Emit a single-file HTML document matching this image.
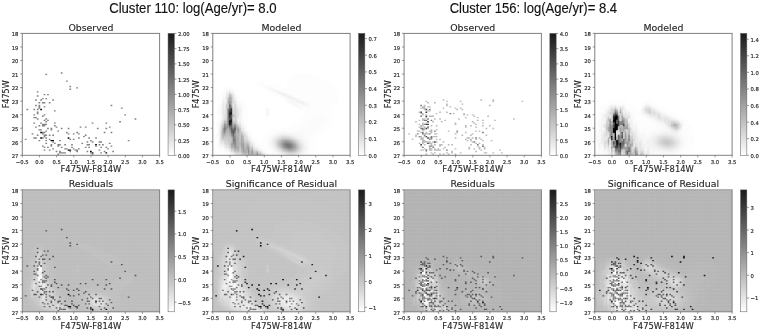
<!DOCTYPE html>
<html lang="en"><head><meta charset="utf-8"><title>CMD fits</title>
<style>html,body{margin:0;padding:0;background:#fff}svg{display:block;filter:blur(.42px)}</style></head>
<body>
<svg width="760" height="331" viewBox="0 0 760 331">
<defs>
<linearGradient id="cb" x1="0" y1="0" x2="0" y2="1"><stop offset="0" stop-color="#1a1a1a"/><stop offset="1" stop-color="#fff"/></linearGradient>
<pattern id="grid" width="1.72" height="1.36" patternUnits="userSpaceOnUse"><path d="M0 0H1.72M0 0V1.36" stroke="#fff" stroke-opacity=".22" stroke-width=".35" fill="none"/></pattern>
</defs>
<rect width="760" height="331" fill="#fff"/>
<text x="192.9" y="12.7" font-size="14.6" text-anchor="middle" font-family="'Liberation Sans', 'Liberation Sans', sans-serif" fill="#111" stroke="#111" stroke-width=".14" textLength="167.5" lengthAdjust="spacingAndGlyphs">Cluster 110: log(Age/yr)= 8.0</text>
<text x="533.4" y="12.7" font-size="14.6" text-anchor="middle" font-family="'Liberation Sans', 'Liberation Sans', sans-serif" fill="#111" stroke="#111" stroke-width=".14" textLength="167.5" lengthAdjust="spacingAndGlyphs">Cluster 156: log(Age/yr)= 8.4</text>
<g>
<clipPath id="c00"><rect x="22.3" y="33.4" width="137.3" height="121.9"/></clipPath>
<g clip-path="url(#c00)">
<path fill="#000000" d="M40.22 108.85h1.72v1.35h-1.72zM40.22 131.87h1.72v1.35h-1.72zM40.22 137.29h1.72v1.35h-1.72zM50.52 140h1.72v1.35h-1.72zM52.23 140h1.72v1.35h-1.72zM67.68 137.29h1.72v1.35h-1.72zM67.68 149.48h1.72v1.35h-1.72zM69.4 149.48h1.72v1.35h-1.72zM89.99 150.84h1.72v1.35h-1.72zM91.71 152.19h1.72v1.35h-1.72zM95.14 144.06h1.72v1.35h-1.72zM105.44 152.19h1.72v1.35h-1.72z"/>
<path fill="#828282" d="M24.77 138.65h1.72v1.35h-1.72zM26.49 108.85h1.72v1.35h-1.72zM31.64 133.23h1.72v1.35h-1.72zM33.36 108.85h1.72v1.35h-1.72zM33.36 114.27h1.72v1.35h-1.72zM33.36 116.98h1.72v1.35h-1.72zM33.36 122.39h1.72v1.35h-1.72zM33.36 137.29h1.72v1.35h-1.72zM35.07 99.37h1.72v1.35h-1.72zM35.07 104.79h1.72v1.35h-1.72zM35.07 116.98h1.72v1.35h-1.72zM35.07 126.46h1.72v1.35h-1.72zM35.07 137.29h1.72v1.35h-1.72zM36.79 91.24h1.72v1.35h-1.72zM36.79 95.3h1.72v1.35h-1.72zM36.79 108.85h1.72v1.35h-1.72zM36.79 111.56h1.72v2.71h-1.72zM36.79 118.33h1.72v1.35h-1.72zM36.79 134.58h1.72v1.35h-1.72zM38.5 102.08h1.72v1.35h-1.72zM38.5 104.79h1.72v4.06h-1.72zM38.5 125.1h1.72v1.35h-1.72zM38.5 129.17h1.72v1.35h-1.72zM38.5 140h1.72v1.35h-1.72zM40.22 99.37h1.72v1.35h-1.72zM40.22 122.39h1.72v1.35h-1.72zM40.22 129.17h1.72v1.35h-1.72zM41.94 98.01h1.72v1.35h-1.72zM41.94 102.08h1.72v1.35h-1.72zM41.94 115.62h1.72v1.35h-1.72zM41.94 123.75h1.72v2.71h-1.72zM41.94 131.87h1.72v2.71h-1.72zM41.94 137.29h1.72v1.35h-1.72zM41.94 145.42h1.72v1.35h-1.72zM43.65 93.95h1.72v1.35h-1.72zM43.65 102.08h1.72v1.35h-1.72zM43.65 106.14h1.72v1.35h-1.72zM43.65 114.27h1.72v1.35h-1.72zM43.65 119.68h1.72v1.35h-1.72zM43.65 123.75h1.72v2.71h-1.72zM43.65 131.87h1.72v1.35h-1.72zM43.65 134.58h1.72v2.71h-1.72zM43.65 146.77h1.72v1.35h-1.72zM43.65 149.48h1.72v1.35h-1.72zM45.37 73.63h1.72v1.35h-1.72zM45.37 98.01h1.72v1.35h-1.72zM45.37 118.33h1.72v1.35h-1.72zM45.37 121.04h1.72v1.35h-1.72zM45.37 123.75h1.72v1.35h-1.72zM45.37 130.52h1.72v1.35h-1.72zM45.37 134.58h1.72v1.35h-1.72zM45.37 137.29h1.72v1.35h-1.72zM45.37 140h1.72v1.35h-1.72zM45.37 142.71h1.72v1.35h-1.72zM47.09 93.95h1.72v1.35h-1.72zM47.09 119.68h1.72v1.35h-1.72zM47.09 127.81h1.72v1.35h-1.72zM47.09 146.77h1.72v1.35h-1.72zM48.8 102.08h1.72v1.35h-1.72zM48.8 134.58h1.72v1.35h-1.72zM48.8 138.65h1.72v1.35h-1.72zM48.8 149.48h1.72v1.35h-1.72zM50.52 127.81h1.72v2.71h-1.72zM50.52 144.06h1.72v2.71h-1.72zM52.23 99.37h1.72v1.35h-1.72zM52.23 134.58h1.72v1.35h-1.72zM52.23 141.36h1.72v1.35h-1.72zM52.23 148.13h1.72v1.35h-1.72zM53.95 110.2h1.72v1.35h-1.72zM53.95 122.39h1.72v1.35h-1.72zM53.95 125.1h1.72v1.35h-1.72zM53.95 142.71h1.72v1.35h-1.72zM55.67 126.46h1.72v1.35h-1.72zM55.67 150.84h1.72v1.35h-1.72zM57.38 130.52h1.72v1.35h-1.72zM57.38 144.06h1.72v2.71h-1.72zM57.38 153.55h1.72v1.35h-1.72zM59.1 140h1.72v1.35h-1.72zM59.1 144.06h1.72v1.35h-1.72zM59.1 150.84h1.72v2.71h-1.72zM60.82 72.28h1.72v1.35h-1.72zM60.82 127.81h1.72v1.35h-1.72zM60.82 146.77h1.72v1.35h-1.72zM60.82 152.19h1.72v1.35h-1.72zM62.53 152.19h1.72v1.35h-1.72zM64.25 144.06h1.72v1.35h-1.72zM64.25 148.13h1.72v1.35h-1.72zM64.25 152.19h1.72v1.35h-1.72zM65.96 80.41h1.72v1.35h-1.72zM65.96 131.87h1.72v1.35h-1.72zM65.96 148.13h1.72v1.35h-1.72zM67.68 127.81h1.72v1.35h-1.72zM67.68 133.23h1.72v1.35h-1.72zM69.4 85.82h1.72v1.35h-1.72zM69.4 88.53h1.72v1.35h-1.72zM69.4 138.65h1.72v1.35h-1.72zM69.4 150.84h1.72v1.35h-1.72zM71.11 144.06h1.72v1.35h-1.72zM71.11 146.77h1.72v1.35h-1.72zM72.83 133.23h1.72v1.35h-1.72zM72.83 138.65h1.72v1.35h-1.72zM72.83 148.13h1.72v1.35h-1.72zM74.55 149.48h1.72v1.35h-1.72zM76.26 87.18h1.72v1.35h-1.72zM76.26 131.87h1.72v1.35h-1.72zM76.26 149.48h1.72v2.71h-1.72zM77.98 133.23h1.72v1.35h-1.72zM77.98 137.29h1.72v1.35h-1.72zM77.98 148.13h1.72v1.35h-1.72zM79.69 126.46h1.72v1.35h-1.72zM81.41 142.71h1.72v1.35h-1.72zM83.13 135.94h1.72v1.35h-1.72zM84.84 126.46h1.72v1.35h-1.72zM84.84 134.58h1.72v1.35h-1.72zM84.84 146.77h1.72v1.35h-1.72zM86.56 141.36h1.72v1.35h-1.72zM86.56 144.06h1.72v1.35h-1.72zM86.56 150.84h1.72v1.35h-1.72zM88.28 137.29h1.72v1.35h-1.72zM88.28 144.06h1.72v1.35h-1.72zM88.28 146.77h1.72v1.35h-1.72zM89.99 140h1.72v1.35h-1.72zM89.99 152.19h1.72v1.35h-1.72zM91.71 122.39h1.72v1.35h-1.72zM91.71 141.36h1.72v1.35h-1.72zM91.71 153.55h1.72v1.35h-1.72zM95.14 137.29h1.72v1.35h-1.72zM95.14 145.42h1.72v1.35h-1.72zM96.86 127.81h1.72v1.35h-1.72zM98.57 141.36h1.72v1.35h-1.72zM98.57 144.06h1.72v1.35h-1.72zM98.57 149.48h1.72v1.35h-1.72zM100.29 141.36h1.72v1.35h-1.72zM100.29 146.77h1.72v1.35h-1.72zM100.29 152.19h1.72v1.35h-1.72zM102.01 144.06h1.72v1.35h-1.72zM103.72 131.87h1.72v1.35h-1.72zM103.72 150.84h1.72v1.35h-1.72zM105.44 122.39h1.72v1.35h-1.72zM105.44 127.81h1.72v1.35h-1.72zM105.44 146.77h1.72v1.35h-1.72zM107.15 148.13h1.72v1.35h-1.72zM108.87 126.46h1.72v1.35h-1.72zM108.87 142.71h1.72v1.35h-1.72zM110.59 104.79h1.72v1.35h-1.72zM110.59 131.87h1.72v1.35h-1.72zM110.59 145.42h1.72v1.35h-1.72zM112.3 150.84h1.72v1.35h-1.72zM119.17 121.04h1.72v1.35h-1.72zM120.88 107.49h1.72v1.35h-1.72zM124.32 114.27h1.72v1.35h-1.72zM127.75 140h1.72v1.35h-1.72zM134.61 118.33h1.72v1.35h-1.72z"/>
</g>
<rect x="22.3" y="33.4" width="137.3" height="121.9" fill="none" stroke="#808080" stroke-width="1"/>
<text x="22.3" y="163.6" font-size="5.3" text-anchor="middle" font-family="'DejaVu Sans', 'Liberation Sans', sans-serif" fill="#262626" stroke="#262626" stroke-width=".14">−0.5</text>
<text x="39.46" y="163.6" font-size="5.3" text-anchor="middle" font-family="'DejaVu Sans', 'Liberation Sans', sans-serif" fill="#262626" stroke="#262626" stroke-width=".14">0.0</text>
<text x="56.62" y="163.6" font-size="5.3" text-anchor="middle" font-family="'DejaVu Sans', 'Liberation Sans', sans-serif" fill="#262626" stroke="#262626" stroke-width=".14">0.5</text>
<text x="73.79" y="163.6" font-size="5.3" text-anchor="middle" font-family="'DejaVu Sans', 'Liberation Sans', sans-serif" fill="#262626" stroke="#262626" stroke-width=".14">1.0</text>
<text x="90.95" y="163.6" font-size="5.3" text-anchor="middle" font-family="'DejaVu Sans', 'Liberation Sans', sans-serif" fill="#262626" stroke="#262626" stroke-width=".14">1.5</text>
<text x="108.11" y="163.6" font-size="5.3" text-anchor="middle" font-family="'DejaVu Sans', 'Liberation Sans', sans-serif" fill="#262626" stroke="#262626" stroke-width=".14">2.0</text>
<text x="125.28" y="163.6" font-size="5.3" text-anchor="middle" font-family="'DejaVu Sans', 'Liberation Sans', sans-serif" fill="#262626" stroke="#262626" stroke-width=".14">2.5</text>
<text x="142.44" y="163.6" font-size="5.3" text-anchor="middle" font-family="'DejaVu Sans', 'Liberation Sans', sans-serif" fill="#262626" stroke="#262626" stroke-width=".14">3.0</text>
<text x="159.6" y="163.6" font-size="5.3" text-anchor="middle" font-family="'DejaVu Sans', 'Liberation Sans', sans-serif" fill="#262626" stroke="#262626" stroke-width=".14">3.5</text>
<text x="18.4" y="36.25" font-size="5.3" text-anchor="end" font-family="'DejaVu Sans', 'Liberation Sans', sans-serif" fill="#262626" stroke="#262626" stroke-width=".14">18</text>
<text x="18.4" y="49.79" font-size="5.3" text-anchor="end" font-family="'DejaVu Sans', 'Liberation Sans', sans-serif" fill="#262626" stroke="#262626" stroke-width=".14">19</text>
<text x="18.4" y="63.34" font-size="5.3" text-anchor="end" font-family="'DejaVu Sans', 'Liberation Sans', sans-serif" fill="#262626" stroke="#262626" stroke-width=".14">20</text>
<text x="18.4" y="76.88" font-size="5.3" text-anchor="end" font-family="'DejaVu Sans', 'Liberation Sans', sans-serif" fill="#262626" stroke="#262626" stroke-width=".14">21</text>
<text x="18.4" y="90.43" font-size="5.3" text-anchor="end" font-family="'DejaVu Sans', 'Liberation Sans', sans-serif" fill="#262626" stroke="#262626" stroke-width=".14">22</text>
<text x="18.4" y="103.97" font-size="5.3" text-anchor="end" font-family="'DejaVu Sans', 'Liberation Sans', sans-serif" fill="#262626" stroke="#262626" stroke-width=".14">23</text>
<text x="18.4" y="117.52" font-size="5.3" text-anchor="end" font-family="'DejaVu Sans', 'Liberation Sans', sans-serif" fill="#262626" stroke="#262626" stroke-width=".14">24</text>
<text x="18.4" y="131.06" font-size="5.3" text-anchor="end" font-family="'DejaVu Sans', 'Liberation Sans', sans-serif" fill="#262626" stroke="#262626" stroke-width=".14">25</text>
<text x="18.4" y="144.61" font-size="5.3" text-anchor="end" font-family="'DejaVu Sans', 'Liberation Sans', sans-serif" fill="#262626" stroke="#262626" stroke-width=".14">26</text>
<text x="18.4" y="158.15" font-size="5.3" text-anchor="end" font-family="'DejaVu Sans', 'Liberation Sans', sans-serif" fill="#262626" stroke="#262626" stroke-width=".14">27</text>
<path d="M22.3 155.3v2.1M39.46 155.3v2.1M56.62 155.3v2.1M73.79 155.3v2.1M90.95 155.3v2.1M108.11 155.3v2.1M125.28 155.3v2.1M142.44 155.3v2.1M159.6 155.3v2.1M22.3 33.4h-2.1M22.3 46.94h-2.1M22.3 60.49h-2.1M22.3 74.03h-2.1M22.3 87.58h-2.1M22.3 101.12h-2.1M22.3 114.67h-2.1M22.3 128.21h-2.1M22.3 141.76h-2.1M22.3 155.3h-2.1" stroke="#585858" stroke-width=".6" fill="none"/>
<text x="90.95" y="30.5" font-size="9.4" text-anchor="middle" font-family="'DejaVu Sans', 'Liberation Sans', sans-serif" fill="#262626" stroke="#262626" stroke-width=".14">Observed</text>
<text x="90.95" y="172.3" font-size="8.4" text-anchor="middle" font-family="'DejaVu Sans', 'Liberation Sans', sans-serif" fill="#262626" stroke="#262626" stroke-width=".14">F475W-F814W</text>
<text transform="translate(8.9 94.35) rotate(-90)" font-size="8.0" text-anchor="middle" font-family="'DejaVu Sans', 'Liberation Sans', sans-serif" fill="#262626" stroke="#262626" stroke-width=".14">F475W</text>
<rect x="168.05" y="33.4" width="6.3" height="121.9" fill="url(#cb)" stroke="#585858" stroke-width=".5"/>
<text x="177.95" y="157.8" font-size="5.3" text-anchor="start" font-family="'DejaVu Sans', 'Liberation Sans', sans-serif" fill="#262626" stroke="#262626" stroke-width=".14">0.00</text>
<text x="177.95" y="142.56" font-size="5.3" text-anchor="start" font-family="'DejaVu Sans', 'Liberation Sans', sans-serif" fill="#262626" stroke="#262626" stroke-width=".14">0.25</text>
<text x="177.95" y="127.33" font-size="5.3" text-anchor="start" font-family="'DejaVu Sans', 'Liberation Sans', sans-serif" fill="#262626" stroke="#262626" stroke-width=".14">0.50</text>
<text x="177.95" y="112.09" font-size="5.3" text-anchor="start" font-family="'DejaVu Sans', 'Liberation Sans', sans-serif" fill="#262626" stroke="#262626" stroke-width=".14">0.75</text>
<text x="177.95" y="96.85" font-size="5.3" text-anchor="start" font-family="'DejaVu Sans', 'Liberation Sans', sans-serif" fill="#262626" stroke="#262626" stroke-width=".14">1.00</text>
<text x="177.95" y="81.61" font-size="5.3" text-anchor="start" font-family="'DejaVu Sans', 'Liberation Sans', sans-serif" fill="#262626" stroke="#262626" stroke-width=".14">1.25</text>
<text x="177.95" y="66.38" font-size="5.3" text-anchor="start" font-family="'DejaVu Sans', 'Liberation Sans', sans-serif" fill="#262626" stroke="#262626" stroke-width=".14">1.50</text>
<text x="177.95" y="51.14" font-size="5.3" text-anchor="start" font-family="'DejaVu Sans', 'Liberation Sans', sans-serif" fill="#262626" stroke="#262626" stroke-width=".14">1.75</text>
<text x="177.95" y="35.9" font-size="5.3" text-anchor="start" font-family="'DejaVu Sans', 'Liberation Sans', sans-serif" fill="#262626" stroke="#262626" stroke-width=".14">2.00</text>
<path d="M174.35 155.3h2.1M174.35 140.06h2.1M174.35 124.83h2.1M174.35 109.59h2.1M174.35 94.35h2.1M174.35 79.11h2.1M174.35 63.88h2.1M174.35 48.64h2.1M174.35 33.4h2.1" stroke="#585858" stroke-width=".6" fill="none"/>
</g>
<g>
<clipPath id="c10"><rect x="212.8" y="33.4" width="137.3" height="121.9"/></clipPath>
<g clip-path="url(#c10)">
<defs><g id="sc10">
<path fill="#060606" stroke="#060606" d="M229 122.39h1.72v1.35h-1.72z"/>
<path fill="#0c0c0c" stroke="#0c0c0c" d="M229 121.04h1.72v1.35h-1.72z"/>
<path fill="#1a1a1a" stroke="#1a1a1a" d="M230.72 111.56h1.72v2.71h-1.72z"/>
<path fill="#1e1e1e" stroke="#1e1e1e" d="M230.72 119.68h1.72v1.35h-1.72z"/>
<path fill="#202020" stroke="#202020" d="M229 114.27h1.72v1.35h-1.72zM229 123.75h1.72v1.35h-1.72zM230.72 110.2h1.72v1.35h-1.72z"/>
<path fill="#222222" stroke="#222222" d="M229 112.91h1.72v1.35h-1.72z"/>
<path fill="#262626" stroke="#262626" d="M230.72 121.04h1.72v1.35h-1.72z"/>
<path fill="#2c2c2c" stroke="#2c2c2c" d="M229 115.62h1.72v1.35h-1.72z"/>
<path fill="#2e2e2e" stroke="#2e2e2e" d="M229 111.56h1.72v1.35h-1.72zM230.72 108.85h1.72v1.35h-1.72zM230.72 114.27h1.72v1.35h-1.72zM230.72 118.33h1.72v1.35h-1.72z"/>
<path fill="#303030" stroke="#303030" d="M229 119.68h1.72v1.35h-1.72z"/>
<path fill="#323232" stroke="#323232" d="M230.72 122.39h1.72v1.35h-1.72z"/>
<path fill="#444444" stroke="#444444" d="M229 110.2h1.72v1.35h-1.72zM229 116.98h1.72v1.35h-1.72z"/>
<path fill="#484848" stroke="#484848" d="M230.72 123.75h1.72v1.35h-1.72z"/>
<path fill="#4a4a4a" stroke="#4a4a4a" d="M229 125.1h1.72v1.35h-1.72z"/>
<path fill="#4c4c4c" stroke="#4c4c4c" d="M229 118.33h1.72v1.35h-1.72z"/>
<path fill="#525252" stroke="#525252" d="M230.72 107.49h1.72v1.35h-1.72zM230.72 129.17h1.72v1.35h-1.72z"/>
<path fill="#545454" stroke="#545454" d="M229 108.85h1.72v1.35h-1.72zM234.15 127.81h1.72v1.35h-1.72z"/>
<path fill="#565656" stroke="#565656" d="M232.44 131.87h1.72v1.35h-1.72zM234.15 129.17h1.72v1.35h-1.72z"/>
<path fill="#585858" stroke="#585858" d="M230.72 116.98h1.72v1.35h-1.72zM232.44 130.52h1.72v1.35h-1.72zM232.44 133.23h1.72v1.35h-1.72z"/>
<path fill="#5a5a5a" stroke="#5a5a5a" d="M230.72 115.62h1.72v1.35h-1.72z"/>
<path fill="#5c5c5c" stroke="#5c5c5c" d="M230.72 130.52h1.72v1.35h-1.72z"/>
<path fill="#5e5e5e" stroke="#5e5e5e" d="M230.72 125.1h1.72v1.35h-1.72zM230.72 127.81h1.72v1.35h-1.72z"/>
<path fill="#606060" stroke="#606060" d="M229 104.79h1.72v1.35h-1.72zM229 107.49h1.72v1.35h-1.72z"/>
<path fill="#626262" stroke="#626262" d="M229 106.14h1.72v1.35h-1.72z"/>
<path fill="#646464" stroke="#646464" d="M230.72 126.46h1.72v1.35h-1.72zM232.44 129.17h1.72v1.35h-1.72z"/>
<path fill="#666666" stroke="#666666" d="M232.44 134.58h1.72v1.35h-1.72zM234.15 126.46h1.72v1.35h-1.72z"/>
<path fill="#686868" stroke="#686868" d="M234.15 130.52h1.72v1.35h-1.72z"/>
<path fill="#6e6e6e" stroke="#6e6e6e" d="M229 126.46h1.72v1.35h-1.72z"/>
<path fill="#707070" stroke="#707070" d="M230.72 131.87h1.72v1.35h-1.72z"/>
<path fill="#727272" stroke="#727272" d="M229 103.43h1.72v1.35h-1.72zM232.44 135.94h1.72v1.35h-1.72z"/>
<path fill="#747474" stroke="#747474" d="M227.29 110.2h1.72v4.06h-1.72zM227.29 119.68h1.72v1.35h-1.72zM287.36 145.42h1.72v1.35h-1.72z"/>
<path fill="#767676" stroke="#767676" d="M227.29 114.27h1.72v5.42h-1.72zM227.29 121.04h1.72v1.35h-1.72zM287.36 144.06h1.72v1.35h-1.72z"/>
<path fill="#787878" stroke="#787878" d="M232.44 137.29h1.72v1.35h-1.72zM285.64 144.06h1.72v2.71h-1.72zM289.07 145.42h1.72v1.35h-1.72z"/>
<path fill="#7a7a7a" stroke="#7a7a7a" d="M223.86 127.81h1.72v2.71h-1.72zM227.29 122.39h1.72v1.35h-1.72zM234.15 131.87h1.72v1.35h-1.72zM289.07 144.06h1.72v1.35h-1.72z"/>
<path fill="#7c7c7c" stroke="#7c7c7c" d="M232.44 138.65h1.72v1.35h-1.72z"/>
<path fill="#7e7e7e" stroke="#7e7e7e" d="M232.44 140h1.72v1.35h-1.72zM234.15 138.65h1.72v2.71h-1.72zM287.36 146.77h1.72v1.35h-1.72zM289.07 146.77h1.72v1.35h-1.72z"/>
<path fill="#818181" stroke="#818181" d="M223.86 126.46h1.72v1.35h-1.72zM223.86 130.52h1.72v1.35h-1.72zM232.44 127.81h1.72v1.35h-1.72zM234.15 141.36h1.72v1.35h-1.72zM285.64 142.71h1.72v1.35h-1.72zM287.36 142.71h1.72v1.35h-1.72z"/>
<path fill="#838383" stroke="#838383" d="M227.29 108.85h1.72v1.35h-1.72zM227.29 123.75h1.72v1.35h-1.72zM230.72 133.23h1.72v1.35h-1.72zM256.46 153.55h1.72v1.35h-1.72zM283.92 144.06h1.72v1.35h-1.72zM290.79 145.42h1.72v1.35h-1.72z"/>
<path fill="#858585" stroke="#858585" d="M229 127.81h1.72v1.35h-1.72zM232.44 141.36h1.72v1.35h-1.72zM234.15 125.1h1.72v1.35h-1.72zM234.15 142.71h1.72v1.35h-1.72zM283.92 145.42h1.72v1.35h-1.72zM285.64 146.77h1.72v1.35h-1.72z"/>
<path fill="#878787" stroke="#878787" d="M230.72 106.14h1.72v1.35h-1.72zM234.15 137.29h1.72v1.35h-1.72zM283.92 142.71h1.72v1.35h-1.72zM289.07 142.71h1.72v1.35h-1.72zM290.79 144.06h1.72v1.35h-1.72zM290.79 146.77h1.72v1.35h-1.72z"/>
<path fill="#8b8b8b" stroke="#8b8b8b" d="M223.86 125.1h1.72v1.35h-1.72zM223.86 131.87h1.72v1.35h-1.72zM227.29 125.1h1.72v1.35h-1.72zM234.15 144.06h1.72v1.35h-1.72z"/>
<path fill="#8d8d8d" stroke="#8d8d8d" d="M234.15 133.23h1.72v1.35h-1.72zM247.88 149.48h1.72v2.71h-1.72zM289.07 148.13h1.72v1.35h-1.72z"/>
<path fill="#8f8f8f" stroke="#8f8f8f" d="M232.44 142.71h1.72v1.35h-1.72zM234.15 145.42h1.72v1.35h-1.72zM287.36 148.13h1.72v1.35h-1.72z"/>
<path fill="#919191" stroke="#919191" d="M225.57 127.81h1.72v1.35h-1.72zM229 102.08h1.72v1.35h-1.72zM229 129.17h1.72v1.35h-1.72zM247.88 152.19h1.72v1.35h-1.72zM282.21 144.06h1.72v1.35h-1.72zM283.92 146.77h1.72v1.35h-1.72zM285.64 141.36h1.72v1.35h-1.72zM287.36 141.36h1.72v1.35h-1.72zM292.51 145.42h1.72v1.35h-1.72z"/>
<path fill="#939393" stroke="#939393" d="M230.72 134.58h1.72v1.35h-1.72zM234.15 135.94h1.72v1.35h-1.72zM237.59 130.52h1.72v1.35h-1.72zM247.88 148.13h1.72v1.35h-1.72zM290.79 142.71h1.72v1.35h-1.72zM290.79 148.13h1.72v1.35h-1.72zM292.51 146.77h1.72v1.35h-1.72z"/>
<path fill="#959595" stroke="#959595" d="M225.57 126.46h1.72v1.35h-1.72zM232.44 126.46h1.72v1.35h-1.72zM237.59 129.17h1.72v1.35h-1.72zM282.21 142.71h1.72v1.35h-1.72zM283.92 141.36h1.72v1.35h-1.72z"/>
<path fill="#979797" stroke="#979797" d="M227.29 126.46h1.72v1.35h-1.72zM234.15 134.58h1.72v1.35h-1.72zM234.15 146.77h1.72v1.35h-1.72zM247.88 153.55h1.72v1.35h-1.72zM251.32 152.19h1.72v2.71h-1.72zM282.21 145.42h1.72v1.35h-1.72zM285.64 148.13h1.72v1.35h-1.72zM292.51 144.06h1.72v1.35h-1.72z"/>
<path fill="#999999" stroke="#999999" d="M223.86 123.75h1.72v1.35h-1.72zM225.57 129.17h1.72v1.35h-1.72zM242.73 145.42h1.72v2.71h-1.72zM256.46 152.19h1.72v1.35h-1.72zM289.07 141.36h1.72v1.35h-1.72z"/>
<path fill="#9b9b9b" stroke="#9b9b9b" d="M222.14 129.17h1.72v1.35h-1.72zM229 130.52h1.72v1.35h-1.72zM242.73 148.13h1.72v1.35h-1.72zM251.32 150.84h1.72v1.35h-1.72z"/>
<path fill="#9d9d9d" stroke="#9d9d9d" d="M222.14 130.52h1.72v1.35h-1.72zM223.86 133.23h1.72v1.35h-1.72zM225.57 125.1h1.72v1.35h-1.72zM232.44 144.06h1.72v1.35h-1.72zM242.73 144.06h1.72v1.35h-1.72zM247.88 146.77h1.72v1.35h-1.72zM292.51 148.13h1.72v1.35h-1.72z"/>
<path fill="#9f9f9f" stroke="#9f9f9f" d="M242.73 149.48h1.72v1.35h-1.72zM282.21 141.36h1.72v1.35h-1.72z"/>
<path fill="#a1a1a1" stroke="#a1a1a1" d="M230.72 144.06h1.72v1.35h-1.72zM232.44 125.1h1.72v1.35h-1.72zM234.15 148.13h1.72v1.35h-1.72zM237.59 131.87h1.72v1.35h-1.72zM282.21 146.77h1.72v1.35h-1.72z"/>
<path fill="#a3a3a3" stroke="#a3a3a3" d="M222.14 127.81h1.72v1.35h-1.72zM222.14 131.87h1.72v1.35h-1.72zM227.29 107.49h1.72v1.35h-1.72zM229 100.72h1.72v1.35h-1.72zM230.72 104.79h1.72v1.35h-1.72zM230.72 135.94h1.72v1.35h-1.72zM242.73 142.71h1.72v1.35h-1.72zM283.92 148.13h1.72v1.35h-1.72zM289.07 149.48h1.72v1.35h-1.72zM292.51 142.71h1.72v1.35h-1.72zM294.22 145.42h1.72v1.35h-1.72z"/>
<path fill="#a5a5a5" stroke="#a5a5a5" d="M229 96.66h1.72v1.35h-1.72zM229 131.87h1.72v1.35h-1.72zM234.15 123.75h1.72v1.35h-1.72zM237.59 148.13h1.72v1.35h-1.72zM241.02 138.65h1.72v1.35h-1.72zM241.02 144.06h1.72v2.71h-1.72zM251.32 149.48h1.72v1.35h-1.72zM280.49 142.71h1.72v2.71h-1.72zM285.64 140h1.72v1.35h-1.72zM287.36 149.48h1.72v1.35h-1.72zM290.79 141.36h1.72v1.35h-1.72zM290.79 149.48h1.72v1.35h-1.72zM294.22 146.77h1.72v1.35h-1.72z"/>
<path fill="#a7a7a7" stroke="#a7a7a7" d="M223.86 122.39h1.72v1.35h-1.72zM227.29 100.72h1.72v1.35h-1.72zM229 98.01h1.72v1.35h-1.72zM230.72 142.71h1.72v1.35h-1.72zM230.72 145.42h1.72v1.35h-1.72zM235.87 126.46h1.72v2.71h-1.72zM235.87 144.06h1.72v2.71h-1.72zM237.59 146.77h1.72v1.35h-1.72zM241.02 137.29h1.72v1.35h-1.72zM241.02 140h1.72v1.35h-1.72zM241.02 142.71h1.72v1.35h-1.72zM241.02 146.77h1.72v1.35h-1.72zM242.73 150.84h1.72v1.35h-1.72zM246.17 146.77h1.72v2.71h-1.72zM283.92 140h1.72v1.35h-1.72zM287.36 140h1.72v1.35h-1.72z"/>
<path fill="#a9a9a9" stroke="#a9a9a9" d="M225.57 123.75h1.72v1.35h-1.72zM225.57 130.52h1.72v1.35h-1.72zM227.29 127.81h1.72v1.35h-1.72zM232.44 145.42h1.72v1.35h-1.72zM235.87 137.29h1.72v2.71h-1.72zM235.87 142.71h1.72v1.35h-1.72zM237.59 127.81h1.72v1.35h-1.72zM241.02 141.36h1.72v1.35h-1.72zM244.45 150.84h1.72v2.71h-1.72zM247.88 145.42h1.72v1.35h-1.72zM280.49 145.42h1.72v1.35h-1.72zM294.22 144.06h1.72v1.35h-1.72z"/>
<path fill="#ababab" stroke="#ababab" d="M222.14 133.23h1.72v1.35h-1.72zM227.29 102.08h1.72v1.35h-1.72zM229 99.37h1.72v1.35h-1.72zM230.72 103.43h1.72v1.35h-1.72zM235.87 140h1.72v2.71h-1.72zM235.87 146.77h1.72v1.35h-1.72zM237.59 149.48h1.72v1.35h-1.72zM241.02 135.94h1.72v1.35h-1.72zM241.02 148.13h1.72v1.35h-1.72zM242.73 141.36h1.72v1.35h-1.72zM285.64 149.48h1.72v1.35h-1.72zM294.22 148.13h1.72v1.35h-1.72z"/>
<path fill="#adadad" stroke="#adadad" d="M232.44 123.75h1.72v1.35h-1.72zM235.87 129.17h1.72v1.35h-1.72zM235.87 135.94h1.72v1.35h-1.72zM237.59 133.23h1.72v1.35h-1.72zM237.59 145.42h1.72v1.35h-1.72zM246.17 145.42h1.72v1.35h-1.72zM246.17 149.48h1.72v1.35h-1.72zM280.49 141.36h1.72v1.35h-1.72zM292.51 149.48h1.72v1.35h-1.72z"/>
<path fill="#afafaf" stroke="#afafaf" d="M229 95.3h1.72v1.35h-1.72zM229 133.23h1.72v1.35h-1.72zM230.72 100.72h1.72v2.71h-1.72zM234.15 149.48h1.72v1.35h-1.72zM235.87 125.1h1.72v1.35h-1.72zM241.02 149.48h1.72v1.35h-1.72zM244.45 153.55h1.72v1.35h-1.72zM282.21 140h1.72v1.35h-1.72zM289.07 140h1.72v1.35h-1.72z"/>
<path fill="#b1b1b1" stroke="#b1b1b1" d="M222.14 134.58h1.72v1.35h-1.72zM227.29 129.17h1.72v1.35h-1.72zM230.72 99.37h1.72v1.35h-1.72zM230.72 146.77h1.72v1.35h-1.72zM235.87 148.13h1.72v1.35h-1.72zM237.59 134.58h1.72v1.35h-1.72zM237.59 137.29h1.72v5.42h-1.72zM244.45 149.48h1.72v1.35h-1.72zM282.21 148.13h1.72v1.35h-1.72z"/>
<path fill="#b3b3b3" stroke="#b3b3b3" d="M222.14 126.46h1.72v1.35h-1.72zM223.86 134.58h1.72v1.35h-1.72zM232.44 146.77h1.72v1.35h-1.72zM237.59 135.94h1.72v1.35h-1.72zM237.59 142.71h1.72v2.71h-1.72zM241.02 134.58h1.72v1.35h-1.72zM242.73 152.19h1.72v1.35h-1.72zM251.32 148.13h1.72v1.35h-1.72zM259.9 153.55h1.72v1.35h-1.72zM280.49 146.77h1.72v1.35h-1.72zM292.51 141.36h1.72v1.35h-1.72z"/>
<path fill="#b5b5b5" stroke="#b5b5b5" d="M225.57 122.39h1.72v1.35h-1.72zM225.57 131.87h1.72v1.35h-1.72zM227.29 99.37h1.72v1.35h-1.72zM227.29 130.52h1.72v1.35h-1.72zM230.72 98.01h1.72v1.35h-1.72zM230.72 137.29h1.72v1.35h-1.72zM230.72 141.36h1.72v1.35h-1.72zM235.87 130.52h1.72v1.35h-1.72zM235.87 134.58h1.72v1.35h-1.72zM239.3 142.71h1.72v2.71h-1.72zM241.02 150.84h1.72v1.35h-1.72zM246.17 144.06h1.72v1.35h-1.72zM246.17 150.84h1.72v1.35h-1.72zM254.75 153.55h1.72v1.35h-1.72zM294.22 142.71h1.72v1.35h-1.72z"/>
<path fill="#b7b7b7" stroke="#b7b7b7" d="M222.14 135.94h1.72v1.35h-1.72zM229 134.58h1.72v1.35h-1.72zM232.44 122.39h1.72v1.35h-1.72zM242.73 140h1.72v1.35h-1.72zM249.6 152.19h1.72v1.35h-1.72zM278.78 142.71h1.72v2.71h-1.72zM283.92 149.48h1.72v1.35h-1.72zM289.07 150.84h1.72v1.35h-1.72zM294.22 149.48h1.72v1.35h-1.72zM295.94 145.42h1.72v2.71h-1.72z"/>
<path fill="#b9b9b9" stroke="#b9b9b9" d="M223.86 121.04h1.72v1.35h-1.72zM225.57 133.23h1.72v1.35h-1.72zM227.29 131.87h1.72v1.35h-1.72zM232.44 115.62h1.72v1.35h-1.72zM235.87 131.87h1.72v2.71h-1.72zM237.59 150.84h1.72v1.35h-1.72zM244.45 148.13h1.72v1.35h-1.72zM246.17 152.19h1.72v1.35h-1.72zM247.88 144.06h1.72v1.35h-1.72zM249.6 150.84h1.72v1.35h-1.72zM249.6 153.55h1.72v1.35h-1.72zM256.46 150.84h1.72v1.35h-1.72zM280.49 140h1.72v1.35h-1.72zM290.79 140h1.72v1.35h-1.72zM290.79 150.84h1.72v1.35h-1.72z"/>
<path fill="#bbbbbb" stroke="#bbbbbb" d="M227.29 103.43h1.72v1.35h-1.72zM234.15 122.39h1.72v1.35h-1.72zM235.87 149.48h1.72v1.35h-1.72zM237.59 126.46h1.72v1.35h-1.72zM239.3 141.36h1.72v1.35h-1.72zM244.45 146.77h1.72v1.35h-1.72zM283.92 138.65h1.72v1.35h-1.72zM285.64 138.65h1.72v1.35h-1.72zM287.36 150.84h1.72v1.35h-1.72zM295.94 148.13h1.72v1.35h-1.72z"/>
<path fill="#bdbdbd" stroke="#bdbdbd" d="M227.29 106.14h1.72v1.35h-1.72zM230.72 96.66h1.72v1.35h-1.72zM232.44 114.27h1.72v1.35h-1.72zM232.44 148.13h1.72v1.35h-1.72zM235.87 123.75h1.72v1.35h-1.72zM239.3 145.42h1.72v1.35h-1.72zM241.02 133.23h1.72v1.35h-1.72zM241.02 152.19h1.72v1.35h-1.72zM242.73 138.65h1.72v1.35h-1.72zM244.45 145.42h1.72v1.35h-1.72zM253.03 153.55h1.72v1.35h-1.72zM254.75 152.19h1.72v1.35h-1.72zM278.78 141.36h1.72v1.35h-1.72zM278.78 145.42h1.72v1.35h-1.72zM287.36 138.65h1.72v1.35h-1.72zM292.51 150.84h1.72v1.35h-1.72zM295.94 144.06h1.72v1.35h-1.72z"/>
<path fill="#bfbfbf" stroke="#bfbfbf" d="M222.14 137.29h1.72v1.35h-1.72zM225.57 134.58h1.72v1.35h-1.72zM227.29 133.23h1.72v1.35h-1.72zM230.72 138.65h1.72v2.71h-1.72zM230.72 148.13h1.72v1.35h-1.72zM242.73 137.29h1.72v1.35h-1.72zM246.17 142.71h1.72v1.35h-1.72zM246.17 153.55h1.72v1.35h-1.72zM249.6 149.48h1.72v1.35h-1.72zM253.03 152.19h1.72v1.35h-1.72zM258.18 153.55h1.72v1.35h-1.72zM282.21 138.65h1.72v1.35h-1.72z"/>
<path fill="#c1c1c1" stroke="#c1c1c1" d="M225.57 121.04h1.72v1.35h-1.72zM227.29 134.58h1.72v1.35h-1.72zM229 93.95h1.72v1.35h-1.72zM229 135.94h1.72v1.35h-1.72zM234.15 150.84h1.72v1.35h-1.72zM239.3 140h1.72v1.35h-1.72zM244.45 144.06h1.72v1.35h-1.72zM280.49 148.13h1.72v1.35h-1.72zM285.64 150.84h1.72v1.35h-1.72zM294.22 141.36h1.72v1.35h-1.72z"/>
<path fill="#c3c3c3" stroke="#c3c3c3" d="M222.14 125.1h1.72v1.35h-1.72zM223.86 135.94h1.72v1.35h-1.72zM227.29 135.94h1.72v1.35h-1.72zM239.3 137.29h1.72v2.71h-1.72zM239.3 146.77h1.72v1.35h-1.72zM242.73 135.94h1.72v1.35h-1.72zM282.21 149.48h1.72v1.35h-1.72zM289.07 138.65h1.72v1.35h-1.72zM292.51 140h1.72v1.35h-1.72zM295.94 149.48h1.72v1.35h-1.72z"/>
<path fill="#c5c5c5" stroke="#c5c5c5" d="M225.57 135.94h1.72v1.35h-1.72zM227.29 104.79h1.72v1.35h-1.72zM229 137.29h1.72v2.71h-1.72zM232.44 121.04h1.72v1.35h-1.72zM235.87 150.84h1.72v1.35h-1.72zM239.3 133.23h1.72v4.06h-1.72zM251.32 146.77h1.72v1.35h-1.72zM253.03 150.84h1.72v1.35h-1.72zM278.78 140h1.72v1.35h-1.72zM278.78 146.77h1.72v1.35h-1.72zM294.22 150.84h1.72v1.35h-1.72zM295.94 142.71h1.72v1.35h-1.72z"/>
<path fill="#c7c7c7" stroke="#c7c7c7" d="M227.29 98.01h1.72v1.35h-1.72zM227.29 137.29h1.72v1.35h-1.72zM229 140h1.72v1.35h-1.72zM230.72 95.3h1.72v1.35h-1.72zM239.3 129.17h1.72v4.06h-1.72zM239.3 148.13h1.72v1.35h-1.72zM242.73 153.55h1.72v1.35h-1.72zM244.45 142.71h1.72v1.35h-1.72zM246.17 141.36h1.72v1.35h-1.72zM247.88 142.71h1.72v1.35h-1.72zM249.6 148.13h1.72v1.35h-1.72zM280.49 138.65h1.72v1.35h-1.72zM297.65 146.77h1.72v1.35h-1.72z"/>
<path fill="#c9c9c9" stroke="#c9c9c9" d="M220.42 133.23h1.72v1.35h-1.72zM223.86 137.29h1.72v1.35h-1.72zM225.57 137.29h1.72v1.35h-1.72zM227.29 138.65h1.72v1.35h-1.72zM229 141.36h1.72v1.35h-1.72zM234.15 121.04h1.72v1.35h-1.72zM235.87 122.39h1.72v1.35h-1.72zM237.59 152.19h1.72v1.35h-1.72zM239.3 127.81h1.72v1.35h-1.72zM241.02 131.87h1.72v1.35h-1.72zM241.02 153.55h1.72v1.35h-1.72zM254.75 150.84h1.72v1.35h-1.72zM277.06 142.71h1.72v2.71h-1.72zM297.65 145.42h1.72v1.35h-1.72z"/>
<path fill="#cbcbcb" stroke="#cbcbcb" d="M220.42 134.58h1.72v1.35h-1.72zM222.14 138.65h1.72v1.35h-1.72zM225.57 104.79h1.72v4.06h-1.72zM225.57 119.68h1.72v1.35h-1.72zM229 142.71h1.72v2.71h-1.72zM232.44 149.48h1.72v1.35h-1.72zM239.3 149.48h1.72v1.35h-1.72zM242.73 134.58h1.72v1.35h-1.72zM244.45 141.36h1.72v1.35h-1.72zM277.06 141.36h1.72v1.35h-1.72zM283.92 150.84h1.72v1.35h-1.72zM290.79 138.65h1.72v1.35h-1.72zM297.65 148.13h1.72v1.35h-1.72z"/>
<path fill="#cdcdcd" stroke="#cdcdcd" d="M220.42 131.87h1.72v1.35h-1.72zM220.42 135.94h1.72v1.35h-1.72zM222.14 123.75h1.72v1.35h-1.72zM223.86 119.68h1.72v1.35h-1.72zM223.86 138.65h1.72v1.35h-1.72zM225.57 138.65h1.72v1.35h-1.72zM227.29 140h1.72v1.35h-1.72zM229 145.42h1.72v1.35h-1.72zM237.59 125.1h1.72v1.35h-1.72zM258.18 152.19h1.72v1.35h-1.72zM259.9 152.19h1.72v1.35h-1.72zM289.07 152.19h1.72v1.35h-1.72zM290.79 152.19h1.72v1.35h-1.72zM297.65 144.06h1.72v1.35h-1.72z"/>
<path fill="#cfcfcf" stroke="#cfcfcf" d="M225.57 108.85h1.72v1.35h-1.72zM227.29 141.36h1.72v1.35h-1.72zM230.72 149.48h1.72v1.35h-1.72zM232.44 116.98h1.72v1.35h-1.72zM232.44 119.68h1.72v1.35h-1.72zM234.15 110.2h1.72v6.77h-1.72zM239.3 150.84h1.72v1.35h-1.72zM249.6 146.77h1.72v1.35h-1.72zM253.03 149.48h1.72v1.35h-1.72zM277.06 145.42h1.72v1.35h-1.72zM278.78 138.65h1.72v1.35h-1.72zM283.92 137.29h1.72v1.35h-1.72zM285.64 137.29h1.72v1.35h-1.72zM287.36 152.19h1.72v1.35h-1.72zM292.51 152.19h1.72v1.35h-1.72zM294.22 140h1.72v1.35h-1.72zM295.94 141.36h1.72v1.35h-1.72zM295.94 150.84h1.72v1.35h-1.72z"/>
<path fill="#d1d1d1" stroke="#d1d1d1" d="M220.42 130.52h1.72v1.35h-1.72zM220.42 137.29h1.72v1.35h-1.72zM223.86 140h1.72v1.35h-1.72zM225.57 118.33h1.72v1.35h-1.72zM225.57 140h1.72v1.35h-1.72zM234.15 108.85h1.72v1.35h-1.72zM234.15 116.98h1.72v1.35h-1.72zM234.15 119.68h1.72v1.35h-1.72zM235.87 121.04h1.72v1.35h-1.72zM239.3 126.46h1.72v1.35h-1.72zM277.06 140h1.72v1.35h-1.72zM278.78 148.13h1.72v1.35h-1.72zM280.49 149.48h1.72v1.35h-1.72zM282.21 137.29h1.72v1.35h-1.72zM287.36 137.29h1.72v1.35h-1.72zM297.65 149.48h1.72v1.35h-1.72z"/>
<path fill="#d3d3d3" stroke="#d3d3d3" d="M222.14 122.39h1.72v1.35h-1.72zM225.57 103.43h1.72v1.35h-1.72zM225.57 110.2h1.72v1.35h-1.72zM225.57 141.36h1.72v1.35h-1.72zM227.29 96.66h1.72v1.35h-1.72zM227.29 142.71h1.72v1.35h-1.72zM229 92.6h1.72v1.35h-1.72zM229 146.77h1.72v1.35h-1.72zM234.15 107.49h1.72v1.35h-1.72zM234.15 118.33h1.72v1.35h-1.72zM235.87 152.19h1.72v1.35h-1.72zM244.45 140h1.72v1.35h-1.72zM246.17 140h1.72v1.35h-1.72zM247.88 141.36h1.72v1.35h-1.72zM292.51 138.65h1.72v1.35h-1.72zM294.22 152.19h1.72v1.35h-1.72z"/>
<path fill="#d5d5d5" stroke="#d5d5d5" d="M220.42 129.17h1.72v1.35h-1.72zM220.42 138.65h1.72v1.35h-1.72zM223.86 141.36h1.72v1.35h-1.72zM225.57 111.56h1.72v6.77h-1.72zM225.57 142.71h1.72v1.35h-1.72zM230.72 93.95h1.72v1.35h-1.72zM232.44 112.91h1.72v1.35h-1.72zM234.15 152.19h1.72v1.35h-1.72zM239.3 152.19h1.72v1.35h-1.72zM241.02 130.52h1.72v1.35h-1.72zM242.73 133.23h1.72v1.35h-1.72zM251.32 145.42h1.72v1.35h-1.72zM277.06 146.77h1.72v1.35h-1.72zM280.49 137.29h1.72v1.35h-1.72zM282.21 150.84h1.72v1.35h-1.72zM285.64 152.19h1.72v1.35h-1.72zM289.07 137.29h1.72v1.35h-1.72zM297.65 142.71h1.72v1.35h-1.72z"/>
<path fill="#d7d7d7" stroke="#d7d7d7" d="M225.57 144.06h1.72v1.35h-1.72zM227.29 144.06h1.72v1.35h-1.72zM232.44 118.33h1.72v1.35h-1.72zM234.15 106.14h1.72v1.35h-1.72zM235.87 119.68h1.72v1.35h-1.72zM249.6 145.42h1.72v1.35h-1.72zM256.46 149.48h1.72v1.35h-1.72zM261.61 153.55h1.72v1.35h-1.72zM275.34 142.71h1.72v1.35h-1.72zM299.37 146.77h1.72v1.35h-1.72z"/>
<path fill="#d9d9d9" stroke="#d9d9d9" d="M220.42 127.81h1.72v1.35h-1.72zM232.44 150.84h1.72v1.35h-1.72zM234.15 104.79h1.72v1.35h-1.72zM235.87 115.62h1.72v4.06h-1.72zM237.59 153.55h1.72v1.35h-1.72zM244.45 138.65h1.72v1.35h-1.72zM275.34 141.36h1.72v1.35h-1.72zM275.34 144.06h1.72v1.35h-1.72zM277.06 138.65h1.72v1.35h-1.72zM297.65 150.84h1.72v1.35h-1.72zM299.37 145.42h1.72v1.35h-1.72zM299.37 148.13h1.72v1.35h-1.72z"/>
<path fill="#dbdbdb" stroke="#dbdbdb" d="M220.42 126.46h1.72v1.35h-1.72zM220.42 140h1.72v1.35h-1.72zM222.14 121.04h1.72v1.35h-1.72zM222.14 140h1.72v1.35h-1.72zM223.86 118.33h1.72v1.35h-1.72zM223.86 142.71h1.72v1.35h-1.72zM227.29 95.3h1.72v1.35h-1.72zM232.44 100.72h1.72v2.71h-1.72zM232.44 110.2h1.72v1.35h-1.72zM235.87 114.27h1.72v1.35h-1.72zM239.3 125.1h1.72v1.35h-1.72zM246.17 138.65h1.72v1.35h-1.72zM253.03 148.13h1.72v1.35h-1.72zM254.75 149.48h1.72v1.35h-1.72zM278.78 137.29h1.72v1.35h-1.72zM283.92 152.19h1.72v1.35h-1.72zM290.79 137.29h1.72v1.35h-1.72zM295.94 140h1.72v1.35h-1.72zM295.94 152.19h1.72v1.35h-1.72zM299.37 144.06h1.72v1.35h-1.72z"/>
<path fill="#dddddd" stroke="#dddddd" d="M225.57 145.42h1.72v1.35h-1.72zM229 148.13h1.72v1.35h-1.72zM230.72 150.84h1.72v1.35h-1.72zM232.44 108.85h1.72v1.35h-1.72zM232.44 111.56h1.72v1.35h-1.72zM234.15 103.43h1.72v1.35h-1.72zM235.87 112.91h1.72v1.35h-1.72zM237.59 123.75h1.72v1.35h-1.72zM244.45 134.58h1.72v4.06h-1.72zM249.6 144.06h1.72v1.35h-1.72zM275.34 140h1.72v1.35h-1.72zM275.34 145.42h1.72v1.35h-1.72zM278.78 149.48h1.72v1.35h-1.72zM280.49 150.84h1.72v1.35h-1.72zM289.07 153.55h1.72v1.35h-1.72zM290.79 153.55h1.72v1.35h-1.72zM294.22 138.65h1.72v1.35h-1.72zM297.65 141.36h1.72v1.35h-1.72zM299.37 149.48h1.72v1.35h-1.72z"/>
<path fill="#dfdfdf" stroke="#dfdfdf" d="M220.42 125.1h1.72v1.35h-1.72zM227.29 145.42h1.72v1.35h-1.72zM232.44 96.66h1.72v1.35h-1.72zM232.44 99.37h1.72v1.35h-1.72zM232.44 107.49h1.72v1.35h-1.72zM235.87 110.2h1.72v2.71h-1.72zM239.3 153.55h1.72v1.35h-1.72zM246.17 137.29h1.72v1.35h-1.72zM247.88 140h1.72v1.35h-1.72zM249.6 142.71h1.72v1.35h-1.72zM258.18 150.84h1.72v1.35h-1.72zM263.33 153.55h1.72v1.35h-1.72zM277.06 148.13h1.72v1.35h-1.72zM282.21 135.94h1.72v1.35h-1.72zM283.92 135.94h1.72v1.35h-1.72zM285.64 135.94h1.72v1.35h-1.72zM287.36 153.55h1.72v1.35h-1.72zM292.51 153.55h1.72v1.35h-1.72z"/>
<path fill="#e1e1e1" stroke="#e1e1e1" d="M220.42 141.36h1.72v1.35h-1.72zM222.14 119.68h1.72v1.35h-1.72zM223.86 116.98h1.72v1.35h-1.72zM232.44 98.01h1.72v1.35h-1.72zM234.15 102.08h1.72v1.35h-1.72zM235.87 108.85h1.72v1.35h-1.72zM241.02 129.17h1.72v1.35h-1.72zM242.73 131.87h1.72v1.35h-1.72zM244.45 133.23h1.72v1.35h-1.72zM259.9 150.84h1.72v1.35h-1.72zM280.49 135.94h1.72v1.35h-1.72zM287.36 135.94h1.72v1.35h-1.72zM292.51 137.29h1.72v1.35h-1.72zM294.22 153.55h1.72v1.35h-1.72zM297.65 152.19h1.72v1.35h-1.72zM299.37 142.71h1.72v1.35h-1.72zM299.37 150.84h1.72v1.35h-1.72z"/>
<path fill="#e3e3e3" stroke="#e3e3e3" d="M220.42 123.75h1.72v1.35h-1.72zM223.86 112.91h1.72v4.06h-1.72zM223.86 144.06h1.72v1.35h-1.72zM225.57 98.01h1.72v1.35h-1.72zM225.57 102.08h1.72v1.35h-1.72zM227.29 93.95h1.72v1.35h-1.72zM229 91.24h1.72v1.35h-1.72zM232.44 95.3h1.72v1.35h-1.72zM232.44 103.43h1.72v1.35h-1.72zM232.44 106.14h1.72v1.35h-1.72zM234.15 153.55h1.72v1.35h-1.72zM235.87 107.49h1.72v1.35h-1.72zM235.87 153.55h1.72v1.35h-1.72zM239.3 123.75h1.72v1.35h-1.72zM246.17 135.94h1.72v1.35h-1.72zM251.32 144.06h1.72v1.35h-1.72zM275.34 138.65h1.72v1.35h-1.72zM275.34 146.77h1.72v1.35h-1.72zM277.06 137.29h1.72v1.35h-1.72zM282.21 152.19h1.72v1.35h-1.72zM285.64 153.55h1.72v1.35h-1.72zM289.07 135.94h1.72v1.35h-1.72zM301.09 146.77h1.72v2.71h-1.72z"/>
<path fill="#e5e5e5" stroke="#e5e5e5" d="M222.14 141.36h1.72v1.35h-1.72zM225.57 96.66h1.72v1.35h-1.72zM225.57 146.77h1.72v1.35h-1.72zM227.29 146.77h1.72v1.35h-1.72zM232.44 104.79h1.72v1.35h-1.72zM232.44 152.19h1.72v1.35h-1.72zM234.15 100.72h1.72v1.35h-1.72zM235.87 106.14h1.72v1.35h-1.72zM237.59 111.56h1.72v5.42h-1.72zM249.6 141.36h1.72v1.35h-1.72zM253.03 146.77h1.72v1.35h-1.72zM273.63 141.36h1.72v4.06h-1.72zM278.78 135.94h1.72v1.35h-1.72zM295.94 138.65h1.72v1.35h-1.72zM295.94 153.55h1.72v1.35h-1.72zM297.65 140h1.72v1.35h-1.72zM301.09 145.42h1.72v1.35h-1.72z"/>
<path fill="#e7e7e7" stroke="#e7e7e7" d="M220.42 142.71h1.72v1.35h-1.72zM222.14 107.49h1.72v8.13h-1.72zM222.14 118.33h1.72v1.35h-1.72zM223.86 111.56h1.72v1.35h-1.72zM229 149.48h1.72v1.35h-1.72zM230.72 92.6h1.72v1.35h-1.72zM235.87 104.79h1.72v1.35h-1.72zM237.59 110.2h1.72v1.35h-1.72zM241.02 127.81h1.72v1.35h-1.72zM242.73 130.52h1.72v1.35h-1.72zM247.88 138.65h1.72v1.35h-1.72zM254.75 148.13h1.72v1.35h-1.72zM261.61 152.19h1.72v1.35h-1.72zM273.63 140h1.72v1.35h-1.72zM277.06 149.48h1.72v1.35h-1.72zM278.78 150.84h1.72v1.35h-1.72zM290.79 135.94h1.72v1.35h-1.72zM294.22 137.29h1.72v1.35h-1.72zM299.37 141.36h1.72v1.35h-1.72zM301.09 144.06h1.72v1.35h-1.72zM301.09 149.48h1.72v1.35h-1.72z"/>
<path fill="#e9e9e9" stroke="#e9e9e9" d="M220.42 122.39h1.72v1.35h-1.72zM222.14 104.79h1.72v2.71h-1.72zM222.14 115.62h1.72v2.71h-1.72zM223.86 110.2h1.72v1.35h-1.72zM223.86 145.42h1.72v1.35h-1.72zM225.57 95.3h1.72v1.35h-1.72zM225.57 99.37h1.72v1.35h-1.72zM232.44 93.95h1.72v1.35h-1.72zM234.15 99.37h1.72v1.35h-1.72zM235.87 103.43h1.72v1.35h-1.72zM237.59 116.98h1.72v1.35h-1.72zM237.59 122.39h1.72v1.35h-1.72zM239.3 122.39h1.72v1.35h-1.72zM244.45 131.87h1.72v1.35h-1.72zM246.17 134.58h1.72v1.35h-1.72zM256.46 148.13h1.72v1.35h-1.72zM273.63 145.42h1.72v1.35h-1.72zM275.34 137.29h1.72v1.35h-1.72zM275.34 148.13h1.72v1.35h-1.72zM280.49 152.19h1.72v1.35h-1.72zM283.92 134.58h1.72v1.35h-1.72zM283.92 153.55h1.72v1.35h-1.72zM297.65 153.55h1.72v1.35h-1.72zM299.37 152.19h1.72v1.35h-1.72z"/>
<path fill="#ebebeb" stroke="#ebebeb" d="M222.14 103.43h1.72v1.35h-1.72zM222.14 142.71h1.72v1.35h-1.72zM223.86 108.85h1.72v1.35h-1.72zM225.57 92.6h1.72v2.71h-1.72zM225.57 100.72h1.72v1.35h-1.72zM225.57 148.13h1.72v1.35h-1.72zM227.29 92.6h1.72v1.35h-1.72zM227.29 148.13h1.72v1.35h-1.72zM230.72 152.19h1.72v1.35h-1.72zM237.59 108.85h1.72v1.35h-1.72zM242.73 129.17h1.72v1.35h-1.72zM249.6 140h1.72v1.35h-1.72zM251.32 142.71h1.72v1.35h-1.72zM253.03 145.42h1.72v1.35h-1.72zM258.18 149.48h1.72v1.35h-1.72zM273.63 138.65h1.72v1.35h-1.72zM277.06 135.94h1.72v1.35h-1.72zM280.49 134.58h1.72v1.35h-1.72zM282.21 134.58h1.72v1.35h-1.72zM285.64 134.58h1.72v1.35h-1.72zM287.36 134.58h1.72v1.35h-1.72zM292.51 135.94h1.72v1.35h-1.72zM297.65 138.65h1.72v1.35h-1.72zM299.37 140h1.72v1.35h-1.72zM301.09 142.71h1.72v1.35h-1.72zM301.09 150.84h1.72v1.35h-1.72z"/>
<path fill="#ededed" stroke="#ededed" d="M218.71 129.17h1.72v5.42h-1.72zM220.42 144.06h1.72v1.35h-1.72zM222.14 102.08h1.72v1.35h-1.72zM223.86 104.79h1.72v4.06h-1.72zM223.86 146.77h1.72v1.35h-1.72zM234.15 98.01h1.72v1.35h-1.72zM241.02 126.46h1.72v1.35h-1.72zM247.88 137.29h1.72v1.35h-1.72zM271.91 141.36h1.72v2.71h-1.72zM273.63 146.77h1.72v1.35h-1.72zM282.21 153.55h1.72v1.35h-1.72zM289.07 96.66h1.72v1.35h-1.72zM289.07 134.58h1.72v1.35h-1.72zM292.51 98.01h1.72v1.35h-1.72zM295.94 137.29h1.72v1.35h-1.72zM297.65 100.72h1.72v1.35h-1.72zM301.09 141.36h1.72v1.35h-1.72zM302.8 145.42h1.72v4.06h-1.72z"/>
<path fill="#efefef" stroke="#efefef" d="M218.71 126.46h1.72v2.71h-1.72zM218.71 134.58h1.72v5.42h-1.72zM220.42 121.04h1.72v1.35h-1.72zM222.14 100.72h1.72v1.35h-1.72zM222.14 144.06h1.72v1.35h-1.72zM223.86 103.43h1.72v1.35h-1.72zM225.57 91.24h1.72v1.35h-1.72zM229 89.89h1.72v1.35h-1.72zM229 150.84h1.72v1.35h-1.72zM232.44 92.6h1.72v1.35h-1.72zM235.87 102.08h1.72v1.35h-1.72zM237.59 121.04h1.72v1.35h-1.72zM239.3 121.04h1.72v1.35h-1.72zM242.73 127.81h1.72v1.35h-1.72zM244.45 130.52h1.72v1.35h-1.72zM246.17 133.23h1.72v1.35h-1.72zM253.03 144.06h1.72v1.35h-1.72zM254.75 146.77h1.72v1.35h-1.72zM259.9 149.48h1.72v1.35h-1.72zM263.33 152.19h1.72v1.35h-1.72zM271.91 140h1.72v1.35h-1.72zM271.91 144.06h1.72v1.35h-1.72zM273.63 137.29h1.72v1.35h-1.72zM275.34 135.94h1.72v1.35h-1.72zM275.34 149.48h1.72v1.35h-1.72zM277.06 150.84h1.72v1.35h-1.72zM278.78 134.58h1.72v1.35h-1.72zM278.78 152.19h1.72v1.35h-1.72zM280.49 92.6h1.72v1.35h-1.72zM282.21 93.95h1.72v1.35h-1.72zM283.92 93.95h1.72v1.35h-1.72zM285.64 95.3h1.72v1.35h-1.72zM287.36 95.3h1.72v1.35h-1.72zM290.79 98.01h1.72v1.35h-1.72zM294.22 99.37h1.72v1.35h-1.72zM294.22 135.94h1.72v1.35h-1.72zM295.94 99.37h1.72v1.35h-1.72zM299.37 100.72h1.72v1.35h-1.72zM299.37 153.55h1.72v1.35h-1.72zM301.09 102.08h1.72v1.35h-1.72zM301.09 152.19h1.72v1.35h-1.72zM302.8 144.06h1.72v1.35h-1.72zM302.8 149.48h1.72v1.35h-1.72z"/>
<path fill="#f1f1f1" stroke="#f1f1f1" d="M218.71 125.1h1.72v1.35h-1.72zM218.71 140h1.72v2.71h-1.72zM222.14 99.37h1.72v1.35h-1.72zM223.86 102.08h1.72v1.35h-1.72zM227.29 149.48h1.72v1.35h-1.72zM232.44 153.55h1.72v1.35h-1.72zM234.15 96.66h1.72v1.35h-1.72zM237.59 107.49h1.72v1.35h-1.72zM237.59 118.33h1.72v1.35h-1.72zM239.3 108.85h1.72v4.06h-1.72zM239.3 119.68h1.72v1.35h-1.72zM241.02 125.1h1.72v1.35h-1.72zM249.6 138.65h1.72v1.35h-1.72zM251.32 141.36h1.72v1.35h-1.72zM261.61 150.84h1.72v1.35h-1.72zM265.05 153.55h1.72v1.35h-1.72zM271.91 138.65h1.72v1.35h-1.72zM271.91 145.42h1.72v1.35h-1.72zM273.63 148.13h1.72v1.35h-1.72zM277.06 91.24h1.72v1.35h-1.72zM277.06 134.58h1.72v1.35h-1.72zM278.78 92.6h1.72v1.35h-1.72zM280.49 153.55h1.72v1.35h-1.72zM287.36 96.66h1.72v1.35h-1.72zM290.79 96.66h1.72v1.35h-1.72zM290.79 134.58h1.72v1.35h-1.72zM294.22 98.01h1.72v1.35h-1.72zM295.94 100.72h1.72v1.35h-1.72zM297.65 137.29h1.72v1.35h-1.72zM299.37 102.08h1.72v1.35h-1.72zM299.37 138.65h1.72v1.35h-1.72zM301.09 140h1.72v1.35h-1.72zM302.8 102.08h1.72v2.71h-1.72zM302.8 142.71h1.72v1.35h-1.72zM302.8 150.84h1.72v1.35h-1.72z"/>
<path fill="#f3f3f3" stroke="#f3f3f3" d="M218.71 123.75h1.72v1.35h-1.72zM218.71 142.71h1.72v1.35h-1.72zM220.42 119.68h1.72v1.35h-1.72zM220.42 145.42h1.72v1.35h-1.72zM222.14 145.42h1.72v1.35h-1.72zM223.86 100.72h1.72v1.35h-1.72zM223.86 148.13h1.72v1.35h-1.72zM225.57 149.48h1.72v1.35h-1.72zM227.29 91.24h1.72v1.35h-1.72zM230.72 91.24h1.72v1.35h-1.72zM232.44 91.24h1.72v1.35h-1.72zM234.15 95.3h1.72v1.35h-1.72zM237.59 106.14h1.72v1.35h-1.72zM237.59 119.68h1.72v1.35h-1.72zM239.3 107.49h1.72v1.35h-1.72zM239.3 112.91h1.72v6.77h-1.72zM241.02 123.75h1.72v1.35h-1.72zM242.73 126.46h1.72v1.35h-1.72zM247.88 135.94h1.72v1.35h-1.72zM253.03 142.71h1.72v1.35h-1.72zM256.46 146.77h1.72v1.35h-1.72zM266.76 153.55h1.72v1.35h-1.72zM270.19 141.36h1.72v1.35h-1.72zM271.91 137.29h1.72v1.35h-1.72zM271.91 146.77h1.72v1.35h-1.72zM273.63 89.89h1.72v1.35h-1.72zM273.63 135.94h1.72v1.35h-1.72zM275.34 89.89h1.72v1.35h-1.72zM275.34 134.58h1.72v1.35h-1.72zM275.34 150.84h1.72v1.35h-1.72zM278.78 91.24h1.72v1.35h-1.72zM280.49 133.23h1.72v1.35h-1.72zM282.21 92.6h1.72v1.35h-1.72zM282.21 133.23h1.72v1.35h-1.72zM283.92 95.3h1.72v1.35h-1.72zM283.92 133.23h1.72v1.35h-1.72zM285.64 93.95h1.72v1.35h-1.72zM285.64 133.23h1.72v1.35h-1.72zM287.36 133.23h1.72v1.35h-1.72zM290.79 102.08h1.72v1.35h-1.72zM292.51 99.37h1.72v1.35h-1.72zM292.51 134.58h1.72v1.35h-1.72zM295.94 104.79h1.72v1.35h-1.72zM295.94 135.94h1.72v1.35h-1.72zM297.65 99.37h1.72v1.35h-1.72zM297.65 106.14h1.72v1.35h-1.72zM299.37 137.29h1.72v1.35h-1.72zM301.09 153.55h1.72v1.35h-1.72zM302.8 141.36h1.72v1.35h-1.72zM302.8 152.19h1.72v1.35h-1.72zM304.52 103.43h1.72v1.35h-1.72zM304.52 145.42h1.72v4.06h-1.72z"/>
<path fill="#f5f5f5" stroke="#f5f5f5" d="M218.71 122.39h1.72v1.35h-1.72zM218.71 144.06h1.72v1.35h-1.72zM222.14 98.01h1.72v1.35h-1.72zM223.86 96.66h1.72v4.06h-1.72zM225.57 89.89h1.72v1.35h-1.72zM229 152.19h1.72v1.35h-1.72zM230.72 153.55h1.72v1.35h-1.72zM235.87 100.72h1.72v1.35h-1.72zM237.59 104.79h1.72v1.35h-1.72zM239.3 104.79h1.72v2.71h-1.72zM241.02 110.2h1.72v2.71h-1.72zM241.02 122.39h1.72v1.35h-1.72zM242.73 125.1h1.72v1.35h-1.72zM244.45 129.17h1.72v1.35h-1.72zM246.17 131.87h1.72v1.35h-1.72zM249.6 137.29h1.72v1.35h-1.72zM254.75 145.42h1.72v1.35h-1.72zM258.18 148.13h1.72v1.35h-1.72zM270.19 138.65h1.72v2.71h-1.72zM270.19 142.71h1.72v2.71h-1.72zM271.91 88.53h1.72v1.35h-1.72zM273.63 149.48h1.72v1.35h-1.72zM275.34 91.24h1.72v1.35h-1.72zM277.06 133.23h1.72v1.35h-1.72zM277.06 152.19h1.72v1.35h-1.72zM278.78 133.23h1.72v1.35h-1.72zM278.78 153.55h1.72v1.35h-1.72zM280.49 93.95h1.72v1.35h-1.72zM285.64 96.66h1.72v1.35h-1.72zM289.07 95.3h1.72v1.35h-1.72zM289.07 98.01h1.72v1.35h-1.72zM289.07 100.72h1.72v1.35h-1.72zM289.07 133.23h1.72v1.35h-1.72zM290.79 133.23h1.72v1.35h-1.72zM292.51 96.66h1.72v1.35h-1.72zM292.51 102.08h1.72v2.71h-1.72zM294.22 103.43h1.72v1.35h-1.72zM294.22 134.58h1.72v1.35h-1.72zM295.94 134.58h1.72v1.35h-1.72zM297.65 102.08h1.72v1.35h-1.72zM297.65 135.94h1.72v1.35h-1.72zM299.37 107.49h1.72v1.35h-1.72zM301.09 100.72h1.72v1.35h-1.72zM301.09 103.43h1.72v1.35h-1.72zM301.09 138.65h1.72v1.35h-1.72zM302.8 140h1.72v1.35h-1.72zM304.52 142.71h1.72v2.71h-1.72zM304.52 149.48h1.72v2.71h-1.72z"/>
<path fill="#f7f7f7" stroke="#f7f7f7" d="M220.42 104.79h1.72v10.84h-1.72zM220.42 118.33h1.72v1.35h-1.72zM222.14 96.66h1.72v1.35h-1.72zM222.14 146.77h1.72v1.35h-1.72zM223.86 95.3h1.72v1.35h-1.72zM223.86 149.48h1.72v1.35h-1.72zM227.29 89.89h1.72v1.35h-1.72zM227.29 150.84h1.72v1.35h-1.72zM229 88.53h1.72v1.35h-1.72zM232.44 89.89h1.72v1.35h-1.72zM234.15 93.95h1.72v1.35h-1.72zM235.87 99.37h1.72v1.35h-1.72zM237.59 103.43h1.72v1.35h-1.72zM239.3 103.43h1.72v1.35h-1.72zM241.02 107.49h1.72v2.71h-1.72zM241.02 112.91h1.72v9.48h-1.72zM242.73 123.75h1.72v1.35h-1.72zM244.45 127.81h1.72v1.35h-1.72zM247.88 134.58h1.72v1.35h-1.72zM251.32 140h1.72v1.35h-1.72zM253.03 141.36h1.72v1.35h-1.72zM256.46 145.42h1.72v1.35h-1.72zM259.9 148.13h1.72v1.35h-1.72zM261.61 149.48h1.72v1.35h-1.72zM263.33 150.84h1.72v1.35h-1.72zM265.05 152.19h1.72v1.35h-1.72zM266.76 108.85h1.72v6.77h-1.72zM268.48 87.18h1.72v1.35h-1.72zM268.48 153.55h1.72v1.35h-1.72zM270.19 87.18h1.72v2.71h-1.72zM270.19 137.29h1.72v1.35h-1.72zM270.19 145.42h1.72v2.71h-1.72zM271.91 89.89h1.72v1.35h-1.72zM271.91 135.94h1.72v1.35h-1.72zM271.91 148.13h1.72v1.35h-1.72zM273.63 88.53h1.72v1.35h-1.72zM273.63 134.58h1.72v1.35h-1.72zM273.63 150.84h1.72v1.35h-1.72zM275.34 133.23h1.72v1.35h-1.72zM275.34 152.19h1.72v1.35h-1.72zM277.06 89.89h1.72v1.35h-1.72zM277.06 92.6h1.72v1.35h-1.72zM280.49 91.24h1.72v1.35h-1.72zM282.21 95.3h1.72v1.35h-1.72zM282.21 131.87h1.72v1.35h-1.72zM283.92 92.6h1.72v1.35h-1.72zM283.92 131.87h1.72v1.35h-1.72zM285.64 131.87h1.72v1.35h-1.72zM287.36 93.95h1.72v1.35h-1.72zM287.36 98.01h1.72v2.71h-1.72zM289.07 99.37h1.72v1.35h-1.72zM290.79 95.3h1.72v1.35h-1.72zM290.79 99.37h1.72v2.71h-1.72zM292.51 133.23h1.72v1.35h-1.72zM294.22 100.72h1.72v1.35h-1.72zM294.22 104.79h1.72v1.35h-1.72zM294.22 133.23h1.72v1.35h-1.72zM295.94 98.01h1.72v1.35h-1.72zM297.65 134.58h1.72v1.35h-1.72zM299.37 99.37h1.72v1.35h-1.72zM299.37 103.43h1.72v1.35h-1.72zM299.37 106.14h1.72v1.35h-1.72zM299.37 135.94h1.72v1.35h-1.72zM301.09 135.94h1.72v2.71h-1.72zM302.8 100.72h1.72v1.35h-1.72zM302.8 104.79h1.72v1.35h-1.72zM302.8 138.65h1.72v1.35h-1.72zM302.8 153.55h1.72v1.35h-1.72zM304.52 102.08h1.72v1.35h-1.72zM304.52 104.79h1.72v1.35h-1.72zM304.52 141.36h1.72v1.35h-1.72zM304.52 152.19h1.72v1.35h-1.72zM306.24 103.43h1.72v2.71h-1.72zM306.24 145.42h1.72v4.06h-1.72z"/>
<path fill="#f9f9f9" stroke="#f9f9f9" d="M216.99 123.75h1.72v1.35h-1.72zM216.99 134.58h1.72v1.35h-1.72zM218.71 107.49h1.72v5.42h-1.72zM218.71 121.04h1.72v1.35h-1.72zM218.71 145.42h1.72v1.35h-1.72zM220.42 103.43h1.72v1.35h-1.72zM220.42 115.62h1.72v2.71h-1.72zM220.42 146.77h1.72v1.35h-1.72zM222.14 95.3h1.72v1.35h-1.72zM223.86 93.95h1.72v1.35h-1.72zM225.57 88.53h1.72v1.35h-1.72zM225.57 150.84h1.72v1.35h-1.72zM230.72 89.89h1.72v1.35h-1.72zM235.87 98.01h1.72v1.35h-1.72zM237.59 102.08h1.72v1.35h-1.72zM239.3 102.08h1.72v1.35h-1.72zM241.02 104.79h1.72v2.71h-1.72zM242.73 108.85h1.72v1.35h-1.72zM242.73 119.68h1.72v4.06h-1.72zM246.17 130.52h1.72v1.35h-1.72zM249.6 135.94h1.72v1.35h-1.72zM251.32 138.65h1.72v1.35h-1.72zM254.75 144.06h1.72v1.35h-1.72zM258.18 146.77h1.72v1.35h-1.72zM265.05 85.82h1.72v1.35h-1.72zM266.76 85.82h1.72v2.71h-1.72zM268.48 88.53h1.72v1.35h-1.72zM268.48 137.29h1.72v9.48h-1.72zM270.19 89.89h1.72v1.35h-1.72zM270.19 135.94h1.72v1.35h-1.72zM270.19 148.13h1.72v1.35h-1.72zM271.91 87.18h1.72v1.35h-1.72zM271.91 134.58h1.72v1.35h-1.72zM271.91 149.48h1.72v1.35h-1.72zM273.63 91.24h1.72v1.35h-1.72zM273.63 133.23h1.72v1.35h-1.72zM275.34 88.53h1.72v1.35h-1.72zM275.34 92.6h1.72v1.35h-1.72zM277.06 131.87h1.72v1.35h-1.72zM277.06 153.55h1.72v1.35h-1.72zM278.78 89.89h1.72v1.35h-1.72zM278.78 93.95h1.72v1.35h-1.72zM278.78 131.87h1.72v1.35h-1.72zM280.49 95.3h1.72v1.35h-1.72zM280.49 131.87h1.72v1.35h-1.72zM282.21 91.24h1.72v1.35h-1.72zM283.92 96.66h1.72v1.35h-1.72zM285.64 92.6h1.72v1.35h-1.72zM285.64 98.01h1.72v1.35h-1.72zM287.36 100.72h1.72v1.35h-1.72zM287.36 131.87h1.72v1.35h-1.72zM289.07 93.95h1.72v1.35h-1.72zM289.07 131.87h1.72v1.35h-1.72zM290.79 131.87h1.72v1.35h-1.72zM292.51 100.72h1.72v1.35h-1.72zM292.51 131.87h1.72v1.35h-1.72zM294.22 96.66h1.72v1.35h-1.72zM294.22 102.08h1.72v1.35h-1.72zM294.22 131.87h1.72v1.35h-1.72zM295.94 102.08h1.72v2.71h-1.72zM295.94 106.14h1.72v1.35h-1.72zM295.94 133.23h1.72v1.35h-1.72zM297.65 98.01h1.72v1.35h-1.72zM297.65 103.43h1.72v2.71h-1.72zM297.65 133.23h1.72v1.35h-1.72zM299.37 131.87h1.72v4.06h-1.72zM301.09 99.37h1.72v1.35h-1.72zM301.09 104.79h1.72v1.35h-1.72zM301.09 107.49h1.72v1.35h-1.72zM301.09 131.87h1.72v4.06h-1.72zM302.8 131.87h1.72v6.77h-1.72zM304.52 134.58h1.72v6.77h-1.72zM304.52 153.55h1.72v1.35h-1.72zM306.24 102.08h1.72v1.35h-1.72zM306.24 106.14h1.72v1.35h-1.72zM306.24 140h1.72v5.42h-1.72zM306.24 149.48h1.72v4.06h-1.72zM307.95 103.43h1.72v4.06h-1.72z"/>
<path fill="#fbfbfb" stroke="#fbfbfb" d="M216.99 121.04h1.72v2.71h-1.72zM216.99 125.1h1.72v9.48h-1.72zM216.99 135.94h1.72v2.71h-1.72zM218.71 103.43h1.72v4.06h-1.72zM218.71 112.91h1.72v2.71h-1.72zM218.71 119.68h1.72v1.35h-1.72zM218.71 146.77h1.72v1.35h-1.72zM220.42 100.72h1.72v2.71h-1.72zM220.42 148.13h1.72v1.35h-1.72zM222.14 93.95h1.72v1.35h-1.72zM222.14 148.13h1.72v1.35h-1.72zM223.86 91.24h1.72v2.71h-1.72zM223.86 150.84h1.72v1.35h-1.72zM227.29 88.53h1.72v1.35h-1.72zM227.29 152.19h1.72v1.35h-1.72zM229 87.18h1.72v1.35h-1.72zM229 153.55h1.72v1.35h-1.72zM230.72 88.53h1.72v1.35h-1.72zM232.44 88.53h1.72v1.35h-1.72zM234.15 92.6h1.72v1.35h-1.72zM235.87 96.66h1.72v1.35h-1.72zM237.59 98.01h1.72v4.06h-1.72zM239.3 100.72h1.72v1.35h-1.72zM241.02 102.08h1.72v2.71h-1.72zM242.73 104.79h1.72v4.06h-1.72zM242.73 110.2h1.72v2.71h-1.72zM242.73 118.33h1.72v1.35h-1.72zM244.45 125.1h1.72v2.71h-1.72zM247.88 133.23h1.72v1.35h-1.72zM249.6 134.58h1.72v1.35h-1.72zM251.32 137.29h1.72v1.35h-1.72zM253.03 140h1.72v1.35h-1.72zM254.75 142.71h1.72v1.35h-1.72zM256.46 144.06h1.72v1.35h-1.72zM258.18 145.42h1.72v1.35h-1.72zM259.9 146.77h1.72v1.35h-1.72zM261.61 84.47h1.72v1.35h-1.72zM261.61 148.13h1.72v1.35h-1.72zM263.33 84.47h1.72v2.71h-1.72zM263.33 149.48h1.72v1.35h-1.72zM265.05 84.47h1.72v1.35h-1.72zM265.05 87.18h1.72v1.35h-1.72zM265.05 150.84h1.72v1.35h-1.72zM266.76 88.53h1.72v1.35h-1.72zM266.76 137.29h1.72v9.48h-1.72zM266.76 152.19h1.72v1.35h-1.72zM268.48 85.82h1.72v1.35h-1.72zM268.48 89.89h1.72v1.35h-1.72zM268.48 135.94h1.72v1.35h-1.72zM268.48 146.77h1.72v2.71h-1.72zM268.48 152.19h1.72v1.35h-1.72zM270.19 85.82h1.72v1.35h-1.72zM270.19 133.23h1.72v2.71h-1.72zM270.19 149.48h1.72v1.35h-1.72zM270.19 153.55h1.72v1.35h-1.72zM271.91 91.24h1.72v1.35h-1.72zM271.91 133.23h1.72v1.35h-1.72zM271.91 150.84h1.72v4.06h-1.72zM273.63 87.18h1.72v1.35h-1.72zM273.63 92.6h1.72v1.35h-1.72zM273.63 131.87h1.72v1.35h-1.72zM273.63 152.19h1.72v2.71h-1.72zM275.34 131.87h1.72v1.35h-1.72zM275.34 153.55h1.72v1.35h-1.72zM277.06 88.53h1.72v1.35h-1.72zM277.06 93.95h1.72v1.35h-1.72zM277.06 130.52h1.72v1.35h-1.72zM278.78 95.3h1.72v1.35h-1.72zM278.78 130.52h1.72v1.35h-1.72zM280.49 89.89h1.72v1.35h-1.72zM280.49 130.52h1.72v1.35h-1.72zM282.21 96.66h1.72v1.35h-1.72zM282.21 130.52h1.72v1.35h-1.72zM283.92 91.24h1.72v1.35h-1.72zM283.92 98.01h1.72v1.35h-1.72zM283.92 130.52h1.72v1.35h-1.72zM285.64 99.37h1.72v1.35h-1.72zM285.64 130.52h1.72v1.35h-1.72zM287.36 92.6h1.72v1.35h-1.72zM287.36 130.52h1.72v1.35h-1.72zM289.07 102.08h1.72v1.35h-1.72zM289.07 130.52h1.72v1.35h-1.72zM290.79 93.95h1.72v1.35h-1.72zM290.79 103.43h1.72v1.35h-1.72zM290.79 130.52h1.72v1.35h-1.72zM292.51 95.3h1.72v1.35h-1.72zM292.51 130.52h1.72v1.35h-1.72zM294.22 95.3h1.72v1.35h-1.72zM294.22 130.52h1.72v1.35h-1.72zM295.94 96.66h1.72v1.35h-1.72zM295.94 129.17h1.72v4.06h-1.72zM297.65 96.66h1.72v1.35h-1.72zM297.65 107.49h1.72v1.35h-1.72zM297.65 127.81h1.72v5.42h-1.72zM299.37 98.01h1.72v1.35h-1.72zM299.37 104.79h1.72v1.35h-1.72zM299.37 126.46h1.72v5.42h-1.72zM301.09 98.01h1.72v1.35h-1.72zM301.09 106.14h1.72v1.35h-1.72zM301.09 108.85h1.72v1.35h-1.72zM301.09 126.46h1.72v5.42h-1.72zM302.8 99.37h1.72v1.35h-1.72zM302.8 106.14h1.72v1.35h-1.72zM302.8 125.1h1.72v6.77h-1.72zM304.52 100.72h1.72v1.35h-1.72zM304.52 106.14h1.72v1.35h-1.72zM304.52 123.75h1.72v10.84h-1.72zM306.24 100.72h1.72v1.35h-1.72zM306.24 107.49h1.72v1.35h-1.72zM306.24 121.04h1.72v18.96h-1.72zM306.24 153.55h1.72v1.35h-1.72zM307.95 102.08h1.72v1.35h-1.72zM307.95 107.49h1.72v1.35h-1.72zM307.95 119.68h1.72v33.86h-1.72zM309.67 103.43h1.72v5.42h-1.72zM309.67 118.33h1.72v18.96h-1.72zM311.38 116.98h1.72v17.61h-1.72zM313.1 115.62h1.72v17.61h-1.72zM314.82 115.62h1.72v16.25h-1.72zM316.53 114.27h1.72v16.25h-1.72zM318.25 114.27h1.72v14.9h-1.72zM319.97 114.27h1.72v13.54h-1.72zM321.68 114.27h1.72v10.84h-1.72zM323.4 116.98h1.72v5.42h-1.72z"/>
<path fill="#fdfdfd" stroke="#fdfdfd" d="M216.99 107.49h1.72v8.13h-1.72zM216.99 118.33h1.72v2.71h-1.72zM216.99 138.65h1.72v6.77h-1.72zM218.71 96.66h1.72v6.77h-1.72zM218.71 115.62h1.72v4.06h-1.72zM218.71 148.13h1.72v1.35h-1.72zM220.42 96.66h1.72v4.06h-1.72zM220.42 149.48h1.72v1.35h-1.72zM222.14 91.24h1.72v2.71h-1.72zM222.14 149.48h1.72v2.71h-1.72zM223.86 88.53h1.72v2.71h-1.72zM223.86 152.19h1.72v1.35h-1.72zM225.57 87.18h1.72v1.35h-1.72zM225.57 152.19h1.72v1.35h-1.72zM227.29 87.18h1.72v1.35h-1.72zM227.29 153.55h1.72v1.35h-1.72zM230.72 87.18h1.72v1.35h-1.72zM232.44 87.18h1.72v1.35h-1.72zM234.15 89.89h1.72v2.71h-1.72zM235.87 95.3h1.72v1.35h-1.72zM237.59 95.3h1.72v2.71h-1.72zM239.3 98.01h1.72v2.71h-1.72zM241.02 99.37h1.72v2.71h-1.72zM242.73 100.72h1.72v4.06h-1.72zM242.73 112.91h1.72v5.42h-1.72zM244.45 102.08h1.72v23.03h-1.72zM246.17 110.2h1.72v14.9h-1.72zM246.17 127.81h1.72v2.71h-1.72zM247.88 130.52h1.72v2.71h-1.72zM249.6 131.87h1.72v2.71h-1.72zM251.32 135.94h1.72v1.35h-1.72zM253.03 137.29h1.72v2.71h-1.72zM254.75 140h1.72v2.71h-1.72zM256.46 81.76h1.72v2.71h-1.72zM256.46 141.36h1.72v2.71h-1.72zM258.18 81.76h1.72v4.06h-1.72zM258.18 142.71h1.72v2.71h-1.72zM259.9 81.76h1.72v5.42h-1.72zM259.9 144.06h1.72v2.71h-1.72zM261.61 81.76h1.72v2.71h-1.72zM261.61 85.82h1.72v2.71h-1.72zM261.61 145.42h1.72v2.71h-1.72zM263.33 81.76h1.72v2.71h-1.72zM263.33 87.18h1.72v2.71h-1.72zM263.33 137.29h1.72v12.19h-1.72zM265.05 83.11h1.72v1.35h-1.72zM265.05 88.53h1.72v1.35h-1.72zM265.05 134.58h1.72v16.25h-1.72zM266.76 83.11h1.72v2.71h-1.72zM266.76 89.89h1.72v1.35h-1.72zM266.76 133.23h1.72v4.06h-1.72zM266.76 146.77h1.72v5.42h-1.72zM268.48 84.47h1.72v1.35h-1.72zM268.48 91.24h1.72v1.35h-1.72zM268.48 131.87h1.72v4.06h-1.72zM268.48 149.48h1.72v2.71h-1.72zM270.19 84.47h1.72v1.35h-1.72zM270.19 91.24h1.72v2.71h-1.72zM270.19 130.52h1.72v2.71h-1.72zM270.19 150.84h1.72v2.71h-1.72zM271.91 84.47h1.72v2.71h-1.72zM271.91 92.6h1.72v1.35h-1.72zM271.91 129.17h1.72v4.06h-1.72zM273.63 85.82h1.72v1.35h-1.72zM273.63 93.95h1.72v1.35h-1.72zM273.63 129.17h1.72v2.71h-1.72zM275.34 85.82h1.72v2.71h-1.72zM275.34 93.95h1.72v2.71h-1.72zM275.34 129.17h1.72v2.71h-1.72zM277.06 87.18h1.72v1.35h-1.72zM277.06 95.3h1.72v1.35h-1.72zM277.06 129.17h1.72v1.35h-1.72zM278.78 87.18h1.72v2.71h-1.72zM278.78 96.66h1.72v1.35h-1.72zM278.78 127.81h1.72v2.71h-1.72zM280.49 88.53h1.72v1.35h-1.72zM280.49 96.66h1.72v1.35h-1.72zM280.49 127.81h1.72v2.71h-1.72zM282.21 88.53h1.72v2.71h-1.72zM282.21 98.01h1.72v1.35h-1.72zM282.21 127.81h1.72v2.71h-1.72zM283.92 88.53h1.72v2.71h-1.72zM283.92 99.37h1.72v1.35h-1.72zM283.92 127.81h1.72v2.71h-1.72zM285.64 89.89h1.72v2.71h-1.72zM285.64 100.72h1.72v1.35h-1.72zM285.64 127.81h1.72v2.71h-1.72zM287.36 80.41h1.72v12.19h-1.72zM287.36 102.08h1.72v1.35h-1.72zM287.36 127.81h1.72v2.71h-1.72zM289.07 79.05h1.72v14.9h-1.72zM289.07 127.81h1.72v2.71h-1.72zM290.79 77.7h1.72v16.25h-1.72zM290.79 126.46h1.72v4.06h-1.72zM292.51 76.34h1.72v18.96h-1.72zM292.51 104.79h1.72v1.35h-1.72zM292.51 125.1h1.72v5.42h-1.72zM294.22 74.99h1.72v20.32h-1.72zM294.22 106.14h1.72v1.35h-1.72zM294.22 123.75h1.72v6.77h-1.72zM295.94 74.99h1.72v21.67h-1.72zM295.94 122.39h1.72v6.77h-1.72zM297.65 74.99h1.72v21.67h-1.72zM297.65 121.04h1.72v6.77h-1.72zM299.37 74.99h1.72v23.03h-1.72zM299.37 108.85h1.72v1.35h-1.72zM299.37 119.68h1.72v6.77h-1.72zM301.09 74.99h1.72v23.03h-1.72zM301.09 118.33h1.72v8.13h-1.72zM302.8 74.99h1.72v24.38h-1.72zM302.8 107.49h1.72v2.71h-1.72zM302.8 115.62h1.72v9.48h-1.72zM304.52 74.99h1.72v25.73h-1.72zM304.52 107.49h1.72v2.71h-1.72zM304.52 114.27h1.72v9.48h-1.72zM306.24 74.99h1.72v25.73h-1.72zM306.24 108.85h1.72v12.19h-1.72zM307.95 74.99h1.72v27.09h-1.72zM307.95 108.85h1.72v10.84h-1.72zM307.95 153.55h1.72v1.35h-1.72zM309.67 74.99h1.72v28.44h-1.72zM309.67 108.85h1.72v9.48h-1.72zM309.67 137.29h1.72v17.61h-1.72zM311.38 76.34h1.72v40.63h-1.72zM311.38 134.58h1.72v18.96h-1.72zM313.1 76.34h1.72v39.28h-1.72zM313.1 133.23h1.72v16.25h-1.72zM314.82 76.34h1.72v39.28h-1.72zM314.82 131.87h1.72v8.13h-1.72zM316.53 77.7h1.72v36.57h-1.72zM316.53 130.52h1.72v6.77h-1.72zM318.25 77.7h1.72v36.57h-1.72zM318.25 129.17h1.72v6.77h-1.72zM319.97 79.05h1.72v35.22h-1.72zM319.97 127.81h1.72v6.77h-1.72zM321.68 80.41h1.72v33.86h-1.72zM321.68 125.1h1.72v8.13h-1.72zM323.4 80.41h1.72v36.57h-1.72zM323.4 122.39h1.72v9.48h-1.72zM325.11 81.76h1.72v48.76h-1.72zM326.83 83.11h1.72v46.05h-1.72zM328.55 84.47h1.72v41.99h-1.72zM330.26 85.82h1.72v37.92h-1.72zM331.98 87.18h1.72v18.96h-1.72zM333.7 89.89h1.72v14.9h-1.72zM335.41 92.6h1.72v10.84h-1.72zM337.13 98.01h1.72v1.35h-1.72z"/>
</g></defs>
<use href="#sc10" stroke-width="1.3"/><use href="#sc10" stroke-width="0"/>
</g>
<rect x="212.8" y="33.4" width="137.3" height="121.9" fill="none" stroke="#808080" stroke-width="1"/>
<text x="212.8" y="163.6" font-size="5.3" text-anchor="middle" font-family="'DejaVu Sans', 'Liberation Sans', sans-serif" fill="#262626" stroke="#262626" stroke-width=".14">−0.5</text>
<text x="229.96" y="163.6" font-size="5.3" text-anchor="middle" font-family="'DejaVu Sans', 'Liberation Sans', sans-serif" fill="#262626" stroke="#262626" stroke-width=".14">0.0</text>
<text x="247.12" y="163.6" font-size="5.3" text-anchor="middle" font-family="'DejaVu Sans', 'Liberation Sans', sans-serif" fill="#262626" stroke="#262626" stroke-width=".14">0.5</text>
<text x="264.29" y="163.6" font-size="5.3" text-anchor="middle" font-family="'DejaVu Sans', 'Liberation Sans', sans-serif" fill="#262626" stroke="#262626" stroke-width=".14">1.0</text>
<text x="281.45" y="163.6" font-size="5.3" text-anchor="middle" font-family="'DejaVu Sans', 'Liberation Sans', sans-serif" fill="#262626" stroke="#262626" stroke-width=".14">1.5</text>
<text x="298.61" y="163.6" font-size="5.3" text-anchor="middle" font-family="'DejaVu Sans', 'Liberation Sans', sans-serif" fill="#262626" stroke="#262626" stroke-width=".14">2.0</text>
<text x="315.78" y="163.6" font-size="5.3" text-anchor="middle" font-family="'DejaVu Sans', 'Liberation Sans', sans-serif" fill="#262626" stroke="#262626" stroke-width=".14">2.5</text>
<text x="332.94" y="163.6" font-size="5.3" text-anchor="middle" font-family="'DejaVu Sans', 'Liberation Sans', sans-serif" fill="#262626" stroke="#262626" stroke-width=".14">3.0</text>
<text x="350.1" y="163.6" font-size="5.3" text-anchor="middle" font-family="'DejaVu Sans', 'Liberation Sans', sans-serif" fill="#262626" stroke="#262626" stroke-width=".14">3.5</text>
<text x="208.9" y="36.25" font-size="5.3" text-anchor="end" font-family="'DejaVu Sans', 'Liberation Sans', sans-serif" fill="#262626" stroke="#262626" stroke-width=".14">18</text>
<text x="208.9" y="49.79" font-size="5.3" text-anchor="end" font-family="'DejaVu Sans', 'Liberation Sans', sans-serif" fill="#262626" stroke="#262626" stroke-width=".14">19</text>
<text x="208.9" y="63.34" font-size="5.3" text-anchor="end" font-family="'DejaVu Sans', 'Liberation Sans', sans-serif" fill="#262626" stroke="#262626" stroke-width=".14">20</text>
<text x="208.9" y="76.88" font-size="5.3" text-anchor="end" font-family="'DejaVu Sans', 'Liberation Sans', sans-serif" fill="#262626" stroke="#262626" stroke-width=".14">21</text>
<text x="208.9" y="90.43" font-size="5.3" text-anchor="end" font-family="'DejaVu Sans', 'Liberation Sans', sans-serif" fill="#262626" stroke="#262626" stroke-width=".14">22</text>
<text x="208.9" y="103.97" font-size="5.3" text-anchor="end" font-family="'DejaVu Sans', 'Liberation Sans', sans-serif" fill="#262626" stroke="#262626" stroke-width=".14">23</text>
<text x="208.9" y="117.52" font-size="5.3" text-anchor="end" font-family="'DejaVu Sans', 'Liberation Sans', sans-serif" fill="#262626" stroke="#262626" stroke-width=".14">24</text>
<text x="208.9" y="131.06" font-size="5.3" text-anchor="end" font-family="'DejaVu Sans', 'Liberation Sans', sans-serif" fill="#262626" stroke="#262626" stroke-width=".14">25</text>
<text x="208.9" y="144.61" font-size="5.3" text-anchor="end" font-family="'DejaVu Sans', 'Liberation Sans', sans-serif" fill="#262626" stroke="#262626" stroke-width=".14">26</text>
<text x="208.9" y="158.15" font-size="5.3" text-anchor="end" font-family="'DejaVu Sans', 'Liberation Sans', sans-serif" fill="#262626" stroke="#262626" stroke-width=".14">27</text>
<path d="M212.8 155.3v2.1M229.96 155.3v2.1M247.12 155.3v2.1M264.29 155.3v2.1M281.45 155.3v2.1M298.61 155.3v2.1M315.78 155.3v2.1M332.94 155.3v2.1M350.1 155.3v2.1M212.8 33.4h-2.1M212.8 46.94h-2.1M212.8 60.49h-2.1M212.8 74.03h-2.1M212.8 87.58h-2.1M212.8 101.12h-2.1M212.8 114.67h-2.1M212.8 128.21h-2.1M212.8 141.76h-2.1M212.8 155.3h-2.1" stroke="#585858" stroke-width=".6" fill="none"/>
<text x="281.45" y="30.5" font-size="9.4" text-anchor="middle" font-family="'DejaVu Sans', 'Liberation Sans', sans-serif" fill="#262626" stroke="#262626" stroke-width=".14">Modeled</text>
<text x="281.45" y="172.3" font-size="8.4" text-anchor="middle" font-family="'DejaVu Sans', 'Liberation Sans', sans-serif" fill="#262626" stroke="#262626" stroke-width=".14">F475W-F814W</text>
<text transform="translate(199.4 94.35) rotate(-90)" font-size="8.0" text-anchor="middle" font-family="'DejaVu Sans', 'Liberation Sans', sans-serif" fill="#262626" stroke="#262626" stroke-width=".14">F475W</text>
<rect x="358.55" y="33.4" width="6.3" height="121.9" fill="url(#cb)" stroke="#585858" stroke-width=".5"/>
<text x="368.45" y="157.8" font-size="5.3" text-anchor="start" font-family="'DejaVu Sans', 'Liberation Sans', sans-serif" fill="#262626" stroke="#262626" stroke-width=".14">0.0</text>
<text x="368.45" y="141.12" font-size="5.3" text-anchor="start" font-family="'DejaVu Sans', 'Liberation Sans', sans-serif" fill="#262626" stroke="#262626" stroke-width=".14">0.1</text>
<text x="368.45" y="124.45" font-size="5.3" text-anchor="start" font-family="'DejaVu Sans', 'Liberation Sans', sans-serif" fill="#262626" stroke="#262626" stroke-width=".14">0.2</text>
<text x="368.45" y="107.77" font-size="5.3" text-anchor="start" font-family="'DejaVu Sans', 'Liberation Sans', sans-serif" fill="#262626" stroke="#262626" stroke-width=".14">0.3</text>
<text x="368.45" y="91.1" font-size="5.3" text-anchor="start" font-family="'DejaVu Sans', 'Liberation Sans', sans-serif" fill="#262626" stroke="#262626" stroke-width=".14">0.4</text>
<text x="368.45" y="74.42" font-size="5.3" text-anchor="start" font-family="'DejaVu Sans', 'Liberation Sans', sans-serif" fill="#262626" stroke="#262626" stroke-width=".14">0.5</text>
<text x="368.45" y="57.75" font-size="5.3" text-anchor="start" font-family="'DejaVu Sans', 'Liberation Sans', sans-serif" fill="#262626" stroke="#262626" stroke-width=".14">0.6</text>
<text x="368.45" y="41.07" font-size="5.3" text-anchor="start" font-family="'DejaVu Sans', 'Liberation Sans', sans-serif" fill="#262626" stroke="#262626" stroke-width=".14">0.7</text>
<path d="M364.85 155.3h2.1M364.85 138.62h2.1M364.85 121.95h2.1M364.85 105.27h2.1M364.85 88.6h2.1M364.85 71.92h2.1M364.85 55.25h2.1M364.85 38.57h2.1" stroke="#585858" stroke-width=".6" fill="none"/>
</g>
<g>
<clipPath id="c20"><rect x="404.1" y="33.4" width="137.3" height="121.9"/></clipPath>
<g clip-path="url(#c20)">
<path fill="#3d3d3d" d="M420.3 111.56h1.72v1.35h-1.72zM420.3 144.06h1.72v1.35h-1.72zM425.45 108.85h1.72v1.35h-1.72zM425.45 111.56h1.72v1.35h-1.72zM425.45 115.62h1.72v1.35h-1.72zM425.45 123.75h1.72v1.35h-1.72zM425.45 127.81h1.72v1.35h-1.72zM425.45 135.94h1.72v1.35h-1.72zM425.45 149.48h1.72v1.35h-1.72zM427.17 121.04h1.72v1.35h-1.72zM427.17 123.75h1.72v1.35h-1.72zM427.17 126.46h1.72v1.35h-1.72zM427.17 137.29h1.72v1.35h-1.72zM427.17 142.71h1.72v1.35h-1.72zM430.6 137.29h1.72v1.35h-1.72zM434.03 141.36h1.72v1.35h-1.72zM482.09 145.42h1.72v1.35h-1.72z"/>
<path fill="#7d7d7d" d="M416.87 133.23h1.72v1.35h-1.72zM418.59 135.94h1.72v1.35h-1.72zM420.3 104.79h1.72v1.35h-1.72zM420.3 115.62h1.72v1.35h-1.72zM420.3 127.81h1.72v1.35h-1.72zM422.02 127.81h1.72v2.71h-1.72zM422.02 131.87h1.72v2.71h-1.72zM422.02 146.77h1.72v1.35h-1.72zM423.74 119.68h1.72v1.35h-1.72zM423.74 123.75h1.72v1.35h-1.72zM423.74 134.58h1.72v1.35h-1.72zM425.45 119.68h1.72v1.35h-1.72zM427.17 118.33h1.72v1.35h-1.72zM428.89 108.85h1.72v1.35h-1.72zM428.89 133.23h1.72v1.35h-1.72zM428.89 138.65h1.72v1.35h-1.72zM428.89 145.42h1.72v1.35h-1.72zM430.6 119.68h1.72v1.35h-1.72zM430.6 130.52h1.72v1.35h-1.72zM430.6 135.94h1.72v1.35h-1.72zM430.6 145.42h1.72v1.35h-1.72zM432.32 146.77h1.72v1.35h-1.72zM434.03 130.52h1.72v1.35h-1.72zM446.05 149.48h1.72v1.35h-1.72zM449.48 112.91h1.72v1.35h-1.72zM456.35 130.52h1.72v1.35h-1.72zM473.51 141.36h1.72v1.35h-1.72zM475.22 137.29h1.72v1.35h-1.72zM476.94 144.06h1.72v1.35h-1.72zM482.09 131.87h1.72v1.35h-1.72z"/>
<path fill="#bababa" d="M408.29 133.23h1.72v1.35h-1.72zM411.72 138.65h1.72v1.35h-1.72zM415.16 121.04h1.72v1.35h-1.72zM415.16 134.58h1.72v2.71h-1.72zM416.87 130.52h1.72v1.35h-1.72zM418.59 111.56h1.72v1.35h-1.72zM418.59 119.68h1.72v1.35h-1.72zM418.59 123.75h1.72v1.35h-1.72zM418.59 126.46h1.72v1.35h-1.72zM418.59 130.52h1.72v1.35h-1.72zM418.59 142.71h1.72v1.35h-1.72zM420.3 107.49h1.72v1.35h-1.72zM420.3 112.91h1.72v1.35h-1.72zM420.3 125.1h1.72v2.71h-1.72zM420.3 131.87h1.72v1.35h-1.72zM420.3 135.94h1.72v4.06h-1.72zM420.3 145.42h1.72v1.35h-1.72zM420.3 149.48h1.72v1.35h-1.72zM422.02 106.14h1.72v2.71h-1.72zM422.02 112.91h1.72v2.71h-1.72zM422.02 118.33h1.72v2.71h-1.72zM422.02 122.39h1.72v4.06h-1.72zM422.02 137.29h1.72v6.77h-1.72zM422.02 149.48h1.72v1.35h-1.72zM423.74 104.79h1.72v5.42h-1.72zM423.74 118.33h1.72v1.35h-1.72zM423.74 126.46h1.72v4.06h-1.72zM423.74 133.23h1.72v1.35h-1.72zM423.74 135.94h1.72v1.35h-1.72zM423.74 140h1.72v2.71h-1.72zM423.74 144.06h1.72v1.35h-1.72zM423.74 148.13h1.72v1.35h-1.72zM425.45 100.72h1.72v1.35h-1.72zM425.45 114.27h1.72v1.35h-1.72zM425.45 116.98h1.72v1.35h-1.72zM425.45 122.39h1.72v1.35h-1.72zM425.45 131.87h1.72v2.71h-1.72zM425.45 141.36h1.72v1.35h-1.72zM425.45 150.84h1.72v1.35h-1.72zM425.45 153.55h1.72v1.35h-1.72zM427.17 102.08h1.72v1.35h-1.72zM427.17 106.14h1.72v1.35h-1.72zM427.17 110.2h1.72v1.35h-1.72zM427.17 127.81h1.72v1.35h-1.72zM427.17 133.23h1.72v1.35h-1.72zM427.17 141.36h1.72v1.35h-1.72zM428.89 106.14h1.72v1.35h-1.72zM428.89 110.2h1.72v1.35h-1.72zM428.89 115.62h1.72v1.35h-1.72zM428.89 130.52h1.72v1.35h-1.72zM428.89 137.29h1.72v1.35h-1.72zM428.89 141.36h1.72v2.71h-1.72zM428.89 146.77h1.72v4.06h-1.72zM430.6 115.62h1.72v1.35h-1.72zM430.6 125.1h1.72v1.35h-1.72zM430.6 129.17h1.72v1.35h-1.72zM430.6 131.87h1.72v1.35h-1.72zM430.6 138.65h1.72v1.35h-1.72zM430.6 142.71h1.72v2.71h-1.72zM430.6 148.13h1.72v2.71h-1.72zM430.6 152.19h1.72v1.35h-1.72zM432.32 115.62h1.72v1.35h-1.72zM432.32 121.04h1.72v1.35h-1.72zM432.32 135.94h1.72v1.35h-1.72zM432.32 141.36h1.72v1.35h-1.72zM432.32 145.42h1.72v1.35h-1.72zM432.32 153.55h1.72v1.35h-1.72zM434.03 102.08h1.72v1.35h-1.72zM434.03 118.33h1.72v1.35h-1.72zM434.03 133.23h1.72v1.35h-1.72zM434.03 135.94h1.72v1.35h-1.72zM434.03 144.06h1.72v1.35h-1.72zM434.03 148.13h1.72v2.71h-1.72zM434.03 152.19h1.72v1.35h-1.72zM435.75 112.91h1.72v1.35h-1.72zM435.75 125.1h1.72v1.35h-1.72zM435.75 129.17h1.72v1.35h-1.72zM435.75 133.23h1.72v1.35h-1.72zM435.75 135.94h1.72v1.35h-1.72zM435.75 138.65h1.72v1.35h-1.72zM435.75 141.36h1.72v1.35h-1.72zM435.75 149.48h1.72v1.35h-1.72zM437.47 148.13h1.72v2.71h-1.72zM439.18 111.56h1.72v1.35h-1.72zM439.18 118.33h1.72v1.35h-1.72zM439.18 138.65h1.72v1.35h-1.72zM439.18 144.06h1.72v2.71h-1.72zM439.18 149.48h1.72v1.35h-1.72zM439.18 153.55h1.72v1.35h-1.72zM440.9 121.04h1.72v1.35h-1.72zM440.9 144.06h1.72v1.35h-1.72zM442.62 99.37h1.72v1.35h-1.72zM442.62 107.49h1.72v1.35h-1.72zM442.62 141.36h1.72v1.35h-1.72zM442.62 148.13h1.72v1.35h-1.72zM442.62 153.55h1.72v1.35h-1.72zM444.33 119.68h1.72v1.35h-1.72zM444.33 146.77h1.72v1.35h-1.72zM446.05 100.72h1.72v1.35h-1.72zM446.05 103.43h1.72v2.71h-1.72zM446.05 111.56h1.72v1.35h-1.72zM446.05 152.19h1.72v1.35h-1.72zM447.76 130.52h1.72v1.35h-1.72zM447.76 144.06h1.72v1.35h-1.72zM447.76 153.55h1.72v1.35h-1.72zM449.48 106.14h1.72v1.35h-1.72zM451.2 144.06h1.72v1.35h-1.72zM451.2 150.84h1.72v2.71h-1.72zM452.91 112.91h1.72v1.35h-1.72zM454.63 107.49h1.72v1.35h-1.72zM454.63 122.39h1.72v2.71h-1.72zM454.63 133.23h1.72v1.35h-1.72zM454.63 137.29h1.72v1.35h-1.72zM454.63 148.13h1.72v1.35h-1.72zM454.63 153.55h1.72v1.35h-1.72zM456.35 108.85h1.72v1.35h-1.72zM456.35 131.87h1.72v1.35h-1.72zM458.06 118.33h1.72v1.35h-1.72zM459.78 100.72h1.72v1.35h-1.72zM459.78 107.49h1.72v1.35h-1.72zM459.78 152.19h1.72v1.35h-1.72zM461.49 103.43h1.72v1.35h-1.72zM461.49 108.85h1.72v1.35h-1.72zM461.49 134.58h1.72v1.35h-1.72zM463.21 112.91h1.72v2.71h-1.72zM464.93 116.98h1.72v1.35h-1.72zM464.93 125.1h1.72v2.71h-1.72zM464.93 131.87h1.72v1.35h-1.72zM464.93 138.65h1.72v1.35h-1.72zM466.64 114.27h1.72v1.35h-1.72zM466.64 137.29h1.72v1.35h-1.72zM466.64 140h1.72v1.35h-1.72zM468.36 137.29h1.72v1.35h-1.72zM468.36 146.77h1.72v2.71h-1.72zM470.08 125.1h1.72v1.35h-1.72zM470.08 134.58h1.72v1.35h-1.72zM470.08 138.65h1.72v2.71h-1.72zM470.08 144.06h1.72v1.35h-1.72zM471.79 114.27h1.72v1.35h-1.72zM471.79 121.04h1.72v1.35h-1.72zM471.79 133.23h1.72v1.35h-1.72zM471.79 137.29h1.72v1.35h-1.72zM471.79 141.36h1.72v1.35h-1.72zM473.51 115.62h1.72v1.35h-1.72zM473.51 122.39h1.72v1.35h-1.72zM473.51 148.13h1.72v1.35h-1.72zM475.22 123.75h1.72v1.35h-1.72zM475.22 126.46h1.72v1.35h-1.72zM475.22 130.52h1.72v1.35h-1.72zM475.22 138.65h1.72v1.35h-1.72zM475.22 142.71h1.72v1.35h-1.72zM475.22 150.84h1.72v1.35h-1.72zM476.94 116.98h1.72v1.35h-1.72zM476.94 119.68h1.72v1.35h-1.72zM476.94 145.42h1.72v1.35h-1.72zM478.66 130.52h1.72v1.35h-1.72zM478.66 137.29h1.72v1.35h-1.72zM478.66 142.71h1.72v1.35h-1.72zM478.66 146.77h1.72v2.71h-1.72zM480.37 99.37h1.72v1.35h-1.72zM480.37 138.65h1.72v1.35h-1.72zM480.37 149.48h1.72v1.35h-1.72zM482.09 119.68h1.72v1.35h-1.72zM482.09 122.39h1.72v1.35h-1.72zM482.09 125.1h1.72v1.35h-1.72zM482.09 140h1.72v1.35h-1.72zM482.09 144.06h1.72v1.35h-1.72zM483.81 146.77h1.72v2.71h-1.72zM483.81 152.19h1.72v1.35h-1.72zM485.52 127.81h1.72v1.35h-1.72zM485.52 134.58h1.72v1.35h-1.72zM485.52 152.19h1.72v1.35h-1.72zM487.24 115.62h1.72v1.35h-1.72zM488.95 104.79h1.72v1.35h-1.72zM488.95 125.1h1.72v1.35h-1.72zM490.67 140h1.72v1.35h-1.72zM492.39 99.37h1.72v2.71h-1.72zM492.39 127.81h1.72v1.35h-1.72zM492.39 152.19h1.72v1.35h-1.72zM494.1 119.68h1.72v1.35h-1.72zM499.25 149.48h1.72v1.35h-1.72zM500.97 152.19h1.72v1.35h-1.72zM512.98 118.33h1.72v1.35h-1.72zM521.56 100.72h1.72v1.35h-1.72z"/>
</g>
<rect x="404.1" y="33.4" width="137.3" height="121.9" fill="none" stroke="#808080" stroke-width="1"/>
<text x="404.1" y="163.6" font-size="5.3" text-anchor="middle" font-family="'DejaVu Sans', 'Liberation Sans', sans-serif" fill="#262626" stroke="#262626" stroke-width=".14">−0.5</text>
<text x="421.26" y="163.6" font-size="5.3" text-anchor="middle" font-family="'DejaVu Sans', 'Liberation Sans', sans-serif" fill="#262626" stroke="#262626" stroke-width=".14">0.0</text>
<text x="438.43" y="163.6" font-size="5.3" text-anchor="middle" font-family="'DejaVu Sans', 'Liberation Sans', sans-serif" fill="#262626" stroke="#262626" stroke-width=".14">0.5</text>
<text x="455.59" y="163.6" font-size="5.3" text-anchor="middle" font-family="'DejaVu Sans', 'Liberation Sans', sans-serif" fill="#262626" stroke="#262626" stroke-width=".14">1.0</text>
<text x="472.75" y="163.6" font-size="5.3" text-anchor="middle" font-family="'DejaVu Sans', 'Liberation Sans', sans-serif" fill="#262626" stroke="#262626" stroke-width=".14">1.5</text>
<text x="489.91" y="163.6" font-size="5.3" text-anchor="middle" font-family="'DejaVu Sans', 'Liberation Sans', sans-serif" fill="#262626" stroke="#262626" stroke-width=".14">2.0</text>
<text x="507.08" y="163.6" font-size="5.3" text-anchor="middle" font-family="'DejaVu Sans', 'Liberation Sans', sans-serif" fill="#262626" stroke="#262626" stroke-width=".14">2.5</text>
<text x="524.24" y="163.6" font-size="5.3" text-anchor="middle" font-family="'DejaVu Sans', 'Liberation Sans', sans-serif" fill="#262626" stroke="#262626" stroke-width=".14">3.0</text>
<text x="541.4" y="163.6" font-size="5.3" text-anchor="middle" font-family="'DejaVu Sans', 'Liberation Sans', sans-serif" fill="#262626" stroke="#262626" stroke-width=".14">3.5</text>
<text x="400.2" y="36.25" font-size="5.3" text-anchor="end" font-family="'DejaVu Sans', 'Liberation Sans', sans-serif" fill="#262626" stroke="#262626" stroke-width=".14">18</text>
<text x="400.2" y="49.79" font-size="5.3" text-anchor="end" font-family="'DejaVu Sans', 'Liberation Sans', sans-serif" fill="#262626" stroke="#262626" stroke-width=".14">19</text>
<text x="400.2" y="63.34" font-size="5.3" text-anchor="end" font-family="'DejaVu Sans', 'Liberation Sans', sans-serif" fill="#262626" stroke="#262626" stroke-width=".14">20</text>
<text x="400.2" y="76.88" font-size="5.3" text-anchor="end" font-family="'DejaVu Sans', 'Liberation Sans', sans-serif" fill="#262626" stroke="#262626" stroke-width=".14">21</text>
<text x="400.2" y="90.43" font-size="5.3" text-anchor="end" font-family="'DejaVu Sans', 'Liberation Sans', sans-serif" fill="#262626" stroke="#262626" stroke-width=".14">22</text>
<text x="400.2" y="103.97" font-size="5.3" text-anchor="end" font-family="'DejaVu Sans', 'Liberation Sans', sans-serif" fill="#262626" stroke="#262626" stroke-width=".14">23</text>
<text x="400.2" y="117.52" font-size="5.3" text-anchor="end" font-family="'DejaVu Sans', 'Liberation Sans', sans-serif" fill="#262626" stroke="#262626" stroke-width=".14">24</text>
<text x="400.2" y="131.06" font-size="5.3" text-anchor="end" font-family="'DejaVu Sans', 'Liberation Sans', sans-serif" fill="#262626" stroke="#262626" stroke-width=".14">25</text>
<text x="400.2" y="144.61" font-size="5.3" text-anchor="end" font-family="'DejaVu Sans', 'Liberation Sans', sans-serif" fill="#262626" stroke="#262626" stroke-width=".14">26</text>
<text x="400.2" y="158.15" font-size="5.3" text-anchor="end" font-family="'DejaVu Sans', 'Liberation Sans', sans-serif" fill="#262626" stroke="#262626" stroke-width=".14">27</text>
<path d="M404.1 155.3v2.1M421.26 155.3v2.1M438.43 155.3v2.1M455.59 155.3v2.1M472.75 155.3v2.1M489.91 155.3v2.1M507.08 155.3v2.1M524.24 155.3v2.1M541.4 155.3v2.1M404.1 33.4h-2.1M404.1 46.94h-2.1M404.1 60.49h-2.1M404.1 74.03h-2.1M404.1 87.58h-2.1M404.1 101.12h-2.1M404.1 114.67h-2.1M404.1 128.21h-2.1M404.1 141.76h-2.1M404.1 155.3h-2.1" stroke="#585858" stroke-width=".6" fill="none"/>
<text x="472.75" y="30.5" font-size="9.4" text-anchor="middle" font-family="'DejaVu Sans', 'Liberation Sans', sans-serif" fill="#262626" stroke="#262626" stroke-width=".14">Observed</text>
<text x="472.75" y="172.3" font-size="8.4" text-anchor="middle" font-family="'DejaVu Sans', 'Liberation Sans', sans-serif" fill="#262626" stroke="#262626" stroke-width=".14">F475W-F814W</text>
<text transform="translate(390.7 94.35) rotate(-90)" font-size="8.0" text-anchor="middle" font-family="'DejaVu Sans', 'Liberation Sans', sans-serif" fill="#262626" stroke="#262626" stroke-width=".14">F475W</text>
<rect x="549.85" y="33.4" width="6.3" height="121.9" fill="url(#cb)" stroke="#585858" stroke-width=".5"/>
<text x="559.75" y="157.8" font-size="5.3" text-anchor="start" font-family="'DejaVu Sans', 'Liberation Sans', sans-serif" fill="#262626" stroke="#262626" stroke-width=".14">0.0</text>
<text x="559.75" y="142.56" font-size="5.3" text-anchor="start" font-family="'DejaVu Sans', 'Liberation Sans', sans-serif" fill="#262626" stroke="#262626" stroke-width=".14">0.5</text>
<text x="559.75" y="127.33" font-size="5.3" text-anchor="start" font-family="'DejaVu Sans', 'Liberation Sans', sans-serif" fill="#262626" stroke="#262626" stroke-width=".14">1.0</text>
<text x="559.75" y="112.09" font-size="5.3" text-anchor="start" font-family="'DejaVu Sans', 'Liberation Sans', sans-serif" fill="#262626" stroke="#262626" stroke-width=".14">1.5</text>
<text x="559.75" y="96.85" font-size="5.3" text-anchor="start" font-family="'DejaVu Sans', 'Liberation Sans', sans-serif" fill="#262626" stroke="#262626" stroke-width=".14">2.0</text>
<text x="559.75" y="81.61" font-size="5.3" text-anchor="start" font-family="'DejaVu Sans', 'Liberation Sans', sans-serif" fill="#262626" stroke="#262626" stroke-width=".14">2.5</text>
<text x="559.75" y="66.38" font-size="5.3" text-anchor="start" font-family="'DejaVu Sans', 'Liberation Sans', sans-serif" fill="#262626" stroke="#262626" stroke-width=".14">3.0</text>
<text x="559.75" y="51.14" font-size="5.3" text-anchor="start" font-family="'DejaVu Sans', 'Liberation Sans', sans-serif" fill="#262626" stroke="#262626" stroke-width=".14">3.5</text>
<text x="559.75" y="35.9" font-size="5.3" text-anchor="start" font-family="'DejaVu Sans', 'Liberation Sans', sans-serif" fill="#262626" stroke="#262626" stroke-width=".14">4.0</text>
<path d="M556.15 155.3h2.1M556.15 140.06h2.1M556.15 124.83h2.1M556.15 109.59h2.1M556.15 94.35h2.1M556.15 79.11h2.1M556.15 63.88h2.1M556.15 48.64h2.1M556.15 33.4h2.1" stroke="#585858" stroke-width=".6" fill="none"/>
</g>
<g>
<clipPath id="c30"><rect x="594.8" y="33.4" width="137.3" height="121.9"/></clipPath>
<g clip-path="url(#c30)">
<defs><g id="sc30">
<path fill="#000000" stroke="#000000" d="M614.44 116.98h1.72v23.03h-1.72zM616.15 116.98h1.72v2.71h-1.72zM616.15 123.75h1.72v6.77h-1.72zM616.15 140h1.72v4.06h-1.72z"/>
<path fill="#020202" stroke="#020202" d="M612.72 127.81h1.72v1.35h-1.72zM616.15 115.62h1.72v1.35h-1.72z"/>
<path fill="#040404" stroke="#040404" d="M612.72 129.17h1.72v4.06h-1.72z"/>
<path fill="#060606" stroke="#060606" d="M612.72 121.04h1.72v1.35h-1.72z"/>
<path fill="#080808" stroke="#080808" d="M616.15 144.06h1.72v1.35h-1.72z"/>
<path fill="#0c0c0c" stroke="#0c0c0c" d="M619.59 142.71h1.72v1.35h-1.72z"/>
<path fill="#0e0e0e" stroke="#0e0e0e" d="M612.72 119.68h1.72v1.35h-1.72z"/>
<path fill="#141414" stroke="#141414" d="M611 135.94h1.72v1.35h-1.72z"/>
<path fill="#161616" stroke="#161616" d="M614.44 115.62h1.72v1.35h-1.72zM619.59 144.06h1.72v1.35h-1.72z"/>
<path fill="#1a1a1a" stroke="#1a1a1a" d="M611 137.29h1.72v1.35h-1.72zM612.72 118.33h1.72v1.35h-1.72z"/>
<path fill="#1e1e1e" stroke="#1e1e1e" d="M616.15 114.27h1.72v1.35h-1.72zM616.15 145.42h1.72v1.35h-1.72z"/>
<path fill="#242424" stroke="#242424" d="M619.59 145.42h1.72v1.35h-1.72z"/>
<path fill="#282828" stroke="#282828" d="M611 138.65h1.72v1.35h-1.72zM612.72 116.98h1.72v1.35h-1.72z"/>
<path fill="#343434" stroke="#343434" d="M614.44 114.27h1.72v1.35h-1.72zM619.59 146.77h1.72v1.35h-1.72z"/>
<path fill="#383838" stroke="#383838" d="M617.87 125.1h1.72v1.35h-1.72z"/>
<path fill="#3a3a3a" stroke="#3a3a3a" d="M617.87 122.39h1.72v2.71h-1.72z"/>
<path fill="#3c3c3c" stroke="#3c3c3c" d="M612.72 115.62h1.72v1.35h-1.72zM616.15 146.77h1.72v1.35h-1.72z"/>
<path fill="#3e3e3e" stroke="#3e3e3e" d="M614.44 145.42h1.72v1.35h-1.72z"/>
<path fill="#424242" stroke="#424242" d="M617.87 121.04h1.72v1.35h-1.72z"/>
<path fill="#444444" stroke="#444444" d="M612.72 141.36h1.72v1.35h-1.72zM619.59 148.13h1.72v1.35h-1.72z"/>
<path fill="#464646" stroke="#464646" d="M617.87 142.71h1.72v1.35h-1.72z"/>
<path fill="#484848" stroke="#484848" d="M617.87 141.36h1.72v1.35h-1.72z"/>
<path fill="#4a4a4a" stroke="#4a4a4a" d="M612.72 125.1h1.72v2.71h-1.72z"/>
<path fill="#4c4c4c" stroke="#4c4c4c" d="M623.02 125.1h1.72v1.35h-1.72z"/>
<path fill="#4e4e4e" stroke="#4e4e4e" d="M621.3 137.29h1.72v1.35h-1.72z"/>
<path fill="#505050" stroke="#505050" d="M617.87 144.06h1.72v1.35h-1.72z"/>
<path fill="#525252" stroke="#525252" d="M612.72 114.27h1.72v1.35h-1.72zM619.59 149.48h1.72v1.35h-1.72zM623.02 123.75h1.72v1.35h-1.72z"/>
<path fill="#545454" stroke="#545454" d="M614.44 112.91h1.72v1.35h-1.72zM616.15 119.68h1.72v1.35h-1.72zM621.3 135.94h1.72v1.35h-1.72z"/>
<path fill="#565656" stroke="#565656" d="M612.72 142.71h1.72v1.35h-1.72z"/>
<path fill="#585858" stroke="#585858" d="M621.3 131.87h1.72v1.35h-1.72zM621.3 134.58h1.72v1.35h-1.72z"/>
<path fill="#5a5a5a" stroke="#5a5a5a" d="M614.44 146.77h1.72v1.35h-1.72zM621.3 133.23h1.72v1.35h-1.72zM626.45 153.55h1.72v1.35h-1.72z"/>
<path fill="#5c5c5c" stroke="#5c5c5c" d="M612.72 122.39h1.72v2.71h-1.72zM616.15 121.04h1.72v2.71h-1.72zM617.87 140h1.72v1.35h-1.72zM617.87 145.42h1.72v1.35h-1.72z"/>
<path fill="#5e5e5e" stroke="#5e5e5e" d="M626.45 150.84h1.72v2.71h-1.72z"/>
<path fill="#606060" stroke="#606060" d="M619.59 150.84h1.72v1.35h-1.72z"/>
<path fill="#626262" stroke="#626262" d="M616.15 148.13h1.72v1.35h-1.72zM617.87 119.68h1.72v1.35h-1.72zM617.87 135.94h1.72v2.71h-1.72z"/>
<path fill="#646464" stroke="#646464" d="M617.87 134.58h1.72v1.35h-1.72zM617.87 138.65h1.72v1.35h-1.72z"/>
<path fill="#686868" stroke="#686868" d="M621.3 141.36h1.72v1.35h-1.72zM623.02 141.36h1.72v1.35h-1.72z"/>
<path fill="#6a6a6a" stroke="#6a6a6a" d="M617.87 146.77h1.72v1.35h-1.72zM617.87 149.48h1.72v1.35h-1.72zM623.02 140h1.72v1.35h-1.72zM623.02 142.71h1.72v1.35h-1.72z"/>
<path fill="#6c6c6c" stroke="#6c6c6c" d="M621.3 142.71h1.72v1.35h-1.72zM623.02 138.65h1.72v1.35h-1.72z"/>
<path fill="#6e6e6e" stroke="#6e6e6e" d="M612.72 144.06h1.72v1.35h-1.72zM614.44 140h1.72v1.35h-1.72zM617.87 118.33h1.72v1.35h-1.72zM628.17 150.84h1.72v1.35h-1.72z"/>
<path fill="#707070" stroke="#707070" d="M614.44 148.13h1.72v1.35h-1.72zM619.59 152.19h1.72v1.35h-1.72zM621.3 123.75h1.72v1.35h-1.72zM621.3 144.06h1.72v1.35h-1.72zM623.02 144.06h1.72v1.35h-1.72zM628.17 149.48h1.72v1.35h-1.72z"/>
<path fill="#727272" stroke="#727272" d="M614.44 111.56h1.72v1.35h-1.72zM621.3 122.39h1.72v1.35h-1.72zM628.17 148.13h1.72v1.35h-1.72z"/>
<path fill="#747474" stroke="#747474" d="M614.44 141.36h1.72v1.35h-1.72zM621.3 145.42h1.72v1.35h-1.72z"/>
<path fill="#767676" stroke="#767676" d="M617.87 116.98h1.72v1.35h-1.72z"/>
<path fill="#787878" stroke="#787878" d="M628.17 140h1.72v1.35h-1.72z"/>
<path fill="#7a7a7a" stroke="#7a7a7a" d="M616.15 112.91h1.72v1.35h-1.72zM617.87 150.84h1.72v1.35h-1.72zM621.3 146.77h1.72v1.35h-1.72z"/>
<path fill="#7c7c7c" stroke="#7c7c7c" d="M616.15 149.48h1.72v1.35h-1.72zM617.87 148.13h1.72v1.35h-1.72zM621.3 121.04h1.72v1.35h-1.72zM628.17 146.77h1.72v1.35h-1.72z"/>
<path fill="#7e7e7e" stroke="#7e7e7e" d="M614.44 142.71h1.72v1.35h-1.72zM623.02 145.42h1.72v1.35h-1.72zM635.03 153.55h1.72v1.35h-1.72z"/>
<path fill="#818181" stroke="#818181" d="M619.59 153.55h1.72v1.35h-1.72zM621.3 148.13h1.72v1.35h-1.72zM628.17 138.65h1.72v1.35h-1.72z"/>
<path fill="#838383" stroke="#838383" d="M617.87 115.62h1.72v1.35h-1.72z"/>
<path fill="#858585" stroke="#858585" d="M614.44 149.48h1.72v1.35h-1.72zM619.59 141.36h1.72v1.35h-1.72zM623.02 122.39h1.72v1.35h-1.72zM628.17 137.29h1.72v1.35h-1.72z"/>
<path fill="#878787" stroke="#878787" d="M609.29 126.46h1.72v1.35h-1.72z"/>
<path fill="#898989" stroke="#898989" d="M609.29 125.1h1.72v1.35h-1.72zM609.29 127.81h1.72v1.35h-1.72zM612.72 145.42h1.72v1.35h-1.72zM617.87 152.19h1.72v1.35h-1.72zM635.03 152.19h1.72v1.35h-1.72z"/>
<path fill="#8b8b8b" stroke="#8b8b8b" d="M609.29 123.75h1.72v1.35h-1.72zM611 131.87h1.72v4.06h-1.72zM614.44 144.06h1.72v1.35h-1.72zM619.59 122.39h1.72v2.71h-1.72zM619.59 140h1.72v1.35h-1.72zM623.02 121.04h1.72v1.35h-1.72z"/>
<path fill="#8d8d8d" stroke="#8d8d8d" d="M609.29 129.17h1.72v1.35h-1.72zM611 126.46h1.72v1.35h-1.72zM611 130.52h1.72v1.35h-1.72zM619.59 135.94h1.72v4.06h-1.72z"/>
<path fill="#8f8f8f" stroke="#8f8f8f" d="M609.29 130.52h1.72v1.35h-1.72zM611 127.81h1.72v2.71h-1.72zM616.15 111.56h1.72v1.35h-1.72zM616.15 150.84h1.72v1.35h-1.72zM621.3 119.68h1.72v1.35h-1.72zM628.17 135.94h1.72v1.35h-1.72z"/>
<path fill="#919191" stroke="#919191" d="M609.29 122.39h1.72v1.35h-1.72zM614.44 110.2h1.72v1.35h-1.72zM619.59 121.04h1.72v1.35h-1.72zM624.73 137.29h1.72v1.35h-1.72zM626.45 144.06h1.72v1.35h-1.72z"/>
<path fill="#939393" stroke="#939393" d="M609.29 121.04h1.72v1.35h-1.72zM611 125.1h1.72v1.35h-1.72zM624.73 135.94h1.72v1.35h-1.72zM624.73 138.65h1.72v1.35h-1.72zM626.45 142.71h1.72v1.35h-1.72zM629.88 150.84h1.72v1.35h-1.72zM635.03 150.84h1.72v1.35h-1.72z"/>
<path fill="#959595" stroke="#959595" d="M617.87 153.55h1.72v1.35h-1.72zM623.02 119.68h1.72v1.35h-1.72zM626.45 141.36h1.72v1.35h-1.72zM626.45 146.77h1.72v4.06h-1.72zM628.17 134.58h1.72v1.35h-1.72z"/>
<path fill="#979797" stroke="#979797" d="M609.29 133.23h1.72v2.71h-1.72zM611 146.77h1.72v1.35h-1.72zM614.44 150.84h1.72v1.35h-1.72zM619.59 111.56h1.72v1.35h-1.72zM619.59 129.17h1.72v1.35h-1.72zM623.02 146.77h1.72v1.35h-1.72zM624.73 127.81h1.72v1.35h-1.72zM624.73 134.58h1.72v1.35h-1.72zM626.45 145.42h1.72v1.35h-1.72z"/>
<path fill="#999999" stroke="#999999" d="M609.29 131.87h1.72v1.35h-1.72zM609.29 135.94h1.72v1.35h-1.72zM619.59 127.81h1.72v1.35h-1.72zM619.59 130.52h1.72v1.35h-1.72zM629.88 149.48h1.72v1.35h-1.72z"/>
<path fill="#9b9b9b" stroke="#9b9b9b" d="M609.29 119.68h1.72v1.35h-1.72zM609.29 137.29h1.72v1.35h-1.72zM623.02 148.13h1.72v1.35h-1.72zM624.73 133.23h1.72v1.35h-1.72zM624.73 152.19h1.72v1.35h-1.72zM626.45 127.81h1.72v1.35h-1.72zM629.88 148.13h1.72v1.35h-1.72zM636.75 153.55h1.72v1.35h-1.72z"/>
<path fill="#9d9d9d" stroke="#9d9d9d" d="M611 140h1.72v1.35h-1.72zM621.3 118.33h1.72v1.35h-1.72zM621.3 140h1.72v1.35h-1.72zM624.73 146.77h1.72v1.35h-1.72zM624.73 150.84h1.72v1.35h-1.72zM629.88 146.77h1.72v1.35h-1.72zM635.03 149.48h1.72v1.35h-1.72z"/>
<path fill="#9f9f9f" stroke="#9f9f9f" d="M612.72 146.77h1.72v1.35h-1.72zM616.15 152.19h1.72v1.35h-1.72zM619.59 131.87h1.72v1.35h-1.72zM624.73 131.87h1.72v1.35h-1.72zM624.73 148.13h1.72v2.71h-1.72zM626.45 126.46h1.72v1.35h-1.72z"/>
<path fill="#a1a1a1" stroke="#a1a1a1" d="M607.57 140h1.72v1.35h-1.72zM619.59 134.58h1.72v1.35h-1.72zM623.02 129.17h1.72v1.35h-1.72zM624.73 126.46h1.72v1.35h-1.72zM629.88 145.42h1.72v1.35h-1.72zM629.88 153.55h1.72v1.35h-1.72z"/>
<path fill="#a3a3a3" stroke="#a3a3a3" d="M607.57 130.52h1.72v1.35h-1.72zM616.15 110.2h1.72v1.35h-1.72zM619.59 133.23h1.72v1.35h-1.72zM623.02 127.81h1.72v1.35h-1.72zM624.73 142.71h1.72v1.35h-1.72zM629.88 144.06h1.72v1.35h-1.72z"/>
<path fill="#a5a5a5" stroke="#a5a5a5" d="M607.57 129.17h1.72v1.35h-1.72zM607.57 141.36h1.72v1.35h-1.72zM621.3 116.98h1.72v1.35h-1.72zM623.02 118.33h1.72v1.35h-1.72zM623.02 126.46h1.72v1.35h-1.72zM623.02 130.52h1.72v1.35h-1.72zM624.73 141.36h1.72v1.35h-1.72zM626.45 125.1h1.72v1.35h-1.72zM628.17 141.36h1.72v1.35h-1.72zM635.03 148.13h1.72v1.35h-1.72zM674.51 125.1h1.72v1.35h-1.72z"/>
<path fill="#a7a7a7" stroke="#a7a7a7" d="M607.57 127.81h1.72v1.35h-1.72zM611 148.13h1.72v1.35h-1.72zM616.15 138.65h1.72v1.35h-1.72zM624.73 140h1.72v1.35h-1.72zM628.17 142.71h1.72v1.35h-1.72zM629.88 152.19h1.72v1.35h-1.72z"/>
<path fill="#a9a9a9" stroke="#a9a9a9" d="M607.57 126.46h1.72v1.35h-1.72zM611 141.36h1.72v1.35h-1.72zM621.3 115.62h1.72v1.35h-1.72zM621.3 138.65h1.72v1.35h-1.72zM631.6 145.42h1.72v1.35h-1.72z"/>
<path fill="#ababab" stroke="#ababab" d="M609.29 118.33h1.72v1.35h-1.72zM616.15 153.55h1.72v1.35h-1.72zM626.45 123.75h1.72v1.35h-1.72zM628.17 145.42h1.72v1.35h-1.72zM628.17 153.55h1.72v1.35h-1.72zM635.03 146.77h1.72v1.35h-1.72zM674.51 123.75h1.72v1.35h-1.72z"/>
<path fill="#adadad" stroke="#adadad" d="M612.72 112.91h1.72v1.35h-1.72zM612.72 138.65h1.72v1.35h-1.72zM619.59 110.2h1.72v1.35h-1.72zM628.17 133.23h1.72v1.35h-1.72zM628.17 144.06h1.72v1.35h-1.72zM628.17 152.19h1.72v1.35h-1.72zM631.6 144.06h1.72v1.35h-1.72z"/>
<path fill="#afafaf" stroke="#afafaf" d="M611 121.04h1.72v1.35h-1.72zM611 123.75h1.72v1.35h-1.72zM611 142.71h1.72v1.35h-1.72zM612.72 137.29h1.72v1.35h-1.72zM614.44 108.85h1.72v1.35h-1.72z"/>
<path fill="#b1b1b1" stroke="#b1b1b1" d="M607.57 142.71h1.72v1.35h-1.72zM612.72 140h1.72v1.35h-1.72zM616.15 137.29h1.72v1.35h-1.72zM624.73 125.1h1.72v1.35h-1.72zM624.73 153.55h1.72v1.35h-1.72zM628.17 131.87h1.72v1.35h-1.72zM631.6 142.71h1.72v1.35h-1.72zM636.75 152.19h1.72v1.35h-1.72z"/>
<path fill="#b3b3b3" stroke="#b3b3b3" d="M611 144.06h1.72v1.35h-1.72zM621.3 127.81h1.72v2.71h-1.72zM633.32 152.19h1.72v1.35h-1.72z"/>
<path fill="#b5b5b5" stroke="#b5b5b5" d="M607.57 137.29h1.72v2.71h-1.72zM611 122.39h1.72v1.35h-1.72zM611 149.48h1.72v1.35h-1.72zM614.44 152.19h1.72v1.35h-1.72zM619.59 126.46h1.72v1.35h-1.72zM621.3 125.1h1.72v2.71h-1.72zM626.45 122.39h1.72v1.35h-1.72zM628.17 130.52h1.72v1.35h-1.72z"/>
<path fill="#b7b7b7" stroke="#b7b7b7" d="M612.72 135.94h1.72v1.35h-1.72zM617.87 126.46h1.72v2.71h-1.72zM619.59 125.1h1.72v1.35h-1.72zM621.3 114.27h1.72v1.35h-1.72zM621.3 130.52h1.72v1.35h-1.72zM631.6 141.36h1.72v1.35h-1.72zM633.32 150.84h1.72v1.35h-1.72zM636.75 150.84h1.72v1.35h-1.72z"/>
<path fill="#b9b9b9" stroke="#b9b9b9" d="M607.57 119.68h1.72v1.35h-1.72zM611 145.42h1.72v1.35h-1.72zM623.02 116.98h1.72v1.35h-1.72zM626.45 140h1.72v1.35h-1.72zM628.17 127.81h1.72v2.71h-1.72z"/>
<path fill="#bbbbbb" stroke="#bbbbbb" d="M612.72 133.23h1.72v2.71h-1.72zM624.73 123.75h1.72v1.35h-1.72zM640.18 153.55h1.72v1.35h-1.72z"/>
<path fill="#bdbdbd" stroke="#bdbdbd" d="M607.57 118.33h1.72v1.35h-1.72zM607.57 144.06h1.72v1.35h-1.72zM612.72 111.56h1.72v1.35h-1.72zM614.44 153.55h1.72v1.35h-1.72zM626.45 138.65h1.72v1.35h-1.72zM629.88 142.71h1.72v1.35h-1.72z"/>
<path fill="#bfbfbf" stroke="#bfbfbf" d="M624.73 118.33h1.72v1.35h-1.72zM624.73 121.04h1.72v2.71h-1.72zM626.45 121.04h1.72v1.35h-1.72zM631.6 153.55h1.72v1.35h-1.72zM633.32 149.48h1.72v1.35h-1.72zM641.9 153.55h1.72v1.35h-1.72zM672.79 123.75h1.72v2.71h-1.72zM676.22 125.1h1.72v1.35h-1.72z"/>
<path fill="#c1c1c1" stroke="#c1c1c1" d="M611 150.84h1.72v1.35h-1.72zM617.87 129.17h1.72v1.35h-1.72zM624.73 119.68h1.72v1.35h-1.72zM626.45 137.29h1.72v1.35h-1.72zM629.88 141.36h1.72v1.35h-1.72zM671.07 123.75h1.72v1.35h-1.72zM676.22 126.46h1.72v1.35h-1.72z"/>
<path fill="#c3c3c3" stroke="#c3c3c3" d="M607.57 125.1h1.72v1.35h-1.72zM619.59 108.85h1.72v1.35h-1.72zM621.3 149.48h1.72v1.35h-1.72zM623.02 137.29h1.72v1.35h-1.72zM631.6 140h1.72v1.35h-1.72zM631.6 152.19h1.72v1.35h-1.72zM671.07 125.1h1.72v1.35h-1.72z"/>
<path fill="#c5c5c5" stroke="#c5c5c5" d="M616.15 135.94h1.72v1.35h-1.72zM624.73 129.17h1.72v1.35h-1.72zM633.32 153.55h1.72v1.35h-1.72zM672.79 122.39h1.72v1.35h-1.72zM674.51 126.46h1.72v1.35h-1.72zM676.22 123.75h1.72v1.35h-1.72z"/>
<path fill="#c7c7c7" stroke="#c7c7c7" d="M605.86 127.81h1.72v2.71h-1.72zM621.3 112.91h1.72v1.35h-1.72zM623.02 135.94h1.72v1.35h-1.72zM626.45 135.94h1.72v1.35h-1.72zM629.88 140h1.72v1.35h-1.72zM665.92 141.36h1.72v1.35h-1.72zM672.79 126.46h1.72v1.35h-1.72z"/>
<path fill="#c9c9c9" stroke="#c9c9c9" d="M605.86 126.46h1.72v1.35h-1.72zM607.57 123.75h1.72v1.35h-1.72zM607.57 145.42h1.72v1.35h-1.72zM611 152.19h1.72v1.35h-1.72zM614.44 107.49h1.72v1.35h-1.72zM616.15 108.85h1.72v1.35h-1.72zM617.87 114.27h1.72v1.35h-1.72zM623.02 131.87h1.72v1.35h-1.72zM624.73 130.52h1.72v1.35h-1.72zM626.45 119.68h1.72v1.35h-1.72zM629.88 138.65h1.72v1.35h-1.72zM631.6 138.65h1.72v1.35h-1.72zM633.32 148.13h1.72v1.35h-1.72zM636.75 149.48h1.72v1.35h-1.72zM640.18 152.19h1.72v1.35h-1.72zM648.76 110.2h1.72v1.35h-1.72zM664.21 141.36h1.72v1.35h-1.72zM665.92 140h1.72v1.35h-1.72zM665.92 142.71h1.72v1.35h-1.72zM667.64 141.36h1.72v2.71h-1.72zM674.51 122.39h1.72v1.35h-1.72z"/>
<path fill="#cbcbcb" stroke="#cbcbcb" d="M605.86 125.1h1.72v1.35h-1.72zM607.57 122.39h1.72v1.35h-1.72zM612.72 110.2h1.72v1.35h-1.72zM623.02 134.58h1.72v1.35h-1.72zM626.45 134.58h1.72v1.35h-1.72zM628.17 126.46h1.72v1.35h-1.72zM629.88 137.29h1.72v1.35h-1.72zM648.76 111.56h1.72v1.35h-1.72zM664.21 140h1.72v1.35h-1.72zM664.21 142.71h1.72v1.35h-1.72zM667.64 140h1.72v1.35h-1.72zM677.94 123.75h1.72v1.35h-1.72z"/>
<path fill="#cdcdcd" stroke="#cdcdcd" d="M605.86 123.75h1.72v1.35h-1.72zM607.57 121.04h1.72v1.35h-1.72zM609.29 112.91h1.72v1.35h-1.72zM623.02 133.23h1.72v1.35h-1.72zM626.45 133.23h1.72v1.35h-1.72zM641.9 152.19h1.72v1.35h-1.72zM662.49 140h1.72v4.06h-1.72zM665.92 144.06h1.72v1.35h-1.72zM667.64 144.06h1.72v1.35h-1.72zM669.36 141.36h1.72v2.71h-1.72zM676.22 127.81h1.72v1.35h-1.72z"/>
<path fill="#cfcfcf" stroke="#cfcfcf" d="M607.57 116.98h1.72v1.35h-1.72zM617.87 112.91h1.72v1.35h-1.72zM623.02 149.48h1.72v1.35h-1.72zM626.45 118.33h1.72v1.35h-1.72zM626.45 129.17h1.72v1.35h-1.72zM648.76 108.85h1.72v1.35h-1.72zM664.21 138.65h1.72v1.35h-1.72zM664.21 144.06h1.72v1.35h-1.72zM665.92 138.65h1.72v1.35h-1.72zM669.36 140h1.72v1.35h-1.72zM671.07 122.39h1.72v1.35h-1.72z"/>
<path fill="#d1d1d1" stroke="#d1d1d1" d="M605.86 122.39h1.72v1.35h-1.72zM611 108.85h1.72v1.35h-1.72zM611 112.91h1.72v1.35h-1.72zM611 153.55h1.72v1.35h-1.72zM616.15 134.58h1.72v1.35h-1.72zM619.59 114.27h1.72v2.71h-1.72zM623.02 150.84h1.72v2.71h-1.72zM626.45 130.52h1.72v1.35h-1.72zM629.88 135.94h1.72v1.35h-1.72zM660.78 141.36h1.72v1.35h-1.72zM662.49 138.65h1.72v1.35h-1.72zM667.64 138.65h1.72v1.35h-1.72zM669.36 144.06h1.72v1.35h-1.72zM671.07 126.46h1.72v1.35h-1.72zM671.07 141.36h1.72v2.71h-1.72z"/>
<path fill="#d3d3d3" stroke="#d3d3d3" d="M604.14 141.36h1.72v1.35h-1.72zM605.86 133.23h1.72v1.35h-1.72zM611 118.33h1.72v1.35h-1.72zM617.87 130.52h1.72v1.35h-1.72zM619.59 119.68h1.72v1.35h-1.72zM621.3 111.56h1.72v1.35h-1.72zM621.3 150.84h1.72v1.35h-1.72zM623.02 153.55h1.72v1.35h-1.72zM624.73 145.42h1.72v1.35h-1.72zM631.6 135.94h1.72v2.71h-1.72zM636.75 148.13h1.72v1.35h-1.72zM660.78 140h1.72v1.35h-1.72zM660.78 142.71h1.72v1.35h-1.72zM662.49 144.06h1.72v1.35h-1.72zM674.51 127.81h1.72v1.35h-1.72zM676.22 122.39h1.72v1.35h-1.72z"/>
<path fill="#d5d5d5" stroke="#d5d5d5" d="M605.86 121.04h1.72v1.35h-1.72zM607.57 115.62h1.72v1.35h-1.72zM611 115.62h1.72v2.71h-1.72zM619.59 112.91h1.72v1.35h-1.72zM626.45 116.98h1.72v1.35h-1.72zM628.17 125.1h1.72v1.35h-1.72zM631.6 134.58h1.72v1.35h-1.72zM635.03 145.42h1.72v1.35h-1.72zM641.9 150.84h1.72v1.35h-1.72zM648.76 112.91h1.72v1.35h-1.72zM665.92 145.42h1.72v1.35h-1.72zM667.64 145.42h1.72v1.35h-1.72zM669.36 138.65h1.72v1.35h-1.72zM671.07 140h1.72v1.35h-1.72zM671.07 144.06h1.72v1.35h-1.72zM672.79 121.04h1.72v1.35h-1.72zM672.79 127.81h1.72v1.35h-1.72z"/>
<path fill="#d7d7d7" stroke="#d7d7d7" d="M609.29 111.56h1.72v1.35h-1.72zM611 111.56h1.72v1.35h-1.72zM611 119.68h1.72v1.35h-1.72zM612.72 108.85h1.72v1.35h-1.72zM619.59 107.49h1.72v1.35h-1.72zM619.59 116.98h1.72v1.35h-1.72zM626.45 131.87h1.72v1.35h-1.72zM631.6 149.48h1.72v2.71h-1.72zM633.32 140h1.72v1.35h-1.72zM635.03 144.06h1.72v1.35h-1.72zM640.18 150.84h1.72v1.35h-1.72zM645.33 108.85h1.72v1.35h-1.72zM659.06 141.36h1.72v1.35h-1.72zM660.78 138.65h1.72v1.35h-1.72zM660.78 144.06h1.72v1.35h-1.72zM664.21 137.29h1.72v1.35h-1.72zM664.21 145.42h1.72v1.35h-1.72zM665.92 137.29h1.72v1.35h-1.72zM669.36 125.1h1.72v1.35h-1.72zM669.36 145.42h1.72v1.35h-1.72zM672.79 141.36h1.72v2.71h-1.72zM674.51 129.17h1.72v1.35h-1.72zM677.94 125.1h1.72v2.71h-1.72z"/>
<path fill="#d9d9d9" stroke="#d9d9d9" d="M604.14 142.71h1.72v1.35h-1.72zM604.14 145.42h1.72v1.35h-1.72zM605.86 119.68h1.72v1.35h-1.72zM605.86 130.52h1.72v2.71h-1.72zM605.86 134.58h1.72v1.35h-1.72zM607.57 131.87h1.72v1.35h-1.72zM611 114.27h1.72v1.35h-1.72zM617.87 111.56h1.72v1.35h-1.72zM619.59 118.33h1.72v1.35h-1.72zM623.02 115.62h1.72v1.35h-1.72zM624.73 144.06h1.72v1.35h-1.72zM628.17 123.75h1.72v1.35h-1.72zM629.88 127.81h1.72v2.71h-1.72zM631.6 148.13h1.72v1.35h-1.72zM645.33 110.2h1.72v1.35h-1.72zM647.05 110.2h1.72v1.35h-1.72zM648.76 107.49h1.72v1.35h-1.72zM659.06 140h1.72v1.35h-1.72zM659.06 142.71h1.72v1.35h-1.72zM662.49 137.29h1.72v1.35h-1.72zM662.49 145.42h1.72v1.35h-1.72zM667.64 137.29h1.72v1.35h-1.72zM671.07 121.04h1.72v1.35h-1.72zM671.07 138.65h1.72v1.35h-1.72zM671.07 145.42h1.72v1.35h-1.72zM677.94 122.39h1.72v1.35h-1.72z"/>
<path fill="#dbdbdb" stroke="#dbdbdb" d="M604.14 126.46h1.72v1.35h-1.72zM605.86 140h1.72v1.35h-1.72zM609.29 138.65h1.72v1.35h-1.72zM621.3 152.19h1.72v1.35h-1.72zM631.6 146.77h1.72v1.35h-1.72zM633.32 138.65h1.72v1.35h-1.72zM647.05 108.85h1.72v1.35h-1.72zM659.06 138.65h1.72v1.35h-1.72zM660.78 137.29h1.72v1.35h-1.72zM669.36 137.29h1.72v1.35h-1.72zM672.79 140h1.72v1.35h-1.72zM672.79 144.06h1.72v1.35h-1.72zM674.51 121.04h1.72v1.35h-1.72zM676.22 129.17h1.72v1.35h-1.72z"/>
<path fill="#dddddd" stroke="#dddddd" d="M604.14 125.1h1.72v1.35h-1.72zM604.14 144.06h1.72v1.35h-1.72zM605.86 118.33h1.72v1.35h-1.72zM607.57 146.77h1.72v1.35h-1.72zM609.29 140h1.72v1.35h-1.72zM611 107.49h1.72v1.35h-1.72zM611 110.2h1.72v1.35h-1.72zM614.44 106.14h1.72v1.35h-1.72zM617.87 131.87h1.72v2.71h-1.72zM621.3 110.2h1.72v1.35h-1.72zM621.3 153.55h1.72v1.35h-1.72zM628.17 122.39h1.72v1.35h-1.72zM629.88 130.52h1.72v2.71h-1.72zM629.88 134.58h1.72v1.35h-1.72zM631.6 133.23h1.72v1.35h-1.72zM645.33 107.49h1.72v1.35h-1.72zM645.33 111.56h1.72v1.35h-1.72zM647.05 111.56h1.72v1.35h-1.72zM650.48 110.2h1.72v2.71h-1.72zM653.91 112.91h1.72v1.35h-1.72zM657.34 141.36h1.72v1.35h-1.72zM659.06 144.06h1.72v1.35h-1.72zM660.78 145.42h1.72v1.35h-1.72zM665.92 146.77h1.72v1.35h-1.72zM667.64 146.77h1.72v1.35h-1.72zM669.36 122.39h1.72v2.71h-1.72zM669.36 146.77h1.72v1.35h-1.72z"/>
<path fill="#dfdfdf" stroke="#dfdfdf" d="M604.14 146.77h1.72v1.35h-1.72zM605.86 141.36h1.72v1.35h-1.72zM607.57 133.23h1.72v1.35h-1.72zM609.29 141.36h1.72v1.35h-1.72zM623.02 114.27h1.72v1.35h-1.72zM628.17 116.98h1.72v1.35h-1.72zM633.32 137.29h1.72v1.35h-1.72zM635.03 142.71h1.72v1.35h-1.72zM640.18 149.48h1.72v1.35h-1.72zM641.9 149.48h1.72v1.35h-1.72zM643.61 153.55h1.72v1.35h-1.72zM653.91 111.56h1.72v1.35h-1.72zM653.91 114.27h1.72v1.35h-1.72zM657.34 114.27h1.72v2.71h-1.72zM657.34 140h1.72v1.35h-1.72zM657.34 142.71h1.72v1.35h-1.72zM659.06 115.62h1.72v2.71h-1.72zM659.06 137.29h1.72v1.35h-1.72zM662.49 135.94h1.72v1.35h-1.72zM664.21 135.94h1.72v1.35h-1.72zM664.21 146.77h1.72v1.35h-1.72zM665.92 135.94h1.72v1.35h-1.72zM671.07 127.81h1.72v1.35h-1.72zM671.07 137.29h1.72v1.35h-1.72zM672.79 138.65h1.72v1.35h-1.72zM672.79 145.42h1.72v1.35h-1.72zM674.51 141.36h1.72v2.71h-1.72zM677.94 127.81h1.72v1.35h-1.72z"/>
<path fill="#e1e1e1" stroke="#e1e1e1" d="M604.14 133.23h1.72v1.35h-1.72zM609.29 110.2h1.72v1.35h-1.72zM609.29 114.27h1.72v1.35h-1.72zM609.29 142.71h1.72v1.35h-1.72zM616.15 130.52h1.72v4.06h-1.72zM624.73 116.98h1.72v1.35h-1.72zM628.17 115.62h1.72v1.35h-1.72zM631.6 131.87h1.72v1.35h-1.72zM647.05 107.49h1.72v1.35h-1.72zM647.05 153.55h1.72v1.35h-1.72zM650.48 108.85h1.72v1.35h-1.72zM650.48 112.91h1.72v1.35h-1.72zM652.19 111.56h1.72v1.35h-1.72zM657.34 116.98h1.72v1.35h-1.72zM657.34 138.65h1.72v1.35h-1.72zM662.49 146.77h1.72v1.35h-1.72zM664.21 119.68h1.72v1.35h-1.72zM665.92 118.33h1.72v1.35h-1.72zM667.64 121.04h1.72v2.71h-1.72zM667.64 135.94h1.72v1.35h-1.72zM669.36 121.04h1.72v1.35h-1.72zM669.36 126.46h1.72v1.35h-1.72zM671.07 146.77h1.72v1.35h-1.72zM674.51 140h1.72v1.35h-1.72zM674.51 144.06h1.72v1.35h-1.72zM676.22 121.04h1.72v1.35h-1.72z"/>
<path fill="#e3e3e3" stroke="#e3e3e3" d="M604.14 131.87h1.72v1.35h-1.72zM604.14 134.58h1.72v1.35h-1.72zM605.86 135.94h1.72v1.35h-1.72zM605.86 142.71h1.72v1.35h-1.72zM607.57 111.56h1.72v1.35h-1.72zM607.57 134.58h1.72v2.71h-1.72zM607.57 148.13h1.72v1.35h-1.72zM611 106.14h1.72v1.35h-1.72zM612.72 148.13h1.72v4.06h-1.72zM616.15 107.49h1.72v1.35h-1.72zM621.3 107.49h1.72v2.71h-1.72zM624.73 115.62h1.72v1.35h-1.72zM629.88 133.23h1.72v1.35h-1.72zM633.32 133.23h1.72v1.35h-1.72zM633.32 135.94h1.72v1.35h-1.72zM633.32 141.36h1.72v1.35h-1.72zM633.32 146.77h1.72v1.35h-1.72zM636.75 146.77h1.72v1.35h-1.72zM638.46 153.55h1.72v1.35h-1.72zM640.18 148.13h1.72v1.35h-1.72zM648.76 114.27h1.72v1.35h-1.72zM652.19 110.2h1.72v1.35h-1.72zM652.19 112.91h1.72v2.71h-1.72zM655.63 112.91h1.72v1.35h-1.72zM657.34 144.06h1.72v1.35h-1.72zM659.06 114.27h1.72v1.35h-1.72zM659.06 118.33h1.72v1.35h-1.72zM659.06 145.42h1.72v1.35h-1.72zM660.78 135.94h1.72v1.35h-1.72zM664.21 118.33h1.72v1.35h-1.72zM665.92 122.39h1.72v1.35h-1.72zM669.36 135.94h1.72v1.35h-1.72zM672.79 129.17h1.72v1.35h-1.72zM674.51 145.42h1.72v1.35h-1.72zM679.65 125.1h1.72v2.71h-1.72z"/>
<path fill="#e5e5e5" stroke="#e5e5e5" d="M604.14 130.52h1.72v1.35h-1.72zM604.14 148.13h1.72v1.35h-1.72zM605.86 116.98h1.72v1.35h-1.72zM607.57 114.27h1.72v1.35h-1.72zM609.29 115.62h1.72v2.71h-1.72zM609.29 144.06h1.72v1.35h-1.72zM612.72 107.49h1.72v1.35h-1.72zM617.87 110.2h1.72v1.35h-1.72zM624.73 112.91h1.72v1.35h-1.72zM631.6 130.52h1.72v1.35h-1.72zM633.32 134.58h1.72v1.35h-1.72zM633.32 142.71h1.72v1.35h-1.72zM633.32 145.42h1.72v1.35h-1.72zM635.03 137.29h1.72v1.35h-1.72zM638.46 145.42h1.72v1.35h-1.72zM640.18 142.71h1.72v2.71h-1.72zM645.33 106.14h1.72v1.35h-1.72zM647.05 112.91h1.72v1.35h-1.72zM653.91 110.2h1.72v1.35h-1.72zM655.63 140h1.72v4.06h-1.72zM657.34 112.91h1.72v1.35h-1.72zM657.34 137.29h1.72v1.35h-1.72zM659.06 135.94h1.72v1.35h-1.72zM660.78 146.77h1.72v1.35h-1.72zM664.21 121.04h1.72v1.35h-1.72zM665.92 148.13h1.72v1.35h-1.72zM667.64 119.68h1.72v1.35h-1.72zM667.64 123.75h1.72v2.71h-1.72zM667.64 148.13h1.72v1.35h-1.72zM669.36 148.13h1.72v1.35h-1.72zM671.07 119.68h1.72v1.35h-1.72zM671.07 135.94h1.72v1.35h-1.72zM672.79 119.68h1.72v1.35h-1.72zM672.79 137.29h1.72v1.35h-1.72zM672.79 146.77h1.72v1.35h-1.72zM674.51 130.52h1.72v1.35h-1.72zM674.51 138.65h1.72v1.35h-1.72zM676.22 141.36h1.72v2.71h-1.72zM679.65 123.75h1.72v1.35h-1.72z"/>
<path fill="#e7e7e7" stroke="#e7e7e7" d="M604.14 135.94h1.72v1.35h-1.72zM604.14 140h1.72v1.35h-1.72zM605.86 137.29h1.72v1.35h-1.72zM605.86 144.06h1.72v1.35h-1.72zM607.57 149.48h1.72v1.35h-1.72zM612.72 152.19h1.72v1.35h-1.72zM619.59 106.14h1.72v1.35h-1.72zM624.73 114.27h1.72v1.35h-1.72zM626.45 115.62h1.72v1.35h-1.72zM633.32 131.87h1.72v1.35h-1.72zM633.32 144.06h1.72v1.35h-1.72zM635.03 141.36h1.72v1.35h-1.72zM636.75 144.06h1.72v1.35h-1.72zM638.46 148.13h1.72v5.42h-1.72zM640.18 145.42h1.72v2.71h-1.72zM643.61 107.49h1.72v2.71h-1.72zM645.33 112.91h1.72v1.35h-1.72zM647.05 152.19h1.72v1.35h-1.72zM648.76 106.14h1.72v1.35h-1.72zM650.48 114.27h1.72v1.35h-1.72zM653.91 115.62h1.72v1.35h-1.72zM655.63 138.65h1.72v1.35h-1.72zM657.34 118.33h1.72v1.35h-1.72zM657.34 145.42h1.72v1.35h-1.72zM662.49 118.33h1.72v1.35h-1.72zM662.49 134.58h1.72v1.35h-1.72zM664.21 116.98h1.72v1.35h-1.72zM664.21 134.58h1.72v1.35h-1.72zM664.21 148.13h1.72v1.35h-1.72zM665.92 116.98h1.72v1.35h-1.72zM665.92 119.68h1.72v2.71h-1.72zM665.92 134.58h1.72v1.35h-1.72zM667.64 134.58h1.72v1.35h-1.72zM669.36 119.68h1.72v1.35h-1.72zM671.07 148.13h1.72v1.35h-1.72zM676.22 140h1.72v1.35h-1.72zM676.22 144.06h1.72v1.35h-1.72zM679.65 127.81h1.72v1.35h-1.72z"/>
<path fill="#e9e9e9" stroke="#e9e9e9" d="M602.42 133.23h1.72v8.13h-1.72zM604.14 123.75h1.72v1.35h-1.72zM604.14 129.17h1.72v1.35h-1.72zM604.14 137.29h1.72v2.71h-1.72zM605.86 138.65h1.72v1.35h-1.72zM607.57 110.2h1.72v1.35h-1.72zM607.57 150.84h1.72v1.35h-1.72zM609.29 108.85h1.72v1.35h-1.72zM626.45 114.27h1.72v1.35h-1.72zM631.6 129.17h1.72v1.35h-1.72zM635.03 135.94h1.72v1.35h-1.72zM636.75 145.42h1.72v1.35h-1.72zM638.46 144.06h1.72v1.35h-1.72zM638.46 146.77h1.72v1.35h-1.72zM640.18 141.36h1.72v1.35h-1.72zM643.61 110.2h1.72v1.35h-1.72zM647.05 106.14h1.72v1.35h-1.72zM647.05 150.84h1.72v1.35h-1.72zM652.19 108.85h1.72v1.35h-1.72zM652.19 115.62h1.72v1.35h-1.72zM653.91 140h1.72v2.71h-1.72zM655.63 111.56h1.72v1.35h-1.72zM655.63 114.27h1.72v1.35h-1.72zM655.63 137.29h1.72v1.35h-1.72zM655.63 144.06h1.72v1.35h-1.72zM657.34 135.94h1.72v1.35h-1.72zM659.06 112.91h1.72v1.35h-1.72zM659.06 146.77h1.72v1.35h-1.72zM660.78 116.98h1.72v2.71h-1.72zM660.78 134.58h1.72v1.35h-1.72zM662.49 116.98h1.72v1.35h-1.72zM662.49 119.68h1.72v1.35h-1.72zM662.49 148.13h1.72v1.35h-1.72zM664.21 122.39h1.72v1.35h-1.72zM665.92 123.75h1.72v1.35h-1.72zM667.64 118.33h1.72v1.35h-1.72zM669.36 118.33h1.72v1.35h-1.72zM669.36 134.58h1.72v1.35h-1.72zM671.07 129.17h1.72v1.35h-1.72zM672.79 135.94h1.72v1.35h-1.72zM674.51 119.68h1.72v1.35h-1.72zM674.51 137.29h1.72v1.35h-1.72zM674.51 146.77h1.72v1.35h-1.72zM676.22 130.52h1.72v1.35h-1.72zM676.22 145.42h1.72v1.35h-1.72zM677.94 121.04h1.72v1.35h-1.72zM677.94 129.17h1.72v1.35h-1.72z"/>
<path fill="#ebebeb" stroke="#ebebeb" d="M602.42 141.36h1.72v1.35h-1.72zM604.14 115.62h1.72v1.35h-1.72zM604.14 127.81h1.72v1.35h-1.72zM605.86 114.27h1.72v2.71h-1.72zM605.86 145.42h1.72v1.35h-1.72zM607.57 112.91h1.72v1.35h-1.72zM609.29 145.42h1.72v1.35h-1.72zM621.3 106.14h1.72v1.35h-1.72zM623.02 107.49h1.72v1.35h-1.72zM624.73 111.56h1.72v1.35h-1.72zM628.17 114.27h1.72v1.35h-1.72zM629.88 126.46h1.72v1.35h-1.72zM635.03 134.58h1.72v1.35h-1.72zM635.03 140h1.72v1.35h-1.72zM636.75 137.29h1.72v6.77h-1.72zM638.46 142.71h1.72v1.35h-1.72zM641.9 148.13h1.72v1.35h-1.72zM643.61 152.19h1.72v1.35h-1.72zM650.48 107.49h1.72v1.35h-1.72zM653.91 138.65h1.72v1.35h-1.72zM653.91 142.71h1.72v1.35h-1.72zM655.63 115.62h1.72v2.71h-1.72zM655.63 145.42h1.72v1.35h-1.72zM657.34 111.56h1.72v1.35h-1.72zM657.34 146.77h1.72v1.35h-1.72zM659.06 134.58h1.72v1.35h-1.72zM660.78 115.62h1.72v1.35h-1.72zM660.78 148.13h1.72v1.35h-1.72zM662.49 115.62h1.72v1.35h-1.72zM667.64 116.98h1.72v1.35h-1.72zM667.64 126.46h1.72v1.35h-1.72zM671.07 134.58h1.72v1.35h-1.72zM672.79 148.13h1.72v1.35h-1.72zM676.22 138.65h1.72v1.35h-1.72zM677.94 141.36h1.72v2.71h-1.72z"/>
<path fill="#ededed" stroke="#ededed" d="M600.71 141.36h1.72v1.35h-1.72zM602.42 142.71h1.72v1.35h-1.72zM604.14 114.27h1.72v1.35h-1.72zM604.14 122.39h1.72v1.35h-1.72zM605.86 112.91h1.72v1.35h-1.72zM607.57 153.55h1.72v1.35h-1.72zM609.29 146.77h1.72v1.35h-1.72zM614.44 104.79h1.72v1.35h-1.72zM617.87 108.85h1.72v1.35h-1.72zM623.02 106.14h1.72v1.35h-1.72zM623.02 108.85h1.72v1.35h-1.72zM623.02 112.91h1.72v1.35h-1.72zM626.45 112.91h1.72v1.35h-1.72zM629.88 121.04h1.72v1.35h-1.72zM631.6 125.1h1.72v1.35h-1.72zM631.6 127.81h1.72v1.35h-1.72zM635.03 130.52h1.72v4.06h-1.72zM635.03 138.65h1.72v1.35h-1.72zM638.46 141.36h1.72v1.35h-1.72zM641.9 110.2h1.72v1.35h-1.72zM643.61 111.56h1.72v1.35h-1.72zM643.61 150.84h1.72v1.35h-1.72zM645.33 153.55h1.72v1.35h-1.72zM647.05 114.27h1.72v1.35h-1.72zM647.05 149.48h1.72v1.35h-1.72zM648.76 115.62h1.72v1.35h-1.72zM650.48 115.62h1.72v1.35h-1.72zM652.19 141.36h1.72v1.35h-1.72zM653.91 108.85h1.72v1.35h-1.72zM653.91 116.98h1.72v1.35h-1.72zM653.91 137.29h1.72v1.35h-1.72zM653.91 144.06h1.72v1.35h-1.72zM655.63 135.94h1.72v1.35h-1.72zM657.34 119.68h1.72v1.35h-1.72zM657.34 134.58h1.72v1.35h-1.72zM659.06 119.68h1.72v1.35h-1.72zM659.06 148.13h1.72v1.35h-1.72zM660.78 119.68h1.72v1.35h-1.72zM662.49 121.04h1.72v1.35h-1.72zM662.49 133.23h1.72v1.35h-1.72zM664.21 115.62h1.72v1.35h-1.72zM664.21 133.23h1.72v1.35h-1.72zM664.21 149.48h1.72v1.35h-1.72zM665.92 125.1h1.72v1.35h-1.72zM665.92 133.23h1.72v1.35h-1.72zM665.92 149.48h1.72v1.35h-1.72zM667.64 133.23h1.72v1.35h-1.72zM667.64 149.48h1.72v1.35h-1.72zM669.36 127.81h1.72v1.35h-1.72zM669.36 149.48h1.72v1.35h-1.72zM671.07 118.33h1.72v1.35h-1.72zM672.79 130.52h1.72v1.35h-1.72zM674.51 135.94h1.72v1.35h-1.72zM674.51 148.13h1.72v1.35h-1.72zM676.22 137.29h1.72v1.35h-1.72zM676.22 146.77h1.72v1.35h-1.72zM677.94 140h1.72v1.35h-1.72zM677.94 144.06h1.72v1.35h-1.72zM679.65 122.39h1.72v1.35h-1.72z"/>
<path fill="#efefef" stroke="#efefef" d="M600.71 131.87h1.72v1.35h-1.72zM600.71 137.29h1.72v2.71h-1.72zM602.42 126.46h1.72v1.35h-1.72zM602.42 144.06h1.72v1.35h-1.72zM605.86 146.77h1.72v2.71h-1.72zM607.57 108.85h1.72v1.35h-1.72zM607.57 152.19h1.72v1.35h-1.72zM609.29 107.49h1.72v1.35h-1.72zM609.29 148.13h1.72v2.71h-1.72zM609.29 153.55h1.72v1.35h-1.72zM611 104.79h1.72v1.35h-1.72zM612.72 106.14h1.72v1.35h-1.72zM612.72 153.55h1.72v1.35h-1.72zM624.73 110.2h1.72v1.35h-1.72zM628.17 112.91h1.72v1.35h-1.72zM629.88 119.68h1.72v1.35h-1.72zM629.88 125.1h1.72v1.35h-1.72zM631.6 126.46h1.72v1.35h-1.72zM633.32 130.52h1.72v1.35h-1.72zM636.75 135.94h1.72v1.35h-1.72zM640.18 140h1.72v1.35h-1.72zM641.9 108.85h1.72v1.35h-1.72zM641.9 146.77h1.72v1.35h-1.72zM643.61 106.14h1.72v1.35h-1.72zM643.61 146.77h1.72v1.35h-1.72zM643.61 149.48h1.72v1.35h-1.72zM645.33 104.79h1.72v1.35h-1.72zM645.33 114.27h1.72v1.35h-1.72zM645.33 152.19h1.72v1.35h-1.72zM647.05 146.77h1.72v2.71h-1.72zM652.19 107.49h1.72v1.35h-1.72zM652.19 138.65h1.72v2.71h-1.72zM652.19 142.71h1.72v2.71h-1.72zM653.91 145.42h1.72v1.35h-1.72zM655.63 110.2h1.72v1.35h-1.72zM655.63 118.33h1.72v1.35h-1.72zM655.63 146.77h1.72v1.35h-1.72zM657.34 148.13h1.72v1.35h-1.72zM659.06 111.56h1.72v1.35h-1.72zM660.78 114.27h1.72v1.35h-1.72zM660.78 121.04h1.72v1.35h-1.72zM660.78 133.23h1.72v1.35h-1.72zM660.78 149.48h1.72v1.35h-1.72zM662.49 149.48h1.72v1.35h-1.72zM665.92 115.62h1.72v1.35h-1.72zM669.36 133.23h1.72v1.35h-1.72zM671.07 130.52h1.72v1.35h-1.72zM671.07 133.23h1.72v1.35h-1.72zM671.07 149.48h1.72v1.35h-1.72zM672.79 118.33h1.72v1.35h-1.72zM672.79 134.58h1.72v1.35h-1.72zM672.79 149.48h1.72v1.35h-1.72zM674.51 131.87h1.72v1.35h-1.72zM676.22 119.68h1.72v1.35h-1.72zM677.94 138.65h1.72v1.35h-1.72zM677.94 145.42h1.72v1.35h-1.72z"/>
<path fill="#f1f1f1" stroke="#f1f1f1" d="M598.99 144.06h1.72v1.35h-1.72zM600.71 129.17h1.72v2.71h-1.72zM600.71 133.23h1.72v4.06h-1.72zM600.71 140h1.72v1.35h-1.72zM600.71 142.71h1.72v1.35h-1.72zM602.42 118.33h1.72v2.71h-1.72zM602.42 125.1h1.72v1.35h-1.72zM602.42 131.87h1.72v1.35h-1.72zM602.42 145.42h1.72v1.35h-1.72zM604.14 121.04h1.72v1.35h-1.72zM605.86 111.56h1.72v1.35h-1.72zM609.29 150.84h1.72v2.71h-1.72zM616.15 106.14h1.72v1.35h-1.72zM623.02 111.56h1.72v1.35h-1.72zM628.17 111.56h1.72v1.35h-1.72zM628.17 118.33h1.72v1.35h-1.72zM629.88 118.33h1.72v1.35h-1.72zM629.88 122.39h1.72v2.71h-1.72zM631.6 123.75h1.72v1.35h-1.72zM635.03 127.81h1.72v2.71h-1.72zM636.75 134.58h1.72v1.35h-1.72zM640.18 138.65h1.72v1.35h-1.72zM641.9 111.56h1.72v1.35h-1.72zM641.9 145.42h1.72v1.35h-1.72zM643.61 144.06h1.72v2.71h-1.72zM643.61 148.13h1.72v1.35h-1.72zM647.05 104.79h1.72v1.35h-1.72zM647.05 142.71h1.72v4.06h-1.72zM648.76 104.79h1.72v1.35h-1.72zM648.76 150.84h1.72v2.71h-1.72zM650.48 138.65h1.72v8.13h-1.72zM652.19 116.98h1.72v1.35h-1.72zM652.19 137.29h1.72v1.35h-1.72zM652.19 145.42h1.72v2.71h-1.72zM653.91 135.94h1.72v1.35h-1.72zM653.91 146.77h1.72v1.35h-1.72zM655.63 134.58h1.72v1.35h-1.72zM659.06 121.04h1.72v1.35h-1.72zM659.06 133.23h1.72v1.35h-1.72zM659.06 149.48h1.72v1.35h-1.72zM662.49 114.27h1.72v1.35h-1.72zM662.49 122.39h1.72v1.35h-1.72zM664.21 123.75h1.72v1.35h-1.72zM665.92 131.87h1.72v1.35h-1.72zM667.64 127.81h1.72v1.35h-1.72zM669.36 116.98h1.72v1.35h-1.72zM669.36 129.17h1.72v1.35h-1.72zM671.07 131.87h1.72v1.35h-1.72zM672.79 131.87h1.72v2.71h-1.72zM674.51 133.23h1.72v2.71h-1.72zM676.22 131.87h1.72v1.35h-1.72zM676.22 135.94h1.72v1.35h-1.72zM676.22 148.13h1.72v1.35h-1.72zM677.94 130.52h1.72v1.35h-1.72zM677.94 137.29h1.72v1.35h-1.72zM677.94 146.77h1.72v1.35h-1.72zM679.65 129.17h1.72v1.35h-1.72zM679.65 140h1.72v5.42h-1.72z"/>
<path fill="#f3f3f3" stroke="#f3f3f3" d="M598.99 142.71h1.72v1.35h-1.72zM600.71 125.1h1.72v4.06h-1.72zM602.42 116.98h1.72v1.35h-1.72zM602.42 123.75h1.72v1.35h-1.72zM602.42 130.52h1.72v1.35h-1.72zM604.14 112.91h1.72v1.35h-1.72zM604.14 149.48h1.72v1.35h-1.72zM605.86 110.2h1.72v1.35h-1.72zM605.86 149.48h1.72v1.35h-1.72zM607.57 107.49h1.72v1.35h-1.72zM609.29 106.14h1.72v1.35h-1.72zM617.87 106.14h1.72v2.71h-1.72zM623.02 104.79h1.72v1.35h-1.72zM623.02 110.2h1.72v1.35h-1.72zM624.73 108.85h1.72v1.35h-1.72zM626.45 111.56h1.72v1.35h-1.72zM628.17 121.04h1.72v1.35h-1.72zM629.88 116.98h1.72v1.35h-1.72zM631.6 122.39h1.72v1.35h-1.72zM635.03 125.1h1.72v2.71h-1.72zM636.75 130.52h1.72v4.06h-1.72zM638.46 137.29h1.72v4.06h-1.72zM640.18 137.29h1.72v1.35h-1.72zM641.9 107.49h1.72v1.35h-1.72zM641.9 144.06h1.72v1.35h-1.72zM643.61 112.91h1.72v1.35h-1.72zM643.61 142.71h1.72v1.35h-1.72zM645.33 149.48h1.72v2.71h-1.72zM647.05 140h1.72v2.71h-1.72zM648.76 140h1.72v10.84h-1.72zM648.76 153.55h1.72v1.35h-1.72zM650.48 106.14h1.72v1.35h-1.72zM650.48 116.98h1.72v1.35h-1.72zM650.48 137.29h1.72v1.35h-1.72zM652.19 135.94h1.72v1.35h-1.72zM652.19 148.13h1.72v2.71h-1.72zM653.91 107.49h1.72v1.35h-1.72zM653.91 118.33h1.72v1.35h-1.72zM653.91 134.58h1.72v1.35h-1.72zM653.91 148.13h1.72v1.35h-1.72zM655.63 148.13h1.72v1.35h-1.72zM657.34 110.2h1.72v1.35h-1.72zM657.34 121.04h1.72v1.35h-1.72zM657.34 133.23h1.72v1.35h-1.72zM657.34 149.48h1.72v1.35h-1.72zM660.78 112.91h1.72v1.35h-1.72zM660.78 122.39h1.72v1.35h-1.72zM660.78 131.87h1.72v1.35h-1.72zM662.49 131.87h1.72v1.35h-1.72zM662.49 150.84h1.72v1.35h-1.72zM664.21 114.27h1.72v1.35h-1.72zM664.21 131.87h1.72v1.35h-1.72zM664.21 150.84h1.72v1.35h-1.72zM665.92 126.46h1.72v1.35h-1.72zM665.92 150.84h1.72v1.35h-1.72zM667.64 115.62h1.72v1.35h-1.72zM667.64 131.87h1.72v1.35h-1.72zM667.64 150.84h1.72v1.35h-1.72zM669.36 130.52h1.72v2.71h-1.72zM669.36 150.84h1.72v1.35h-1.72zM671.07 150.84h1.72v1.35h-1.72zM674.51 118.33h1.72v1.35h-1.72zM674.51 149.48h1.72v1.35h-1.72zM676.22 134.58h1.72v1.35h-1.72zM677.94 119.68h1.72v1.35h-1.72zM677.94 148.13h1.72v1.35h-1.72zM679.65 138.65h1.72v1.35h-1.72zM679.65 145.42h1.72v1.35h-1.72zM681.37 123.75h1.72v2.71h-1.72z"/>
<path fill="#f5f5f5" stroke="#f5f5f5" d="M597.27 135.94h1.72v1.35h-1.72zM598.99 129.17h1.72v2.71h-1.72zM598.99 138.65h1.72v4.06h-1.72zM598.99 145.42h1.72v1.35h-1.72zM600.71 122.39h1.72v2.71h-1.72zM602.42 114.27h1.72v2.71h-1.72zM602.42 146.77h1.72v1.35h-1.72zM602.42 149.48h1.72v1.35h-1.72zM604.14 116.98h1.72v4.06h-1.72zM604.14 150.84h1.72v1.35h-1.72zM621.3 104.79h1.72v1.35h-1.72zM628.17 119.68h1.72v1.35h-1.72zM629.88 114.27h1.72v2.71h-1.72zM631.6 119.68h1.72v2.71h-1.72zM633.32 127.81h1.72v2.71h-1.72zM635.03 123.75h1.72v1.35h-1.72zM636.75 127.81h1.72v2.71h-1.72zM638.46 135.94h1.72v1.35h-1.72zM640.18 134.58h1.72v2.71h-1.72zM641.9 112.91h1.72v1.35h-1.72zM641.9 135.94h1.72v8.13h-1.72zM645.33 141.36h1.72v8.13h-1.72zM647.05 103.43h1.72v1.35h-1.72zM647.05 115.62h1.72v1.35h-1.72zM647.05 138.65h1.72v1.35h-1.72zM648.76 116.98h1.72v1.35h-1.72zM648.76 137.29h1.72v2.71h-1.72zM650.48 135.94h1.72v1.35h-1.72zM650.48 146.77h1.72v1.35h-1.72zM652.19 118.33h1.72v1.35h-1.72zM652.19 134.58h1.72v1.35h-1.72zM652.19 150.84h1.72v1.35h-1.72zM653.91 133.23h1.72v1.35h-1.72zM653.91 149.48h1.72v1.35h-1.72zM655.63 108.85h1.72v1.35h-1.72zM655.63 119.68h1.72v1.35h-1.72zM655.63 133.23h1.72v1.35h-1.72zM655.63 149.48h1.72v1.35h-1.72zM655.63 153.55h1.72v1.35h-1.72zM657.34 131.87h1.72v1.35h-1.72zM657.34 150.84h1.72v1.35h-1.72zM659.06 122.39h1.72v1.35h-1.72zM659.06 131.87h1.72v1.35h-1.72zM659.06 150.84h1.72v1.35h-1.72zM660.78 150.84h1.72v1.35h-1.72zM662.49 112.91h1.72v1.35h-1.72zM662.49 123.75h1.72v1.35h-1.72zM662.49 130.52h1.72v1.35h-1.72zM664.21 125.1h1.72v1.35h-1.72zM664.21 130.52h1.72v1.35h-1.72zM665.92 114.27h1.72v1.35h-1.72zM665.92 127.81h1.72v1.35h-1.72zM665.92 130.52h1.72v1.35h-1.72zM667.64 129.17h1.72v2.71h-1.72zM671.07 116.98h1.72v1.35h-1.72zM672.79 150.84h1.72v1.35h-1.72zM676.22 133.23h1.72v1.35h-1.72zM676.22 149.48h1.72v1.35h-1.72zM677.94 131.87h1.72v1.35h-1.72zM677.94 135.94h1.72v1.35h-1.72zM679.65 121.04h1.72v1.35h-1.72zM679.65 137.29h1.72v1.35h-1.72zM679.65 146.77h1.72v1.35h-1.72zM681.37 122.39h1.72v1.35h-1.72zM681.37 126.46h1.72v1.35h-1.72zM681.37 140h1.72v5.42h-1.72z"/>
<path fill="#f7f7f7" stroke="#f7f7f7" d="M597.27 134.58h1.72v1.35h-1.72zM597.27 137.29h1.72v8.13h-1.72zM598.99 126.46h1.72v2.71h-1.72zM598.99 131.87h1.72v1.35h-1.72zM598.99 146.77h1.72v2.71h-1.72zM600.71 118.33h1.72v4.06h-1.72zM600.71 144.06h1.72v1.35h-1.72zM602.42 121.04h1.72v2.71h-1.72zM602.42 129.17h1.72v1.35h-1.72zM602.42 148.13h1.72v1.35h-1.72zM604.14 111.56h1.72v1.35h-1.72zM604.14 152.19h1.72v2.71h-1.72zM605.86 108.85h1.72v1.35h-1.72zM605.86 150.84h1.72v1.35h-1.72zM605.86 153.55h1.72v1.35h-1.72zM609.29 104.79h1.72v1.35h-1.72zM611 103.43h1.72v1.35h-1.72zM612.72 104.79h1.72v1.35h-1.72zM614.44 103.43h1.72v1.35h-1.72zM619.59 104.79h1.72v1.35h-1.72zM626.45 110.2h1.72v1.35h-1.72zM628.17 110.2h1.72v1.35h-1.72zM629.88 112.91h1.72v1.35h-1.72zM633.32 118.33h1.72v1.35h-1.72zM633.32 125.1h1.72v2.71h-1.72zM635.03 122.39h1.72v1.35h-1.72zM636.75 126.46h1.72v1.35h-1.72zM638.46 133.23h1.72v2.71h-1.72zM641.9 133.23h1.72v2.71h-1.72zM643.61 104.79h1.72v1.35h-1.72zM643.61 114.27h1.72v1.35h-1.72zM643.61 137.29h1.72v5.42h-1.72zM645.33 103.43h1.72v1.35h-1.72zM645.33 115.62h1.72v1.35h-1.72zM645.33 135.94h1.72v5.42h-1.72zM647.05 137.29h1.72v1.35h-1.72zM648.76 135.94h1.72v1.35h-1.72zM650.48 134.58h1.72v1.35h-1.72zM650.48 148.13h1.72v2.71h-1.72zM650.48 153.55h1.72v1.35h-1.72zM652.19 106.14h1.72v1.35h-1.72zM652.19 133.23h1.72v1.35h-1.72zM652.19 152.19h1.72v1.35h-1.72zM653.91 119.68h1.72v1.35h-1.72zM653.91 150.84h1.72v4.06h-1.72zM655.63 121.04h1.72v1.35h-1.72zM655.63 131.87h1.72v1.35h-1.72zM655.63 150.84h1.72v1.35h-1.72zM657.34 122.39h1.72v1.35h-1.72zM657.34 152.19h1.72v1.35h-1.72zM659.06 130.52h1.72v1.35h-1.72zM659.06 152.19h1.72v1.35h-1.72zM660.78 111.56h1.72v1.35h-1.72zM660.78 123.75h1.72v1.35h-1.72zM660.78 130.52h1.72v1.35h-1.72zM660.78 152.19h1.72v1.35h-1.72zM662.49 125.1h1.72v1.35h-1.72zM662.49 152.19h1.72v1.35h-1.72zM664.21 112.91h1.72v1.35h-1.72zM664.21 126.46h1.72v1.35h-1.72zM664.21 129.17h1.72v1.35h-1.72zM664.21 152.19h1.72v1.35h-1.72zM665.92 129.17h1.72v1.35h-1.72zM665.92 152.19h1.72v1.35h-1.72zM667.64 114.27h1.72v1.35h-1.72zM667.64 152.19h1.72v1.35h-1.72zM669.36 115.62h1.72v1.35h-1.72zM669.36 152.19h1.72v1.35h-1.72zM671.07 152.19h1.72v1.35h-1.72zM672.79 116.98h1.72v1.35h-1.72zM674.51 150.84h1.72v1.35h-1.72zM676.22 118.33h1.72v1.35h-1.72zM676.22 150.84h1.72v1.35h-1.72zM677.94 133.23h1.72v2.71h-1.72zM677.94 149.48h1.72v1.35h-1.72zM679.65 130.52h1.72v1.35h-1.72zM679.65 135.94h1.72v1.35h-1.72zM679.65 148.13h1.72v1.35h-1.72zM681.37 127.81h1.72v1.35h-1.72zM681.37 137.29h1.72v2.71h-1.72zM681.37 145.42h1.72v2.71h-1.72zM683.09 141.36h1.72v2.71h-1.72z"/>
<path fill="#f9f9f9" stroke="#f9f9f9" d="M595.56 134.58h1.72v6.77h-1.72zM597.27 133.23h1.72v1.35h-1.72zM597.27 145.42h1.72v4.06h-1.72zM598.99 119.68h1.72v6.77h-1.72zM598.99 149.48h1.72v1.35h-1.72zM600.71 114.27h1.72v4.06h-1.72zM600.71 145.42h1.72v2.71h-1.72zM600.71 153.55h1.72v1.35h-1.72zM602.42 112.91h1.72v1.35h-1.72zM602.42 127.81h1.72v1.35h-1.72zM602.42 150.84h1.72v1.35h-1.72zM604.14 108.85h1.72v2.71h-1.72zM605.86 107.49h1.72v1.35h-1.72zM605.86 152.19h1.72v1.35h-1.72zM607.57 106.14h1.72v1.35h-1.72zM616.15 104.79h1.72v1.35h-1.72zM617.87 104.79h1.72v1.35h-1.72zM623.02 103.43h1.72v1.35h-1.72zM624.73 107.49h1.72v1.35h-1.72zM626.45 108.85h1.72v1.35h-1.72zM629.88 111.56h1.72v1.35h-1.72zM631.6 115.62h1.72v4.06h-1.72zM633.32 115.62h1.72v2.71h-1.72zM633.32 119.68h1.72v2.71h-1.72zM633.32 123.75h1.72v1.35h-1.72zM636.75 125.1h1.72v1.35h-1.72zM638.46 129.17h1.72v4.06h-1.72zM640.18 133.23h1.72v1.35h-1.72zM641.9 106.14h1.72v1.35h-1.72zM641.9 114.27h1.72v1.35h-1.72zM641.9 131.87h1.72v1.35h-1.72zM643.61 133.23h1.72v4.06h-1.72zM645.33 134.58h1.72v1.35h-1.72zM647.05 116.98h1.72v1.35h-1.72zM647.05 134.58h1.72v2.71h-1.72zM648.76 103.43h1.72v1.35h-1.72zM648.76 118.33h1.72v1.35h-1.72zM648.76 133.23h1.72v2.71h-1.72zM650.48 104.79h1.72v1.35h-1.72zM650.48 118.33h1.72v1.35h-1.72zM650.48 131.87h1.72v2.71h-1.72zM650.48 150.84h1.72v2.71h-1.72zM652.19 119.68h1.72v1.35h-1.72zM652.19 131.87h1.72v1.35h-1.72zM652.19 153.55h1.72v1.35h-1.72zM653.91 106.14h1.72v1.35h-1.72zM653.91 121.04h1.72v1.35h-1.72zM653.91 130.52h1.72v2.71h-1.72zM655.63 107.49h1.72v1.35h-1.72zM655.63 130.52h1.72v1.35h-1.72zM655.63 152.19h1.72v1.35h-1.72zM657.34 108.85h1.72v1.35h-1.72zM657.34 129.17h1.72v2.71h-1.72zM657.34 153.55h1.72v1.35h-1.72zM659.06 110.2h1.72v1.35h-1.72zM659.06 123.75h1.72v1.35h-1.72zM659.06 129.17h1.72v1.35h-1.72zM659.06 153.55h1.72v1.35h-1.72zM660.78 125.1h1.72v5.42h-1.72zM662.49 111.56h1.72v1.35h-1.72zM662.49 126.46h1.72v4.06h-1.72zM662.49 153.55h1.72v1.35h-1.72zM664.21 127.81h1.72v1.35h-1.72zM664.21 153.55h1.72v1.35h-1.72zM665.92 112.91h1.72v1.35h-1.72zM665.92 153.55h1.72v1.35h-1.72zM667.64 153.55h1.72v1.35h-1.72zM669.36 153.55h1.72v1.35h-1.72zM671.07 115.62h1.72v1.35h-1.72zM672.79 152.19h1.72v1.35h-1.72zM674.51 116.98h1.72v1.35h-1.72zM674.51 152.19h1.72v1.35h-1.72zM676.22 152.19h1.72v1.35h-1.72zM677.94 118.33h1.72v1.35h-1.72zM677.94 150.84h1.72v1.35h-1.72zM679.65 119.68h1.72v1.35h-1.72zM679.65 131.87h1.72v4.06h-1.72zM679.65 149.48h1.72v1.35h-1.72zM681.37 121.04h1.72v1.35h-1.72zM681.37 134.58h1.72v2.71h-1.72zM681.37 148.13h1.72v1.35h-1.72zM683.09 137.29h1.72v4.06h-1.72zM683.09 144.06h1.72v4.06h-1.72z"/>
<path fill="#fbfbfb" stroke="#fbfbfb" d="M593.84 137.29h1.72v4.06h-1.72zM595.56 130.52h1.72v4.06h-1.72zM595.56 141.36h1.72v1.35h-1.72zM595.56 152.19h1.72v1.35h-1.72zM597.27 130.52h1.72v2.71h-1.72zM597.27 149.48h1.72v4.06h-1.72zM598.99 116.98h1.72v2.71h-1.72zM598.99 133.23h1.72v5.42h-1.72zM598.99 150.84h1.72v4.06h-1.72zM600.71 111.56h1.72v2.71h-1.72zM600.71 148.13h1.72v5.42h-1.72zM602.42 152.19h1.72v1.35h-1.72zM604.14 107.49h1.72v1.35h-1.72zM605.86 106.14h1.72v1.35h-1.72zM607.57 104.79h1.72v1.35h-1.72zM609.29 103.43h1.72v1.35h-1.72zM611 102.08h1.72v1.35h-1.72zM614.44 102.08h1.72v1.35h-1.72zM619.59 103.43h1.72v1.35h-1.72zM623.02 102.08h1.72v1.35h-1.72zM624.73 106.14h1.72v1.35h-1.72zM626.45 107.49h1.72v1.35h-1.72zM628.17 108.85h1.72v1.35h-1.72zM629.88 110.2h1.72v1.35h-1.72zM631.6 111.56h1.72v4.06h-1.72zM633.32 111.56h1.72v4.06h-1.72zM633.32 122.39h1.72v1.35h-1.72zM635.03 121.04h1.72v1.35h-1.72zM638.46 126.46h1.72v2.71h-1.72zM640.18 108.85h1.72v5.42h-1.72zM640.18 125.1h1.72v2.71h-1.72zM640.18 131.87h1.72v1.35h-1.72zM641.9 115.62h1.72v1.35h-1.72zM641.9 127.81h1.72v4.06h-1.72zM643.61 103.43h1.72v1.35h-1.72zM643.61 115.62h1.72v1.35h-1.72zM643.61 129.17h1.72v4.06h-1.72zM645.33 116.98h1.72v1.35h-1.72zM645.33 131.87h1.72v2.71h-1.72zM647.05 102.08h1.72v1.35h-1.72zM647.05 118.33h1.72v1.35h-1.72zM647.05 131.87h1.72v2.71h-1.72zM648.76 119.68h1.72v1.35h-1.72zM648.76 130.52h1.72v2.71h-1.72zM650.48 119.68h1.72v1.35h-1.72zM650.48 130.52h1.72v1.35h-1.72zM652.19 104.79h1.72v1.35h-1.72zM652.19 121.04h1.72v1.35h-1.72zM652.19 129.17h1.72v2.71h-1.72zM653.91 122.39h1.72v1.35h-1.72zM653.91 127.81h1.72v2.71h-1.72zM655.63 122.39h1.72v8.13h-1.72zM657.34 107.49h1.72v1.35h-1.72zM657.34 123.75h1.72v5.42h-1.72zM659.06 108.85h1.72v1.35h-1.72zM659.06 125.1h1.72v4.06h-1.72zM660.78 110.2h1.72v1.35h-1.72zM660.78 153.55h1.72v1.35h-1.72zM662.49 110.2h1.72v1.35h-1.72zM664.21 111.56h1.72v1.35h-1.72zM667.64 112.91h1.72v1.35h-1.72zM669.36 114.27h1.72v1.35h-1.72zM671.07 153.55h1.72v1.35h-1.72zM672.79 115.62h1.72v1.35h-1.72zM672.79 153.55h1.72v1.35h-1.72zM674.51 153.55h1.72v1.35h-1.72zM676.22 116.98h1.72v1.35h-1.72zM676.22 153.55h1.72v1.35h-1.72zM677.94 152.19h1.72v1.35h-1.72zM679.65 150.84h1.72v2.71h-1.72zM681.37 119.68h1.72v1.35h-1.72zM681.37 129.17h1.72v5.42h-1.72zM681.37 149.48h1.72v2.71h-1.72zM683.09 123.75h1.72v2.71h-1.72zM683.09 131.87h1.72v5.42h-1.72zM683.09 148.13h1.72v2.71h-1.72zM684.8 134.58h1.72v14.9h-1.72zM686.52 140h1.72v5.42h-1.72z"/>
<path fill="#fdfdfd" stroke="#fdfdfd" d="M593.84 127.81h1.72v9.48h-1.72zM593.84 141.36h1.72v9.48h-1.72zM595.56 122.39h1.72v8.13h-1.72zM595.56 142.71h1.72v9.48h-1.72zM595.56 153.55h1.72v1.35h-1.72zM597.27 115.62h1.72v6.77h-1.72zM597.27 125.1h1.72v5.42h-1.72zM597.27 153.55h1.72v1.35h-1.72zM598.99 107.49h1.72v9.48h-1.72zM600.71 106.14h1.72v5.42h-1.72zM602.42 107.49h1.72v5.42h-1.72zM602.42 153.55h1.72v1.35h-1.72zM604.14 104.79h1.72v2.71h-1.72zM605.86 102.08h1.72v4.06h-1.72zM607.57 102.08h1.72v2.71h-1.72zM609.29 102.08h1.72v1.35h-1.72zM611 100.72h1.72v1.35h-1.72zM612.72 103.43h1.72v1.35h-1.72zM614.44 100.72h1.72v1.35h-1.72zM616.15 102.08h1.72v2.71h-1.72zM617.87 100.72h1.72v4.06h-1.72zM619.59 102.08h1.72v1.35h-1.72zM621.3 103.43h1.72v1.35h-1.72zM623.02 100.72h1.72v1.35h-1.72zM624.73 103.43h1.72v2.71h-1.72zM626.45 104.79h1.72v2.71h-1.72zM628.17 106.14h1.72v2.71h-1.72zM629.88 104.79h1.72v5.42h-1.72zM631.6 104.79h1.72v6.77h-1.72zM633.32 106.14h1.72v5.42h-1.72zM635.03 110.2h1.72v10.84h-1.72zM636.75 111.56h1.72v13.54h-1.72zM638.46 111.56h1.72v14.9h-1.72zM640.18 107.49h1.72v1.35h-1.72zM640.18 114.27h1.72v4.06h-1.72zM640.18 121.04h1.72v4.06h-1.72zM640.18 127.81h1.72v4.06h-1.72zM641.9 104.79h1.72v1.35h-1.72zM641.9 116.98h1.72v4.06h-1.72zM641.9 123.75h1.72v4.06h-1.72zM643.61 116.98h1.72v12.19h-1.72zM645.33 102.08h1.72v1.35h-1.72zM645.33 118.33h1.72v13.54h-1.72zM647.05 100.72h1.72v1.35h-1.72zM647.05 119.68h1.72v12.19h-1.72zM648.76 100.72h1.72v2.71h-1.72zM648.76 121.04h1.72v9.48h-1.72zM650.48 102.08h1.72v2.71h-1.72zM650.48 121.04h1.72v9.48h-1.72zM652.19 103.43h1.72v1.35h-1.72zM652.19 122.39h1.72v6.77h-1.72zM653.91 103.43h1.72v2.71h-1.72zM653.91 123.75h1.72v4.06h-1.72zM655.63 104.79h1.72v2.71h-1.72zM657.34 106.14h1.72v1.35h-1.72zM659.06 107.49h1.72v1.35h-1.72zM660.78 107.49h1.72v2.71h-1.72zM662.49 108.85h1.72v1.35h-1.72zM664.21 110.2h1.72v1.35h-1.72zM665.92 110.2h1.72v2.71h-1.72zM667.64 111.56h1.72v1.35h-1.72zM669.36 112.91h1.72v1.35h-1.72zM671.07 112.91h1.72v2.71h-1.72zM672.79 114.27h1.72v1.35h-1.72zM674.51 114.27h1.72v2.71h-1.72zM676.22 115.62h1.72v1.35h-1.72zM677.94 116.98h1.72v1.35h-1.72zM677.94 153.55h1.72v1.35h-1.72zM679.65 116.98h1.72v2.71h-1.72zM679.65 153.55h1.72v1.35h-1.72zM681.37 118.33h1.72v1.35h-1.72zM681.37 152.19h1.72v2.71h-1.72zM683.09 119.68h1.72v4.06h-1.72zM683.09 126.46h1.72v5.42h-1.72zM683.09 150.84h1.72v4.06h-1.72zM684.8 121.04h1.72v13.54h-1.72zM684.8 149.48h1.72v4.06h-1.72zM686.52 123.75h1.72v16.25h-1.72zM686.52 145.42h1.72v6.77h-1.72zM688.24 123.75h1.72v27.09h-1.72zM689.95 126.46h1.72v21.67h-1.72zM691.67 137.29h1.72v6.77h-1.72z"/>
</g></defs>
<use href="#sc30" stroke-width="1.3"/><use href="#sc30" stroke-width="0"/>
</g>
<rect x="594.8" y="33.4" width="137.3" height="121.9" fill="none" stroke="#808080" stroke-width="1"/>
<text x="594.8" y="163.6" font-size="5.3" text-anchor="middle" font-family="'DejaVu Sans', 'Liberation Sans', sans-serif" fill="#262626" stroke="#262626" stroke-width=".14">−0.5</text>
<text x="611.96" y="163.6" font-size="5.3" text-anchor="middle" font-family="'DejaVu Sans', 'Liberation Sans', sans-serif" fill="#262626" stroke="#262626" stroke-width=".14">0.0</text>
<text x="629.12" y="163.6" font-size="5.3" text-anchor="middle" font-family="'DejaVu Sans', 'Liberation Sans', sans-serif" fill="#262626" stroke="#262626" stroke-width=".14">0.5</text>
<text x="646.29" y="163.6" font-size="5.3" text-anchor="middle" font-family="'DejaVu Sans', 'Liberation Sans', sans-serif" fill="#262626" stroke="#262626" stroke-width=".14">1.0</text>
<text x="663.45" y="163.6" font-size="5.3" text-anchor="middle" font-family="'DejaVu Sans', 'Liberation Sans', sans-serif" fill="#262626" stroke="#262626" stroke-width=".14">1.5</text>
<text x="680.61" y="163.6" font-size="5.3" text-anchor="middle" font-family="'DejaVu Sans', 'Liberation Sans', sans-serif" fill="#262626" stroke="#262626" stroke-width=".14">2.0</text>
<text x="697.77" y="163.6" font-size="5.3" text-anchor="middle" font-family="'DejaVu Sans', 'Liberation Sans', sans-serif" fill="#262626" stroke="#262626" stroke-width=".14">2.5</text>
<text x="714.94" y="163.6" font-size="5.3" text-anchor="middle" font-family="'DejaVu Sans', 'Liberation Sans', sans-serif" fill="#262626" stroke="#262626" stroke-width=".14">3.0</text>
<text x="732.1" y="163.6" font-size="5.3" text-anchor="middle" font-family="'DejaVu Sans', 'Liberation Sans', sans-serif" fill="#262626" stroke="#262626" stroke-width=".14">3.5</text>
<text x="590.9" y="36.25" font-size="5.3" text-anchor="end" font-family="'DejaVu Sans', 'Liberation Sans', sans-serif" fill="#262626" stroke="#262626" stroke-width=".14">18</text>
<text x="590.9" y="49.79" font-size="5.3" text-anchor="end" font-family="'DejaVu Sans', 'Liberation Sans', sans-serif" fill="#262626" stroke="#262626" stroke-width=".14">19</text>
<text x="590.9" y="63.34" font-size="5.3" text-anchor="end" font-family="'DejaVu Sans', 'Liberation Sans', sans-serif" fill="#262626" stroke="#262626" stroke-width=".14">20</text>
<text x="590.9" y="76.88" font-size="5.3" text-anchor="end" font-family="'DejaVu Sans', 'Liberation Sans', sans-serif" fill="#262626" stroke="#262626" stroke-width=".14">21</text>
<text x="590.9" y="90.43" font-size="5.3" text-anchor="end" font-family="'DejaVu Sans', 'Liberation Sans', sans-serif" fill="#262626" stroke="#262626" stroke-width=".14">22</text>
<text x="590.9" y="103.97" font-size="5.3" text-anchor="end" font-family="'DejaVu Sans', 'Liberation Sans', sans-serif" fill="#262626" stroke="#262626" stroke-width=".14">23</text>
<text x="590.9" y="117.52" font-size="5.3" text-anchor="end" font-family="'DejaVu Sans', 'Liberation Sans', sans-serif" fill="#262626" stroke="#262626" stroke-width=".14">24</text>
<text x="590.9" y="131.06" font-size="5.3" text-anchor="end" font-family="'DejaVu Sans', 'Liberation Sans', sans-serif" fill="#262626" stroke="#262626" stroke-width=".14">25</text>
<text x="590.9" y="144.61" font-size="5.3" text-anchor="end" font-family="'DejaVu Sans', 'Liberation Sans', sans-serif" fill="#262626" stroke="#262626" stroke-width=".14">26</text>
<text x="590.9" y="158.15" font-size="5.3" text-anchor="end" font-family="'DejaVu Sans', 'Liberation Sans', sans-serif" fill="#262626" stroke="#262626" stroke-width=".14">27</text>
<path d="M594.8 155.3v2.1M611.96 155.3v2.1M629.12 155.3v2.1M646.29 155.3v2.1M663.45 155.3v2.1M680.61 155.3v2.1M697.77 155.3v2.1M714.94 155.3v2.1M732.1 155.3v2.1M594.8 33.4h-2.1M594.8 46.94h-2.1M594.8 60.49h-2.1M594.8 74.03h-2.1M594.8 87.58h-2.1M594.8 101.12h-2.1M594.8 114.67h-2.1M594.8 128.21h-2.1M594.8 141.76h-2.1M594.8 155.3h-2.1" stroke="#585858" stroke-width=".6" fill="none"/>
<text x="663.45" y="30.5" font-size="9.4" text-anchor="middle" font-family="'DejaVu Sans', 'Liberation Sans', sans-serif" fill="#262626" stroke="#262626" stroke-width=".14">Modeled</text>
<text x="663.45" y="172.3" font-size="8.4" text-anchor="middle" font-family="'DejaVu Sans', 'Liberation Sans', sans-serif" fill="#262626" stroke="#262626" stroke-width=".14">F475W-F814W</text>
<text transform="translate(581.4 94.35) rotate(-90)" font-size="8.0" text-anchor="middle" font-family="'DejaVu Sans', 'Liberation Sans', sans-serif" fill="#262626" stroke="#262626" stroke-width=".14">F475W</text>
<rect x="740.55" y="33.4" width="6.3" height="121.9" fill="url(#cb)" stroke="#585858" stroke-width=".5"/>
<text x="750.45" y="157.8" font-size="5.3" text-anchor="start" font-family="'DejaVu Sans', 'Liberation Sans', sans-serif" fill="#262626" stroke="#262626" stroke-width=".14">0.0</text>
<text x="750.45" y="141.21" font-size="5.3" text-anchor="start" font-family="'DejaVu Sans', 'Liberation Sans', sans-serif" fill="#262626" stroke="#262626" stroke-width=".14">0.2</text>
<text x="750.45" y="124.63" font-size="5.3" text-anchor="start" font-family="'DejaVu Sans', 'Liberation Sans', sans-serif" fill="#262626" stroke="#262626" stroke-width=".14">0.4</text>
<text x="750.45" y="108.04" font-size="5.3" text-anchor="start" font-family="'DejaVu Sans', 'Liberation Sans', sans-serif" fill="#262626" stroke="#262626" stroke-width=".14">0.6</text>
<text x="750.45" y="91.46" font-size="5.3" text-anchor="start" font-family="'DejaVu Sans', 'Liberation Sans', sans-serif" fill="#262626" stroke="#262626" stroke-width=".14">0.8</text>
<text x="750.45" y="74.87" font-size="5.3" text-anchor="start" font-family="'DejaVu Sans', 'Liberation Sans', sans-serif" fill="#262626" stroke="#262626" stroke-width=".14">1.0</text>
<text x="750.45" y="58.29" font-size="5.3" text-anchor="start" font-family="'DejaVu Sans', 'Liberation Sans', sans-serif" fill="#262626" stroke="#262626" stroke-width=".14">1.2</text>
<text x="750.45" y="41.7" font-size="5.3" text-anchor="start" font-family="'DejaVu Sans', 'Liberation Sans', sans-serif" fill="#262626" stroke="#262626" stroke-width=".14">1.4</text>
<path d="M746.85 155.3h2.1M746.85 138.71h2.1M746.85 122.13h2.1M746.85 105.54h2.1M746.85 88.96h2.1M746.85 72.37h2.1M746.85 55.79h2.1M746.85 39.2h2.1" stroke="#585858" stroke-width=".6" fill="none"/>
</g>
<g>
<rect x="22.8" y="190.3" width="136.8" height="121.5" fill="#bbbbbb"/>
<clipPath id="c01"><rect x="22.3" y="189.9" width="137.3" height="121.9"/></clipPath>
<g clip-path="url(#c01)">
<defs><g id="sc01">
<path fill="#bebebe" stroke="#bebebe" d="M26.49 277.54h1.72v16.25h-1.72zM28.21 261.29h1.72v10.84h-1.72zM28.21 276.18h1.72v10.84h-1.72zM28.21 289.73h1.72v13.54h-1.72zM29.92 258.58h1.72v20.32h-1.72zM29.92 300.56h1.72v4.06h-1.72zM31.64 250.45h1.72v9.48h-1.72zM31.64 300.56h1.72v5.42h-1.72zM33.36 247.74h1.72v16.25h-1.72zM33.36 303.27h1.72v5.42h-1.72zM35.07 245.03h1.72v4.06h-1.72zM35.07 305.98h1.72v2.71h-1.72zM36.79 245.03h1.72v2.71h-1.72zM36.79 305.98h1.72v4.06h-1.72zM38.5 243.68h1.72v4.06h-1.72zM38.5 307.34h1.72v4.06h-1.72zM40.22 246.39h1.72v2.71h-1.72zM40.22 310.05h1.72v1.35h-1.72zM41.94 245.03h1.72v5.42h-1.72zM41.94 310.05h1.72v1.35h-1.72zM43.65 249.1h1.72v1.35h-1.72zM43.65 251.8h1.72v4.06h-1.72zM45.37 255.87h1.72v4.06h-1.72zM47.09 255.87h1.72v9.48h-1.72zM47.09 274.83h1.72v1.35h-1.72zM47.09 277.54h1.72v1.35h-1.72zM48.8 257.22h1.72v1.35h-1.72zM48.8 259.93h1.72v18.96h-1.72zM50.52 259.93h1.72v24.38h-1.72zM52.23 262.64h1.72v5.42h-1.72zM52.23 274.83h1.72v10.84h-1.72zM53.95 282.96h1.72v5.42h-1.72zM55.67 287.02h1.72v4.06h-1.72zM57.38 289.73h1.72v5.42h-1.72zM59.1 291.08h1.72v5.42h-1.72zM60.82 295.15h1.72v4.06h-1.72zM62.53 296.5h1.72v5.42h-1.72zM64.25 301.92h1.72v2.71h-1.72zM65.96 300.56h1.72v4.06h-1.72zM67.68 303.27h1.72v2.71h-1.72zM69.4 303.27h1.72v2.71h-1.72zM71.11 240.97h1.72v1.35h-1.72zM71.11 304.63h1.72v4.06h-1.72zM72.83 240.97h1.72v2.71h-1.72zM72.83 307.34h1.72v2.71h-1.72zM74.55 240.97h1.72v4.06h-1.72zM74.55 307.34h1.72v4.06h-1.72zM76.26 242.32h1.72v1.35h-1.72zM76.26 265.35h1.72v6.77h-1.72zM76.26 295.15h1.72v5.42h-1.72zM76.26 308.69h1.72v2.71h-1.72zM77.98 242.32h1.72v4.06h-1.72zM77.98 292.44h1.72v1.35h-1.72zM77.98 295.15h1.72v9.48h-1.72zM77.98 310.05h1.72v1.35h-1.72zM79.69 243.68h1.72v4.06h-1.72zM79.69 291.08h1.72v16.25h-1.72zM79.69 310.05h1.72v1.35h-1.72zM81.41 243.68h1.72v5.42h-1.72zM81.41 289.73h1.72v9.48h-1.72zM81.41 300.56h1.72v8.13h-1.72zM83.13 243.68h1.72v5.42h-1.72zM83.13 288.37h1.72v4.06h-1.72zM83.13 293.79h1.72v1.35h-1.72zM83.13 304.63h1.72v5.42h-1.72zM84.84 245.03h1.72v5.42h-1.72zM84.84 288.37h1.72v2.71h-1.72zM84.84 292.44h1.72v1.35h-1.72zM84.84 305.98h1.72v5.42h-1.72zM86.56 245.03h1.72v6.77h-1.72zM86.56 288.37h1.72v4.06h-1.72zM86.56 308.69h1.72v2.71h-1.72zM88.28 246.39h1.72v5.42h-1.72zM88.28 288.37h1.72v4.06h-1.72zM88.28 308.69h1.72v2.71h-1.72zM89.99 246.39h1.72v6.77h-1.72zM89.99 287.02h1.72v4.06h-1.72zM89.99 310.05h1.72v1.35h-1.72zM91.71 247.74h1.72v6.77h-1.72zM91.71 287.02h1.72v4.06h-1.72zM93.42 247.74h1.72v8.13h-1.72zM93.42 287.02h1.72v4.06h-1.72zM95.14 249.1h1.72v8.13h-1.72zM95.14 287.02h1.72v4.06h-1.72zM96.86 249.1h1.72v9.48h-1.72zM96.86 287.02h1.72v4.06h-1.72zM98.57 250.45h1.72v9.48h-1.72zM98.57 287.02h1.72v5.42h-1.72zM100.29 250.45h1.72v9.48h-1.72zM100.29 288.37h1.72v4.06h-1.72zM102.01 251.8h1.72v9.48h-1.72zM102.01 288.37h1.72v4.06h-1.72zM103.72 253.16h1.72v9.48h-1.72zM103.72 287.02h1.72v1.35h-1.72zM103.72 289.73h1.72v4.06h-1.72zM105.44 253.16h1.72v10.84h-1.72zM105.44 287.02h1.72v6.77h-1.72zM107.15 254.51h1.72v9.48h-1.72zM107.15 287.02h1.72v8.13h-1.72zM108.87 254.51h1.72v10.84h-1.72zM108.87 285.67h1.72v10.84h-1.72zM108.87 310.05h1.72v1.35h-1.72zM110.59 255.87h1.72v5.42h-1.72zM110.59 262.64h1.72v4.06h-1.72zM110.59 284.31h1.72v4.06h-1.72zM110.59 289.73h1.72v9.48h-1.72zM110.59 308.69h1.72v2.71h-1.72zM112.3 255.87h1.72v8.13h-1.72zM112.3 282.96h1.72v20.32h-1.72zM112.3 304.63h1.72v2.71h-1.72zM112.3 308.69h1.72v2.71h-1.72zM114.02 257.22h1.72v6.77h-1.72zM114.02 281.6h1.72v29.8h-1.72zM115.74 258.58h1.72v5.42h-1.72zM115.74 280.25h1.72v31.15h-1.72zM117.45 259.93h1.72v4.06h-1.72zM117.45 278.89h1.72v14.9h-1.72zM117.45 296.5h1.72v12.19h-1.72zM119.17 261.29h1.72v2.71h-1.72zM119.17 278.89h1.72v12.19h-1.72zM120.88 276.18h1.72v12.19h-1.72zM122.6 274.83h1.72v12.19h-1.72zM124.32 273.48h1.72v12.19h-1.72zM126.03 273.48h1.72v10.84h-1.72zM127.75 273.48h1.72v9.48h-1.72zM129.47 273.48h1.72v8.13h-1.72zM131.18 276.18h1.72v1.35h-1.72z"/>
<path fill="#c2c2c2" stroke="#c2c2c2" d="M28.21 287.02h1.72v2.71h-1.72zM29.92 278.89h1.72v4.06h-1.72zM29.92 297.86h1.72v2.71h-1.72zM31.64 259.93h1.72v17.61h-1.72zM31.64 297.86h1.72v2.71h-1.72zM33.36 263.99h1.72v1.35h-1.72zM33.36 266.7h1.72v4.06h-1.72zM33.36 272.12h1.72v1.35h-1.72zM33.36 300.56h1.72v2.71h-1.72zM35.07 249.1h1.72v6.77h-1.72zM35.07 257.22h1.72v2.71h-1.72zM35.07 303.27h1.72v2.71h-1.72zM36.79 249.1h1.72v2.71h-1.72zM36.79 301.92h1.72v4.06h-1.72zM38.5 247.74h1.72v1.35h-1.72zM38.5 305.98h1.72v1.35h-1.72zM40.22 249.1h1.72v1.35h-1.72zM40.22 307.34h1.72v2.71h-1.72zM41.94 250.45h1.72v4.06h-1.72zM41.94 255.87h1.72v1.35h-1.72zM41.94 259.93h1.72v5.42h-1.72zM41.94 308.69h1.72v1.35h-1.72zM43.65 255.87h1.72v2.71h-1.72zM43.65 310.05h1.72v1.35h-1.72zM45.37 259.93h1.72v9.48h-1.72zM45.37 310.05h1.72v1.35h-1.72zM47.09 265.35h1.72v9.48h-1.72zM47.09 278.89h1.72v1.35h-1.72zM48.8 278.89h1.72v2.71h-1.72zM48.8 310.05h1.72v1.35h-1.72zM52.23 285.67h1.72v4.06h-1.72zM53.95 288.37h1.72v2.71h-1.72zM55.67 291.08h1.72v4.06h-1.72zM57.38 295.15h1.72v2.71h-1.72zM59.1 297.86h1.72v2.71h-1.72zM60.82 299.21h1.72v2.71h-1.72zM62.53 301.92h1.72v2.71h-1.72zM67.68 307.34h1.72v1.35h-1.72zM71.11 308.69h1.72v1.35h-1.72zM72.83 310.05h1.72v1.35h-1.72zM83.13 295.15h1.72v9.48h-1.72zM84.84 293.79h1.72v2.71h-1.72zM84.84 304.63h1.72v1.35h-1.72zM86.56 292.44h1.72v2.71h-1.72zM86.56 304.63h1.72v2.71h-1.72zM88.28 292.44h1.72v1.35h-1.72zM88.28 307.34h1.72v1.35h-1.72zM89.99 291.08h1.72v2.71h-1.72zM91.71 291.08h1.72v2.71h-1.72zM93.42 291.08h1.72v2.71h-1.72zM93.42 310.05h1.72v1.35h-1.72zM95.14 291.08h1.72v2.71h-1.72zM95.14 310.05h1.72v1.35h-1.72zM96.86 291.08h1.72v2.71h-1.72zM96.86 310.05h1.72v1.35h-1.72zM98.57 292.44h1.72v1.35h-1.72zM100.29 292.44h1.72v1.35h-1.72zM102.01 292.44h1.72v2.71h-1.72zM102.01 310.05h1.72v1.35h-1.72zM103.72 293.79h1.72v1.35h-1.72zM103.72 310.05h1.72v1.35h-1.72zM105.44 293.79h1.72v2.71h-1.72zM105.44 310.05h1.72v1.35h-1.72zM107.15 295.15h1.72v2.71h-1.72zM107.15 308.69h1.72v2.71h-1.72zM108.87 296.5h1.72v2.71h-1.72zM108.87 307.34h1.72v2.71h-1.72zM110.59 299.21h1.72v2.71h-1.72zM110.59 303.27h1.72v5.42h-1.72zM112.3 303.27h1.72v1.35h-1.72z"/>
<path fill="#c6c6c6" stroke="#c6c6c6" d="M29.92 282.96h1.72v5.42h-1.72zM29.92 293.79h1.72v4.06h-1.72zM31.64 277.54h1.72v2.71h-1.72zM31.64 296.5h1.72v1.35h-1.72zM33.36 274.83h1.72v1.35h-1.72zM33.36 296.5h1.72v4.06h-1.72zM35.07 259.93h1.72v1.35h-1.72zM35.07 266.7h1.72v6.77h-1.72zM35.07 274.83h1.72v1.35h-1.72zM35.07 296.5h1.72v6.77h-1.72zM36.79 253.16h1.72v1.35h-1.72zM36.79 299.21h1.72v2.71h-1.72zM38.5 249.1h1.72v1.35h-1.72zM38.5 303.27h1.72v2.71h-1.72zM40.22 250.45h1.72v1.35h-1.72zM40.22 305.98h1.72v1.35h-1.72zM41.94 257.22h1.72v1.35h-1.72zM41.94 265.35h1.72v5.42h-1.72zM41.94 274.83h1.72v2.71h-1.72zM41.94 307.34h1.72v1.35h-1.72zM43.65 259.93h1.72v2.71h-1.72zM43.65 263.99h1.72v5.42h-1.72zM43.65 273.48h1.72v2.71h-1.72zM43.65 308.69h1.72v1.35h-1.72zM45.37 269.41h1.72v5.42h-1.72zM45.37 276.18h1.72v1.35h-1.72zM45.37 308.69h1.72v1.35h-1.72zM47.09 280.25h1.72v1.35h-1.72zM47.09 310.05h1.72v1.35h-1.72zM48.8 281.6h1.72v2.71h-1.72zM48.8 308.69h1.72v1.35h-1.72zM50.52 287.02h1.72v1.35h-1.72zM52.23 289.73h1.72v1.35h-1.72zM53.95 291.08h1.72v6.77h-1.72zM55.67 295.15h1.72v2.71h-1.72zM57.38 297.86h1.72v1.35h-1.72zM59.1 301.92h1.72v2.71h-1.72zM60.82 301.92h1.72v1.35h-1.72zM62.53 304.63h1.72v1.35h-1.72zM64.25 305.98h1.72v1.35h-1.72zM65.96 305.98h1.72v1.35h-1.72zM71.11 310.05h1.72v1.35h-1.72zM84.84 296.5h1.72v6.77h-1.72zM86.56 295.15h1.72v2.71h-1.72zM86.56 303.27h1.72v1.35h-1.72zM88.28 295.15h1.72v1.35h-1.72zM88.28 304.63h1.72v2.71h-1.72zM89.99 293.79h1.72v1.35h-1.72zM89.99 305.98h1.72v1.35h-1.72zM91.71 293.79h1.72v1.35h-1.72zM91.71 307.34h1.72v1.35h-1.72zM93.42 308.69h1.72v1.35h-1.72zM95.14 308.69h1.72v1.35h-1.72zM96.86 293.79h1.72v1.35h-1.72zM96.86 308.69h1.72v1.35h-1.72zM98.57 293.79h1.72v1.35h-1.72zM98.57 310.05h1.72v1.35h-1.72zM100.29 293.79h1.72v1.35h-1.72zM100.29 310.05h1.72v1.35h-1.72zM102.01 295.15h1.72v1.35h-1.72zM103.72 295.15h1.72v2.71h-1.72zM103.72 308.69h1.72v1.35h-1.72zM105.44 296.5h1.72v2.71h-1.72zM107.15 297.86h1.72v2.71h-1.72zM107.15 305.98h1.72v2.71h-1.72zM108.87 300.56h1.72v6.77h-1.72z"/>
<path fill="#cacaca" stroke="#cacaca" d="M29.92 288.37h1.72v5.42h-1.72zM31.64 280.25h1.72v2.71h-1.72zM31.64 295.15h1.72v1.35h-1.72zM33.36 276.18h1.72v1.35h-1.72zM33.36 292.44h1.72v1.35h-1.72zM33.36 295.15h1.72v1.35h-1.72zM35.07 262.64h1.72v4.06h-1.72zM35.07 276.18h1.72v1.35h-1.72zM35.07 292.44h1.72v1.35h-1.72zM35.07 295.15h1.72v1.35h-1.72zM36.79 254.51h1.72v1.35h-1.72zM36.79 261.29h1.72v1.35h-1.72zM36.79 292.44h1.72v6.77h-1.72zM38.5 250.45h1.72v1.35h-1.72zM38.5 292.44h1.72v4.06h-1.72zM38.5 297.86h1.72v5.42h-1.72zM40.22 251.8h1.72v1.35h-1.72zM41.94 273.48h1.72v1.35h-1.72zM41.94 277.54h1.72v1.35h-1.72zM41.94 305.98h1.72v1.35h-1.72zM43.65 269.41h1.72v1.35h-1.72zM43.65 272.12h1.72v1.35h-1.72zM43.65 277.54h1.72v1.35h-1.72zM43.65 307.34h1.72v1.35h-1.72zM45.37 278.89h1.72v1.35h-1.72zM45.37 307.34h1.72v1.35h-1.72zM47.09 281.6h1.72v1.35h-1.72zM47.09 308.69h1.72v1.35h-1.72zM48.8 284.31h1.72v6.77h-1.72zM48.8 292.44h1.72v2.71h-1.72zM48.8 296.5h1.72v1.35h-1.72zM48.8 303.27h1.72v2.71h-1.72zM48.8 307.34h1.72v1.35h-1.72zM50.52 288.37h1.72v1.35h-1.72zM50.52 310.05h1.72v1.35h-1.72zM52.23 292.44h1.72v1.35h-1.72zM52.23 310.05h1.72v1.35h-1.72zM53.95 297.86h1.72v1.35h-1.72zM53.95 300.56h1.72v1.35h-1.72zM55.67 297.86h1.72v1.35h-1.72zM57.38 299.21h1.72v1.35h-1.72zM59.1 304.63h1.72v1.35h-1.72zM62.53 305.98h1.72v2.71h-1.72zM64.25 307.34h1.72v1.35h-1.72zM67.68 308.69h1.72v1.35h-1.72zM69.4 308.69h1.72v1.35h-1.72zM86.56 299.21h1.72v1.35h-1.72zM86.56 301.92h1.72v1.35h-1.72zM88.28 296.5h1.72v1.35h-1.72zM89.99 295.15h1.72v1.35h-1.72zM89.99 304.63h1.72v1.35h-1.72zM91.71 305.98h1.72v1.35h-1.72zM93.42 293.79h1.72v1.35h-1.72zM93.42 307.34h1.72v1.35h-1.72zM95.14 307.34h1.72v1.35h-1.72zM98.57 295.15h1.72v1.35h-1.72zM98.57 308.69h1.72v1.35h-1.72zM100.29 295.15h1.72v1.35h-1.72zM102.01 296.5h1.72v1.35h-1.72zM102.01 308.69h1.72v1.35h-1.72zM103.72 297.86h1.72v1.35h-1.72zM105.44 299.21h1.72v1.35h-1.72zM105.44 305.98h1.72v2.71h-1.72zM107.15 300.56h1.72v4.06h-1.72z"/>
<path fill="#cecece" stroke="#cecece" d="M31.64 282.96h1.72v1.35h-1.72zM31.64 292.44h1.72v2.71h-1.72zM33.36 277.54h1.72v1.35h-1.72zM33.36 291.08h1.72v1.35h-1.72zM35.07 277.54h1.72v2.71h-1.72zM35.07 288.37h1.72v4.06h-1.72zM36.79 255.87h1.72v1.35h-1.72zM36.79 259.93h1.72v1.35h-1.72zM36.79 262.64h1.72v1.35h-1.72zM36.79 287.02h1.72v4.06h-1.72zM38.5 291.08h1.72v1.35h-1.72zM40.22 253.16h1.72v2.71h-1.72zM40.22 295.15h1.72v4.06h-1.72zM40.22 303.27h1.72v2.71h-1.72zM41.94 270.77h1.72v1.35h-1.72zM41.94 278.89h1.72v1.35h-1.72zM41.94 303.27h1.72v2.71h-1.72zM43.65 278.89h1.72v1.35h-1.72zM45.37 288.37h1.72v2.71h-1.72zM45.37 304.63h1.72v2.71h-1.72zM47.09 282.96h1.72v1.35h-1.72zM47.09 292.44h1.72v2.71h-1.72zM47.09 299.21h1.72v2.71h-1.72zM47.09 307.34h1.72v1.35h-1.72zM48.8 297.86h1.72v5.42h-1.72zM50.52 289.73h1.72v2.71h-1.72zM50.52 307.34h1.72v2.71h-1.72zM52.23 293.79h1.72v2.71h-1.72zM52.23 308.69h1.72v1.35h-1.72zM53.95 301.92h1.72v5.42h-1.72zM55.67 299.21h1.72v2.71h-1.72zM55.67 308.69h1.72v2.71h-1.72zM59.1 305.98h1.72v1.35h-1.72zM59.1 310.05h1.72v1.35h-1.72zM60.82 304.63h1.72v1.35h-1.72zM62.53 310.05h1.72v1.35h-1.72zM64.25 310.05h1.72v1.35h-1.72zM65.96 307.34h1.72v1.35h-1.72zM67.68 310.05h1.72v1.35h-1.72zM69.4 310.05h1.72v1.35h-1.72zM88.28 297.86h1.72v2.71h-1.72zM88.28 301.92h1.72v1.35h-1.72zM89.99 303.27h1.72v1.35h-1.72zM91.71 295.15h1.72v1.35h-1.72zM93.42 295.15h1.72v1.35h-1.72zM93.42 305.98h1.72v1.35h-1.72zM95.14 295.15h1.72v1.35h-1.72zM96.86 295.15h1.72v1.35h-1.72zM96.86 307.34h1.72v1.35h-1.72zM98.57 307.34h1.72v1.35h-1.72zM100.29 296.5h1.72v1.35h-1.72zM100.29 307.34h1.72v1.35h-1.72zM102.01 297.86h1.72v1.35h-1.72zM102.01 307.34h1.72v1.35h-1.72zM103.72 299.21h1.72v1.35h-1.72zM103.72 305.98h1.72v1.35h-1.72zM105.44 300.56h1.72v2.71h-1.72zM105.44 304.63h1.72v1.35h-1.72z"/>
<path fill="#d2d2d2" stroke="#d2d2d2" d="M31.64 284.31h1.72v1.35h-1.72zM31.64 288.37h1.72v1.35h-1.72zM31.64 291.08h1.72v1.35h-1.72zM35.07 280.25h1.72v1.35h-1.72zM35.07 287.02h1.72v1.35h-1.72zM36.79 257.22h1.72v2.71h-1.72zM36.79 284.31h1.72v2.71h-1.72zM38.5 251.8h1.72v6.77h-1.72zM38.5 288.37h1.72v2.71h-1.72zM40.22 257.22h1.72v4.06h-1.72zM40.22 292.44h1.72v1.35h-1.72zM40.22 299.21h1.72v1.35h-1.72zM40.22 301.92h1.72v1.35h-1.72zM45.37 281.6h1.72v5.42h-1.72zM45.37 292.44h1.72v1.35h-1.72zM45.37 295.15h1.72v1.35h-1.72zM45.37 297.86h1.72v1.35h-1.72zM45.37 300.56h1.72v4.06h-1.72zM47.09 289.73h1.72v2.71h-1.72zM47.09 295.15h1.72v4.06h-1.72zM47.09 301.92h1.72v1.35h-1.72zM47.09 304.63h1.72v2.71h-1.72zM50.52 292.44h1.72v4.06h-1.72zM50.52 297.86h1.72v2.71h-1.72zM50.52 303.27h1.72v4.06h-1.72zM52.23 307.34h1.72v1.35h-1.72zM53.95 307.34h1.72v4.06h-1.72zM55.67 301.92h1.72v5.42h-1.72zM60.82 305.98h1.72v1.35h-1.72zM89.99 297.86h1.72v5.42h-1.72zM91.71 296.5h1.72v1.35h-1.72zM91.71 304.63h1.72v1.35h-1.72zM93.42 296.5h1.72v1.35h-1.72zM95.14 296.5h1.72v1.35h-1.72zM95.14 305.98h1.72v1.35h-1.72zM96.86 296.5h1.72v1.35h-1.72zM96.86 305.98h1.72v1.35h-1.72zM98.57 296.5h1.72v1.35h-1.72zM100.29 305.98h1.72v1.35h-1.72zM102.01 305.98h1.72v1.35h-1.72zM103.72 300.56h1.72v5.42h-1.72z"/>
<path fill="#d7d7d7" stroke="#d7d7d7" d="M31.64 285.67h1.72v2.71h-1.72zM33.36 280.25h1.72v1.35h-1.72zM33.36 289.73h1.72v1.35h-1.72zM35.07 281.6h1.72v1.35h-1.72zM35.07 285.67h1.72v1.35h-1.72zM36.79 263.99h1.72v1.35h-1.72zM36.79 282.96h1.72v1.35h-1.72zM38.5 287.02h1.72v1.35h-1.72zM40.22 261.29h1.72v1.35h-1.72zM40.22 300.56h1.72v1.35h-1.72zM41.94 282.96h1.72v1.35h-1.72zM41.94 300.56h1.72v1.35h-1.72zM43.65 304.63h1.72v1.35h-1.72zM47.09 285.67h1.72v1.35h-1.72zM47.09 288.37h1.72v1.35h-1.72zM52.23 299.21h1.72v5.42h-1.72zM52.23 305.98h1.72v1.35h-1.72zM57.38 303.27h1.72v1.35h-1.72zM60.82 307.34h1.72v1.35h-1.72zM60.82 310.05h1.72v1.35h-1.72zM65.96 308.69h1.72v1.35h-1.72zM91.71 299.21h1.72v1.35h-1.72zM91.71 301.92h1.72v2.71h-1.72zM93.42 297.86h1.72v1.35h-1.72zM93.42 304.63h1.72v1.35h-1.72zM95.14 304.63h1.72v1.35h-1.72zM102.01 299.21h1.72v1.35h-1.72zM102.01 304.63h1.72v1.35h-1.72z"/>
<path fill="#dbdbdb" stroke="#dbdbdb" d="M33.36 281.6h1.72v1.35h-1.72zM33.36 288.37h1.72v1.35h-1.72zM35.07 284.31h1.72v1.35h-1.72zM36.79 281.6h1.72v1.35h-1.72zM40.22 262.64h1.72v1.35h-1.72zM40.22 291.08h1.72v1.35h-1.72zM41.94 299.21h1.72v1.35h-1.72zM43.65 289.73h1.72v1.35h-1.72zM43.65 293.79h1.72v1.35h-1.72zM43.65 299.21h1.72v4.06h-1.72zM47.09 287.02h1.72v1.35h-1.72zM57.38 304.63h1.72v5.42h-1.72zM91.71 300.56h1.72v1.35h-1.72zM93.42 299.21h1.72v1.35h-1.72zM93.42 301.92h1.72v2.71h-1.72zM95.14 297.86h1.72v1.35h-1.72zM96.86 297.86h1.72v1.35h-1.72zM96.86 304.63h1.72v1.35h-1.72zM98.57 299.21h1.72v1.35h-1.72zM98.57 304.63h1.72v1.35h-1.72zM100.29 299.21h1.72v2.71h-1.72zM100.29 304.63h1.72v1.35h-1.72zM102.01 301.92h1.72v2.71h-1.72z"/>
<path fill="#dfdfdf" stroke="#dfdfdf" d="M33.36 282.96h1.72v5.42h-1.72zM36.79 270.77h1.72v4.06h-1.72zM36.79 277.54h1.72v4.06h-1.72zM38.5 284.31h1.72v1.35h-1.72zM40.22 289.73h1.72v1.35h-1.72zM41.94 284.31h1.72v1.35h-1.72zM41.94 295.15h1.72v4.06h-1.72zM43.65 295.15h1.72v4.06h-1.72zM65.96 310.05h1.72v1.35h-1.72zM93.42 300.56h1.72v1.35h-1.72zM95.14 299.21h1.72v1.35h-1.72zM95.14 303.27h1.72v1.35h-1.72zM96.86 299.21h1.72v1.35h-1.72zM96.86 303.27h1.72v1.35h-1.72zM98.57 301.92h1.72v2.71h-1.72zM100.29 301.92h1.72v1.35h-1.72z"/>
<path fill="#e3e3e3" stroke="#e3e3e3" d="M36.79 266.7h1.72v1.35h-1.72zM36.79 276.18h1.72v1.35h-1.72zM38.5 259.93h1.72v1.35h-1.72zM38.5 282.96h1.72v1.35h-1.72zM41.94 292.44h1.72v1.35h-1.72zM43.65 287.02h1.72v1.35h-1.72zM96.86 300.56h1.72v2.71h-1.72z"/>
<path fill="#e7e7e7" stroke="#e7e7e7" d="M40.22 272.12h1.72v2.71h-1.72zM40.22 281.6h1.72v4.06h-1.72zM40.22 287.02h1.72v1.35h-1.72zM41.94 285.67h1.72v2.71h-1.72zM41.94 291.08h1.72v1.35h-1.72zM43.65 282.96h1.72v1.35h-1.72z"/>
<path fill="#ebebeb" stroke="#ebebeb" d="M38.5 265.35h1.72v1.35h-1.72zM38.5 274.83h1.72v1.35h-1.72zM40.22 263.99h1.72v1.35h-1.72zM43.65 284.31h1.72v2.71h-1.72z"/>
<path fill="#efefef" stroke="#efefef" d="M38.5 266.7h1.72v1.35h-1.72zM38.5 273.48h1.72v1.35h-1.72zM40.22 280.25h1.72v1.35h-1.72z"/>
<path fill="#f3f3f3" stroke="#f3f3f3" d="M38.5 268.06h1.72v1.35h-1.72zM38.5 272.12h1.72v1.35h-1.72zM38.5 276.18h1.72v1.35h-1.72zM40.22 270.77h1.72v1.35h-1.72zM40.22 274.83h1.72v1.35h-1.72z"/>
<path fill="#f7f7f7" stroke="#f7f7f7" d="M38.5 269.41h1.72v2.71h-1.72zM38.5 280.25h1.72v1.35h-1.72zM40.22 266.7h1.72v1.35h-1.72zM40.22 276.18h1.72v2.71h-1.72z"/>
<path fill="#fbfbfb" stroke="#fbfbfb" d="M40.22 268.06h1.72v2.71h-1.72z"/>
<path fill="#ffffff" stroke="#ffffff" d="M38.5 277.54h1.72v2.71h-1.72z"/>
</g></defs>
<use href="#sc01" stroke-width="1.3"/><use href="#sc01" stroke-width="0"/>
<path fill="#000000" d="M67.68 293.79h1.72v1.35h-1.72zM67.68 305.98h1.72v1.35h-1.72zM69.4 305.98h1.72v1.35h-1.72z"/>
<path fill="#040404" d="M89.99 307.34h1.72v1.35h-1.72zM91.71 308.69h1.72v1.35h-1.72zM105.44 308.69h1.72v1.35h-1.72z"/>
<path fill="#0c0c0c" d="M52.23 296.5h1.72v1.35h-1.72z"/>
<path fill="#101010" d="M40.22 293.79h1.72v1.35h-1.72zM50.52 296.5h1.72v1.35h-1.72z"/>
<path fill="#1c1c1c" d="M95.14 300.56h1.72v1.35h-1.72z"/>
<path fill="#202020" d="M40.22 288.37h1.72v1.35h-1.72z"/>
<path fill="#2d2d2d" d="M40.22 265.35h1.72v1.35h-1.72z"/>
<path fill="#4d4d4d" d="M24.77 295.15h1.72v1.35h-1.72zM26.49 265.35h1.72v1.35h-1.72zM45.37 230.13h1.72v1.35h-1.72zM47.09 250.45h1.72v1.35h-1.72zM52.23 255.87h1.72v1.35h-1.72zM53.95 266.7h1.72v1.35h-1.72zM53.95 278.89h1.72v1.35h-1.72zM55.67 282.96h1.72v1.35h-1.72zM57.38 287.02h1.72v1.35h-1.72zM60.82 228.78h1.72v1.35h-1.72zM60.82 284.31h1.72v1.35h-1.72zM65.96 236.91h1.72v1.35h-1.72zM65.96 288.37h1.72v1.35h-1.72zM67.68 284.31h1.72v1.35h-1.72zM67.68 289.73h1.72v1.35h-1.72zM69.4 242.32h1.72v1.35h-1.72zM69.4 245.03h1.72v1.35h-1.72zM69.4 295.15h1.72v1.35h-1.72zM71.11 300.56h1.72v1.35h-1.72zM71.11 303.27h1.72v1.35h-1.72zM72.83 289.73h1.72v1.35h-1.72zM72.83 295.15h1.72v1.35h-1.72zM72.83 304.63h1.72v1.35h-1.72zM74.55 305.98h1.72v1.35h-1.72zM76.26 288.37h1.72v1.35h-1.72zM76.26 305.98h1.72v2.71h-1.72zM77.98 289.73h1.72v1.35h-1.72zM79.69 282.96h1.72v1.35h-1.72zM84.84 282.96h1.72v1.35h-1.72zM91.71 278.89h1.72v1.35h-1.72zM96.86 284.31h1.72v1.35h-1.72zM105.44 278.89h1.72v1.35h-1.72zM105.44 284.31h1.72v1.35h-1.72zM120.88 263.99h1.72v1.35h-1.72zM127.75 296.5h1.72v1.35h-1.72zM134.61 274.83h1.72v1.35h-1.72z"/>
<path fill="#515151" d="M33.36 265.35h1.72v1.35h-1.72zM36.79 247.74h1.72v1.35h-1.72zM43.65 250.45h1.72v1.35h-1.72zM45.37 254.51h1.72v1.35h-1.72zM47.09 276.18h1.72v1.35h-1.72zM48.8 258.58h1.72v1.35h-1.72zM53.95 281.6h1.72v1.35h-1.72zM59.1 296.5h1.72v1.35h-1.72zM64.25 300.56h1.72v1.35h-1.72zM76.26 243.68h1.72v1.35h-1.72zM77.98 293.79h1.72v1.35h-1.72zM77.98 304.63h1.72v1.35h-1.72zM81.41 299.21h1.72v1.35h-1.72zM83.13 292.44h1.72v1.35h-1.72zM84.84 291.08h1.72v1.35h-1.72zM86.56 307.34h1.72v1.35h-1.72zM91.71 310.05h1.72v1.35h-1.72zM103.72 288.37h1.72v1.35h-1.72zM108.87 282.96h1.72v1.35h-1.72zM110.59 261.29h1.72v1.35h-1.72zM110.59 288.37h1.72v1.35h-1.72zM112.3 307.34h1.72v1.35h-1.72zM119.17 277.54h1.72v1.35h-1.72zM124.32 270.77h1.72v1.35h-1.72z"/>
<path fill="#555555" d="M33.36 270.77h1.72v1.35h-1.72zM33.36 273.48h1.72v1.35h-1.72zM35.07 255.87h1.72v1.35h-1.72zM36.79 251.8h1.72v1.35h-1.72zM41.94 254.51h1.72v1.35h-1.72zM41.94 258.58h1.72v1.35h-1.72zM43.65 258.58h1.72v1.35h-1.72zM50.52 284.31h1.72v2.71h-1.72zM59.1 300.56h1.72v1.35h-1.72zM64.25 304.63h1.72v1.35h-1.72zM65.96 304.63h1.72v1.35h-1.72zM69.4 307.34h1.72v1.35h-1.72zM84.84 303.27h1.72v1.35h-1.72zM88.28 293.79h1.72v1.35h-1.72zM89.99 308.69h1.72v1.35h-1.72zM108.87 299.21h1.72v1.35h-1.72zM110.59 301.92h1.72v1.35h-1.72z"/>
<path fill="#595959" d="M33.36 293.79h1.72v1.35h-1.72zM35.07 261.29h1.72v1.35h-1.72zM35.07 273.48h1.72v1.35h-1.72zM35.07 293.79h1.72v1.35h-1.72zM43.65 262.64h1.72v1.35h-1.72zM43.65 270.77h1.72v1.35h-1.72zM43.65 276.18h1.72v1.35h-1.72zM45.37 274.83h1.72v1.35h-1.72zM45.37 277.54h1.72v1.35h-1.72zM48.8 305.98h1.72v1.35h-1.72zM52.23 291.08h1.72v1.35h-1.72zM86.56 297.86h1.72v1.35h-1.72zM86.56 300.56h1.72v1.35h-1.72zM95.14 293.79h1.72v1.35h-1.72zM100.29 308.69h1.72v1.35h-1.72zM107.15 304.63h1.72v1.35h-1.72z"/>
<path fill="#5d5d5d" d="M36.79 291.08h1.72v1.35h-1.72zM38.5 296.5h1.72v1.35h-1.72zM41.94 272.12h1.72v1.35h-1.72zM45.37 280.25h1.72v1.35h-1.72zM48.8 291.08h1.72v1.35h-1.72zM48.8 295.15h1.72v1.35h-1.72zM53.95 299.21h1.72v1.35h-1.72zM57.38 300.56h1.72v1.35h-1.72zM59.1 307.34h1.72v1.35h-1.72zM60.82 303.27h1.72v1.35h-1.72zM62.53 308.69h1.72v1.35h-1.72zM64.25 308.69h1.72v1.35h-1.72zM88.28 300.56h1.72v1.35h-1.72zM88.28 303.27h1.72v1.35h-1.72zM89.99 296.5h1.72v1.35h-1.72zM103.72 307.34h1.72v1.35h-1.72z"/>
<path fill="#616161" d="M31.64 289.73h1.72v1.35h-1.72zM33.36 278.89h1.72v1.35h-1.72zM40.22 255.87h1.72v1.35h-1.72zM41.94 280.25h1.72v1.35h-1.72zM41.94 301.92h1.72v1.35h-1.72zM43.65 305.98h1.72v1.35h-1.72zM45.37 287.02h1.72v1.35h-1.72zM45.37 291.08h1.72v1.35h-1.72zM45.37 293.79h1.72v1.35h-1.72zM45.37 296.5h1.72v1.35h-1.72zM45.37 299.21h1.72v1.35h-1.72zM47.09 284.31h1.72v1.35h-1.72zM47.09 303.27h1.72v1.35h-1.72zM50.52 300.56h1.72v2.71h-1.72zM52.23 297.86h1.72v1.35h-1.72zM55.67 307.34h1.72v1.35h-1.72zM57.38 301.92h1.72v1.35h-1.72zM59.1 308.69h1.72v1.35h-1.72zM105.44 303.27h1.72v1.35h-1.72z"/>
<path fill="#656565" d="M35.07 282.96h1.72v1.35h-1.72zM41.94 281.6h1.72v1.35h-1.72zM43.65 280.25h1.72v1.35h-1.72zM43.65 291.08h1.72v1.35h-1.72zM43.65 303.27h1.72v1.35h-1.72zM52.23 304.63h1.72v1.35h-1.72zM57.38 310.05h1.72v1.35h-1.72zM60.82 308.69h1.72v1.35h-1.72zM91.71 297.86h1.72v1.35h-1.72zM98.57 297.86h1.72v1.35h-1.72zM98.57 305.98h1.72v1.35h-1.72zM100.29 297.86h1.72v1.35h-1.72zM102.01 300.56h1.72v1.35h-1.72z"/>
<path fill="#696969" d="M36.79 265.35h1.72v1.35h-1.72zM38.5 258.58h1.72v1.35h-1.72zM38.5 285.67h1.72v1.35h-1.72zM43.65 281.6h1.72v1.35h-1.72zM43.65 292.44h1.72v1.35h-1.72zM100.29 303.27h1.72v1.35h-1.72z"/>
<path fill="#6d6d6d" d="M36.79 268.06h1.72v2.71h-1.72zM36.79 274.83h1.72v1.35h-1.72zM41.94 293.79h1.72v1.35h-1.72zM43.65 288.37h1.72v1.35h-1.72zM95.14 301.92h1.72v1.35h-1.72zM98.57 300.56h1.72v1.35h-1.72z"/>
<path fill="#717171" d="M38.5 261.29h1.72v4.06h-1.72z"/>
<path fill="#757575" d="M40.22 285.67h1.72v1.35h-1.72zM41.94 288.37h1.72v2.71h-1.72z"/>
<path fill="#797979" d="M38.5 281.6h1.72v1.35h-1.72z"/>
<path fill="#7d7d7d" d="M40.22 278.89h1.72v1.35h-1.72z"/>
</g>
<rect x="0" y="0" width="137.3" height="121.9" fill="url(#grid)" transform="translate(22.3 189.9)"/>
<rect x="22.3" y="189.9" width="137.3" height="121.9" fill="none" stroke="#808080" stroke-width="1"/>
<text x="22.3" y="320.1" font-size="5.3" text-anchor="middle" font-family="'DejaVu Sans', 'Liberation Sans', sans-serif" fill="#262626" stroke="#262626" stroke-width=".14">−0.5</text>
<text x="39.46" y="320.1" font-size="5.3" text-anchor="middle" font-family="'DejaVu Sans', 'Liberation Sans', sans-serif" fill="#262626" stroke="#262626" stroke-width=".14">0.0</text>
<text x="56.62" y="320.1" font-size="5.3" text-anchor="middle" font-family="'DejaVu Sans', 'Liberation Sans', sans-serif" fill="#262626" stroke="#262626" stroke-width=".14">0.5</text>
<text x="73.79" y="320.1" font-size="5.3" text-anchor="middle" font-family="'DejaVu Sans', 'Liberation Sans', sans-serif" fill="#262626" stroke="#262626" stroke-width=".14">1.0</text>
<text x="90.95" y="320.1" font-size="5.3" text-anchor="middle" font-family="'DejaVu Sans', 'Liberation Sans', sans-serif" fill="#262626" stroke="#262626" stroke-width=".14">1.5</text>
<text x="108.11" y="320.1" font-size="5.3" text-anchor="middle" font-family="'DejaVu Sans', 'Liberation Sans', sans-serif" fill="#262626" stroke="#262626" stroke-width=".14">2.0</text>
<text x="125.28" y="320.1" font-size="5.3" text-anchor="middle" font-family="'DejaVu Sans', 'Liberation Sans', sans-serif" fill="#262626" stroke="#262626" stroke-width=".14">2.5</text>
<text x="142.44" y="320.1" font-size="5.3" text-anchor="middle" font-family="'DejaVu Sans', 'Liberation Sans', sans-serif" fill="#262626" stroke="#262626" stroke-width=".14">3.0</text>
<text x="159.6" y="320.1" font-size="5.3" text-anchor="middle" font-family="'DejaVu Sans', 'Liberation Sans', sans-serif" fill="#262626" stroke="#262626" stroke-width=".14">3.5</text>
<text x="18.4" y="192.75" font-size="5.3" text-anchor="end" font-family="'DejaVu Sans', 'Liberation Sans', sans-serif" fill="#262626" stroke="#262626" stroke-width=".14">18</text>
<text x="18.4" y="206.29" font-size="5.3" text-anchor="end" font-family="'DejaVu Sans', 'Liberation Sans', sans-serif" fill="#262626" stroke="#262626" stroke-width=".14">19</text>
<text x="18.4" y="219.84" font-size="5.3" text-anchor="end" font-family="'DejaVu Sans', 'Liberation Sans', sans-serif" fill="#262626" stroke="#262626" stroke-width=".14">20</text>
<text x="18.4" y="233.38" font-size="5.3" text-anchor="end" font-family="'DejaVu Sans', 'Liberation Sans', sans-serif" fill="#262626" stroke="#262626" stroke-width=".14">21</text>
<text x="18.4" y="246.93" font-size="5.3" text-anchor="end" font-family="'DejaVu Sans', 'Liberation Sans', sans-serif" fill="#262626" stroke="#262626" stroke-width=".14">22</text>
<text x="18.4" y="260.47" font-size="5.3" text-anchor="end" font-family="'DejaVu Sans', 'Liberation Sans', sans-serif" fill="#262626" stroke="#262626" stroke-width=".14">23</text>
<text x="18.4" y="274.02" font-size="5.3" text-anchor="end" font-family="'DejaVu Sans', 'Liberation Sans', sans-serif" fill="#262626" stroke="#262626" stroke-width=".14">24</text>
<text x="18.4" y="287.56" font-size="5.3" text-anchor="end" font-family="'DejaVu Sans', 'Liberation Sans', sans-serif" fill="#262626" stroke="#262626" stroke-width=".14">25</text>
<text x="18.4" y="301.11" font-size="5.3" text-anchor="end" font-family="'DejaVu Sans', 'Liberation Sans', sans-serif" fill="#262626" stroke="#262626" stroke-width=".14">26</text>
<text x="18.4" y="314.65" font-size="5.3" text-anchor="end" font-family="'DejaVu Sans', 'Liberation Sans', sans-serif" fill="#262626" stroke="#262626" stroke-width=".14">27</text>
<path d="M22.3 311.8v2.1M39.46 311.8v2.1M56.62 311.8v2.1M73.79 311.8v2.1M90.95 311.8v2.1M108.11 311.8v2.1M125.28 311.8v2.1M142.44 311.8v2.1M159.6 311.8v2.1M22.3 189.9h-2.1M22.3 203.44h-2.1M22.3 216.99h-2.1M22.3 230.53h-2.1M22.3 244.08h-2.1M22.3 257.62h-2.1M22.3 271.17h-2.1M22.3 284.71h-2.1M22.3 298.26h-2.1M22.3 311.8h-2.1" stroke="#585858" stroke-width=".6" fill="none"/>
<text x="90.95" y="187" font-size="9.4" text-anchor="middle" font-family="'DejaVu Sans', 'Liberation Sans', sans-serif" fill="#262626" stroke="#262626" stroke-width=".14">Residuals</text>
<text x="90.95" y="328.8" font-size="8.4" text-anchor="middle" font-family="'DejaVu Sans', 'Liberation Sans', sans-serif" fill="#262626" stroke="#262626" stroke-width=".14">F475W-F814W</text>
<text transform="translate(8.9 250.85) rotate(-90)" font-size="8.0" text-anchor="middle" font-family="'DejaVu Sans', 'Liberation Sans', sans-serif" fill="#262626" stroke="#262626" stroke-width=".14">F475W</text>
<rect x="168.05" y="189.9" width="6.3" height="121.9" fill="url(#cb)" stroke="#585858" stroke-width=".5"/>
<text x="177.95" y="304.65" font-size="5.3" text-anchor="start" font-family="'DejaVu Sans', 'Liberation Sans', sans-serif" fill="#262626" stroke="#262626" stroke-width=".14">−0.5</text>
<text x="177.95" y="281.9" font-size="5.3" text-anchor="start" font-family="'DejaVu Sans', 'Liberation Sans', sans-serif" fill="#262626" stroke="#262626" stroke-width=".14">0.0</text>
<text x="177.95" y="259.15" font-size="5.3" text-anchor="start" font-family="'DejaVu Sans', 'Liberation Sans', sans-serif" fill="#262626" stroke="#262626" stroke-width=".14">0.5</text>
<text x="177.95" y="236.4" font-size="5.3" text-anchor="start" font-family="'DejaVu Sans', 'Liberation Sans', sans-serif" fill="#262626" stroke="#262626" stroke-width=".14">1.0</text>
<text x="177.95" y="213.65" font-size="5.3" text-anchor="start" font-family="'DejaVu Sans', 'Liberation Sans', sans-serif" fill="#262626" stroke="#262626" stroke-width=".14">1.5</text>
<path d="M174.35 302.15h2.1M174.35 279.4h2.1M174.35 256.65h2.1M174.35 233.9h2.1M174.35 211.15h2.1" stroke="#585858" stroke-width=".6" fill="none"/>
</g>
<g>
<rect x="213.3" y="190.3" width="136.8" height="121.5" fill="#c0c0c0"/>
<clipPath id="c11"><rect x="212.8" y="189.9" width="137.3" height="121.9"/></clipPath>
<g clip-path="url(#c11)">
<defs><g id="sc11">
<path fill="#c1c1c1" stroke="#c1c1c1" d="M211.84 257.22h1.72v33.86h-1.72zM213.56 251.8h1.72v44.7h-1.72zM215.27 246.39h1.72v24.38h-1.72zM215.27 288.37h1.72v6.77h-1.72zM215.27 296.5h1.72v8.13h-1.72zM216.99 243.68h1.72v10.84h-1.72zM216.99 304.63h1.72v4.06h-1.72zM218.71 242.32h1.72v8.13h-1.72zM218.71 307.34h1.72v4.06h-1.72zM220.42 242.32h1.72v4.06h-1.72zM220.42 308.69h1.72v2.71h-1.72zM222.14 242.32h1.72v2.71h-1.72zM222.14 310.05h1.72v1.35h-1.72zM223.86 242.32h1.72v1.35h-1.72zM232.44 242.32h1.72v1.35h-1.72zM234.15 242.32h1.72v2.71h-1.72zM235.87 242.32h1.72v2.71h-1.72zM237.59 220.65h1.72v12.19h-1.72zM237.59 242.32h1.72v4.06h-1.72zM239.3 216.59h1.72v21.67h-1.72zM239.3 242.32h1.72v9.48h-1.72zM241.02 212.53h1.72v41.99h-1.72zM242.73 211.17h1.72v43.34h-1.72zM244.45 208.46h1.72v40.63h-1.72zM244.45 251.8h1.72v2.71h-1.72zM246.17 207.11h1.72v52.82h-1.72zM247.88 205.75h1.72v62.3h-1.72zM247.88 274.83h1.72v5.42h-1.72zM249.6 204.4h1.72v81.27h-1.72zM251.32 204.4h1.72v24.38h-1.72zM251.32 230.13h1.72v54.18h-1.72zM251.32 285.67h1.72v4.06h-1.72zM253.03 203.04h1.72v33.86h-1.72zM253.03 239.61h1.72v52.82h-1.72zM254.75 201.69h1.72v33.86h-1.72zM254.75 242.32h1.72v20.32h-1.72zM254.75 280.25h1.72v13.54h-1.72zM256.46 201.69h1.72v33.86h-1.72zM256.46 243.68h1.72v18.96h-1.72zM256.46 278.89h1.72v9.48h-1.72zM256.46 289.73h1.72v5.42h-1.72zM258.18 200.34h1.72v35.22h-1.72zM258.18 245.03h1.72v18.96h-1.72zM258.18 278.89h1.72v5.42h-1.72zM258.18 285.67h1.72v4.06h-1.72zM258.18 291.08h1.72v2.71h-1.72zM259.9 200.34h1.72v35.22h-1.72zM259.9 246.39h1.72v20.32h-1.72zM259.9 277.54h1.72v13.54h-1.72zM261.61 200.34h1.72v36.57h-1.72zM261.61 246.39h1.72v21.67h-1.72zM261.61 277.54h1.72v12.19h-1.72zM263.33 198.98h1.72v37.92h-1.72zM263.33 247.74h1.72v21.67h-1.72zM263.33 276.18h1.72v10.84h-1.72zM265.05 198.98h1.72v37.92h-1.72zM265.05 249.1h1.72v21.67h-1.72zM265.05 276.18h1.72v10.84h-1.72zM266.76 198.98h1.72v39.28h-1.72zM266.76 249.1h1.72v16.25h-1.72zM266.76 274.83h1.72v10.84h-1.72zM268.48 198.98h1.72v39.28h-1.72zM268.48 250.45h1.72v33.86h-1.72zM270.19 197.63h1.72v40.63h-1.72zM270.19 251.8h1.72v31.15h-1.72zM271.91 197.63h1.72v33.86h-1.72zM271.91 253.16h1.72v29.8h-1.72zM273.63 197.63h1.72v29.8h-1.72zM273.63 253.16h1.72v29.8h-1.72zM275.34 197.63h1.72v28.44h-1.72zM275.34 254.51h1.72v28.44h-1.72zM277.06 197.63h1.72v27.09h-1.72zM277.06 255.87h1.72v27.09h-1.72zM278.78 197.63h1.72v25.73h-1.72zM278.78 255.87h1.72v27.09h-1.72zM280.49 197.63h1.72v25.73h-1.72zM280.49 257.22h1.72v24.38h-1.72zM282.21 197.63h1.72v24.38h-1.72zM282.21 258.58h1.72v20.32h-1.72zM282.21 280.25h1.72v1.35h-1.72zM283.92 197.63h1.72v24.38h-1.72zM283.92 259.93h1.72v21.67h-1.72zM285.64 197.63h1.72v23.03h-1.72zM285.64 259.93h1.72v21.67h-1.72zM287.36 197.63h1.72v23.03h-1.72zM287.36 261.29h1.72v18.96h-1.72zM289.07 197.63h1.72v23.03h-1.72zM289.07 262.64h1.72v16.25h-1.72zM290.79 197.63h1.72v23.03h-1.72zM290.79 263.99h1.72v13.54h-1.72zM292.51 197.63h1.72v23.03h-1.72zM292.51 265.35h1.72v10.84h-1.72zM294.22 198.98h1.72v21.67h-1.72zM294.22 265.35h1.72v9.48h-1.72zM295.94 198.98h1.72v21.67h-1.72zM295.94 268.06h1.72v4.06h-1.72zM297.65 198.98h1.72v21.67h-1.72zM299.37 198.98h1.72v21.67h-1.72zM301.09 198.98h1.72v21.67h-1.72zM302.8 200.34h1.72v20.32h-1.72zM304.52 200.34h1.72v20.32h-1.72zM306.24 200.34h1.72v21.67h-1.72zM307.95 201.69h1.72v20.32h-1.72zM309.67 201.69h1.72v20.32h-1.72zM311.38 201.69h1.72v20.32h-1.72zM313.1 203.04h1.72v20.32h-1.72zM314.82 203.04h1.72v20.32h-1.72zM316.53 203.04h1.72v21.67h-1.72zM316.53 308.69h1.72v2.71h-1.72zM318.25 204.4h1.72v20.32h-1.72zM318.25 300.56h1.72v10.84h-1.72zM319.97 204.4h1.72v21.67h-1.72zM319.97 297.86h1.72v13.54h-1.72zM321.68 205.75h1.72v20.32h-1.72zM321.68 295.15h1.72v16.25h-1.72zM323.4 205.75h1.72v21.67h-1.72zM323.4 293.79h1.72v17.61h-1.72zM325.11 207.11h1.72v20.32h-1.72zM325.11 292.44h1.72v18.96h-1.72zM326.83 207.11h1.72v21.67h-1.72zM326.83 291.08h1.72v20.32h-1.72zM328.55 208.46h1.72v21.67h-1.72zM328.55 289.73h1.72v21.67h-1.72zM330.26 208.46h1.72v21.67h-1.72zM330.26 288.37h1.72v20.32h-1.72zM331.98 209.82h1.72v21.67h-1.72zM331.98 285.67h1.72v17.61h-1.72zM333.7 209.82h1.72v23.03h-1.72zM333.7 284.31h1.72v16.25h-1.72zM335.41 211.17h1.72v23.03h-1.72zM335.41 281.6h1.72v17.61h-1.72zM337.13 212.53h1.72v23.03h-1.72zM337.13 278.89h1.72v20.32h-1.72zM338.84 212.53h1.72v24.38h-1.72zM338.84 274.83h1.72v24.38h-1.72zM340.56 213.88h1.72v24.38h-1.72zM340.56 273.48h1.72v24.38h-1.72zM342.28 215.23h1.72v24.38h-1.72zM342.28 273.48h1.72v24.38h-1.72zM343.99 215.23h1.72v25.73h-1.72zM343.99 272.12h1.72v25.73h-1.72zM345.71 216.59h1.72v27.09h-1.72zM345.71 272.12h1.72v25.73h-1.72zM347.43 217.94h1.72v27.09h-1.72zM347.43 270.77h1.72v27.09h-1.72z"/>
<path fill="#c3c3c3" stroke="#c3c3c3" d="M215.27 270.77h1.72v17.61h-1.72zM216.99 254.51h1.72v9.48h-1.72zM216.99 272.12h1.72v2.71h-1.72zM216.99 301.92h1.72v2.71h-1.72zM218.71 250.45h1.72v4.06h-1.72zM218.71 305.98h1.72v1.35h-1.72zM220.42 246.39h1.72v6.77h-1.72zM220.42 307.34h1.72v1.35h-1.72zM222.14 245.03h1.72v2.71h-1.72zM222.14 308.69h1.72v1.35h-1.72zM223.86 243.68h1.72v1.35h-1.72zM223.86 310.05h1.72v1.35h-1.72zM225.57 242.32h1.72v1.35h-1.72zM225.57 310.05h1.72v1.35h-1.72zM227.29 242.32h1.72v1.35h-1.72zM229 242.32h1.72v1.35h-1.72zM230.72 242.32h1.72v1.35h-1.72zM234.15 245.03h1.72v1.35h-1.72zM235.87 245.03h1.72v6.77h-1.72zM237.59 246.39h1.72v4.06h-1.72zM239.3 251.8h1.72v2.71h-1.72zM241.02 254.51h1.72v1.35h-1.72zM242.73 254.51h1.72v1.35h-1.72zM244.45 254.51h1.72v4.06h-1.72zM246.17 259.93h1.72v9.48h-1.72zM246.17 280.25h1.72v2.71h-1.72zM247.88 268.06h1.72v6.77h-1.72zM247.88 280.25h1.72v6.77h-1.72zM249.6 285.67h1.72v2.71h-1.72zM251.32 289.73h1.72v2.71h-1.72zM253.03 236.91h1.72v2.71h-1.72zM253.03 292.44h1.72v1.35h-1.72zM254.75 235.55h1.72v6.77h-1.72zM254.75 293.79h1.72v2.71h-1.72zM256.46 235.55h1.72v1.35h-1.72zM256.46 240.97h1.72v2.71h-1.72zM256.46 295.15h1.72v2.71h-1.72zM258.18 235.55h1.72v2.71h-1.72zM258.18 242.32h1.72v2.71h-1.72zM258.18 295.15h1.72v5.42h-1.72zM259.9 235.55h1.72v2.71h-1.72zM259.9 243.68h1.72v1.35h-1.72zM259.9 291.08h1.72v4.06h-1.72zM259.9 296.5h1.72v4.06h-1.72zM261.61 236.91h1.72v1.35h-1.72zM261.61 245.03h1.72v1.35h-1.72zM261.61 289.73h1.72v10.84h-1.72zM263.33 236.91h1.72v1.35h-1.72zM263.33 246.39h1.72v1.35h-1.72zM263.33 287.02h1.72v2.71h-1.72zM263.33 291.08h1.72v2.71h-1.72zM265.05 236.91h1.72v2.71h-1.72zM265.05 246.39h1.72v2.71h-1.72zM265.05 287.02h1.72v4.06h-1.72zM266.76 238.26h1.72v1.35h-1.72zM266.76 247.74h1.72v1.35h-1.72zM266.76 285.67h1.72v2.71h-1.72zM268.48 238.26h1.72v2.71h-1.72zM268.48 249.1h1.72v1.35h-1.72zM268.48 284.31h1.72v4.06h-1.72zM270.19 238.26h1.72v2.71h-1.72zM270.19 250.45h1.72v1.35h-1.72zM270.19 284.31h1.72v2.71h-1.72zM271.91 231.49h1.72v9.48h-1.72zM271.91 250.45h1.72v2.71h-1.72zM271.91 282.96h1.72v4.06h-1.72zM273.63 227.42h1.72v14.9h-1.72zM273.63 251.8h1.72v1.35h-1.72zM273.63 282.96h1.72v2.71h-1.72zM275.34 226.07h1.72v16.25h-1.72zM275.34 253.16h1.72v1.35h-1.72zM275.34 284.31h1.72v1.35h-1.72zM277.06 224.72h1.72v18.96h-1.72zM277.06 253.16h1.72v2.71h-1.72zM277.06 282.96h1.72v2.71h-1.72zM278.78 223.36h1.72v20.32h-1.72zM278.78 254.51h1.72v1.35h-1.72zM278.78 282.96h1.72v2.71h-1.72zM280.49 223.36h1.72v21.67h-1.72zM280.49 254.51h1.72v2.71h-1.72zM280.49 281.6h1.72v2.71h-1.72zM282.21 222.01h1.72v23.03h-1.72zM282.21 255.87h1.72v2.71h-1.72zM282.21 281.6h1.72v2.71h-1.72zM283.92 222.01h1.72v23.03h-1.72zM283.92 257.22h1.72v2.71h-1.72zM283.92 281.6h1.72v2.71h-1.72zM285.64 220.65h1.72v25.73h-1.72zM285.64 258.58h1.72v1.35h-1.72zM285.64 281.6h1.72v2.71h-1.72zM287.36 220.65h1.72v25.73h-1.72zM287.36 258.58h1.72v2.71h-1.72zM287.36 280.25h1.72v4.06h-1.72zM289.07 220.65h1.72v16.25h-1.72zM289.07 259.93h1.72v2.71h-1.72zM289.07 278.89h1.72v5.42h-1.72zM290.79 220.65h1.72v13.54h-1.72zM290.79 261.29h1.72v2.71h-1.72zM290.79 277.54h1.72v5.42h-1.72zM292.51 220.65h1.72v13.54h-1.72zM292.51 262.64h1.72v2.71h-1.72zM292.51 276.18h1.72v5.42h-1.72zM294.22 220.65h1.72v12.19h-1.72zM294.22 263.99h1.72v1.35h-1.72zM294.22 274.83h1.72v5.42h-1.72zM295.94 220.65h1.72v12.19h-1.72zM295.94 263.99h1.72v4.06h-1.72zM295.94 272.12h1.72v6.77h-1.72zM297.65 220.65h1.72v10.84h-1.72zM297.65 265.35h1.72v12.19h-1.72zM299.37 220.65h1.72v10.84h-1.72zM299.37 266.7h1.72v9.48h-1.72zM301.09 220.65h1.72v10.84h-1.72zM301.09 266.7h1.72v8.13h-1.72zM302.8 220.65h1.72v10.84h-1.72zM302.8 266.7h1.72v6.77h-1.72zM304.52 220.65h1.72v10.84h-1.72zM304.52 266.7h1.72v4.06h-1.72zM306.24 222.01h1.72v9.48h-1.72zM306.24 268.06h1.72v1.35h-1.72zM307.95 222.01h1.72v10.84h-1.72zM309.67 222.01h1.72v10.84h-1.72zM311.38 222.01h1.72v10.84h-1.72zM311.38 310.05h1.72v1.35h-1.72zM313.1 223.36h1.72v9.48h-1.72zM313.1 305.98h1.72v5.42h-1.72zM314.82 223.36h1.72v10.84h-1.72zM314.82 296.5h1.72v14.9h-1.72zM316.53 224.72h1.72v9.48h-1.72zM316.53 293.79h1.72v14.9h-1.72zM318.25 224.72h1.72v10.84h-1.72zM318.25 292.44h1.72v4.06h-1.72zM318.25 297.86h1.72v2.71h-1.72zM319.97 226.07h1.72v10.84h-1.72zM319.97 291.08h1.72v6.77h-1.72zM321.68 226.07h1.72v10.84h-1.72zM321.68 289.73h1.72v5.42h-1.72zM323.4 227.42h1.72v10.84h-1.72zM323.4 288.37h1.72v5.42h-1.72zM325.11 227.42h1.72v12.19h-1.72zM325.11 287.02h1.72v5.42h-1.72zM326.83 228.78h1.72v12.19h-1.72zM326.83 284.31h1.72v6.77h-1.72zM328.55 230.13h1.72v12.19h-1.72zM328.55 282.96h1.72v6.77h-1.72zM330.26 230.13h1.72v13.54h-1.72zM330.26 278.89h1.72v9.48h-1.72zM331.98 231.49h1.72v13.54h-1.72zM331.98 261.29h1.72v24.38h-1.72zM333.7 232.84h1.72v14.9h-1.72zM333.7 259.93h1.72v24.38h-1.72zM335.41 234.2h1.72v16.25h-1.72zM335.41 257.22h1.72v24.38h-1.72zM337.13 235.55h1.72v43.34h-1.72zM338.84 236.91h1.72v37.92h-1.72zM340.56 238.26h1.72v35.22h-1.72zM342.28 239.61h1.72v33.86h-1.72zM343.99 240.97h1.72v31.15h-1.72zM345.71 243.68h1.72v28.44h-1.72zM347.43 245.03h1.72v25.73h-1.72z"/>
<path fill="#c5c5c5" stroke="#c5c5c5" d="M216.99 263.99h1.72v1.35h-1.72zM216.99 266.7h1.72v5.42h-1.72zM216.99 274.83h1.72v1.35h-1.72zM216.99 296.5h1.72v5.42h-1.72zM218.71 254.51h1.72v2.71h-1.72zM218.71 273.48h1.72v1.35h-1.72zM218.71 304.63h1.72v1.35h-1.72zM220.42 253.16h1.72v4.06h-1.72zM220.42 305.98h1.72v1.35h-1.72zM222.14 247.74h1.72v1.35h-1.72zM222.14 307.34h1.72v1.35h-1.72zM223.86 245.03h1.72v1.35h-1.72zM223.86 308.69h1.72v1.35h-1.72zM227.29 243.68h1.72v1.35h-1.72zM227.29 310.05h1.72v1.35h-1.72zM230.72 243.68h1.72v1.35h-1.72zM232.44 243.68h1.72v1.35h-1.72zM234.15 246.39h1.72v2.71h-1.72zM235.87 251.8h1.72v1.35h-1.72zM237.59 251.8h1.72v2.71h-1.72zM239.3 254.51h1.72v1.35h-1.72zM241.02 255.87h1.72v1.35h-1.72zM242.73 257.22h1.72v2.71h-1.72zM244.45 258.58h1.72v8.13h-1.72zM244.45 268.06h1.72v10.84h-1.72zM246.17 269.41h1.72v10.84h-1.72zM246.17 284.31h1.72v1.35h-1.72zM249.6 288.37h1.72v1.35h-1.72zM251.32 292.44h1.72v1.35h-1.72zM253.03 293.79h1.72v1.35h-1.72zM254.75 296.5h1.72v2.71h-1.72zM256.46 238.26h1.72v2.71h-1.72zM256.46 297.86h1.72v2.71h-1.72zM258.18 238.26h1.72v4.06h-1.72zM258.18 300.56h1.72v1.35h-1.72zM259.9 238.26h1.72v1.35h-1.72zM259.9 300.56h1.72v2.71h-1.72zM261.61 238.26h1.72v1.35h-1.72zM261.61 243.68h1.72v1.35h-1.72zM261.61 301.92h1.72v1.35h-1.72zM263.33 238.26h1.72v2.71h-1.72zM263.33 245.03h1.72v1.35h-1.72zM263.33 293.79h1.72v1.35h-1.72zM263.33 296.5h1.72v8.13h-1.72zM265.05 239.61h1.72v1.35h-1.72zM265.05 245.03h1.72v1.35h-1.72zM265.05 291.08h1.72v5.42h-1.72zM265.05 299.21h1.72v6.77h-1.72zM266.76 239.61h1.72v1.35h-1.72zM266.76 246.39h1.72v1.35h-1.72zM266.76 289.73h1.72v2.71h-1.72zM266.76 304.63h1.72v1.35h-1.72zM268.48 240.97h1.72v1.35h-1.72zM268.48 247.74h1.72v1.35h-1.72zM268.48 288.37h1.72v1.35h-1.72zM268.48 307.34h1.72v1.35h-1.72zM270.19 240.97h1.72v1.35h-1.72zM270.19 249.1h1.72v1.35h-1.72zM270.19 287.02h1.72v2.71h-1.72zM271.91 240.97h1.72v1.35h-1.72zM271.91 249.1h1.72v1.35h-1.72zM271.91 287.02h1.72v1.35h-1.72zM273.63 242.32h1.72v1.35h-1.72zM273.63 250.45h1.72v1.35h-1.72zM273.63 285.67h1.72v2.71h-1.72zM275.34 242.32h1.72v1.35h-1.72zM275.34 251.8h1.72v1.35h-1.72zM275.34 285.67h1.72v1.35h-1.72zM277.06 243.68h1.72v1.35h-1.72zM277.06 251.8h1.72v1.35h-1.72zM277.06 285.67h1.72v1.35h-1.72zM278.78 243.68h1.72v1.35h-1.72zM278.78 253.16h1.72v1.35h-1.72zM278.78 285.67h1.72v1.35h-1.72zM280.49 245.03h1.72v1.35h-1.72zM280.49 284.31h1.72v2.71h-1.72zM282.21 245.03h1.72v1.35h-1.72zM282.21 254.51h1.72v1.35h-1.72zM282.21 284.31h1.72v2.71h-1.72zM283.92 245.03h1.72v2.71h-1.72zM283.92 255.87h1.72v1.35h-1.72zM283.92 284.31h1.72v2.71h-1.72zM285.64 246.39h1.72v1.35h-1.72zM285.64 257.22h1.72v1.35h-1.72zM285.64 284.31h1.72v2.71h-1.72zM287.36 246.39h1.72v2.71h-1.72zM287.36 285.67h1.72v1.35h-1.72zM289.07 236.91h1.72v12.19h-1.72zM289.07 284.31h1.72v2.71h-1.72zM290.79 234.2h1.72v16.25h-1.72zM290.79 282.96h1.72v2.71h-1.72zM292.51 234.2h1.72v16.25h-1.72zM292.51 261.29h1.72v1.35h-1.72zM292.51 281.6h1.72v4.06h-1.72zM294.22 232.84h1.72v18.96h-1.72zM294.22 262.64h1.72v1.35h-1.72zM294.22 280.25h1.72v5.42h-1.72zM295.94 232.84h1.72v18.96h-1.72zM295.94 280.25h1.72v4.06h-1.72zM297.65 231.49h1.72v21.67h-1.72zM297.65 277.54h1.72v5.42h-1.72zM299.37 231.49h1.72v21.67h-1.72zM299.37 265.35h1.72v1.35h-1.72zM299.37 276.18h1.72v5.42h-1.72zM301.09 231.49h1.72v23.03h-1.72zM301.09 274.83h1.72v5.42h-1.72zM302.8 231.49h1.72v23.03h-1.72zM302.8 273.48h1.72v5.42h-1.72zM304.52 231.49h1.72v24.38h-1.72zM304.52 265.35h1.72v1.35h-1.72zM304.52 270.77h1.72v6.77h-1.72zM306.24 231.49h1.72v25.73h-1.72zM306.24 265.35h1.72v2.71h-1.72zM306.24 269.41h1.72v6.77h-1.72zM307.95 232.84h1.72v25.73h-1.72zM307.95 265.35h1.72v9.48h-1.72zM309.67 232.84h1.72v25.73h-1.72zM309.67 265.35h1.72v6.77h-1.72zM309.67 308.69h1.72v2.71h-1.72zM311.38 232.84h1.72v28.44h-1.72zM311.38 265.35h1.72v5.42h-1.72zM311.38 293.79h1.72v16.25h-1.72zM313.1 232.84h1.72v36.57h-1.72zM313.1 292.44h1.72v13.54h-1.72zM314.82 234.2h1.72v35.22h-1.72zM314.82 289.73h1.72v6.77h-1.72zM316.53 234.2h1.72v33.86h-1.72zM316.53 288.37h1.72v5.42h-1.72zM318.25 235.55h1.72v32.51h-1.72zM318.25 287.02h1.72v5.42h-1.72zM319.97 236.91h1.72v31.15h-1.72zM319.97 285.67h1.72v5.42h-1.72zM321.68 236.91h1.72v31.15h-1.72zM321.68 284.31h1.72v5.42h-1.72zM323.4 238.26h1.72v31.15h-1.72zM323.4 282.96h1.72v5.42h-1.72zM325.11 239.61h1.72v31.15h-1.72zM325.11 280.25h1.72v6.77h-1.72zM326.83 240.97h1.72v43.34h-1.72zM328.55 242.32h1.72v40.63h-1.72zM330.26 243.68h1.72v35.22h-1.72zM331.98 245.03h1.72v16.25h-1.72zM333.7 247.74h1.72v12.19h-1.72zM335.41 250.45h1.72v6.77h-1.72z"/>
<path fill="#c7c7c7" stroke="#c7c7c7" d="M216.99 276.18h1.72v2.71h-1.72zM216.99 282.96h1.72v6.77h-1.72zM216.99 293.79h1.72v2.71h-1.72zM218.71 257.22h1.72v4.06h-1.72zM218.71 272.12h1.72v1.35h-1.72zM218.71 274.83h1.72v1.35h-1.72zM218.71 303.27h1.72v1.35h-1.72zM220.42 257.22h1.72v1.35h-1.72zM220.42 304.63h1.72v1.35h-1.72zM222.14 249.1h1.72v1.35h-1.72zM222.14 305.98h1.72v1.35h-1.72zM223.86 246.39h1.72v2.71h-1.72zM225.57 243.68h1.72v1.35h-1.72zM225.57 308.69h1.72v1.35h-1.72zM227.29 245.03h1.72v1.35h-1.72zM229 243.68h1.72v1.35h-1.72zM230.72 245.03h1.72v1.35h-1.72zM234.15 249.1h1.72v1.35h-1.72zM235.87 253.16h1.72v1.35h-1.72zM237.59 254.51h1.72v1.35h-1.72zM239.3 255.87h1.72v1.35h-1.72zM241.02 257.22h1.72v2.71h-1.72zM242.73 259.93h1.72v2.71h-1.72zM242.73 268.06h1.72v8.13h-1.72zM244.45 280.25h1.72v1.35h-1.72zM246.17 285.67h1.72v1.35h-1.72zM247.88 288.37h1.72v1.35h-1.72zM249.6 289.73h1.72v1.35h-1.72zM251.32 293.79h1.72v1.35h-1.72zM253.03 295.15h1.72v1.35h-1.72zM254.75 299.21h1.72v1.35h-1.72zM256.46 300.56h1.72v1.35h-1.72zM258.18 301.92h1.72v1.35h-1.72zM259.9 239.61h1.72v2.71h-1.72zM259.9 303.27h1.72v1.35h-1.72zM261.61 239.61h1.72v4.06h-1.72zM261.61 304.63h1.72v1.35h-1.72zM263.33 243.68h1.72v1.35h-1.72zM263.33 305.98h1.72v1.35h-1.72zM265.05 240.97h1.72v1.35h-1.72zM265.05 243.68h1.72v1.35h-1.72zM265.05 296.5h1.72v2.71h-1.72zM266.76 240.97h1.72v1.35h-1.72zM266.76 245.03h1.72v1.35h-1.72zM266.76 292.44h1.72v5.42h-1.72zM266.76 299.21h1.72v5.42h-1.72zM268.48 246.39h1.72v1.35h-1.72zM268.48 291.08h1.72v2.71h-1.72zM268.48 305.98h1.72v1.35h-1.72zM268.48 308.69h1.72v1.35h-1.72zM270.19 242.32h1.72v1.35h-1.72zM270.19 247.74h1.72v1.35h-1.72zM270.19 289.73h1.72v1.35h-1.72zM270.19 305.98h1.72v5.42h-1.72zM271.91 242.32h1.72v1.35h-1.72zM271.91 288.37h1.72v1.35h-1.72zM271.91 308.69h1.72v2.71h-1.72zM273.63 243.68h1.72v1.35h-1.72zM273.63 249.1h1.72v1.35h-1.72zM273.63 288.37h1.72v1.35h-1.72zM273.63 310.05h1.72v1.35h-1.72zM275.34 243.68h1.72v1.35h-1.72zM275.34 250.45h1.72v1.35h-1.72zM275.34 287.02h1.72v1.35h-1.72zM277.06 287.02h1.72v1.35h-1.72zM278.78 245.03h1.72v1.35h-1.72zM278.78 251.8h1.72v1.35h-1.72zM278.78 287.02h1.72v1.35h-1.72zM280.49 253.16h1.72v1.35h-1.72zM280.49 287.02h1.72v1.35h-1.72zM282.21 246.39h1.72v1.35h-1.72zM285.64 247.74h1.72v1.35h-1.72zM285.64 287.02h1.72v1.35h-1.72zM287.36 249.1h1.72v1.35h-1.72zM287.36 287.02h1.72v1.35h-1.72zM289.07 249.1h1.72v1.35h-1.72zM289.07 287.02h1.72v1.35h-1.72zM290.79 250.45h1.72v1.35h-1.72zM290.79 259.93h1.72v1.35h-1.72zM290.79 285.67h1.72v2.71h-1.72zM292.51 250.45h1.72v1.35h-1.72zM292.51 285.67h1.72v2.71h-1.72zM294.22 251.8h1.72v1.35h-1.72zM294.22 285.67h1.72v2.71h-1.72zM295.94 251.8h1.72v1.35h-1.72zM295.94 285.67h1.72v2.71h-1.72zM297.65 253.16h1.72v1.35h-1.72zM297.65 263.99h1.72v1.35h-1.72zM297.65 282.96h1.72v4.06h-1.72zM299.37 253.16h1.72v1.35h-1.72zM299.37 281.6h1.72v1.35h-1.72zM299.37 284.31h1.72v2.71h-1.72zM301.09 254.51h1.72v1.35h-1.72zM301.09 262.64h1.72v1.35h-1.72zM301.09 280.25h1.72v5.42h-1.72zM302.8 254.51h1.72v2.71h-1.72zM302.8 262.64h1.72v4.06h-1.72zM302.8 278.89h1.72v5.42h-1.72zM304.52 255.87h1.72v1.35h-1.72zM304.52 263.99h1.72v1.35h-1.72zM304.52 277.54h1.72v5.42h-1.72zM306.24 257.22h1.72v1.35h-1.72zM306.24 263.99h1.72v1.35h-1.72zM306.24 276.18h1.72v5.42h-1.72zM306.24 310.05h1.72v1.35h-1.72zM307.95 258.58h1.72v1.35h-1.72zM307.95 263.99h1.72v1.35h-1.72zM307.95 274.83h1.72v5.42h-1.72zM307.95 291.08h1.72v8.13h-1.72zM307.95 307.34h1.72v4.06h-1.72zM309.67 258.58h1.72v6.77h-1.72zM309.67 272.12h1.72v5.42h-1.72zM309.67 288.37h1.72v20.32h-1.72zM311.38 261.29h1.72v2.71h-1.72zM311.38 270.77h1.72v6.77h-1.72zM311.38 287.02h1.72v6.77h-1.72zM313.1 269.41h1.72v6.77h-1.72zM313.1 285.67h1.72v6.77h-1.72zM314.82 269.41h1.72v1.35h-1.72zM314.82 272.12h1.72v2.71h-1.72zM314.82 284.31h1.72v5.42h-1.72zM316.53 268.06h1.72v6.77h-1.72zM316.53 282.96h1.72v5.42h-1.72zM318.25 268.06h1.72v6.77h-1.72zM318.25 281.6h1.72v5.42h-1.72zM319.97 268.06h1.72v17.61h-1.72zM321.68 268.06h1.72v16.25h-1.72zM323.4 269.41h1.72v13.54h-1.72zM325.11 270.77h1.72v4.06h-1.72zM325.11 276.18h1.72v4.06h-1.72z"/>
<path fill="#c9c9c9" stroke="#c9c9c9" d="M216.99 278.89h1.72v4.06h-1.72zM216.99 289.73h1.72v4.06h-1.72zM218.71 261.29h1.72v10.84h-1.72zM218.71 276.18h1.72v1.35h-1.72zM218.71 301.92h1.72v1.35h-1.72zM220.42 258.58h1.72v2.71h-1.72zM222.14 250.45h1.72v2.71h-1.72zM222.14 304.63h1.72v1.35h-1.72zM223.86 249.1h1.72v1.35h-1.72zM223.86 307.34h1.72v1.35h-1.72zM225.57 245.03h1.72v1.35h-1.72zM225.57 307.34h1.72v1.35h-1.72zM227.29 308.69h1.72v1.35h-1.72zM229 310.05h1.72v1.35h-1.72zM232.44 245.03h1.72v1.35h-1.72zM237.59 255.87h1.72v2.71h-1.72zM239.3 257.22h1.72v1.35h-1.72zM241.02 259.93h1.72v2.71h-1.72zM242.73 262.64h1.72v5.42h-1.72zM242.73 276.18h1.72v1.35h-1.72zM244.45 282.96h1.72v1.35h-1.72zM246.17 287.02h1.72v1.35h-1.72zM247.88 289.73h1.72v1.35h-1.72zM249.6 291.08h1.72v1.35h-1.72zM251.32 295.15h1.72v1.35h-1.72zM253.03 296.5h1.72v1.35h-1.72zM258.18 303.27h1.72v1.35h-1.72zM263.33 240.97h1.72v2.71h-1.72zM265.05 242.32h1.72v1.35h-1.72zM265.05 307.34h1.72v1.35h-1.72zM266.76 242.32h1.72v1.35h-1.72zM266.76 297.86h1.72v1.35h-1.72zM266.76 308.69h1.72v1.35h-1.72zM268.48 242.32h1.72v1.35h-1.72zM268.48 245.03h1.72v1.35h-1.72zM268.48 295.15h1.72v1.35h-1.72zM268.48 300.56h1.72v4.06h-1.72zM270.19 246.39h1.72v1.35h-1.72zM270.19 291.08h1.72v2.71h-1.72zM270.19 304.63h1.72v1.35h-1.72zM271.91 243.68h1.72v1.35h-1.72zM271.91 247.74h1.72v1.35h-1.72zM271.91 289.73h1.72v1.35h-1.72zM271.91 307.34h1.72v1.35h-1.72zM273.63 289.73h1.72v1.35h-1.72zM273.63 308.69h1.72v1.35h-1.72zM275.34 245.03h1.72v1.35h-1.72zM275.34 249.1h1.72v1.35h-1.72zM275.34 288.37h1.72v1.35h-1.72zM275.34 310.05h1.72v1.35h-1.72zM277.06 245.03h1.72v1.35h-1.72zM277.06 250.45h1.72v1.35h-1.72zM277.06 288.37h1.72v1.35h-1.72zM278.78 246.39h1.72v1.35h-1.72zM280.49 246.39h1.72v1.35h-1.72zM280.49 251.8h1.72v1.35h-1.72zM282.21 247.74h1.72v1.35h-1.72zM282.21 253.16h1.72v1.35h-1.72zM282.21 287.02h1.72v1.35h-1.72zM283.92 247.74h1.72v1.35h-1.72zM283.92 254.51h1.72v1.35h-1.72zM283.92 287.02h1.72v1.35h-1.72zM285.64 249.1h1.72v1.35h-1.72zM285.64 255.87h1.72v1.35h-1.72zM287.36 257.22h1.72v1.35h-1.72zM289.07 250.45h1.72v1.35h-1.72zM289.07 258.58h1.72v1.35h-1.72zM289.07 288.37h1.72v1.35h-1.72zM290.79 288.37h1.72v1.35h-1.72zM292.51 251.8h1.72v1.35h-1.72zM292.51 288.37h1.72v1.35h-1.72zM294.22 258.58h1.72v1.35h-1.72zM295.94 253.16h1.72v1.35h-1.72zM295.94 259.93h1.72v1.35h-1.72zM295.94 262.64h1.72v1.35h-1.72zM295.94 288.37h1.72v1.35h-1.72zM297.65 254.51h1.72v1.35h-1.72zM297.65 259.93h1.72v1.35h-1.72zM297.65 287.02h1.72v4.06h-1.72zM299.37 254.51h1.72v1.35h-1.72zM299.37 261.29h1.72v1.35h-1.72zM299.37 287.02h1.72v4.06h-1.72zM301.09 255.87h1.72v1.35h-1.72zM301.09 265.35h1.72v1.35h-1.72zM301.09 285.67h1.72v2.71h-1.72zM301.09 289.73h1.72v1.35h-1.72zM302.8 284.31h1.72v9.48h-1.72zM304.52 257.22h1.72v1.35h-1.72zM304.52 262.64h1.72v1.35h-1.72zM304.52 282.96h1.72v13.54h-1.72zM304.52 310.05h1.72v1.35h-1.72zM306.24 258.58h1.72v1.35h-1.72zM306.24 262.64h1.72v1.35h-1.72zM306.24 281.6h1.72v18.96h-1.72zM306.24 307.34h1.72v2.71h-1.72zM307.95 259.93h1.72v4.06h-1.72zM307.95 280.25h1.72v10.84h-1.72zM307.95 299.21h1.72v8.13h-1.72zM309.67 278.89h1.72v9.48h-1.72zM311.38 277.54h1.72v9.48h-1.72zM313.1 276.18h1.72v9.48h-1.72zM314.82 274.83h1.72v9.48h-1.72zM316.53 274.83h1.72v8.13h-1.72zM318.25 274.83h1.72v6.77h-1.72z"/>
<path fill="#cbcbcb" stroke="#cbcbcb" d="M218.71 277.54h1.72v1.35h-1.72zM220.42 261.29h1.72v14.9h-1.72zM220.42 303.27h1.72v1.35h-1.72zM222.14 253.16h1.72v1.35h-1.72zM222.14 303.27h1.72v1.35h-1.72zM223.86 250.45h1.72v2.71h-1.72zM223.86 305.98h1.72v1.35h-1.72zM227.29 246.39h1.72v1.35h-1.72zM227.29 307.34h1.72v1.35h-1.72zM229 245.03h1.72v1.35h-1.72zM230.72 246.39h1.72v1.35h-1.72zM232.44 246.39h1.72v1.35h-1.72zM235.87 255.87h1.72v1.35h-1.72zM237.59 258.58h1.72v2.71h-1.72zM239.3 259.93h1.72v1.35h-1.72zM241.02 262.64h1.72v4.06h-1.72zM241.02 269.41h1.72v9.48h-1.72zM242.73 277.54h1.72v4.06h-1.72zM244.45 284.31h1.72v1.35h-1.72zM247.88 291.08h1.72v1.35h-1.72zM249.6 292.44h1.72v1.35h-1.72zM251.32 296.5h1.72v1.35h-1.72zM253.03 297.86h1.72v1.35h-1.72zM256.46 301.92h1.72v1.35h-1.72zM259.9 304.63h1.72v1.35h-1.72zM261.61 305.98h1.72v1.35h-1.72zM263.33 307.34h1.72v1.35h-1.72zM265.05 308.69h1.72v1.35h-1.72zM266.76 265.35h1.72v6.77h-1.72zM268.48 243.68h1.72v1.35h-1.72zM268.48 296.5h1.72v4.06h-1.72zM270.19 243.68h1.72v1.35h-1.72zM270.19 293.79h1.72v1.35h-1.72zM270.19 301.92h1.72v2.71h-1.72zM271.91 246.39h1.72v1.35h-1.72zM271.91 291.08h1.72v2.71h-1.72zM271.91 305.98h1.72v1.35h-1.72zM273.63 245.03h1.72v1.35h-1.72zM273.63 247.74h1.72v1.35h-1.72zM273.63 291.08h1.72v1.35h-1.72zM273.63 307.34h1.72v1.35h-1.72zM275.34 289.73h1.72v1.35h-1.72zM275.34 308.69h1.72v1.35h-1.72zM277.06 246.39h1.72v1.35h-1.72zM277.06 249.1h1.72v1.35h-1.72zM277.06 310.05h1.72v1.35h-1.72zM278.78 250.45h1.72v1.35h-1.72zM278.78 288.37h1.72v1.35h-1.72zM280.49 247.74h1.72v1.35h-1.72zM280.49 288.37h1.72v1.35h-1.72zM282.21 251.8h1.72v1.35h-1.72zM282.21 288.37h1.72v1.35h-1.72zM283.92 249.1h1.72v1.35h-1.72zM283.92 253.16h1.72v1.35h-1.72zM283.92 288.37h1.72v1.35h-1.72zM285.64 254.51h1.72v1.35h-1.72zM285.64 288.37h1.72v1.35h-1.72zM287.36 250.45h1.72v1.35h-1.72zM287.36 254.51h1.72v2.71h-1.72zM287.36 288.37h1.72v1.35h-1.72zM289.07 255.87h1.72v1.35h-1.72zM290.79 251.8h1.72v1.35h-1.72zM290.79 255.87h1.72v2.71h-1.72zM292.51 257.22h1.72v1.35h-1.72zM292.51 289.73h1.72v1.35h-1.72zM294.22 253.16h1.72v1.35h-1.72zM294.22 257.22h1.72v1.35h-1.72zM294.22 261.29h1.72v1.35h-1.72zM294.22 289.73h1.72v1.35h-1.72zM295.94 254.51h1.72v1.35h-1.72zM295.94 258.58h1.72v1.35h-1.72zM295.94 289.73h1.72v1.35h-1.72zM297.65 261.29h1.72v1.35h-1.72zM297.65 291.08h1.72v1.35h-1.72zM299.37 255.87h1.72v1.35h-1.72zM299.37 259.93h1.72v1.35h-1.72zM299.37 262.64h1.72v1.35h-1.72zM299.37 291.08h1.72v2.71h-1.72zM301.09 263.99h1.72v1.35h-1.72zM301.09 291.08h1.72v4.06h-1.72zM302.8 257.22h1.72v1.35h-1.72zM302.8 261.29h1.72v1.35h-1.72zM302.8 293.79h1.72v2.71h-1.72zM302.8 310.05h1.72v1.35h-1.72zM304.52 258.58h1.72v1.35h-1.72zM304.52 261.29h1.72v1.35h-1.72zM304.52 296.5h1.72v2.71h-1.72zM304.52 308.69h1.72v1.35h-1.72zM306.24 259.93h1.72v2.71h-1.72zM306.24 300.56h1.72v6.77h-1.72z"/>
<path fill="#cdcdcd" stroke="#cdcdcd" d="M218.71 278.89h1.72v2.71h-1.72zM218.71 299.21h1.72v2.71h-1.72zM220.42 301.92h1.72v1.35h-1.72zM222.14 254.51h1.72v1.35h-1.72zM222.14 301.92h1.72v1.35h-1.72zM223.86 253.16h1.72v4.06h-1.72zM225.57 246.39h1.72v1.35h-1.72zM225.57 305.98h1.72v1.35h-1.72zM229 308.69h1.72v1.35h-1.72zM230.72 310.05h1.72v1.35h-1.72zM232.44 247.74h1.72v1.35h-1.72zM234.15 251.8h1.72v1.35h-1.72zM235.87 257.22h1.72v1.35h-1.72zM237.59 261.29h1.72v2.71h-1.72zM239.3 261.29h1.72v2.71h-1.72zM241.02 266.7h1.72v2.71h-1.72zM241.02 278.89h1.72v1.35h-1.72zM242.73 281.6h1.72v1.35h-1.72zM244.45 285.67h1.72v1.35h-1.72zM246.17 288.37h1.72v1.35h-1.72zM249.6 293.79h1.72v1.35h-1.72zM253.03 299.21h1.72v1.35h-1.72zM254.75 301.92h1.72v1.35h-1.72zM258.18 304.63h1.72v1.35h-1.72zM266.76 310.05h1.72v1.35h-1.72zM268.48 310.05h1.72v1.35h-1.72zM270.19 245.03h1.72v1.35h-1.72zM270.19 295.15h1.72v6.77h-1.72zM271.91 245.03h1.72v1.35h-1.72zM271.91 293.79h1.72v1.35h-1.72zM271.91 303.27h1.72v2.71h-1.72zM273.63 246.39h1.72v1.35h-1.72zM273.63 305.98h1.72v1.35h-1.72zM275.34 246.39h1.72v2.71h-1.72zM275.34 307.34h1.72v1.35h-1.72zM277.06 289.73h1.72v1.35h-1.72zM277.06 308.69h1.72v1.35h-1.72zM278.78 289.73h1.72v1.35h-1.72zM278.78 310.05h1.72v1.35h-1.72zM280.49 250.45h1.72v1.35h-1.72zM280.49 289.73h1.72v1.35h-1.72zM285.64 250.45h1.72v1.35h-1.72zM285.64 253.16h1.72v1.35h-1.72zM287.36 289.73h1.72v1.35h-1.72zM289.07 251.8h1.72v1.35h-1.72zM289.07 254.51h1.72v1.35h-1.72zM289.07 257.22h1.72v1.35h-1.72zM289.07 289.73h1.72v1.35h-1.72zM290.79 258.58h1.72v1.35h-1.72zM290.79 289.73h1.72v1.35h-1.72zM292.51 253.16h1.72v1.35h-1.72zM292.51 255.87h1.72v1.35h-1.72zM292.51 258.58h1.72v2.71h-1.72zM294.22 259.93h1.72v1.35h-1.72zM294.22 291.08h1.72v1.35h-1.72zM295.94 261.29h1.72v1.35h-1.72zM295.94 291.08h1.72v1.35h-1.72zM297.65 258.58h1.72v1.35h-1.72zM297.65 262.64h1.72v1.35h-1.72zM297.65 292.44h1.72v1.35h-1.72zM299.37 263.99h1.72v1.35h-1.72zM299.37 293.79h1.72v1.35h-1.72zM301.09 257.22h1.72v1.35h-1.72zM301.09 259.93h1.72v1.35h-1.72zM301.09 295.15h1.72v1.35h-1.72zM302.8 296.5h1.72v2.71h-1.72zM302.8 308.69h1.72v1.35h-1.72zM304.52 299.21h1.72v9.48h-1.72z"/>
<path fill="#cfcfcf" stroke="#cfcfcf" d="M218.71 281.6h1.72v2.71h-1.72zM218.71 293.79h1.72v5.42h-1.72zM220.42 276.18h1.72v1.35h-1.72zM222.14 255.87h1.72v2.71h-1.72zM223.86 257.22h1.72v2.71h-1.72zM223.86 304.63h1.72v1.35h-1.72zM227.29 305.98h1.72v1.35h-1.72zM230.72 247.74h1.72v1.35h-1.72zM232.44 310.05h1.72v1.35h-1.72zM234.15 253.16h1.72v1.35h-1.72zM237.59 263.99h1.72v1.35h-1.72zM237.59 274.83h1.72v1.35h-1.72zM237.59 277.54h1.72v1.35h-1.72zM239.3 263.99h1.72v13.54h-1.72zM241.02 280.25h1.72v2.71h-1.72zM242.73 282.96h1.72v2.71h-1.72zM246.17 289.73h1.72v1.35h-1.72zM247.88 292.44h1.72v1.35h-1.72zM249.6 295.15h1.72v1.35h-1.72zM251.32 297.86h1.72v1.35h-1.72zM254.75 303.27h1.72v1.35h-1.72zM256.46 303.27h1.72v1.35h-1.72zM261.61 307.34h1.72v1.35h-1.72zM265.05 310.05h1.72v1.35h-1.72zM271.91 295.15h1.72v1.35h-1.72zM271.91 301.92h1.72v1.35h-1.72zM273.63 304.63h1.72v1.35h-1.72zM277.06 247.74h1.72v1.35h-1.72zM277.06 291.08h1.72v1.35h-1.72zM278.78 247.74h1.72v2.71h-1.72zM280.49 249.1h1.72v1.35h-1.72zM280.49 310.05h1.72v1.35h-1.72zM282.21 249.1h1.72v2.71h-1.72zM282.21 289.73h1.72v1.35h-1.72zM283.92 251.8h1.72v1.35h-1.72zM283.92 289.73h1.72v1.35h-1.72zM285.64 289.73h1.72v1.35h-1.72zM287.36 251.8h1.72v2.71h-1.72zM290.79 253.16h1.72v2.71h-1.72zM290.79 291.08h1.72v1.35h-1.72zM292.51 291.08h1.72v1.35h-1.72zM294.22 254.51h1.72v1.35h-1.72zM295.94 257.22h1.72v1.35h-1.72zM295.94 292.44h1.72v1.35h-1.72zM297.65 255.87h1.72v1.35h-1.72zM297.65 293.79h1.72v1.35h-1.72zM299.37 258.58h1.72v1.35h-1.72zM299.37 295.15h1.72v1.35h-1.72zM301.09 296.5h1.72v1.35h-1.72zM301.09 310.05h1.72v1.35h-1.72zM302.8 258.58h1.72v2.71h-1.72zM302.8 299.21h1.72v1.35h-1.72zM304.52 259.93h1.72v1.35h-1.72z"/>
<path fill="#d1d1d1" stroke="#d1d1d1" d="M218.71 284.31h1.72v9.48h-1.72zM220.42 277.54h1.72v1.35h-1.72zM220.42 300.56h1.72v1.35h-1.72zM222.14 258.58h1.72v2.71h-1.72zM222.14 299.21h1.72v2.71h-1.72zM223.86 259.93h1.72v5.42h-1.72zM223.86 303.27h1.72v1.35h-1.72zM225.57 247.74h1.72v1.35h-1.72zM225.57 304.63h1.72v1.35h-1.72zM227.29 249.1h1.72v1.35h-1.72zM229 246.39h1.72v1.35h-1.72zM229 307.34h1.72v1.35h-1.72zM232.44 249.1h1.72v1.35h-1.72zM234.15 254.51h1.72v1.35h-1.72zM235.87 258.58h1.72v1.35h-1.72zM237.59 265.35h1.72v1.35h-1.72zM239.3 277.54h1.72v1.35h-1.72zM241.02 282.96h1.72v1.35h-1.72zM242.73 285.67h1.72v1.35h-1.72zM244.45 287.02h1.72v1.35h-1.72zM247.88 293.79h1.72v1.35h-1.72zM251.32 299.21h1.72v1.35h-1.72zM253.03 300.56h1.72v1.35h-1.72zM263.33 308.69h1.72v1.35h-1.72zM271.91 296.5h1.72v2.71h-1.72zM271.91 300.56h1.72v1.35h-1.72zM273.63 293.79h1.72v1.35h-1.72zM273.63 303.27h1.72v1.35h-1.72zM275.34 292.44h1.72v1.35h-1.72zM275.34 305.98h1.72v1.35h-1.72zM278.78 291.08h1.72v1.35h-1.72zM278.78 308.69h1.72v1.35h-1.72zM280.49 291.08h1.72v1.35h-1.72zM283.92 250.45h1.72v1.35h-1.72zM285.64 251.8h1.72v1.35h-1.72zM287.36 291.08h1.72v1.35h-1.72zM289.07 253.16h1.72v1.35h-1.72zM289.07 291.08h1.72v1.35h-1.72zM292.51 254.51h1.72v1.35h-1.72zM292.51 292.44h1.72v1.35h-1.72zM294.22 255.87h1.72v1.35h-1.72zM294.22 292.44h1.72v1.35h-1.72zM295.94 255.87h1.72v1.35h-1.72zM295.94 293.79h1.72v1.35h-1.72zM297.65 257.22h1.72v1.35h-1.72zM299.37 257.22h1.72v1.35h-1.72zM299.37 296.5h1.72v1.35h-1.72zM299.37 310.05h1.72v1.35h-1.72zM301.09 258.58h1.72v1.35h-1.72zM301.09 297.86h1.72v1.35h-1.72zM301.09 308.69h1.72v1.35h-1.72zM302.8 300.56h1.72v6.77h-1.72z"/>
<path fill="#d3d3d3" stroke="#d3d3d3" d="M220.42 278.89h1.72v1.35h-1.72zM220.42 299.21h1.72v1.35h-1.72zM222.14 261.29h1.72v14.9h-1.72zM223.86 266.7h1.72v2.71h-1.72zM223.86 301.92h1.72v1.35h-1.72zM225.57 249.1h1.72v4.06h-1.72zM225.57 257.22h1.72v1.35h-1.72zM227.29 304.63h1.72v1.35h-1.72zM230.72 249.1h1.72v1.35h-1.72zM230.72 308.69h1.72v1.35h-1.72zM232.44 250.45h1.72v1.35h-1.72zM234.15 255.87h1.72v1.35h-1.72zM235.87 259.93h1.72v1.35h-1.72zM237.59 266.7h1.72v1.35h-1.72zM237.59 273.48h1.72v1.35h-1.72zM237.59 278.89h1.72v1.35h-1.72zM239.3 278.89h1.72v1.35h-1.72zM242.73 287.02h1.72v1.35h-1.72zM244.45 288.37h1.72v1.35h-1.72zM246.17 291.08h1.72v1.35h-1.72zM247.88 295.15h1.72v1.35h-1.72zM253.03 301.92h1.72v1.35h-1.72zM261.61 308.69h1.72v1.35h-1.72zM273.63 295.15h1.72v2.71h-1.72zM273.63 301.92h1.72v1.35h-1.72zM275.34 293.79h1.72v1.35h-1.72zM275.34 304.63h1.72v1.35h-1.72zM277.06 292.44h1.72v1.35h-1.72zM277.06 305.98h1.72v1.35h-1.72zM278.78 307.34h1.72v1.35h-1.72zM282.21 291.08h1.72v1.35h-1.72zM283.92 291.08h1.72v1.35h-1.72zM283.92 310.05h1.72v1.35h-1.72zM285.64 291.08h1.72v1.35h-1.72zM290.79 292.44h1.72v1.35h-1.72zM294.22 293.79h1.72v1.35h-1.72zM297.65 295.15h1.72v1.35h-1.72zM297.65 310.05h1.72v1.35h-1.72zM299.37 308.69h1.72v1.35h-1.72zM301.09 299.21h1.72v2.71h-1.72zM301.09 307.34h1.72v1.35h-1.72z"/>
<path fill="#d5d5d5" stroke="#d5d5d5" d="M220.42 280.25h1.72v1.35h-1.72zM222.14 297.86h1.72v1.35h-1.72zM223.86 269.41h1.72v1.35h-1.72zM223.86 272.12h1.72v1.35h-1.72zM223.86 300.56h1.72v1.35h-1.72zM225.57 253.16h1.72v2.71h-1.72zM225.57 258.58h1.72v1.35h-1.72zM225.57 303.27h1.72v1.35h-1.72zM227.29 250.45h1.72v1.35h-1.72zM227.29 303.27h1.72v1.35h-1.72zM229 247.74h1.72v1.35h-1.72zM229 305.98h1.72v1.35h-1.72zM232.44 251.8h1.72v1.35h-1.72zM232.44 259.93h1.72v4.06h-1.72zM232.44 308.69h1.72v1.35h-1.72zM234.15 257.22h1.72v1.35h-1.72zM234.15 310.05h1.72v1.35h-1.72zM235.87 261.29h1.72v4.06h-1.72zM235.87 310.05h1.72v1.35h-1.72zM237.59 268.06h1.72v5.42h-1.72zM239.3 280.25h1.72v1.35h-1.72zM244.45 289.73h1.72v1.35h-1.72zM246.17 292.44h1.72v1.35h-1.72zM249.6 297.86h1.72v1.35h-1.72zM251.32 300.56h1.72v1.35h-1.72zM253.03 303.27h1.72v1.35h-1.72zM273.63 297.86h1.72v4.06h-1.72zM275.34 295.15h1.72v1.35h-1.72zM277.06 293.79h1.72v1.35h-1.72zM278.78 292.44h1.72v1.35h-1.72zM280.49 292.44h1.72v1.35h-1.72zM285.64 310.05h1.72v1.35h-1.72zM289.07 292.44h1.72v1.35h-1.72zM295.94 295.15h1.72v1.35h-1.72zM295.94 310.05h1.72v1.35h-1.72zM297.65 296.5h1.72v1.35h-1.72zM299.37 297.86h1.72v1.35h-1.72zM299.37 307.34h1.72v1.35h-1.72zM301.09 303.27h1.72v4.06h-1.72z"/>
<path fill="#d7d7d7" stroke="#d7d7d7" d="M220.42 281.6h1.72v1.35h-1.72zM220.42 297.86h1.72v1.35h-1.72zM222.14 276.18h1.72v1.35h-1.72zM225.57 301.92h1.72v1.35h-1.72zM227.29 301.92h1.72v1.35h-1.72zM229 304.63h1.72v1.35h-1.72zM230.72 307.34h1.72v1.35h-1.72zM232.44 253.16h1.72v1.35h-1.72zM232.44 255.87h1.72v1.35h-1.72zM232.44 263.99h1.72v2.71h-1.72zM232.44 268.06h1.72v1.35h-1.72zM234.15 259.93h1.72v1.35h-1.72zM235.87 265.35h1.72v5.42h-1.72zM237.59 280.25h1.72v1.35h-1.72zM239.3 310.05h1.72v1.35h-1.72zM242.73 288.37h1.72v1.35h-1.72zM244.45 291.08h1.72v4.06h-1.72zM246.17 293.79h1.72v1.35h-1.72zM247.88 296.5h1.72v1.35h-1.72zM249.6 299.21h1.72v1.35h-1.72zM258.18 307.34h1.72v1.35h-1.72zM263.33 310.05h1.72v1.35h-1.72zM275.34 296.5h1.72v1.35h-1.72zM275.34 301.92h1.72v1.35h-1.72zM277.06 304.63h1.72v1.35h-1.72zM278.78 305.98h1.72v1.35h-1.72zM282.21 292.44h1.72v1.35h-1.72zM283.92 292.44h1.72v1.35h-1.72zM285.64 292.44h1.72v1.35h-1.72zM287.36 292.44h1.72v1.35h-1.72zM287.36 310.05h1.72v1.35h-1.72zM289.07 310.05h1.72v1.35h-1.72zM290.79 310.05h1.72v1.35h-1.72zM292.51 293.79h1.72v1.35h-1.72zM292.51 310.05h1.72v1.35h-1.72zM294.22 295.15h1.72v1.35h-1.72zM294.22 310.05h1.72v1.35h-1.72zM297.65 297.86h1.72v1.35h-1.72zM297.65 308.69h1.72v1.35h-1.72zM299.37 305.98h1.72v1.35h-1.72z"/>
<path fill="#d9d9d9" stroke="#d9d9d9" d="M220.42 282.96h1.72v2.71h-1.72zM220.42 296.5h1.72v1.35h-1.72zM222.14 277.54h1.72v1.35h-1.72zM222.14 296.5h1.72v1.35h-1.72zM223.86 274.83h1.72v1.35h-1.72zM223.86 299.21h1.72v1.35h-1.72zM225.57 300.56h1.72v1.35h-1.72zM227.29 300.56h1.72v1.35h-1.72zM232.44 257.22h1.72v1.35h-1.72zM232.44 266.7h1.72v1.35h-1.72zM232.44 274.83h1.72v1.35h-1.72zM232.44 307.34h1.72v1.35h-1.72zM234.15 261.29h1.72v1.35h-1.72zM235.87 270.77h1.72v4.06h-1.72zM235.87 276.18h1.72v1.35h-1.72zM237.59 310.05h1.72v1.35h-1.72zM239.3 281.6h1.72v1.35h-1.72zM244.45 295.15h1.72v1.35h-1.72zM246.17 295.15h1.72v1.35h-1.72zM249.6 301.92h1.72v1.35h-1.72zM253.03 304.63h1.72v1.35h-1.72zM254.75 305.98h1.72v1.35h-1.72zM256.46 305.98h1.72v1.35h-1.72zM261.61 310.05h1.72v1.35h-1.72zM275.34 297.86h1.72v4.06h-1.72zM277.06 295.15h1.72v1.35h-1.72zM283.92 308.69h1.72v1.35h-1.72zM290.79 293.79h1.72v1.35h-1.72zM295.94 296.5h1.72v1.35h-1.72zM297.65 307.34h1.72v1.35h-1.72zM299.37 300.56h1.72v5.42h-1.72z"/>
<path fill="#dbdbdb" stroke="#dbdbdb" d="M220.42 285.67h1.72v2.71h-1.72zM220.42 293.79h1.72v2.71h-1.72zM222.14 278.89h1.72v1.35h-1.72zM223.86 296.5h1.72v2.71h-1.72zM225.57 259.93h1.72v1.35h-1.72zM225.57 266.7h1.72v6.77h-1.72zM225.57 274.83h1.72v1.35h-1.72zM225.57 296.5h1.72v4.06h-1.72zM227.29 253.16h1.72v1.35h-1.72zM227.29 299.21h1.72v1.35h-1.72zM229 249.1h1.72v1.35h-1.72zM229 303.27h1.72v1.35h-1.72zM230.72 250.45h1.72v1.35h-1.72zM232.44 269.41h1.72v1.35h-1.72zM232.44 276.18h1.72v1.35h-1.72zM234.15 263.99h1.72v4.06h-1.72zM234.15 273.48h1.72v2.71h-1.72zM234.15 308.69h1.72v1.35h-1.72zM235.87 308.69h1.72v1.35h-1.72zM239.3 282.96h1.72v1.35h-1.72zM239.3 308.69h1.72v1.35h-1.72zM241.02 287.02h1.72v1.35h-1.72zM242.73 289.73h1.72v1.35h-1.72zM244.45 296.5h1.72v1.35h-1.72zM246.17 296.5h1.72v1.35h-1.72zM247.88 297.86h1.72v1.35h-1.72zM249.6 303.27h1.72v1.35h-1.72zM251.32 301.92h1.72v1.35h-1.72zM277.06 296.5h1.72v1.35h-1.72zM277.06 303.27h1.72v1.35h-1.72zM278.78 295.15h1.72v1.35h-1.72zM278.78 304.63h1.72v1.35h-1.72zM280.49 293.79h1.72v1.35h-1.72zM280.49 305.98h1.72v1.35h-1.72zM282.21 293.79h1.72v1.35h-1.72zM282.21 307.34h1.72v1.35h-1.72zM285.64 308.69h1.72v1.35h-1.72zM287.36 293.79h1.72v1.35h-1.72zM289.07 293.79h1.72v1.35h-1.72zM292.51 295.15h1.72v1.35h-1.72zM294.22 296.5h1.72v1.35h-1.72zM294.22 308.69h1.72v1.35h-1.72zM295.94 297.86h1.72v1.35h-1.72zM297.65 299.21h1.72v1.35h-1.72zM297.65 305.98h1.72v1.35h-1.72z"/>
<path fill="#dddddd" stroke="#dddddd" d="M220.42 288.37h1.72v5.42h-1.72zM222.14 280.25h1.72v1.35h-1.72zM222.14 295.15h1.72v1.35h-1.72zM223.86 276.18h1.72v1.35h-1.72zM223.86 295.15h1.72v1.35h-1.72zM225.57 262.64h1.72v4.06h-1.72zM225.57 276.18h1.72v1.35h-1.72zM225.57 295.15h1.72v1.35h-1.72zM227.29 295.15h1.72v4.06h-1.72zM229 299.21h1.72v4.06h-1.72zM230.72 305.98h1.72v1.35h-1.72zM232.44 273.48h1.72v1.35h-1.72zM232.44 305.98h1.72v1.35h-1.72zM234.15 268.06h1.72v2.71h-1.72zM234.15 272.12h1.72v1.35h-1.72zM237.59 281.6h1.72v1.35h-1.72zM237.59 308.69h1.72v1.35h-1.72zM239.3 284.31h1.72v1.35h-1.72zM239.3 307.34h1.72v1.35h-1.72zM241.02 288.37h1.72v1.35h-1.72zM244.45 297.86h1.72v1.35h-1.72zM253.03 305.98h1.72v1.35h-1.72zM254.75 307.34h1.72v1.35h-1.72zM258.18 308.69h1.72v1.35h-1.72zM259.9 308.69h1.72v1.35h-1.72zM277.06 299.21h1.72v1.35h-1.72zM277.06 301.92h1.72v1.35h-1.72zM283.92 293.79h1.72v1.35h-1.72zM283.92 307.34h1.72v1.35h-1.72zM287.36 308.69h1.72v1.35h-1.72zM289.07 308.69h1.72v1.35h-1.72zM290.79 295.15h1.72v1.35h-1.72zM292.51 308.69h1.72v1.35h-1.72zM295.94 307.34h1.72v1.35h-1.72zM297.65 300.56h1.72v2.71h-1.72z"/>
<path fill="#dfdfdf" stroke="#dfdfdf" d="M222.14 281.6h1.72v1.35h-1.72zM223.86 292.44h1.72v1.35h-1.72zM225.57 292.44h1.72v1.35h-1.72zM227.29 254.51h1.72v1.35h-1.72zM227.29 261.29h1.72v1.35h-1.72zM227.29 292.44h1.72v2.71h-1.72zM229 293.79h1.72v2.71h-1.72zM229 297.86h1.72v1.35h-1.72zM230.72 251.8h1.72v1.35h-1.72zM232.44 277.54h1.72v1.35h-1.72zM234.15 277.54h1.72v1.35h-1.72zM234.15 307.34h1.72v1.35h-1.72zM235.87 278.89h1.72v1.35h-1.72zM235.87 307.34h1.72v1.35h-1.72zM239.3 285.67h1.72v5.42h-1.72zM239.3 292.44h1.72v2.71h-1.72zM239.3 303.27h1.72v2.71h-1.72zM241.02 310.05h1.72v1.35h-1.72zM242.73 292.44h1.72v1.35h-1.72zM242.73 310.05h1.72v1.35h-1.72zM244.45 300.56h1.72v1.35h-1.72zM246.17 297.86h1.72v1.35h-1.72zM247.88 299.21h1.72v1.35h-1.72zM249.6 304.63h1.72v1.35h-1.72zM253.03 307.34h1.72v1.35h-1.72zM278.78 296.5h1.72v1.35h-1.72zM280.49 295.15h1.72v1.35h-1.72zM280.49 304.63h1.72v1.35h-1.72zM282.21 305.98h1.72v1.35h-1.72zM285.64 307.34h1.72v1.35h-1.72zM289.07 295.15h1.72v1.35h-1.72zM292.51 296.5h1.72v1.35h-1.72zM294.22 297.86h1.72v1.35h-1.72zM295.94 299.21h1.72v1.35h-1.72zM295.94 305.98h1.72v1.35h-1.72zM297.65 303.27h1.72v1.35h-1.72z"/>
<path fill="#e1e1e1" stroke="#e1e1e1" d="M222.14 293.79h1.72v1.35h-1.72zM223.86 277.54h1.72v1.35h-1.72zM225.57 277.54h1.72v1.35h-1.72zM225.57 289.73h1.72v2.71h-1.72zM227.29 259.93h1.72v1.35h-1.72zM227.29 262.64h1.72v1.35h-1.72zM227.29 288.37h1.72v2.71h-1.72zM229 250.45h1.72v1.35h-1.72zM229 292.44h1.72v1.35h-1.72zM230.72 253.16h1.72v1.35h-1.72zM230.72 295.15h1.72v2.71h-1.72zM230.72 304.63h1.72v1.35h-1.72zM232.44 270.77h1.72v1.35h-1.72zM232.44 304.63h1.72v1.35h-1.72zM234.15 278.89h1.72v1.35h-1.72zM235.87 305.98h1.72v1.35h-1.72zM237.59 282.96h1.72v1.35h-1.72zM239.3 296.5h1.72v2.71h-1.72zM239.3 301.92h1.72v1.35h-1.72zM241.02 289.73h1.72v1.35h-1.72zM241.02 308.69h1.72v1.35h-1.72zM242.73 293.79h1.72v2.71h-1.72zM244.45 301.92h1.72v2.71h-1.72zM246.17 299.21h1.72v1.35h-1.72zM246.17 308.69h1.72v2.71h-1.72zM249.6 305.98h1.72v1.35h-1.72zM253.03 310.05h1.72v1.35h-1.72zM256.46 307.34h1.72v1.35h-1.72zM258.18 310.05h1.72v1.35h-1.72zM278.78 297.86h1.72v1.35h-1.72zM278.78 301.92h1.72v1.35h-1.72zM282.21 295.15h1.72v1.35h-1.72zM283.92 295.15h1.72v1.35h-1.72zM285.64 295.15h1.72v1.35h-1.72zM287.36 295.15h1.72v1.35h-1.72zM287.36 307.34h1.72v1.35h-1.72zM292.51 307.34h1.72v1.35h-1.72zM295.94 300.56h1.72v1.35h-1.72zM295.94 304.63h1.72v1.35h-1.72z"/>
<path fill="#e3e3e3" stroke="#e3e3e3" d="M222.14 282.96h1.72v1.35h-1.72zM222.14 292.44h1.72v1.35h-1.72zM223.86 291.08h1.72v1.35h-1.72zM225.57 278.89h1.72v1.35h-1.72zM225.57 288.37h1.72v1.35h-1.72zM227.29 255.87h1.72v1.35h-1.72zM227.29 285.67h1.72v2.71h-1.72zM229 291.08h1.72v1.35h-1.72zM230.72 254.51h1.72v1.35h-1.72zM230.72 297.86h1.72v1.35h-1.72zM230.72 303.27h1.72v1.35h-1.72zM232.44 278.89h1.72v1.35h-1.72zM232.44 303.27h1.72v1.35h-1.72zM235.87 288.37h1.72v2.71h-1.72zM235.87 304.63h1.72v1.35h-1.72zM237.59 292.44h1.72v9.48h-1.72zM237.59 307.34h1.72v1.35h-1.72zM239.3 299.21h1.72v2.71h-1.72zM241.02 291.08h1.72v1.35h-1.72zM241.02 307.34h1.72v1.35h-1.72zM242.73 308.69h1.72v1.35h-1.72zM244.45 304.63h1.72v2.71h-1.72zM246.17 300.56h1.72v1.35h-1.72zM249.6 310.05h1.72v1.35h-1.72zM251.32 304.63h1.72v1.35h-1.72zM254.75 310.05h1.72v1.35h-1.72zM259.9 310.05h1.72v1.35h-1.72zM278.78 299.21h1.72v1.35h-1.72zM280.49 303.27h1.72v1.35h-1.72zM282.21 304.63h1.72v1.35h-1.72zM283.92 305.98h1.72v1.35h-1.72zM289.07 307.34h1.72v1.35h-1.72zM290.79 296.5h1.72v1.35h-1.72zM290.79 307.34h1.72v1.35h-1.72zM292.51 297.86h1.72v1.35h-1.72zM294.22 299.21h1.72v1.35h-1.72zM294.22 305.98h1.72v1.35h-1.72zM295.94 301.92h1.72v1.35h-1.72z"/>
<path fill="#e5e5e5" stroke="#e5e5e5" d="M222.14 291.08h1.72v1.35h-1.72zM225.57 280.25h1.72v1.35h-1.72zM225.57 287.02h1.72v1.35h-1.72zM227.29 258.58h1.72v1.35h-1.72zM227.29 284.31h1.72v1.35h-1.72zM229 251.8h1.72v1.35h-1.72zM229 255.87h1.72v1.35h-1.72zM229 289.73h1.72v1.35h-1.72zM230.72 257.22h1.72v4.06h-1.72zM235.87 281.6h1.72v1.35h-1.72zM235.87 285.67h1.72v1.35h-1.72zM235.87 292.44h1.72v1.35h-1.72zM235.87 295.15h1.72v1.35h-1.72zM235.87 297.86h1.72v1.35h-1.72zM235.87 303.27h1.72v1.35h-1.72zM237.59 289.73h1.72v2.71h-1.72zM237.59 301.92h1.72v1.35h-1.72zM237.59 305.98h1.72v1.35h-1.72zM241.02 292.44h1.72v1.35h-1.72zM241.02 297.86h1.72v1.35h-1.72zM241.02 304.63h1.72v2.71h-1.72zM244.45 307.34h1.72v4.06h-1.72zM246.17 301.92h1.72v1.35h-1.72zM246.17 305.98h1.72v1.35h-1.72zM280.49 297.86h1.72v1.35h-1.72zM280.49 301.92h1.72v1.35h-1.72zM282.21 296.5h1.72v1.35h-1.72zM285.64 305.98h1.72v1.35h-1.72zM289.07 296.5h1.72v1.35h-1.72zM292.51 305.98h1.72v1.35h-1.72zM294.22 300.56h1.72v1.35h-1.72zM294.22 304.63h1.72v1.35h-1.72z"/>
<path fill="#e7e7e7" stroke="#e7e7e7" d="M222.14 284.31h1.72v1.35h-1.72zM222.14 288.37h1.72v1.35h-1.72zM227.29 257.22h1.72v1.35h-1.72zM227.29 263.99h1.72v1.35h-1.72zM229 253.16h1.72v2.71h-1.72zM229 257.22h1.72v1.35h-1.72zM229 288.37h1.72v1.35h-1.72zM230.72 261.29h1.72v1.35h-1.72zM230.72 292.44h1.72v1.35h-1.72zM230.72 299.21h1.72v4.06h-1.72zM234.15 304.63h1.72v1.35h-1.72zM235.87 282.96h1.72v2.71h-1.72zM235.87 300.56h1.72v2.71h-1.72zM237.59 288.37h1.72v1.35h-1.72zM237.59 304.63h1.72v1.35h-1.72zM241.02 293.79h1.72v2.71h-1.72zM241.02 299.21h1.72v1.35h-1.72zM241.02 303.27h1.72v1.35h-1.72zM242.73 299.21h1.72v1.35h-1.72zM242.73 305.98h1.72v2.71h-1.72zM246.17 303.27h1.72v2.71h-1.72zM251.32 305.98h1.72v1.35h-1.72zM280.49 299.21h1.72v2.71h-1.72zM282.21 303.27h1.72v1.35h-1.72zM283.92 296.5h1.72v1.35h-1.72zM283.92 304.63h1.72v1.35h-1.72zM285.64 296.5h1.72v1.35h-1.72zM287.36 296.5h1.72v1.35h-1.72zM287.36 305.98h1.72v1.35h-1.72zM290.79 305.98h1.72v1.35h-1.72zM292.51 299.21h1.72v1.35h-1.72zM294.22 301.92h1.72v2.71h-1.72z"/>
<path fill="#e9e9e9" stroke="#e9e9e9" d="M222.14 285.67h1.72v2.71h-1.72zM223.86 280.25h1.72v1.35h-1.72zM223.86 289.73h1.72v1.35h-1.72zM225.57 281.6h1.72v1.35h-1.72zM225.57 285.67h1.72v1.35h-1.72zM227.29 282.96h1.72v1.35h-1.72zM229 287.02h1.72v1.35h-1.72zM232.44 282.96h1.72v1.35h-1.72zM232.44 300.56h1.72v1.35h-1.72zM237.59 285.67h1.72v1.35h-1.72zM242.73 300.56h1.72v4.06h-1.72zM247.88 303.27h1.72v1.35h-1.72zM251.32 307.34h1.72v1.35h-1.72zM251.32 310.05h1.72v1.35h-1.72zM256.46 308.69h1.72v1.35h-1.72zM282.21 301.92h1.72v1.35h-1.72zM283.92 297.86h1.72v1.35h-1.72zM285.64 304.63h1.72v1.35h-1.72zM292.51 304.63h1.72v1.35h-1.72z"/>
<path fill="#ebebeb" stroke="#ebebeb" d="M223.86 281.6h1.72v1.35h-1.72zM225.57 284.31h1.72v1.35h-1.72zM227.29 281.6h1.72v1.35h-1.72zM230.72 291.08h1.72v1.35h-1.72zM232.44 299.21h1.72v1.35h-1.72zM234.15 289.73h1.72v1.35h-1.72zM234.15 301.92h1.72v1.35h-1.72zM237.59 287.02h1.72v1.35h-1.72zM247.88 304.63h1.72v5.42h-1.72zM282.21 299.21h1.72v2.71h-1.72zM283.92 303.27h1.72v1.35h-1.72zM285.64 297.86h1.72v1.35h-1.72zM287.36 297.86h1.72v1.35h-1.72zM287.36 304.63h1.72v1.35h-1.72zM289.07 304.63h1.72v1.35h-1.72zM290.79 299.21h1.72v1.35h-1.72zM290.79 304.63h1.72v1.35h-1.72zM292.51 301.92h1.72v2.71h-1.72z"/>
<path fill="#ededed" stroke="#ededed" d="M223.86 282.96h1.72v1.35h-1.72zM223.86 287.02h1.72v2.71h-1.72zM227.29 280.25h1.72v1.35h-1.72zM229 284.31h1.72v1.35h-1.72zM230.72 262.64h1.72v1.35h-1.72zM230.72 289.73h1.72v1.35h-1.72zM232.44 284.31h1.72v1.35h-1.72zM232.44 297.86h1.72v1.35h-1.72zM234.15 293.79h1.72v1.35h-1.72zM234.15 297.86h1.72v4.06h-1.72zM256.46 310.05h1.72v1.35h-1.72zM283.92 299.21h1.72v4.06h-1.72zM285.64 299.21h1.72v1.35h-1.72zM285.64 303.27h1.72v1.35h-1.72zM287.36 299.21h1.72v1.35h-1.72zM289.07 299.21h1.72v1.35h-1.72zM290.79 300.56h1.72v2.71h-1.72z"/>
<path fill="#efefef" stroke="#efefef" d="M223.86 284.31h1.72v2.71h-1.72zM227.29 266.7h1.72v1.35h-1.72zM227.29 270.77h1.72v4.06h-1.72zM227.29 276.18h1.72v4.06h-1.72zM232.44 295.15h1.72v2.71h-1.72zM234.15 295.15h1.72v2.71h-1.72zM287.36 300.56h1.72v4.06h-1.72zM289.07 301.92h1.72v2.71h-1.72z"/>
<path fill="#f1f1f1" stroke="#f1f1f1" d="M229 259.93h1.72v1.35h-1.72zM229 282.96h1.72v1.35h-1.72zM232.44 292.44h1.72v1.35h-1.72zM234.15 287.02h1.72v1.35h-1.72z"/>
<path fill="#f3f3f3" stroke="#f3f3f3" d="M230.72 281.6h1.72v4.06h-1.72zM232.44 285.67h1.72v1.35h-1.72zM232.44 291.08h1.72v1.35h-1.72zM234.15 282.96h1.72v1.35h-1.72z"/>
<path fill="#f5f5f5" stroke="#f5f5f5" d="M229 265.35h1.72v1.35h-1.72zM230.72 263.99h1.72v1.35h-1.72zM230.72 272.12h1.72v2.71h-1.72zM230.72 287.02h1.72v1.35h-1.72zM232.44 287.02h1.72v1.35h-1.72zM234.15 284.31h1.72v2.71h-1.72z"/>
<path fill="#f7f7f7" stroke="#f7f7f7" d="M229 266.7h1.72v1.35h-1.72zM229 273.48h1.72v2.71h-1.72zM230.72 280.25h1.72v1.35h-1.72z"/>
<path fill="#fbfbfb" stroke="#fbfbfb" d="M229 268.06h1.72v1.35h-1.72zM229 272.12h1.72v1.35h-1.72zM229 276.18h1.72v1.35h-1.72zM230.72 270.77h1.72v1.35h-1.72zM230.72 274.83h1.72v1.35h-1.72zM230.72 277.54h1.72v1.35h-1.72z"/>
<path fill="#fdfdfd" stroke="#fdfdfd" d="M229 269.41h1.72v2.71h-1.72zM229 280.25h1.72v1.35h-1.72zM230.72 266.7h1.72v4.06h-1.72zM230.72 276.18h1.72v1.35h-1.72z"/>
<path fill="#ffffff" stroke="#ffffff" d="M229 277.54h1.72v2.71h-1.72z"/>
</g></defs>
<use href="#sc11" stroke-width="1.3"/><use href="#sc11" stroke-width="0"/>
<path fill="#000000" d="M258.18 293.79h1.72v1.35h-1.72z"/>
<path fill="#020202" d="M215.27 295.15h1.72v1.35h-1.72zM235.87 230.13h1.72v1.35h-1.72zM251.32 228.78h1.72v1.35h-1.72zM251.32 284.31h1.72v1.35h-1.72zM256.46 288.37h1.72v1.35h-1.72zM258.18 284.31h1.72v1.35h-1.72zM258.18 289.73h1.72v1.35h-1.72zM259.9 245.03h1.72v1.35h-1.72zM270.19 282.96h1.72v1.35h-1.72zM282.21 278.89h1.72v1.35h-1.72z"/>
<path fill="#080808" d="M259.9 295.15h1.72v1.35h-1.72zM275.34 282.96h1.72v1.35h-1.72zM318.25 296.5h1.72v1.35h-1.72z"/>
<path fill="#0a0a0a" d="M259.9 305.98h1.72v1.35h-1.72z"/>
<path fill="#0c0c0c" d="M263.33 289.73h1.72v1.35h-1.72z"/>
<path fill="#101010" d="M258.18 305.98h1.72v1.35h-1.72z"/>
<path fill="#121212" d="M237.59 250.45h1.72v1.35h-1.72zM246.17 282.96h1.72v1.35h-1.72zM256.46 236.91h1.72v1.35h-1.72zM261.61 300.56h1.72v1.35h-1.72z"/>
<path fill="#141414" d="M242.73 255.87h1.72v1.35h-1.72zM266.76 288.37h1.72v1.35h-1.72z"/>
<path fill="#161616" d="M216.99 265.35h1.72v1.35h-1.72zM295.94 278.89h1.72v1.35h-1.72z"/>
<path fill="#181818" d="M263.33 295.15h1.72v1.35h-1.72zM287.36 284.31h1.72v1.35h-1.72z"/>
<path fill="#1a1a1a" d="M247.88 287.02h1.72v1.35h-1.72zM259.9 242.32h1.72v1.35h-1.72zM282.21 308.69h1.72v1.35h-1.72z"/>
<path fill="#1c1c1c" d="M266.76 305.98h1.72v1.35h-1.72z"/>
<path fill="#1e1e1e" d="M261.61 303.27h1.72v1.35h-1.72zM263.33 304.63h1.72v1.35h-1.72zM266.76 307.34h1.72v1.35h-1.72zM280.49 307.34h1.72v1.35h-1.72z"/>
<path fill="#202020" d="M244.45 266.7h1.72v1.35h-1.72zM265.05 305.98h1.72v1.35h-1.72zM268.48 289.73h1.72v1.35h-1.72z"/>
<path fill="#222222" d="M244.45 278.89h1.72v1.35h-1.72zM295.94 308.69h1.72v1.35h-1.72zM311.38 263.99h1.72v1.35h-1.72z"/>
<path fill="#242424" d="M295.94 284.31h1.72v1.35h-1.72zM325.11 274.83h1.72v1.35h-1.72z"/>
<path fill="#262626" d="M299.37 282.96h1.72v1.35h-1.72zM314.82 270.77h1.72v1.35h-1.72z"/>
<path fill="#282828" d="M244.45 281.6h1.72v1.35h-1.72zM268.48 304.63h1.72v1.35h-1.72z"/>
<path fill="#2a2a2a" d="M309.67 277.54h1.72v1.35h-1.72z"/>
<path fill="#303030" d="M268.48 293.79h1.72v1.35h-1.72zM294.22 288.37h1.72v1.35h-1.72zM301.09 288.37h1.72v1.35h-1.72z"/>
<path fill="#323232" d="M235.87 254.51h1.72v1.35h-1.72zM239.3 258.58h1.72v1.35h-1.72zM254.75 300.56h1.72v1.35h-1.72zM301.09 261.29h1.72v1.35h-1.72z"/>
<path fill="#343434" d="M266.76 243.68h1.72v1.35h-1.72z"/>
<path fill="#383838" d="M234.15 250.45h1.72v1.35h-1.72z"/>
<path fill="#3a3a3a" d="M242.73 296.5h1.72v1.35h-1.72z"/>
<path fill="#3c3c3c" d="M230.72 293.79h1.72v1.35h-1.72z"/>
<path fill="#404040" d="M237.59 276.18h1.72v1.35h-1.72zM275.34 291.08h1.72v1.35h-1.72z"/>
<path fill="#424242" d="M227.29 247.74h1.72v1.35h-1.72zM241.02 296.5h1.72v1.35h-1.72zM273.63 292.44h1.72v1.35h-1.72z"/>
<path fill="#464646" d="M302.8 307.34h1.72v1.35h-1.72z"/>
<path fill="#484848" d="M277.06 307.34h1.72v1.35h-1.72z"/>
<path fill="#4a4a4a" d="M271.91 299.21h1.72v1.35h-1.72zM282.21 310.05h1.72v1.35h-1.72z"/>
<path fill="#4c4c4c" d="M223.86 265.35h1.72v1.35h-1.72zM249.6 296.5h1.72v1.35h-1.72z"/>
<path fill="#4e4e4e" d="M256.46 304.63h1.72v1.35h-1.72zM280.49 308.69h1.72v1.35h-1.72z"/>
<path fill="#505050" d="M225.57 255.87h1.72v1.35h-1.72zM241.02 284.31h1.72v1.35h-1.72zM254.75 304.63h1.72v1.35h-1.72z"/>
<path fill="#525252" d="M285.64 300.56h1.72v1.35h-1.72z"/>
<path fill="#545454" d="M301.09 301.92h1.72v1.35h-1.72z"/>
<path fill="#565656" d="M223.86 270.77h1.72v1.35h-1.72zM223.86 273.48h1.72v1.35h-1.72zM230.72 288.37h1.72v1.35h-1.72zM232.44 254.51h1.72v1.35h-1.72zM234.15 258.58h1.72v1.35h-1.72zM259.9 307.34h1.72v1.35h-1.72zM275.34 303.27h1.72v1.35h-1.72zM299.37 299.21h1.72v1.35h-1.72z"/>
<path fill="#585858" d="M241.02 285.67h1.72v1.35h-1.72z"/>
<path fill="#5a5a5a" d="M232.44 258.58h1.72v1.35h-1.72zM249.6 300.56h1.72v1.35h-1.72zM278.78 293.79h1.72v1.35h-1.72z"/>
<path fill="#5c5c5c" d="M227.29 251.8h1.72v1.35h-1.72zM235.87 274.83h1.72v1.35h-1.72z"/>
<path fill="#5e5e5e" d="M234.15 262.64h1.72v1.35h-1.72z"/>
<path fill="#606060" d="M225.57 273.48h1.72v1.35h-1.72z"/>
<path fill="#626262" d="M234.15 276.18h1.72v1.35h-1.72zM235.87 277.54h1.72v1.35h-1.72z"/>
<path fill="#646464" d="M225.57 261.29h1.72v1.35h-1.72zM234.15 270.77h1.72v1.35h-1.72zM277.06 297.86h1.72v1.35h-1.72zM285.64 293.79h1.72v1.35h-1.72zM290.79 308.69h1.72v1.35h-1.72z"/>
<path fill="#666666" d="M223.86 293.79h1.72v1.35h-1.72zM225.57 293.79h1.72v1.35h-1.72zM230.72 265.35h1.72v1.35h-1.72zM239.3 305.98h1.72v1.35h-1.72zM242.73 291.08h1.72v1.35h-1.72zM277.06 300.56h1.72v1.35h-1.72zM297.65 304.63h1.72v1.35h-1.72z"/>
<path fill="#686868" d="M229 296.5h1.72v1.35h-1.72zM239.3 291.08h1.72v1.35h-1.72zM244.45 299.21h1.72v1.35h-1.72zM251.32 303.27h1.72v1.35h-1.72zM278.78 303.27h1.72v1.35h-1.72zM294.22 307.34h1.72v1.35h-1.72z"/>
<path fill="#6a6a6a" d="M227.29 291.08h1.72v1.35h-1.72zM239.3 295.15h1.72v1.35h-1.72z"/>
<path fill="#6c6c6c" d="M235.87 280.25h1.72v1.35h-1.72zM253.03 308.69h1.72v1.35h-1.72zM254.75 308.69h1.72v1.35h-1.72z"/>
<path fill="#6e6e6e" d="M232.44 272.12h1.72v1.35h-1.72zM247.88 300.56h1.72v1.35h-1.72zM249.6 307.34h1.72v1.35h-1.72zM278.78 300.56h1.72v1.35h-1.72zM280.49 296.5h1.72v1.35h-1.72z"/>
<path fill="#707070" d="M235.87 287.02h1.72v1.35h-1.72zM235.87 291.08h1.72v1.35h-1.72zM246.17 307.34h1.72v1.35h-1.72zM249.6 308.69h1.72v1.35h-1.72zM295.94 303.27h1.72v1.35h-1.72z"/>
<path fill="#727272" d="M230.72 255.87h1.72v1.35h-1.72zM234.15 305.98h1.72v1.35h-1.72z"/>
<path fill="#747474" d="M222.14 289.73h1.72v1.35h-1.72zM223.86 278.89h1.72v1.35h-1.72zM232.44 280.25h1.72v1.35h-1.72zM232.44 301.92h1.72v1.35h-1.72zM235.87 293.79h1.72v1.35h-1.72zM235.87 296.5h1.72v1.35h-1.72zM235.87 299.21h1.72v1.35h-1.72zM237.59 284.31h1.72v1.35h-1.72zM242.73 297.86h1.72v1.35h-1.72zM247.88 301.92h1.72v1.35h-1.72z"/>
<path fill="#767676" d="M234.15 280.25h1.72v1.35h-1.72zM237.59 303.27h1.72v1.35h-1.72zM241.02 300.56h1.72v2.71h-1.72zM290.79 297.86h1.72v1.35h-1.72z"/>
<path fill="#787878" d="M232.44 281.6h1.72v1.35h-1.72zM282.21 297.86h1.72v1.35h-1.72zM289.07 305.98h1.72v1.35h-1.72z"/>
<path fill="#7a7a7a" d="M234.15 291.08h1.72v1.35h-1.72zM234.15 303.27h1.72v1.35h-1.72zM242.73 304.63h1.72v1.35h-1.72zM247.88 310.05h1.72v1.35h-1.72zM289.07 297.86h1.72v1.35h-1.72zM292.51 300.56h1.72v1.35h-1.72z"/>
<path fill="#7c7c7c" d="M225.57 282.96h1.72v1.35h-1.72zM229 258.58h1.72v1.35h-1.72zM229 285.67h1.72v1.35h-1.72zM234.15 292.44h1.72v1.35h-1.72zM251.32 308.69h1.72v1.35h-1.72z"/>
<path fill="#818181" d="M227.29 265.35h1.72v1.35h-1.72zM234.15 281.6h1.72v1.35h-1.72zM290.79 303.27h1.72v1.35h-1.72z"/>
<path fill="#838383" d="M234.15 288.37h1.72v1.35h-1.72z"/>
<path fill="#858585" d="M227.29 268.06h1.72v2.71h-1.72zM227.29 274.83h1.72v1.35h-1.72zM232.44 293.79h1.72v1.35h-1.72zM285.64 301.92h1.72v1.35h-1.72zM289.07 300.56h1.72v1.35h-1.72z"/>
<path fill="#8b8b8b" d="M229 261.29h1.72v4.06h-1.72z"/>
<path fill="#8d8d8d" d="M230.72 285.67h1.72v1.35h-1.72zM232.44 288.37h1.72v2.71h-1.72z"/>
<path fill="#8f8f8f" d="M229 281.6h1.72v1.35h-1.72z"/>
<path fill="#959595" d="M230.72 278.89h1.72v1.35h-1.72z"/>
</g>
<rect x="0" y="0" width="137.3" height="121.9" fill="url(#grid)" transform="translate(212.8 189.9)"/>
<rect x="212.8" y="189.9" width="137.3" height="121.9" fill="none" stroke="#808080" stroke-width="1"/>
<text x="212.8" y="320.1" font-size="5.3" text-anchor="middle" font-family="'DejaVu Sans', 'Liberation Sans', sans-serif" fill="#262626" stroke="#262626" stroke-width=".14">−0.5</text>
<text x="229.96" y="320.1" font-size="5.3" text-anchor="middle" font-family="'DejaVu Sans', 'Liberation Sans', sans-serif" fill="#262626" stroke="#262626" stroke-width=".14">0.0</text>
<text x="247.12" y="320.1" font-size="5.3" text-anchor="middle" font-family="'DejaVu Sans', 'Liberation Sans', sans-serif" fill="#262626" stroke="#262626" stroke-width=".14">0.5</text>
<text x="264.29" y="320.1" font-size="5.3" text-anchor="middle" font-family="'DejaVu Sans', 'Liberation Sans', sans-serif" fill="#262626" stroke="#262626" stroke-width=".14">1.0</text>
<text x="281.45" y="320.1" font-size="5.3" text-anchor="middle" font-family="'DejaVu Sans', 'Liberation Sans', sans-serif" fill="#262626" stroke="#262626" stroke-width=".14">1.5</text>
<text x="298.61" y="320.1" font-size="5.3" text-anchor="middle" font-family="'DejaVu Sans', 'Liberation Sans', sans-serif" fill="#262626" stroke="#262626" stroke-width=".14">2.0</text>
<text x="315.78" y="320.1" font-size="5.3" text-anchor="middle" font-family="'DejaVu Sans', 'Liberation Sans', sans-serif" fill="#262626" stroke="#262626" stroke-width=".14">2.5</text>
<text x="332.94" y="320.1" font-size="5.3" text-anchor="middle" font-family="'DejaVu Sans', 'Liberation Sans', sans-serif" fill="#262626" stroke="#262626" stroke-width=".14">3.0</text>
<text x="350.1" y="320.1" font-size="5.3" text-anchor="middle" font-family="'DejaVu Sans', 'Liberation Sans', sans-serif" fill="#262626" stroke="#262626" stroke-width=".14">3.5</text>
<text x="208.9" y="192.75" font-size="5.3" text-anchor="end" font-family="'DejaVu Sans', 'Liberation Sans', sans-serif" fill="#262626" stroke="#262626" stroke-width=".14">18</text>
<text x="208.9" y="206.29" font-size="5.3" text-anchor="end" font-family="'DejaVu Sans', 'Liberation Sans', sans-serif" fill="#262626" stroke="#262626" stroke-width=".14">19</text>
<text x="208.9" y="219.84" font-size="5.3" text-anchor="end" font-family="'DejaVu Sans', 'Liberation Sans', sans-serif" fill="#262626" stroke="#262626" stroke-width=".14">20</text>
<text x="208.9" y="233.38" font-size="5.3" text-anchor="end" font-family="'DejaVu Sans', 'Liberation Sans', sans-serif" fill="#262626" stroke="#262626" stroke-width=".14">21</text>
<text x="208.9" y="246.93" font-size="5.3" text-anchor="end" font-family="'DejaVu Sans', 'Liberation Sans', sans-serif" fill="#262626" stroke="#262626" stroke-width=".14">22</text>
<text x="208.9" y="260.47" font-size="5.3" text-anchor="end" font-family="'DejaVu Sans', 'Liberation Sans', sans-serif" fill="#262626" stroke="#262626" stroke-width=".14">23</text>
<text x="208.9" y="274.02" font-size="5.3" text-anchor="end" font-family="'DejaVu Sans', 'Liberation Sans', sans-serif" fill="#262626" stroke="#262626" stroke-width=".14">24</text>
<text x="208.9" y="287.56" font-size="5.3" text-anchor="end" font-family="'DejaVu Sans', 'Liberation Sans', sans-serif" fill="#262626" stroke="#262626" stroke-width=".14">25</text>
<text x="208.9" y="301.11" font-size="5.3" text-anchor="end" font-family="'DejaVu Sans', 'Liberation Sans', sans-serif" fill="#262626" stroke="#262626" stroke-width=".14">26</text>
<text x="208.9" y="314.65" font-size="5.3" text-anchor="end" font-family="'DejaVu Sans', 'Liberation Sans', sans-serif" fill="#262626" stroke="#262626" stroke-width=".14">27</text>
<path d="M212.8 311.8v2.1M229.96 311.8v2.1M247.12 311.8v2.1M264.29 311.8v2.1M281.45 311.8v2.1M298.61 311.8v2.1M315.78 311.8v2.1M332.94 311.8v2.1M350.1 311.8v2.1M212.8 189.9h-2.1M212.8 203.44h-2.1M212.8 216.99h-2.1M212.8 230.53h-2.1M212.8 244.08h-2.1M212.8 257.62h-2.1M212.8 271.17h-2.1M212.8 284.71h-2.1M212.8 298.26h-2.1M212.8 311.8h-2.1" stroke="#585858" stroke-width=".6" fill="none"/>
<text x="281.45" y="187" font-size="9.4" text-anchor="middle" font-family="'DejaVu Sans', 'Liberation Sans', sans-serif" fill="#262626" stroke="#262626" stroke-width=".14">Significance of Residual</text>
<text x="281.45" y="328.8" font-size="8.4" text-anchor="middle" font-family="'DejaVu Sans', 'Liberation Sans', sans-serif" fill="#262626" stroke="#262626" stroke-width=".14">F475W-F814W</text>
<text transform="translate(199.4 250.85) rotate(-90)" font-size="8.0" text-anchor="middle" font-family="'DejaVu Sans', 'Liberation Sans', sans-serif" fill="#262626" stroke="#262626" stroke-width=".14">F475W</text>
<rect x="358.55" y="189.9" width="6.3" height="121.9" fill="url(#cb)" stroke="#585858" stroke-width=".5"/>
<text x="368.45" y="309.89" font-size="5.3" text-anchor="start" font-family="'DejaVu Sans', 'Liberation Sans', sans-serif" fill="#262626" stroke="#262626" stroke-width=".14">−1</text>
<text x="368.45" y="283.95" font-size="5.3" text-anchor="start" font-family="'DejaVu Sans', 'Liberation Sans', sans-serif" fill="#262626" stroke="#262626" stroke-width=".14">0</text>
<text x="368.45" y="258.02" font-size="5.3" text-anchor="start" font-family="'DejaVu Sans', 'Liberation Sans', sans-serif" fill="#262626" stroke="#262626" stroke-width=".14">1</text>
<text x="368.45" y="232.08" font-size="5.3" text-anchor="start" font-family="'DejaVu Sans', 'Liberation Sans', sans-serif" fill="#262626" stroke="#262626" stroke-width=".14">2</text>
<text x="368.45" y="206.15" font-size="5.3" text-anchor="start" font-family="'DejaVu Sans', 'Liberation Sans', sans-serif" fill="#262626" stroke="#262626" stroke-width=".14">3</text>
<path d="M364.85 307.39h2.1M364.85 281.45h2.1M364.85 255.52h2.1M364.85 229.58h2.1M364.85 203.65h2.1" stroke="#585858" stroke-width=".6" fill="none"/>
</g>
<g>
<rect x="404.6" y="190.3" width="136.8" height="121.5" fill="#b0b0b0"/>
<clipPath id="c21"><rect x="404.1" y="189.9" width="137.3" height="121.9"/></clipPath>
<g clip-path="url(#c21)">
<defs><g id="sc21">
<path fill="#b2b2b2" stroke="#b2b2b2" d="M403.14 284.31h1.72v23.03h-1.72zM404.86 278.89h1.72v32.51h-1.72zM406.57 272.12h1.72v6.77h-1.72zM406.57 281.6h1.72v29.8h-1.72zM408.29 263.99h1.72v25.73h-1.72zM408.29 291.08h1.72v9.48h-1.72zM408.29 301.92h1.72v9.48h-1.72zM410.01 262.64h1.72v21.67h-1.72zM410.01 300.56h1.72v10.84h-1.72zM411.72 263.99h1.72v10.84h-1.72zM411.72 277.54h1.72v2.71h-1.72zM411.72 284.31h1.72v4.06h-1.72zM411.72 303.27h1.72v8.13h-1.72zM413.44 261.29h1.72v9.48h-1.72zM413.44 273.48h1.72v4.06h-1.72zM413.44 305.98h1.72v5.42h-1.72zM415.16 258.58h1.72v9.48h-1.72zM415.16 305.98h1.72v5.42h-1.72zM416.87 258.58h1.72v6.77h-1.72zM418.59 258.58h1.72v5.42h-1.72zM420.3 257.22h1.72v4.06h-1.72zM422.02 259.93h1.72v2.71h-1.72zM423.74 257.22h1.72v4.06h-1.72zM425.45 258.58h1.72v4.06h-1.72zM427.17 257.22h1.72v1.35h-1.72zM427.17 259.93h1.72v2.71h-1.72zM427.17 263.99h1.72v1.35h-1.72zM428.89 258.58h1.72v4.06h-1.72zM430.6 259.93h1.72v2.71h-1.72zM432.32 257.22h1.72v5.42h-1.72zM432.32 266.7h1.72v1.35h-1.72zM434.03 259.93h1.72v6.77h-1.72zM435.75 261.29h1.72v8.13h-1.72zM437.47 262.64h1.72v5.42h-1.72zM437.47 276.18h1.72v2.71h-1.72zM439.18 261.29h1.72v6.77h-1.72zM439.18 269.41h1.72v5.42h-1.72zM440.9 261.29h1.72v16.25h-1.72zM440.9 278.89h1.72v1.35h-1.72zM442.62 262.64h1.72v1.35h-1.72zM442.62 265.35h1.72v21.67h-1.72zM444.33 266.7h1.72v9.48h-1.72zM444.33 277.54h1.72v6.77h-1.72zM446.05 269.41h1.72v21.67h-1.72zM447.76 268.06h1.72v18.96h-1.72zM447.76 288.37h1.72v8.13h-1.72zM449.48 263.99h1.72v5.42h-1.72zM449.48 270.77h1.72v4.06h-1.72zM449.48 277.54h1.72v17.61h-1.72zM451.2 261.29h1.72v4.06h-1.72zM451.2 269.41h1.72v8.13h-1.72zM451.2 280.25h1.72v20.32h-1.72zM452.91 259.93h1.72v2.71h-1.72zM452.91 270.77h1.72v29.8h-1.72zM454.63 258.58h1.72v2.71h-1.72zM454.63 272.12h1.72v6.77h-1.72zM454.63 281.6h1.72v8.13h-1.72zM454.63 291.08h1.72v2.71h-1.72zM454.63 295.15h1.72v9.48h-1.72zM454.63 305.98h1.72v2.71h-1.72zM456.35 257.22h1.72v4.06h-1.72zM456.35 272.12h1.72v14.9h-1.72zM456.35 289.73h1.72v9.48h-1.72zM458.06 257.22h1.72v4.06h-1.72zM458.06 273.48h1.72v1.35h-1.72zM458.06 276.18h1.72v31.15h-1.72zM458.06 310.05h1.72v1.35h-1.72zM459.78 258.58h1.72v5.42h-1.72zM459.78 273.48h1.72v21.67h-1.72zM459.78 303.27h1.72v5.42h-1.72zM459.78 310.05h1.72v1.35h-1.72zM461.49 261.29h1.72v2.71h-1.72zM461.49 274.83h1.72v16.25h-1.72zM461.49 292.44h1.72v1.35h-1.72zM461.49 304.63h1.72v6.77h-1.72zM463.21 259.93h1.72v5.42h-1.72zM463.21 274.83h1.72v17.61h-1.72zM463.21 304.63h1.72v6.77h-1.72zM464.93 261.29h1.72v5.42h-1.72zM464.93 276.18h1.72v5.42h-1.72zM464.93 284.31h1.72v4.06h-1.72zM464.93 289.73h1.72v1.35h-1.72zM464.93 304.63h1.72v6.77h-1.72zM466.64 262.64h1.72v5.42h-1.72zM466.64 277.54h1.72v12.19h-1.72zM466.64 307.34h1.72v4.06h-1.72zM468.36 263.99h1.72v4.06h-1.72zM468.36 278.89h1.72v10.84h-1.72zM468.36 307.34h1.72v4.06h-1.72zM470.08 265.35h1.72v5.42h-1.72zM470.08 278.89h1.72v2.71h-1.72zM470.08 282.96h1.72v6.77h-1.72zM470.08 307.34h1.72v4.06h-1.72zM471.79 265.35h1.72v5.42h-1.72zM471.79 280.25h1.72v9.48h-1.72zM471.79 307.34h1.72v4.06h-1.72zM473.51 266.7h1.72v5.42h-1.72zM473.51 281.6h1.72v6.77h-1.72zM473.51 307.34h1.72v4.06h-1.72zM475.22 266.7h1.72v5.42h-1.72zM475.22 284.31h1.72v2.71h-1.72zM475.22 308.69h1.72v2.71h-1.72zM476.94 268.06h1.72v5.42h-1.72zM476.94 285.67h1.72v2.71h-1.72zM476.94 307.34h1.72v4.06h-1.72zM478.66 269.41h1.72v4.06h-1.72zM478.66 288.37h1.72v1.35h-1.72zM478.66 307.34h1.72v4.06h-1.72zM480.37 269.41h1.72v5.42h-1.72zM480.37 307.34h1.72v4.06h-1.72zM482.09 270.77h1.72v4.06h-1.72zM482.09 307.34h1.72v4.06h-1.72zM483.81 270.77h1.72v5.42h-1.72zM483.81 307.34h1.72v1.35h-1.72zM483.81 310.05h1.72v1.35h-1.72zM485.52 272.12h1.72v4.06h-1.72zM485.52 289.73h1.72v1.35h-1.72zM485.52 305.98h1.72v2.71h-1.72zM485.52 310.05h1.72v1.35h-1.72zM487.24 273.48h1.72v4.06h-1.72zM487.24 288.37h1.72v5.42h-1.72zM487.24 304.63h1.72v6.77h-1.72zM488.95 273.48h1.72v5.42h-1.72zM488.95 287.02h1.72v9.48h-1.72zM488.95 301.92h1.72v9.48h-1.72zM490.67 274.83h1.72v21.67h-1.72zM490.67 297.86h1.72v13.54h-1.72zM492.39 276.18h1.72v8.13h-1.72zM492.39 285.67h1.72v23.03h-1.72zM492.39 310.05h1.72v1.35h-1.72zM494.1 277.54h1.72v32.51h-1.72zM495.82 280.25h1.72v28.44h-1.72zM497.54 280.25h1.72v27.09h-1.72zM499.25 282.96h1.72v21.67h-1.72zM500.97 295.15h1.72v4.06h-1.72z"/>
<path fill="#b6b6b6" stroke="#b6b6b6" d="M408.29 300.56h1.72v1.35h-1.72zM410.01 284.31h1.72v16.25h-1.72zM411.72 274.83h1.72v2.71h-1.72zM411.72 280.25h1.72v4.06h-1.72zM411.72 288.37h1.72v6.77h-1.72zM411.72 296.5h1.72v6.77h-1.72zM413.44 270.77h1.72v2.71h-1.72zM413.44 277.54h1.72v4.06h-1.72zM413.44 284.31h1.72v2.71h-1.72zM413.44 292.44h1.72v4.06h-1.72zM415.16 268.06h1.72v5.42h-1.72zM415.16 293.79h1.72v2.71h-1.72zM415.16 300.56h1.72v5.42h-1.72zM416.87 265.35h1.72v2.71h-1.72zM416.87 269.41h1.72v1.35h-1.72zM416.87 307.34h1.72v4.06h-1.72zM418.59 263.99h1.72v2.71h-1.72zM418.59 301.92h1.72v9.48h-1.72zM422.02 308.69h1.72v2.71h-1.72zM425.45 262.64h1.72v1.35h-1.72zM427.17 265.35h1.72v1.35h-1.72zM430.6 262.64h1.72v1.35h-1.72zM432.32 262.64h1.72v4.06h-1.72zM432.32 268.06h1.72v2.71h-1.72zM434.03 266.7h1.72v2.71h-1.72zM434.03 270.77h1.72v1.35h-1.72zM435.75 270.77h1.72v2.71h-1.72zM437.47 268.06h1.72v4.06h-1.72zM437.47 274.83h1.72v1.35h-1.72zM439.18 276.18h1.72v8.13h-1.72zM440.9 280.25h1.72v6.77h-1.72zM442.62 287.02h1.72v2.71h-1.72zM442.62 300.56h1.72v1.35h-1.72zM444.33 284.31h1.72v9.48h-1.72zM444.33 295.15h1.72v4.06h-1.72zM446.05 291.08h1.72v12.19h-1.72zM447.76 296.5h1.72v4.06h-1.72zM447.76 303.27h1.72v6.77h-1.72zM449.48 295.15h1.72v4.06h-1.72zM449.48 301.92h1.72v2.71h-1.72zM451.2 265.35h1.72v4.06h-1.72zM451.2 301.92h1.72v4.06h-1.72zM452.91 262.64h1.72v6.77h-1.72zM452.91 300.56h1.72v9.48h-1.72zM454.63 261.29h1.72v1.35h-1.72zM454.63 269.41h1.72v2.71h-1.72zM454.63 308.69h1.72v1.35h-1.72zM456.35 261.29h1.72v2.71h-1.72zM456.35 270.77h1.72v1.35h-1.72zM456.35 299.21h1.72v9.48h-1.72zM458.06 261.29h1.72v2.71h-1.72zM458.06 272.12h1.72v1.35h-1.72zM458.06 307.34h1.72v2.71h-1.72zM459.78 270.77h1.72v2.71h-1.72zM459.78 295.15h1.72v8.13h-1.72zM461.49 263.99h1.72v1.35h-1.72zM461.49 272.12h1.72v2.71h-1.72zM461.49 293.79h1.72v10.84h-1.72zM463.21 265.35h1.72v1.35h-1.72zM463.21 272.12h1.72v2.71h-1.72zM463.21 292.44h1.72v12.19h-1.72zM464.93 266.7h1.72v2.71h-1.72zM464.93 270.77h1.72v2.71h-1.72zM464.93 274.83h1.72v1.35h-1.72zM464.93 291.08h1.72v4.06h-1.72zM464.93 300.56h1.72v4.06h-1.72zM466.64 268.06h1.72v1.35h-1.72zM466.64 274.83h1.72v2.71h-1.72zM466.64 289.73h1.72v4.06h-1.72zM466.64 301.92h1.72v5.42h-1.72zM468.36 268.06h1.72v2.71h-1.72zM468.36 276.18h1.72v2.71h-1.72zM468.36 289.73h1.72v2.71h-1.72zM468.36 305.98h1.72v1.35h-1.72zM470.08 270.77h1.72v8.13h-1.72zM470.08 289.73h1.72v1.35h-1.72zM470.08 304.63h1.72v2.71h-1.72zM471.79 272.12h1.72v5.42h-1.72zM471.79 278.89h1.72v1.35h-1.72zM471.79 291.08h1.72v1.35h-1.72zM471.79 304.63h1.72v2.71h-1.72zM473.51 273.48h1.72v1.35h-1.72zM473.51 280.25h1.72v1.35h-1.72zM473.51 288.37h1.72v4.06h-1.72zM473.51 305.98h1.72v1.35h-1.72zM475.22 272.12h1.72v2.71h-1.72zM475.22 276.18h1.72v2.71h-1.72zM475.22 281.6h1.72v1.35h-1.72zM475.22 288.37h1.72v4.06h-1.72zM475.22 305.98h1.72v1.35h-1.72zM476.94 274.83h1.72v1.35h-1.72zM476.94 282.96h1.72v2.71h-1.72zM476.94 288.37h1.72v4.06h-1.72zM476.94 305.98h1.72v1.35h-1.72zM478.66 273.48h1.72v4.06h-1.72zM478.66 284.31h1.72v2.71h-1.72zM478.66 289.73h1.72v2.71h-1.72zM478.66 305.98h1.72v1.35h-1.72zM480.37 274.83h1.72v1.35h-1.72zM480.37 285.67h1.72v6.77h-1.72zM480.37 304.63h1.72v1.35h-1.72zM482.09 274.83h1.72v1.35h-1.72zM482.09 287.02h1.72v1.35h-1.72zM482.09 289.73h1.72v4.06h-1.72zM482.09 304.63h1.72v2.71h-1.72zM483.81 276.18h1.72v1.35h-1.72zM483.81 288.37h1.72v6.77h-1.72zM483.81 305.98h1.72v1.35h-1.72zM485.52 276.18h1.72v1.35h-1.72zM485.52 287.02h1.72v2.71h-1.72zM485.52 292.44h1.72v5.42h-1.72zM485.52 300.56h1.72v5.42h-1.72zM487.24 277.54h1.72v1.35h-1.72zM487.24 285.67h1.72v2.71h-1.72zM487.24 293.79h1.72v10.84h-1.72zM488.95 278.89h1.72v1.35h-1.72zM488.95 284.31h1.72v2.71h-1.72zM488.95 296.5h1.72v5.42h-1.72z"/>
<path fill="#bababa" stroke="#bababa" d="M413.44 281.6h1.72v2.71h-1.72zM413.44 287.02h1.72v5.42h-1.72zM413.44 296.5h1.72v1.35h-1.72zM413.44 300.56h1.72v1.35h-1.72zM413.44 303.27h1.72v2.71h-1.72zM415.16 273.48h1.72v2.71h-1.72zM415.16 296.5h1.72v4.06h-1.72zM416.87 268.06h1.72v1.35h-1.72zM416.87 270.77h1.72v1.35h-1.72zM416.87 291.08h1.72v2.71h-1.72zM416.87 303.27h1.72v4.06h-1.72zM418.59 266.7h1.72v1.35h-1.72zM418.59 270.77h1.72v4.06h-1.72zM418.59 296.5h1.72v2.71h-1.72zM418.59 300.56h1.72v1.35h-1.72zM420.3 262.64h1.72v1.35h-1.72zM420.3 266.7h1.72v1.35h-1.72zM422.02 304.63h1.72v1.35h-1.72zM422.02 307.34h1.72v1.35h-1.72zM425.45 263.99h1.72v1.35h-1.72zM425.45 287.02h1.72v1.35h-1.72zM427.17 288.37h1.72v1.35h-1.72zM430.6 263.99h1.72v4.06h-1.72zM430.6 310.05h1.72v1.35h-1.72zM432.32 270.77h1.72v1.35h-1.72zM434.03 269.41h1.72v1.35h-1.72zM434.03 272.12h1.72v2.71h-1.72zM437.47 272.12h1.72v2.71h-1.72zM437.47 278.89h1.72v1.35h-1.72zM439.18 287.02h1.72v5.42h-1.72zM440.9 287.02h1.72v4.06h-1.72zM442.62 289.73h1.72v6.77h-1.72zM442.62 299.21h1.72v1.35h-1.72zM442.62 301.92h1.72v2.71h-1.72zM444.33 293.79h1.72v1.35h-1.72zM444.33 299.21h1.72v1.35h-1.72zM446.05 303.27h1.72v1.35h-1.72zM447.76 301.92h1.72v1.35h-1.72zM449.48 299.21h1.72v2.71h-1.72zM449.48 304.63h1.72v2.71h-1.72zM451.2 305.98h1.72v1.35h-1.72zM452.91 310.05h1.72v1.35h-1.72zM454.63 262.64h1.72v1.35h-1.72zM454.63 268.06h1.72v1.35h-1.72zM456.35 263.99h1.72v1.35h-1.72zM456.35 268.06h1.72v2.71h-1.72zM456.35 308.69h1.72v2.71h-1.72zM458.06 270.77h1.72v1.35h-1.72zM459.78 265.35h1.72v5.42h-1.72zM461.49 266.7h1.72v5.42h-1.72zM463.21 266.7h1.72v2.71h-1.72zM464.93 269.41h1.72v1.35h-1.72zM464.93 296.5h1.72v4.06h-1.72zM466.64 269.41h1.72v1.35h-1.72zM466.64 272.12h1.72v2.71h-1.72zM466.64 295.15h1.72v1.35h-1.72zM466.64 297.86h1.72v4.06h-1.72zM468.36 270.77h1.72v5.42h-1.72zM468.36 292.44h1.72v1.35h-1.72zM468.36 295.15h1.72v1.35h-1.72zM468.36 300.56h1.72v2.71h-1.72zM470.08 292.44h1.72v2.71h-1.72zM470.08 301.92h1.72v2.71h-1.72zM471.79 292.44h1.72v1.35h-1.72zM471.79 303.27h1.72v1.35h-1.72zM473.51 274.83h1.72v4.06h-1.72zM473.51 292.44h1.72v1.35h-1.72zM473.51 303.27h1.72v1.35h-1.72zM475.22 274.83h1.72v1.35h-1.72zM475.22 278.89h1.72v1.35h-1.72zM475.22 292.44h1.72v1.35h-1.72zM475.22 303.27h1.72v2.71h-1.72zM476.94 277.54h1.72v5.42h-1.72zM476.94 292.44h1.72v1.35h-1.72zM476.94 303.27h1.72v2.71h-1.72zM478.66 277.54h1.72v4.06h-1.72zM478.66 282.96h1.72v1.35h-1.72zM478.66 292.44h1.72v1.35h-1.72zM480.37 276.18h1.72v1.35h-1.72zM480.37 284.31h1.72v1.35h-1.72zM480.37 292.44h1.72v2.71h-1.72zM480.37 303.27h1.72v1.35h-1.72zM482.09 285.67h1.72v1.35h-1.72zM482.09 293.79h1.72v2.71h-1.72zM482.09 303.27h1.72v1.35h-1.72zM483.81 287.02h1.72v1.35h-1.72zM483.81 295.15h1.72v8.13h-1.72zM485.52 277.54h1.72v1.35h-1.72zM485.52 285.67h1.72v1.35h-1.72zM485.52 297.86h1.72v2.71h-1.72zM487.24 284.31h1.72v1.35h-1.72zM488.95 280.25h1.72v1.35h-1.72zM488.95 282.96h1.72v1.35h-1.72z"/>
<path fill="#bebebe" stroke="#bebebe" d="M413.44 297.86h1.72v2.71h-1.72zM413.44 301.92h1.72v1.35h-1.72zM415.16 276.18h1.72v1.35h-1.72zM415.16 278.89h1.72v1.35h-1.72zM415.16 287.02h1.72v4.06h-1.72zM416.87 272.12h1.72v2.71h-1.72zM416.87 288.37h1.72v1.35h-1.72zM418.59 295.15h1.72v1.35h-1.72zM420.3 265.35h1.72v1.35h-1.72zM420.3 270.77h1.72v1.35h-1.72zM420.3 273.48h1.72v4.06h-1.72zM420.3 310.05h1.72v1.35h-1.72zM422.02 265.35h1.72v1.35h-1.72zM425.45 291.08h1.72v1.35h-1.72zM427.17 268.06h1.72v2.71h-1.72zM427.17 287.02h1.72v1.35h-1.72zM428.89 263.99h1.72v1.35h-1.72zM428.89 269.41h1.72v2.71h-1.72zM428.89 273.48h1.72v4.06h-1.72zM430.6 268.06h1.72v1.35h-1.72zM430.6 307.34h1.72v1.35h-1.72zM432.32 307.34h1.72v2.71h-1.72zM434.03 301.92h1.72v1.35h-1.72zM435.75 273.48h1.72v1.35h-1.72zM435.75 287.02h1.72v2.71h-1.72zM437.47 280.25h1.72v2.71h-1.72zM439.18 284.31h1.72v2.71h-1.72zM439.18 292.44h1.72v1.35h-1.72zM440.9 291.08h1.72v4.06h-1.72zM440.9 303.27h1.72v5.42h-1.72zM442.62 296.5h1.72v1.35h-1.72zM444.33 300.56h1.72v2.71h-1.72zM446.05 304.63h1.72v1.35h-1.72zM449.48 307.34h1.72v1.35h-1.72zM454.63 265.35h1.72v2.71h-1.72zM456.35 266.7h1.72v1.35h-1.72zM458.06 263.99h1.72v1.35h-1.72zM458.06 269.41h1.72v1.35h-1.72zM468.36 296.5h1.72v4.06h-1.72zM470.08 297.86h1.72v2.71h-1.72zM471.79 295.15h1.72v1.35h-1.72zM471.79 300.56h1.72v2.71h-1.72zM473.51 293.79h1.72v2.71h-1.72zM473.51 300.56h1.72v2.71h-1.72zM475.22 301.92h1.72v1.35h-1.72zM476.94 293.79h1.72v2.71h-1.72zM478.66 281.6h1.72v1.35h-1.72zM478.66 295.15h1.72v2.71h-1.72zM478.66 300.56h1.72v2.71h-1.72zM480.37 277.54h1.72v2.71h-1.72zM480.37 282.96h1.72v1.35h-1.72zM480.37 296.5h1.72v6.77h-1.72zM482.09 277.54h1.72v1.35h-1.72zM482.09 284.31h1.72v1.35h-1.72zM482.09 297.86h1.72v2.71h-1.72zM483.81 277.54h1.72v1.35h-1.72zM483.81 284.31h1.72v2.71h-1.72zM485.52 278.89h1.72v1.35h-1.72zM487.24 278.89h1.72v1.35h-1.72zM487.24 281.6h1.72v2.71h-1.72z"/>
<path fill="#c2c2c2" stroke="#c2c2c2" d="M415.16 280.25h1.72v6.77h-1.72zM416.87 277.54h1.72v5.42h-1.72zM416.87 301.92h1.72v1.35h-1.72zM418.59 269.41h1.72v1.35h-1.72zM420.3 308.69h1.72v1.35h-1.72zM422.02 266.7h1.72v1.35h-1.72zM427.17 270.77h1.72v1.35h-1.72zM430.6 269.41h1.72v1.35h-1.72zM432.32 288.37h1.72v4.06h-1.72zM432.32 293.79h1.72v1.35h-1.72zM432.32 305.98h1.72v1.35h-1.72zM434.03 285.67h1.72v1.35h-1.72zM435.75 274.83h1.72v2.71h-1.72zM435.75 291.08h1.72v1.35h-1.72zM437.47 282.96h1.72v1.35h-1.72zM439.18 293.79h1.72v1.35h-1.72zM439.18 296.5h1.72v1.35h-1.72zM440.9 295.15h1.72v2.71h-1.72zM440.9 308.69h1.72v1.35h-1.72zM449.48 308.69h1.72v1.35h-1.72zM458.06 265.35h1.72v4.06h-1.72zM471.79 296.5h1.72v1.35h-1.72zM471.79 299.21h1.72v1.35h-1.72zM473.51 296.5h1.72v1.35h-1.72zM473.51 299.21h1.72v1.35h-1.72zM475.22 296.5h1.72v2.71h-1.72zM475.22 300.56h1.72v1.35h-1.72zM476.94 296.5h1.72v4.06h-1.72zM478.66 297.86h1.72v1.35h-1.72zM480.37 281.6h1.72v1.35h-1.72zM482.09 282.96h1.72v1.35h-1.72zM483.81 278.89h1.72v1.35h-1.72zM483.81 282.96h1.72v1.35h-1.72zM485.52 280.25h1.72v1.35h-1.72zM487.24 280.25h1.72v1.35h-1.72z"/>
<path fill="#c6c6c6" stroke="#c6c6c6" d="M416.87 274.83h1.72v2.71h-1.72zM416.87 300.56h1.72v1.35h-1.72zM420.3 307.34h1.72v1.35h-1.72zM422.02 268.06h1.72v1.35h-1.72zM422.02 291.08h1.72v2.71h-1.72zM423.74 310.05h1.72v1.35h-1.72zM427.17 285.67h1.72v1.35h-1.72zM432.32 273.48h1.72v1.35h-1.72zM434.03 276.18h1.72v5.42h-1.72zM435.75 277.54h1.72v1.35h-1.72zM435.75 293.79h1.72v1.35h-1.72zM435.75 296.5h1.72v1.35h-1.72zM437.47 284.31h1.72v2.71h-1.72zM439.18 297.86h1.72v2.71h-1.72zM440.9 297.86h1.72v1.35h-1.72zM440.9 310.05h1.72v1.35h-1.72zM442.62 305.98h1.72v2.71h-1.72zM446.05 307.34h1.72v1.35h-1.72zM449.48 310.05h1.72v1.35h-1.72zM451.2 310.05h1.72v1.35h-1.72zM480.37 280.25h1.72v1.35h-1.72zM482.09 280.25h1.72v1.35h-1.72zM485.52 281.6h1.72v2.71h-1.72z"/>
<path fill="#cacaca" stroke="#cacaca" d="M416.87 293.79h1.72v2.71h-1.72zM416.87 299.21h1.72v1.35h-1.72zM420.3 277.54h1.72v4.06h-1.72zM420.3 299.21h1.72v1.35h-1.72zM423.74 308.69h1.72v1.35h-1.72zM425.45 293.79h1.72v1.35h-1.72zM428.89 281.6h1.72v2.71h-1.72zM430.6 270.77h1.72v1.35h-1.72zM430.6 282.96h1.72v2.71h-1.72zM434.03 281.6h1.72v1.35h-1.72zM434.03 310.05h1.72v1.35h-1.72zM435.75 278.89h1.72v1.35h-1.72zM437.47 287.02h1.72v4.06h-1.72zM437.47 300.56h1.72v1.35h-1.72zM437.47 308.69h1.72v2.71h-1.72zM440.9 299.21h1.72v1.35h-1.72zM442.62 308.69h1.72v1.35h-1.72z"/>
<path fill="#cecece" stroke="#cecece" d="M416.87 282.96h1.72v4.06h-1.72zM416.87 296.5h1.72v2.71h-1.72zM418.59 274.83h1.72v1.35h-1.72zM420.3 297.86h1.72v1.35h-1.72zM420.3 304.63h1.72v1.35h-1.72zM425.45 266.7h1.72v1.35h-1.72zM425.45 295.15h1.72v1.35h-1.72zM428.89 288.37h1.72v1.35h-1.72zM428.89 291.08h1.72v1.35h-1.72zM430.6 273.48h1.72v1.35h-1.72zM432.32 274.83h1.72v1.35h-1.72zM432.32 282.96h1.72v5.42h-1.72zM434.03 282.96h1.72v1.35h-1.72zM434.03 296.5h1.72v1.35h-1.72zM434.03 299.21h1.72v1.35h-1.72zM435.75 280.25h1.72v1.35h-1.72zM435.75 282.96h1.72v1.35h-1.72zM437.47 297.86h1.72v2.71h-1.72zM437.47 301.92h1.72v1.35h-1.72zM439.18 308.69h1.72v1.35h-1.72zM440.9 301.92h1.72v1.35h-1.72zM444.33 304.63h1.72v1.35h-1.72zM483.81 280.25h1.72v2.71h-1.72z"/>
<path fill="#d2d2d2" stroke="#d2d2d2" d="M418.59 288.37h1.72v4.06h-1.72zM418.59 293.79h1.72v1.35h-1.72zM420.3 296.5h1.72v1.35h-1.72zM420.3 303.27h1.72v1.35h-1.72zM423.74 307.34h1.72v1.35h-1.72zM425.45 308.69h1.72v1.35h-1.72zM427.17 310.05h1.72v1.35h-1.72zM428.89 268.06h1.72v1.35h-1.72zM428.89 284.31h1.72v2.71h-1.72zM430.6 274.83h1.72v1.35h-1.72zM430.6 296.5h1.72v1.35h-1.72zM432.32 276.18h1.72v1.35h-1.72zM432.32 304.63h1.72v1.35h-1.72zM434.03 284.31h1.72v1.35h-1.72zM434.03 288.37h1.72v1.35h-1.72zM434.03 291.08h1.72v1.35h-1.72zM434.03 303.27h1.72v1.35h-1.72zM434.03 307.34h1.72v1.35h-1.72zM435.75 284.31h1.72v1.35h-1.72zM435.75 299.21h1.72v1.35h-1.72zM435.75 301.92h1.72v4.06h-1.72zM437.47 291.08h1.72v1.35h-1.72zM439.18 303.27h1.72v2.71h-1.72zM439.18 307.34h1.72v1.35h-1.72zM444.33 305.98h1.72v2.71h-1.72zM446.05 310.05h1.72v1.35h-1.72z"/>
<path fill="#d7d7d7" stroke="#d7d7d7" d="M418.59 277.54h1.72v2.71h-1.72zM418.59 281.6h1.72v1.35h-1.72zM418.59 284.31h1.72v2.71h-1.72zM420.3 285.67h1.72v2.71h-1.72zM420.3 289.73h1.72v2.71h-1.72zM422.02 301.92h1.72v1.35h-1.72zM423.74 266.7h1.72v1.35h-1.72zM427.17 308.69h1.72v1.35h-1.72zM428.89 277.54h1.72v4.06h-1.72zM428.89 292.44h1.72v1.35h-1.72zM428.89 296.5h1.72v1.35h-1.72zM434.03 293.79h1.72v2.71h-1.72zM435.75 300.56h1.72v1.35h-1.72zM437.47 292.44h1.72v1.35h-1.72zM444.33 308.69h1.72v1.35h-1.72z"/>
<path fill="#dbdbdb" stroke="#dbdbdb" d="M423.74 299.21h1.72v1.35h-1.72zM423.74 305.98h1.72v1.35h-1.72zM427.17 272.12h1.72v1.35h-1.72zM427.17 304.63h1.72v1.35h-1.72zM428.89 310.05h1.72v1.35h-1.72zM430.6 277.54h1.72v1.35h-1.72zM432.32 278.89h1.72v1.35h-1.72zM437.47 293.79h1.72v2.71h-1.72zM437.47 303.27h1.72v1.35h-1.72zM444.33 310.05h1.72v1.35h-1.72z"/>
<path fill="#dfdfdf" stroke="#dfdfdf" d="M423.74 268.06h1.72v1.35h-1.72zM425.45 269.41h1.72v1.35h-1.72zM427.17 273.48h1.72v1.35h-1.72zM427.17 307.34h1.72v1.35h-1.72zM428.89 308.69h1.72v1.35h-1.72zM430.6 278.89h1.72v2.71h-1.72zM430.6 303.27h1.72v1.35h-1.72zM432.32 300.56h1.72v1.35h-1.72zM437.47 296.5h1.72v1.35h-1.72z"/>
<path fill="#e3e3e3" stroke="#e3e3e3" d="M422.02 300.56h1.72v1.35h-1.72zM427.17 291.08h1.72v1.35h-1.72zM427.17 295.15h1.72v1.35h-1.72zM427.17 303.27h1.72v1.35h-1.72zM427.17 305.98h1.72v1.35h-1.72zM430.6 297.86h1.72v1.35h-1.72zM432.32 295.15h1.72v2.71h-1.72zM432.32 299.21h1.72v1.35h-1.72zM437.47 307.34h1.72v1.35h-1.72z"/>
<path fill="#e7e7e7" stroke="#e7e7e7" d="M423.74 303.27h1.72v1.35h-1.72zM425.45 277.54h1.72v1.35h-1.72zM425.45 304.63h1.72v1.35h-1.72zM427.17 276.18h1.72v1.35h-1.72zM427.17 292.44h1.72v1.35h-1.72zM427.17 296.5h1.72v1.35h-1.72zM427.17 301.92h1.72v1.35h-1.72zM428.89 307.34h1.72v1.35h-1.72zM430.6 289.73h1.72v1.35h-1.72zM435.75 307.34h1.72v4.06h-1.72z"/>
<path fill="#ebebeb" stroke="#ebebeb" d="M423.74 269.41h1.72v1.35h-1.72zM427.17 300.56h1.72v1.35h-1.72zM430.6 291.08h1.72v1.35h-1.72zM432.32 280.25h1.72v2.71h-1.72z"/>
<path fill="#efefef" stroke="#efefef" d="M422.02 282.96h1.72v1.35h-1.72z"/>
<path fill="#f3f3f3" stroke="#f3f3f3" d="M422.02 272.12h1.72v1.35h-1.72zM423.74 270.77h1.72v1.35h-1.72zM423.74 301.92h1.72v1.35h-1.72zM425.45 303.27h1.72v1.35h-1.72zM427.17 278.89h1.72v1.35h-1.72zM427.17 281.6h1.72v1.35h-1.72z"/>
<path fill="#fbfbfb" stroke="#fbfbfb" d="M422.02 273.48h1.72v1.35h-1.72zM425.45 301.92h1.72v1.35h-1.72z"/>
<path fill="#ffffff" stroke="#ffffff" d="M422.02 277.54h1.72v1.35h-1.72zM422.02 287.02h1.72v1.35h-1.72zM423.74 272.12h1.72v2.71h-1.72zM423.74 277.54h1.72v2.71h-1.72zM423.74 281.6h1.72v1.35h-1.72zM423.74 287.02h1.72v2.71h-1.72zM423.74 293.79h1.72v2.71h-1.72zM425.45 274.83h1.72v1.35h-1.72zM425.45 281.6h1.72v2.71h-1.72zM425.45 285.67h1.72v1.35h-1.72zM425.45 296.5h1.72v1.35h-1.72zM425.45 299.21h1.72v2.71h-1.72zM428.89 300.56h1.72v1.35h-1.72z"/>
</g></defs>
<use href="#sc21" stroke-width="1.3"/><use href="#sc21" stroke-width="0"/>
<path fill="#080808" d="M420.3 268.06h1.72v1.35h-1.72zM482.09 301.92h1.72v1.35h-1.72z"/>
<path fill="#0c0c0c" d="M425.45 265.35h1.72v1.35h-1.72zM425.45 292.44h1.72v1.35h-1.72z"/>
<path fill="#101010" d="M420.3 300.56h1.72v1.35h-1.72zM427.17 282.96h1.72v1.35h-1.72z"/>
<path fill="#141414" d="M434.03 297.86h1.72v1.35h-1.72z"/>
<path fill="#1c1c1c" d="M425.45 268.06h1.72v1.35h-1.72z"/>
<path fill="#202020" d="M425.45 305.98h1.72v1.35h-1.72z"/>
<path fill="#242424" d="M427.17 293.79h1.72v1.35h-1.72z"/>
<path fill="#282828" d="M430.6 293.79h1.72v1.35h-1.72zM449.48 269.41h1.72v1.35h-1.72zM456.35 287.02h1.72v1.35h-1.72z"/>
<path fill="#2d2d2d" d="M420.3 261.29h1.72v1.35h-1.72zM427.17 277.54h1.72v1.35h-1.72zM427.17 299.21h1.72v1.35h-1.72zM482.09 288.37h1.72v1.35h-1.72z"/>
<path fill="#313131" d="M416.87 289.73h1.72v1.35h-1.72zM427.17 280.25h1.72v1.35h-1.72z"/>
<path fill="#353535" d="M420.3 272.12h1.72v1.35h-1.72zM446.05 305.98h1.72v1.35h-1.72zM475.22 293.79h1.72v1.35h-1.72zM476.94 300.56h1.72v1.35h-1.72z"/>
<path fill="#393939" d="M422.02 289.73h1.72v1.35h-1.72zM428.89 265.35h1.72v1.35h-1.72zM434.03 287.02h1.72v1.35h-1.72zM473.51 297.86h1.72v1.35h-1.72z"/>
<path fill="#3d3d3d" d="M425.45 272.12h1.72v1.35h-1.72zM430.6 287.02h1.72v1.35h-1.72z"/>
<path fill="#414141" d="M418.59 292.44h1.72v1.35h-1.72zM422.02 303.27h1.72v1.35h-1.72zM425.45 280.25h1.72v1.35h-1.72zM425.45 284.31h1.72v1.35h-1.72zM428.89 289.73h1.72v1.35h-1.72z"/>
<path fill="#454545" d="M420.3 284.31h1.72v1.35h-1.72zM428.89 295.15h1.72v1.35h-1.72zM430.6 276.18h1.72v1.35h-1.72zM432.32 303.27h1.72v1.35h-1.72z"/>
<path fill="#4d4d4d" d="M427.17 274.83h1.72v1.35h-1.72zM430.6 301.92h1.72v1.35h-1.72z"/>
<path fill="#555555" d="M408.29 289.73h1.72v1.35h-1.72zM425.45 257.22h1.72v1.35h-1.72zM425.45 276.18h1.72v1.35h-1.72zM427.17 258.58h1.72v1.35h-1.72zM427.17 262.64h1.72v1.35h-1.72zM430.6 292.44h1.72v1.35h-1.72zM434.03 258.58h1.72v1.35h-1.72zM439.18 268.06h1.72v1.35h-1.72zM440.9 277.54h1.72v1.35h-1.72zM442.62 255.87h1.72v1.35h-1.72zM442.62 263.99h1.72v1.35h-1.72zM444.33 276.18h1.72v1.35h-1.72zM446.05 257.22h1.72v1.35h-1.72zM446.05 259.93h1.72v2.71h-1.72zM446.05 268.06h1.72v1.35h-1.72zM447.76 287.02h1.72v1.35h-1.72zM449.48 262.64h1.72v1.35h-1.72zM452.91 269.41h1.72v1.35h-1.72zM454.63 278.89h1.72v2.71h-1.72zM454.63 289.73h1.72v1.35h-1.72zM454.63 293.79h1.72v1.35h-1.72zM454.63 304.63h1.72v1.35h-1.72zM456.35 288.37h1.72v1.35h-1.72zM458.06 274.83h1.72v1.35h-1.72zM459.78 257.22h1.72v1.35h-1.72zM459.78 308.69h1.72v1.35h-1.72zM461.49 259.93h1.72v1.35h-1.72zM461.49 291.08h1.72v1.35h-1.72zM464.93 281.6h1.72v2.71h-1.72zM464.93 288.37h1.72v1.35h-1.72zM470.08 281.6h1.72v1.35h-1.72zM475.22 282.96h1.72v1.35h-1.72zM475.22 287.02h1.72v1.35h-1.72zM478.66 287.02h1.72v1.35h-1.72zM480.37 255.87h1.72v1.35h-1.72zM483.81 308.69h1.72v1.35h-1.72zM485.52 291.08h1.72v1.35h-1.72zM485.52 308.69h1.72v1.35h-1.72zM487.24 272.12h1.72v1.35h-1.72zM488.95 261.29h1.72v1.35h-1.72zM490.67 296.5h1.72v1.35h-1.72zM492.39 255.87h1.72v2.71h-1.72zM492.39 284.31h1.72v1.35h-1.72zM492.39 308.69h1.72v1.35h-1.72zM494.1 276.18h1.72v1.35h-1.72zM499.25 305.98h1.72v1.35h-1.72zM500.97 308.69h1.72v1.35h-1.72zM512.98 274.83h1.72v1.35h-1.72zM521.56 257.22h1.72v1.35h-1.72z"/>
<path fill="#595959" d="M411.72 295.15h1.72v1.35h-1.72zM415.16 292.44h1.72v1.35h-1.72zM422.02 262.64h1.72v2.71h-1.72zM422.02 305.98h1.72v1.35h-1.72zM423.74 261.29h1.72v1.35h-1.72zM427.17 266.7h1.72v1.35h-1.72zM428.89 262.64h1.72v1.35h-1.72zM435.75 269.41h1.72v1.35h-1.72zM439.18 274.83h1.72v1.35h-1.72zM442.62 297.86h1.72v1.35h-1.72zM447.76 300.56h1.72v1.35h-1.72zM447.76 310.05h1.72v1.35h-1.72zM451.2 300.56h1.72v1.35h-1.72zM454.63 310.05h1.72v1.35h-1.72zM459.78 263.99h1.72v1.35h-1.72zM461.49 265.35h1.72v1.35h-1.72zM464.93 273.48h1.72v1.35h-1.72zM464.93 295.15h1.72v1.35h-1.72zM466.64 293.79h1.72v1.35h-1.72zM468.36 303.27h1.72v2.71h-1.72zM470.08 291.08h1.72v1.35h-1.72zM471.79 270.77h1.72v1.35h-1.72zM471.79 277.54h1.72v1.35h-1.72zM471.79 289.73h1.72v1.35h-1.72zM473.51 272.12h1.72v1.35h-1.72zM473.51 278.89h1.72v1.35h-1.72zM473.51 304.63h1.72v1.35h-1.72zM475.22 280.25h1.72v1.35h-1.72zM475.22 307.34h1.72v1.35h-1.72zM476.94 273.48h1.72v1.35h-1.72zM476.94 276.18h1.72v1.35h-1.72zM478.66 304.63h1.72v1.35h-1.72zM480.37 305.98h1.72v1.35h-1.72zM482.09 276.18h1.72v1.35h-1.72zM483.81 303.27h1.72v2.71h-1.72zM488.95 281.6h1.72v1.35h-1.72z"/>
<path fill="#5d5d5d" d="M415.16 277.54h1.72v1.35h-1.72zM415.16 291.08h1.72v1.35h-1.72zM418.59 268.06h1.72v1.35h-1.72zM418.59 299.21h1.72v1.35h-1.72zM420.3 263.99h1.72v1.35h-1.72zM423.74 262.64h1.72v1.35h-1.72zM425.45 288.37h1.72v2.71h-1.72zM427.17 289.73h1.72v1.35h-1.72zM430.6 308.69h1.72v1.35h-1.72zM432.32 272.12h1.72v1.35h-1.72zM432.32 310.05h1.72v1.35h-1.72zM434.03 300.56h1.72v1.35h-1.72zM451.2 307.34h1.72v1.35h-1.72zM454.63 263.99h1.72v1.35h-1.72zM456.35 265.35h1.72v1.35h-1.72zM463.21 269.41h1.72v2.71h-1.72zM466.64 270.77h1.72v1.35h-1.72zM466.64 296.5h1.72v1.35h-1.72zM468.36 293.79h1.72v1.35h-1.72zM470.08 295.15h1.72v2.71h-1.72zM470.08 300.56h1.72v1.35h-1.72zM471.79 293.79h1.72v1.35h-1.72zM476.94 301.92h1.72v1.35h-1.72zM478.66 293.79h1.72v1.35h-1.72zM478.66 303.27h1.72v1.35h-1.72zM480.37 295.15h1.72v1.35h-1.72zM482.09 296.5h1.72v1.35h-1.72zM482.09 300.56h1.72v1.35h-1.72z"/>
<path fill="#616161" d="M420.3 269.41h1.72v1.35h-1.72zM423.74 263.99h1.72v1.35h-1.72zM428.89 272.12h1.72v1.35h-1.72zM428.89 301.92h1.72v1.35h-1.72zM430.6 305.98h1.72v1.35h-1.72zM432.32 292.44h1.72v1.35h-1.72zM435.75 285.67h1.72v1.35h-1.72zM435.75 289.73h1.72v1.35h-1.72zM435.75 292.44h1.72v1.35h-1.72zM439.18 295.15h1.72v1.35h-1.72zM442.62 304.63h1.72v1.35h-1.72zM442.62 310.05h1.72v1.35h-1.72zM451.2 308.69h1.72v1.35h-1.72zM471.79 297.86h1.72v1.35h-1.72zM475.22 295.15h1.72v1.35h-1.72zM475.22 299.21h1.72v1.35h-1.72zM478.66 299.21h1.72v1.35h-1.72zM482.09 278.89h1.72v1.35h-1.72zM485.52 284.31h1.72v1.35h-1.72z"/>
<path fill="#656565" d="M420.3 301.92h1.72v1.35h-1.72zM420.3 305.98h1.72v1.35h-1.72zM422.02 285.67h1.72v1.35h-1.72zM422.02 288.37h1.72v1.35h-1.72zM422.02 296.5h1.72v1.35h-1.72zM427.17 284.31h1.72v1.35h-1.72zM430.6 281.6h1.72v1.35h-1.72zM430.6 285.67h1.72v1.35h-1.72zM434.03 274.83h1.72v1.35h-1.72zM435.75 295.15h1.72v1.35h-1.72zM446.05 308.69h1.72v1.35h-1.72zM482.09 281.6h1.72v1.35h-1.72z"/>
<path fill="#696969" d="M416.87 287.02h1.72v1.35h-1.72zM422.02 269.41h1.72v1.35h-1.72zM422.02 284.31h1.72v1.35h-1.72zM422.02 293.79h1.72v2.71h-1.72zM423.74 265.35h1.72v1.35h-1.72zM425.45 310.05h1.72v1.35h-1.72zM428.89 266.7h1.72v1.35h-1.72zM430.6 272.12h1.72v1.35h-1.72zM430.6 295.15h1.72v1.35h-1.72zM435.75 281.6h1.72v1.35h-1.72zM439.18 300.56h1.72v1.35h-1.72zM439.18 310.05h1.72v1.35h-1.72zM440.9 300.56h1.72v1.35h-1.72zM444.33 303.27h1.72v1.35h-1.72z"/>
<path fill="#6d6d6d" d="M418.59 276.18h1.72v1.35h-1.72zM420.3 281.6h1.72v1.35h-1.72zM423.74 276.18h1.72v1.35h-1.72zM428.89 287.02h1.72v1.35h-1.72zM434.03 289.73h1.72v1.35h-1.72zM434.03 292.44h1.72v1.35h-1.72zM434.03 304.63h1.72v2.71h-1.72zM434.03 308.69h1.72v1.35h-1.72zM435.75 297.86h1.72v1.35h-1.72zM435.75 305.98h1.72v1.35h-1.72zM439.18 301.92h1.72v1.35h-1.72zM439.18 305.98h1.72v1.35h-1.72z"/>
<path fill="#717171" d="M418.59 280.25h1.72v1.35h-1.72zM418.59 282.96h1.72v1.35h-1.72zM418.59 287.02h1.72v1.35h-1.72zM420.3 282.96h1.72v1.35h-1.72zM420.3 288.37h1.72v1.35h-1.72zM423.74 280.25h1.72v1.35h-1.72zM423.74 300.56h1.72v1.35h-1.72zM425.45 307.34h1.72v1.35h-1.72zM428.89 293.79h1.72v1.35h-1.72zM428.89 297.86h1.72v1.35h-1.72zM430.6 304.63h1.72v1.35h-1.72zM432.32 277.54h1.72v1.35h-1.72z"/>
<path fill="#757575" d="M423.74 291.08h1.72v1.35h-1.72zM423.74 297.86h1.72v1.35h-1.72zM423.74 304.63h1.72v1.35h-1.72zM430.6 300.56h1.72v1.35h-1.72zM432.32 301.92h1.72v1.35h-1.72zM437.47 304.63h1.72v2.71h-1.72z"/>
<path fill="#797979" d="M423.74 296.5h1.72v1.35h-1.72zM430.6 299.21h1.72v1.35h-1.72zM432.32 297.86h1.72v1.35h-1.72z"/>
<path fill="#7d7d7d" d="M422.02 270.77h1.72v1.35h-1.72zM422.02 278.89h1.72v2.71h-1.72zM422.02 299.21h1.72v1.35h-1.72zM425.45 278.89h1.72v1.35h-1.72zM428.89 305.98h1.72v1.35h-1.72zM430.6 288.37h1.72v1.35h-1.72z"/>
<path fill="#828282" d="M422.02 281.6h1.72v1.35h-1.72zM422.02 297.86h1.72v1.35h-1.72zM427.17 297.86h1.72v1.35h-1.72zM428.89 304.63h1.72v1.35h-1.72z"/>
<path fill="#868686" d="M428.89 303.27h1.72v1.35h-1.72z"/>
<path fill="#8a8a8a" d="M420.3 295.15h1.72v1.35h-1.72zM425.45 270.77h1.72v1.35h-1.72z"/>
<path fill="#8e8e8e" d="M420.3 292.44h1.72v2.71h-1.72zM422.02 274.83h1.72v2.71h-1.72z"/>
<path fill="#929292" d="M428.89 299.21h1.72v1.35h-1.72z"/>
<path fill="#969696" d="M423.74 274.83h1.72v1.35h-1.72zM423.74 282.96h1.72v4.06h-1.72zM425.45 273.48h1.72v1.35h-1.72z"/>
<path fill="#9a9a9a" d="M425.45 297.86h1.72v1.35h-1.72z"/>
<path fill="#9e9e9e" d="M423.74 289.73h1.72v1.35h-1.72z"/>
<path fill="#a2a2a2" d="M423.74 292.44h1.72v1.35h-1.72z"/>
</g>
<rect x="0" y="0" width="137.3" height="121.9" fill="url(#grid)" transform="translate(404.1 189.9)"/>
<rect x="404.1" y="189.9" width="137.3" height="121.9" fill="none" stroke="#808080" stroke-width="1"/>
<text x="404.1" y="320.1" font-size="5.3" text-anchor="middle" font-family="'DejaVu Sans', 'Liberation Sans', sans-serif" fill="#262626" stroke="#262626" stroke-width=".14">−0.5</text>
<text x="421.26" y="320.1" font-size="5.3" text-anchor="middle" font-family="'DejaVu Sans', 'Liberation Sans', sans-serif" fill="#262626" stroke="#262626" stroke-width=".14">0.0</text>
<text x="438.43" y="320.1" font-size="5.3" text-anchor="middle" font-family="'DejaVu Sans', 'Liberation Sans', sans-serif" fill="#262626" stroke="#262626" stroke-width=".14">0.5</text>
<text x="455.59" y="320.1" font-size="5.3" text-anchor="middle" font-family="'DejaVu Sans', 'Liberation Sans', sans-serif" fill="#262626" stroke="#262626" stroke-width=".14">1.0</text>
<text x="472.75" y="320.1" font-size="5.3" text-anchor="middle" font-family="'DejaVu Sans', 'Liberation Sans', sans-serif" fill="#262626" stroke="#262626" stroke-width=".14">1.5</text>
<text x="489.91" y="320.1" font-size="5.3" text-anchor="middle" font-family="'DejaVu Sans', 'Liberation Sans', sans-serif" fill="#262626" stroke="#262626" stroke-width=".14">2.0</text>
<text x="507.08" y="320.1" font-size="5.3" text-anchor="middle" font-family="'DejaVu Sans', 'Liberation Sans', sans-serif" fill="#262626" stroke="#262626" stroke-width=".14">2.5</text>
<text x="524.24" y="320.1" font-size="5.3" text-anchor="middle" font-family="'DejaVu Sans', 'Liberation Sans', sans-serif" fill="#262626" stroke="#262626" stroke-width=".14">3.0</text>
<text x="541.4" y="320.1" font-size="5.3" text-anchor="middle" font-family="'DejaVu Sans', 'Liberation Sans', sans-serif" fill="#262626" stroke="#262626" stroke-width=".14">3.5</text>
<text x="400.2" y="192.75" font-size="5.3" text-anchor="end" font-family="'DejaVu Sans', 'Liberation Sans', sans-serif" fill="#262626" stroke="#262626" stroke-width=".14">18</text>
<text x="400.2" y="206.29" font-size="5.3" text-anchor="end" font-family="'DejaVu Sans', 'Liberation Sans', sans-serif" fill="#262626" stroke="#262626" stroke-width=".14">19</text>
<text x="400.2" y="219.84" font-size="5.3" text-anchor="end" font-family="'DejaVu Sans', 'Liberation Sans', sans-serif" fill="#262626" stroke="#262626" stroke-width=".14">20</text>
<text x="400.2" y="233.38" font-size="5.3" text-anchor="end" font-family="'DejaVu Sans', 'Liberation Sans', sans-serif" fill="#262626" stroke="#262626" stroke-width=".14">21</text>
<text x="400.2" y="246.93" font-size="5.3" text-anchor="end" font-family="'DejaVu Sans', 'Liberation Sans', sans-serif" fill="#262626" stroke="#262626" stroke-width=".14">22</text>
<text x="400.2" y="260.47" font-size="5.3" text-anchor="end" font-family="'DejaVu Sans', 'Liberation Sans', sans-serif" fill="#262626" stroke="#262626" stroke-width=".14">23</text>
<text x="400.2" y="274.02" font-size="5.3" text-anchor="end" font-family="'DejaVu Sans', 'Liberation Sans', sans-serif" fill="#262626" stroke="#262626" stroke-width=".14">24</text>
<text x="400.2" y="287.56" font-size="5.3" text-anchor="end" font-family="'DejaVu Sans', 'Liberation Sans', sans-serif" fill="#262626" stroke="#262626" stroke-width=".14">25</text>
<text x="400.2" y="301.11" font-size="5.3" text-anchor="end" font-family="'DejaVu Sans', 'Liberation Sans', sans-serif" fill="#262626" stroke="#262626" stroke-width=".14">26</text>
<text x="400.2" y="314.65" font-size="5.3" text-anchor="end" font-family="'DejaVu Sans', 'Liberation Sans', sans-serif" fill="#262626" stroke="#262626" stroke-width=".14">27</text>
<path d="M404.1 311.8v2.1M421.26 311.8v2.1M438.43 311.8v2.1M455.59 311.8v2.1M472.75 311.8v2.1M489.91 311.8v2.1M507.08 311.8v2.1M524.24 311.8v2.1M541.4 311.8v2.1M404.1 189.9h-2.1M404.1 203.44h-2.1M404.1 216.99h-2.1M404.1 230.53h-2.1M404.1 244.08h-2.1M404.1 257.62h-2.1M404.1 271.17h-2.1M404.1 284.71h-2.1M404.1 298.26h-2.1M404.1 311.8h-2.1" stroke="#585858" stroke-width=".6" fill="none"/>
<text x="472.75" y="187" font-size="9.4" text-anchor="middle" font-family="'DejaVu Sans', 'Liberation Sans', sans-serif" fill="#262626" stroke="#262626" stroke-width=".14">Residuals</text>
<text x="472.75" y="328.8" font-size="8.4" text-anchor="middle" font-family="'DejaVu Sans', 'Liberation Sans', sans-serif" fill="#262626" stroke="#262626" stroke-width=".14">F475W-F814W</text>
<text transform="translate(390.7 250.85) rotate(-90)" font-size="8.0" text-anchor="middle" font-family="'DejaVu Sans', 'Liberation Sans', sans-serif" fill="#262626" stroke="#262626" stroke-width=".14">F475W</text>
<rect x="549.85" y="189.9" width="6.3" height="121.9" fill="url(#cb)" stroke="#585858" stroke-width=".5"/>
<text x="559.75" y="304.68" font-size="5.3" text-anchor="start" font-family="'DejaVu Sans', 'Liberation Sans', sans-serif" fill="#262626" stroke="#262626" stroke-width=".14">−1.0</text>
<text x="559.75" y="290.54" font-size="5.3" text-anchor="start" font-family="'DejaVu Sans', 'Liberation Sans', sans-serif" fill="#262626" stroke="#262626" stroke-width=".14">−0.5</text>
<text x="559.75" y="276.4" font-size="5.3" text-anchor="start" font-family="'DejaVu Sans', 'Liberation Sans', sans-serif" fill="#262626" stroke="#262626" stroke-width=".14">0.0</text>
<text x="559.75" y="262.26" font-size="5.3" text-anchor="start" font-family="'DejaVu Sans', 'Liberation Sans', sans-serif" fill="#262626" stroke="#262626" stroke-width=".14">0.5</text>
<text x="559.75" y="248.12" font-size="5.3" text-anchor="start" font-family="'DejaVu Sans', 'Liberation Sans', sans-serif" fill="#262626" stroke="#262626" stroke-width=".14">1.0</text>
<text x="559.75" y="233.98" font-size="5.3" text-anchor="start" font-family="'DejaVu Sans', 'Liberation Sans', sans-serif" fill="#262626" stroke="#262626" stroke-width=".14">1.5</text>
<text x="559.75" y="219.83" font-size="5.3" text-anchor="start" font-family="'DejaVu Sans', 'Liberation Sans', sans-serif" fill="#262626" stroke="#262626" stroke-width=".14">2.0</text>
<text x="559.75" y="205.69" font-size="5.3" text-anchor="start" font-family="'DejaVu Sans', 'Liberation Sans', sans-serif" fill="#262626" stroke="#262626" stroke-width=".14">2.5</text>
<path d="M556.15 302.18h2.1M556.15 288.04h2.1M556.15 273.9h2.1M556.15 259.76h2.1M556.15 245.62h2.1M556.15 231.48h2.1M556.15 217.33h2.1M556.15 203.19h2.1" stroke="#585858" stroke-width=".6" fill="none"/>
</g>
<g>
<rect x="595.3" y="190.3" width="136.8" height="121.5" fill="#b3b3b3"/>
<clipPath id="c31"><rect x="594.8" y="189.9" width="137.3" height="121.9"/></clipPath>
<g clip-path="url(#c31)">
<defs><g id="sc31">
<path fill="#b5b5b5" stroke="#b5b5b5" d="M593.84 268.06h1.72v12.19h-1.72zM595.56 259.93h1.72v8.13h-1.72zM595.56 274.83h1.72v1.35h-1.72zM597.27 258.58h1.72v6.77h-1.72zM598.99 257.22h1.72v2.71h-1.72zM600.71 257.22h1.72v2.71h-1.72zM602.42 257.22h1.72v2.71h-1.72zM604.14 257.22h1.72v2.71h-1.72zM605.86 255.87h1.72v1.35h-1.72zM607.57 255.87h1.72v1.35h-1.72zM609.29 255.87h1.72v1.35h-1.72zM611 255.87h1.72v1.35h-1.72zM612.72 255.87h1.72v1.35h-1.72zM614.44 255.87h1.72v1.35h-1.72zM616.15 255.87h1.72v1.35h-1.72zM617.87 255.87h1.72v1.35h-1.72zM619.59 255.87h1.72v1.35h-1.72zM621.3 257.22h1.72v1.35h-1.72zM623.02 255.87h1.72v1.35h-1.72zM624.73 255.87h1.72v1.35h-1.72zM626.45 255.87h1.72v2.71h-1.72zM628.17 257.22h1.72v2.71h-1.72zM629.88 257.22h1.72v1.35h-1.72zM631.6 257.22h1.72v2.71h-1.72zM633.32 257.22h1.72v2.71h-1.72zM635.03 257.22h1.72v4.06h-1.72zM636.75 258.58h1.72v1.35h-1.72zM636.75 262.64h1.72v1.35h-1.72zM638.46 258.58h1.72v5.42h-1.72zM640.18 258.58h1.72v4.06h-1.72zM641.9 258.58h1.72v2.71h-1.72zM643.61 257.22h1.72v1.35h-1.72zM645.33 255.87h1.72v1.35h-1.72zM647.05 254.51h1.72v1.35h-1.72zM648.76 254.51h1.72v2.71h-1.72zM650.48 255.87h1.72v1.35h-1.72zM652.19 255.87h1.72v2.71h-1.72zM653.91 257.22h1.72v1.35h-1.72zM655.63 257.22h1.72v2.71h-1.72zM657.34 258.58h1.72v2.71h-1.72zM659.06 259.93h1.72v2.71h-1.72zM660.78 259.93h1.72v2.71h-1.72zM662.49 259.93h1.72v4.06h-1.72zM664.21 261.29h1.72v2.71h-1.72zM665.92 261.29h1.72v4.06h-1.72zM667.64 262.64h1.72v2.71h-1.72zM669.36 262.64h1.72v4.06h-1.72zM671.07 262.64h1.72v5.42h-1.72zM672.79 263.99h1.72v4.06h-1.72zM674.51 263.99h1.72v5.42h-1.72zM676.22 265.35h1.72v4.06h-1.72zM677.94 265.35h1.72v5.42h-1.72zM679.65 266.7h1.72v5.42h-1.72zM681.37 266.7h1.72v5.42h-1.72zM683.09 266.7h1.72v6.77h-1.72zM684.8 266.7h1.72v6.77h-1.72zM686.52 266.7h1.72v6.77h-1.72zM688.24 265.35h1.72v8.13h-1.72zM689.95 265.35h1.72v6.77h-1.72zM689.95 310.05h1.72v1.35h-1.72zM691.67 263.99h1.72v8.13h-1.72zM691.67 310.05h1.72v1.35h-1.72zM693.38 262.64h1.72v8.13h-1.72zM693.38 305.98h1.72v5.42h-1.72zM695.1 262.64h1.72v8.13h-1.72zM695.1 303.27h1.72v8.13h-1.72zM696.82 262.64h1.72v8.13h-1.72zM696.82 291.08h1.72v1.35h-1.72zM696.82 297.86h1.72v13.54h-1.72zM698.53 261.29h1.72v8.13h-1.72zM698.53 285.67h1.72v25.73h-1.72zM700.25 261.29h1.72v8.13h-1.72zM700.25 284.31h1.72v25.73h-1.72zM701.97 261.29h1.72v8.13h-1.72zM701.97 281.6h1.72v27.09h-1.72zM703.68 261.29h1.72v9.48h-1.72zM703.68 280.25h1.72v25.73h-1.72zM705.4 261.29h1.72v10.84h-1.72zM705.4 277.54h1.72v25.73h-1.72zM707.11 261.29h1.72v27.09h-1.72zM708.83 261.29h1.72v25.73h-1.72zM710.55 262.64h1.72v21.67h-1.72zM712.26 263.99h1.72v18.96h-1.72zM713.98 266.7h1.72v13.54h-1.72zM715.7 270.77h1.72v6.77h-1.72z"/>
<path fill="#b7b7b7" stroke="#b7b7b7" d="M593.84 280.25h1.72v4.06h-1.72zM593.84 308.69h1.72v2.71h-1.72zM595.56 268.06h1.72v6.77h-1.72zM595.56 276.18h1.72v2.71h-1.72zM597.27 265.35h1.72v6.77h-1.72zM597.27 278.89h1.72v1.35h-1.72zM598.99 259.93h1.72v4.06h-1.72zM600.71 259.93h1.72v2.71h-1.72zM602.42 259.93h1.72v4.06h-1.72zM604.14 259.93h1.72v1.35h-1.72zM605.86 257.22h1.72v1.35h-1.72zM607.57 257.22h1.72v1.35h-1.72zM609.29 257.22h1.72v1.35h-1.72zM612.72 257.22h1.72v2.71h-1.72zM619.59 257.22h1.72v1.35h-1.72zM621.3 258.58h1.72v1.35h-1.72zM624.73 257.22h1.72v1.35h-1.72zM626.45 258.58h1.72v2.71h-1.72zM628.17 259.93h1.72v2.71h-1.72zM629.88 258.58h1.72v2.71h-1.72zM631.6 259.93h1.72v1.35h-1.72zM633.32 259.93h1.72v2.71h-1.72zM635.03 261.29h1.72v5.42h-1.72zM636.75 263.99h1.72v4.06h-1.72zM638.46 263.99h1.72v4.06h-1.72zM640.18 276.18h1.72v1.35h-1.72zM641.9 277.54h1.72v1.35h-1.72zM643.61 258.58h1.72v1.35h-1.72zM645.33 257.22h1.72v1.35h-1.72zM647.05 255.87h1.72v1.35h-1.72zM652.19 258.58h1.72v1.35h-1.72zM653.91 258.58h1.72v1.35h-1.72zM655.63 259.93h1.72v1.35h-1.72zM657.34 261.29h1.72v1.35h-1.72zM659.06 262.64h1.72v1.35h-1.72zM660.78 262.64h1.72v1.35h-1.72zM662.49 263.99h1.72v1.35h-1.72zM664.21 263.99h1.72v2.71h-1.72zM665.92 265.35h1.72v1.35h-1.72zM667.64 265.35h1.72v2.71h-1.72zM669.36 266.7h1.72v1.35h-1.72zM671.07 268.06h1.72v1.35h-1.72zM672.79 268.06h1.72v2.71h-1.72zM674.51 269.41h1.72v1.35h-1.72zM676.22 269.41h1.72v2.71h-1.72zM677.94 270.77h1.72v1.35h-1.72zM679.65 272.12h1.72v1.35h-1.72zM681.37 272.12h1.72v2.71h-1.72zM683.09 273.48h1.72v2.71h-1.72zM684.8 273.48h1.72v2.71h-1.72zM684.8 310.05h1.72v1.35h-1.72zM686.52 273.48h1.72v5.42h-1.72zM686.52 308.69h1.72v2.71h-1.72zM688.24 273.48h1.72v6.77h-1.72zM688.24 307.34h1.72v4.06h-1.72zM689.95 272.12h1.72v9.48h-1.72zM689.95 304.63h1.72v1.35h-1.72zM689.95 307.34h1.72v2.71h-1.72zM691.67 272.12h1.72v20.32h-1.72zM691.67 300.56h1.72v8.13h-1.72zM693.38 270.77h1.72v35.22h-1.72zM695.1 270.77h1.72v32.51h-1.72zM696.82 270.77h1.72v20.32h-1.72zM696.82 292.44h1.72v5.42h-1.72zM698.53 269.41h1.72v16.25h-1.72zM700.25 269.41h1.72v14.9h-1.72zM701.97 269.41h1.72v12.19h-1.72zM703.68 270.77h1.72v4.06h-1.72zM703.68 276.18h1.72v4.06h-1.72zM705.4 272.12h1.72v5.42h-1.72z"/>
<path fill="#b9b9b9" stroke="#b9b9b9" d="M593.84 284.31h1.72v6.77h-1.72zM593.84 299.21h1.72v9.48h-1.72zM595.56 278.89h1.72v1.35h-1.72zM595.56 300.56h1.72v2.71h-1.72zM595.56 304.63h1.72v1.35h-1.72zM597.27 272.12h1.72v2.71h-1.72zM597.27 277.54h1.72v1.35h-1.72zM597.27 280.25h1.72v5.42h-1.72zM598.99 263.99h1.72v5.42h-1.72zM600.71 262.64h1.72v4.06h-1.72zM602.42 263.99h1.72v4.06h-1.72zM604.14 261.29h1.72v1.35h-1.72zM605.86 258.58h1.72v2.71h-1.72zM607.57 258.58h1.72v2.71h-1.72zM611 257.22h1.72v1.35h-1.72zM614.44 257.22h1.72v1.35h-1.72zM617.87 257.22h1.72v1.35h-1.72zM623.02 257.22h1.72v1.35h-1.72zM624.73 259.93h1.72v1.35h-1.72zM626.45 261.29h1.72v1.35h-1.72zM628.17 262.64h1.72v1.35h-1.72zM629.88 261.29h1.72v4.06h-1.72zM631.6 261.29h1.72v1.35h-1.72zM633.32 262.64h1.72v1.35h-1.72zM635.03 266.7h1.72v4.06h-1.72zM636.75 269.41h1.72v2.71h-1.72zM636.75 276.18h1.72v4.06h-1.72zM638.46 268.06h1.72v13.54h-1.72zM640.18 263.99h1.72v1.35h-1.72zM640.18 272.12h1.72v4.06h-1.72zM640.18 277.54h1.72v1.35h-1.72zM641.9 274.83h1.72v2.71h-1.72zM641.9 278.89h1.72v4.06h-1.72zM643.61 274.83h1.72v8.13h-1.72zM645.33 276.18h1.72v2.71h-1.72zM645.33 281.6h1.72v4.06h-1.72zM647.05 257.22h1.72v1.35h-1.72zM647.05 277.54h1.72v8.13h-1.72zM648.76 257.22h1.72v1.35h-1.72zM648.76 278.89h1.72v5.42h-1.72zM650.48 258.58h1.72v1.35h-1.72zM650.48 281.6h1.72v1.35h-1.72zM653.91 259.93h1.72v1.35h-1.72zM655.63 261.29h1.72v1.35h-1.72zM657.34 262.64h1.72v1.35h-1.72zM659.06 263.99h1.72v1.35h-1.72zM660.78 263.99h1.72v1.35h-1.72zM662.49 265.35h1.72v1.35h-1.72zM665.92 266.7h1.72v1.35h-1.72zM667.64 268.06h1.72v1.35h-1.72zM669.36 268.06h1.72v1.35h-1.72zM671.07 269.41h1.72v1.35h-1.72zM672.79 270.77h1.72v1.35h-1.72zM674.51 270.77h1.72v1.35h-1.72zM676.22 272.12h1.72v1.35h-1.72zM679.65 273.48h1.72v1.35h-1.72zM681.37 274.83h1.72v1.35h-1.72zM681.37 310.05h1.72v1.35h-1.72zM683.09 276.18h1.72v1.35h-1.72zM683.09 310.05h1.72v1.35h-1.72zM684.8 277.54h1.72v6.77h-1.72zM684.8 307.34h1.72v2.71h-1.72zM686.52 278.89h1.72v9.48h-1.72zM686.52 305.98h1.72v2.71h-1.72zM688.24 280.25h1.72v13.54h-1.72zM688.24 303.27h1.72v4.06h-1.72zM689.95 281.6h1.72v23.03h-1.72zM691.67 292.44h1.72v8.13h-1.72z"/>
<path fill="#bbbbbb" stroke="#bbbbbb" d="M593.84 291.08h1.72v2.71h-1.72zM593.84 297.86h1.72v1.35h-1.72zM595.56 280.25h1.72v8.13h-1.72zM595.56 299.21h1.72v1.35h-1.72zM595.56 303.27h1.72v1.35h-1.72zM595.56 305.98h1.72v5.42h-1.72zM597.27 274.83h1.72v2.71h-1.72zM597.27 285.67h1.72v2.71h-1.72zM597.27 308.69h1.72v2.71h-1.72zM598.99 269.41h1.72v4.06h-1.72zM600.71 266.7h1.72v1.35h-1.72zM602.42 268.06h1.72v1.35h-1.72zM602.42 310.05h1.72v1.35h-1.72zM604.14 262.64h1.72v1.35h-1.72zM605.86 261.29h1.72v1.35h-1.72zM609.29 258.58h1.72v1.35h-1.72zM612.72 259.93h1.72v1.35h-1.72zM616.15 258.58h1.72v2.71h-1.72zM617.87 259.93h1.72v1.35h-1.72zM619.59 258.58h1.72v1.35h-1.72zM621.3 259.93h1.72v1.35h-1.72zM624.73 261.29h1.72v1.35h-1.72zM626.45 262.64h1.72v1.35h-1.72zM628.17 263.99h1.72v1.35h-1.72zM629.88 265.35h1.72v1.35h-1.72zM631.6 262.64h1.72v6.77h-1.72zM633.32 265.35h1.72v4.06h-1.72zM635.03 270.77h1.72v5.42h-1.72zM636.75 272.12h1.72v4.06h-1.72zM636.75 280.25h1.72v1.35h-1.72zM638.46 281.6h1.72v1.35h-1.72zM640.18 265.35h1.72v1.35h-1.72zM640.18 270.77h1.72v1.35h-1.72zM640.18 278.89h1.72v2.71h-1.72zM640.18 284.31h1.72v4.06h-1.72zM641.9 261.29h1.72v1.35h-1.72zM641.9 273.48h1.72v1.35h-1.72zM641.9 282.96h1.72v1.35h-1.72zM643.61 273.48h1.72v1.35h-1.72zM643.61 282.96h1.72v4.06h-1.72zM645.33 258.58h1.72v1.35h-1.72zM645.33 274.83h1.72v1.35h-1.72zM645.33 285.67h1.72v2.71h-1.72zM647.05 276.18h1.72v1.35h-1.72zM647.05 285.67h1.72v1.35h-1.72zM648.76 258.58h1.72v1.35h-1.72zM648.76 276.18h1.72v2.71h-1.72zM648.76 284.31h1.72v2.71h-1.72zM650.48 259.93h1.72v1.35h-1.72zM650.48 277.54h1.72v4.06h-1.72zM650.48 282.96h1.72v4.06h-1.72zM652.19 278.89h1.72v6.77h-1.72zM653.91 261.29h1.72v1.35h-1.72zM653.91 280.25h1.72v5.42h-1.72zM655.63 262.64h1.72v1.35h-1.72zM660.78 265.35h1.72v1.35h-1.72zM664.21 266.7h1.72v1.35h-1.72zM665.92 268.06h1.72v1.35h-1.72zM669.36 269.41h1.72v1.35h-1.72zM671.07 270.77h1.72v1.35h-1.72zM674.51 272.12h1.72v1.35h-1.72zM677.94 273.48h1.72v1.35h-1.72zM677.94 310.05h1.72v1.35h-1.72zM679.65 274.83h1.72v1.35h-1.72zM679.65 308.69h1.72v2.71h-1.72zM681.37 308.69h1.72v1.35h-1.72zM683.09 277.54h1.72v2.71h-1.72zM683.09 282.96h1.72v1.35h-1.72zM683.09 285.67h1.72v4.06h-1.72zM683.09 307.34h1.72v1.35h-1.72zM684.8 284.31h1.72v8.13h-1.72zM684.8 304.63h1.72v2.71h-1.72zM686.52 288.37h1.72v8.13h-1.72zM686.52 301.92h1.72v4.06h-1.72zM688.24 293.79h1.72v9.48h-1.72z"/>
<path fill="#bdbdbd" stroke="#bdbdbd" d="M593.84 293.79h1.72v4.06h-1.72zM595.56 288.37h1.72v1.35h-1.72zM595.56 297.86h1.72v1.35h-1.72zM597.27 307.34h1.72v1.35h-1.72zM598.99 273.48h1.72v2.71h-1.72zM598.99 291.08h1.72v4.06h-1.72zM598.99 307.34h1.72v4.06h-1.72zM600.71 268.06h1.72v2.71h-1.72zM600.71 304.63h1.72v5.42h-1.72zM602.42 308.69h1.72v1.35h-1.72zM604.14 263.99h1.72v1.35h-1.72zM605.86 262.64h1.72v1.35h-1.72zM607.57 261.29h1.72v1.35h-1.72zM611 258.58h1.72v1.35h-1.72zM614.44 258.58h1.72v1.35h-1.72zM619.59 259.93h1.72v1.35h-1.72zM623.02 258.58h1.72v1.35h-1.72zM624.73 262.64h1.72v1.35h-1.72zM626.45 263.99h1.72v1.35h-1.72zM628.17 265.35h1.72v1.35h-1.72zM629.88 266.7h1.72v1.35h-1.72zM631.6 269.41h1.72v2.71h-1.72zM633.32 269.41h1.72v2.71h-1.72zM635.03 277.54h1.72v1.35h-1.72zM638.46 282.96h1.72v2.71h-1.72zM640.18 266.7h1.72v2.71h-1.72zM640.18 281.6h1.72v2.71h-1.72zM640.18 288.37h1.72v1.35h-1.72zM641.9 272.12h1.72v1.35h-1.72zM641.9 284.31h1.72v2.71h-1.72zM643.61 259.93h1.72v1.35h-1.72zM643.61 272.12h1.72v1.35h-1.72zM643.61 287.02h1.72v2.71h-1.72zM645.33 273.48h1.72v1.35h-1.72zM645.33 288.37h1.72v1.35h-1.72zM647.05 258.58h1.72v1.35h-1.72zM647.05 274.83h1.72v1.35h-1.72zM647.05 289.73h1.72v1.35h-1.72zM648.76 287.02h1.72v2.71h-1.72zM650.48 276.18h1.72v1.35h-1.72zM650.48 287.02h1.72v1.35h-1.72zM652.19 261.29h1.72v1.35h-1.72zM652.19 277.54h1.72v1.35h-1.72zM652.19 285.67h1.72v2.71h-1.72zM653.91 278.89h1.72v1.35h-1.72zM653.91 285.67h1.72v1.35h-1.72zM655.63 280.25h1.72v1.35h-1.72zM655.63 284.31h1.72v2.71h-1.72zM657.34 263.99h1.72v1.35h-1.72zM657.34 281.6h1.72v4.06h-1.72zM659.06 265.35h1.72v1.35h-1.72zM659.06 282.96h1.72v1.35h-1.72zM660.78 266.7h1.72v1.35h-1.72zM660.78 310.05h1.72v1.35h-1.72zM662.49 266.7h1.72v1.35h-1.72zM664.21 268.06h1.72v1.35h-1.72zM667.64 269.41h1.72v1.35h-1.72zM669.36 270.77h1.72v1.35h-1.72zM672.79 272.12h1.72v1.35h-1.72zM672.79 310.05h1.72v1.35h-1.72zM674.51 310.05h1.72v1.35h-1.72zM676.22 273.48h1.72v1.35h-1.72zM676.22 310.05h1.72v1.35h-1.72zM677.94 308.69h1.72v1.35h-1.72zM679.65 307.34h1.72v1.35h-1.72zM681.37 276.18h1.72v1.35h-1.72zM681.37 285.67h1.72v5.42h-1.72zM681.37 307.34h1.72v1.35h-1.72zM683.09 280.25h1.72v2.71h-1.72zM683.09 289.73h1.72v4.06h-1.72zM683.09 304.63h1.72v2.71h-1.72zM684.8 292.44h1.72v5.42h-1.72zM684.8 300.56h1.72v4.06h-1.72zM686.52 296.5h1.72v5.42h-1.72z"/>
<path fill="#bfbfbf" stroke="#bfbfbf" d="M595.56 289.73h1.72v2.71h-1.72zM595.56 295.15h1.72v2.71h-1.72zM597.27 288.37h1.72v2.71h-1.72zM597.27 303.27h1.72v4.06h-1.72zM598.99 276.18h1.72v5.42h-1.72zM598.99 305.98h1.72v1.35h-1.72zM600.71 270.77h1.72v2.71h-1.72zM600.71 301.92h1.72v2.71h-1.72zM602.42 269.41h1.72v1.35h-1.72zM602.42 284.31h1.72v1.35h-1.72zM604.14 265.35h1.72v1.35h-1.72zM605.86 308.69h1.72v1.35h-1.72zM607.57 262.64h1.72v1.35h-1.72zM609.29 259.93h1.72v1.35h-1.72zM616.15 261.29h1.72v1.35h-1.72zM617.87 261.29h1.72v1.35h-1.72zM624.73 263.99h1.72v1.35h-1.72zM626.45 265.35h1.72v1.35h-1.72zM631.6 272.12h1.72v2.71h-1.72zM633.32 272.12h1.72v2.71h-1.72zM633.32 276.18h1.72v5.42h-1.72zM636.75 281.6h1.72v1.35h-1.72zM638.46 285.67h1.72v1.35h-1.72zM638.46 288.37h1.72v1.35h-1.72zM641.9 262.64h1.72v1.35h-1.72zM641.9 270.77h1.72v1.35h-1.72zM641.9 287.02h1.72v2.71h-1.72zM643.61 289.73h1.72v2.71h-1.72zM645.33 291.08h1.72v1.35h-1.72zM647.05 273.48h1.72v1.35h-1.72zM647.05 291.08h1.72v1.35h-1.72zM648.76 289.73h1.72v1.35h-1.72zM650.48 261.29h1.72v1.35h-1.72zM650.48 288.37h1.72v2.71h-1.72zM652.19 276.18h1.72v1.35h-1.72zM652.19 288.37h1.72v1.35h-1.72zM652.19 310.05h1.72v1.35h-1.72zM653.91 262.64h1.72v1.35h-1.72zM653.91 277.54h1.72v1.35h-1.72zM653.91 287.02h1.72v1.35h-1.72zM655.63 263.99h1.72v1.35h-1.72zM655.63 278.89h1.72v1.35h-1.72zM655.63 287.02h1.72v1.35h-1.72zM657.34 280.25h1.72v1.35h-1.72zM657.34 285.67h1.72v1.35h-1.72zM657.34 310.05h1.72v1.35h-1.72zM659.06 266.7h1.72v1.35h-1.72zM659.06 280.25h1.72v2.71h-1.72zM659.06 284.31h1.72v2.71h-1.72zM660.78 282.96h1.72v4.06h-1.72zM662.49 268.06h1.72v1.35h-1.72zM662.49 282.96h1.72v2.71h-1.72zM662.49 310.05h1.72v1.35h-1.72zM664.21 310.05h1.72v1.35h-1.72zM665.92 269.41h1.72v1.35h-1.72zM665.92 310.05h1.72v1.35h-1.72zM667.64 310.05h1.72v1.35h-1.72zM669.36 310.05h1.72v1.35h-1.72zM671.07 272.12h1.72v1.35h-1.72zM671.07 310.05h1.72v1.35h-1.72zM674.51 273.48h1.72v1.35h-1.72zM677.94 274.83h1.72v1.35h-1.72zM677.94 307.34h1.72v1.35h-1.72zM679.65 276.18h1.72v1.35h-1.72zM679.65 288.37h1.72v2.71h-1.72zM679.65 305.98h1.72v1.35h-1.72zM681.37 277.54h1.72v1.35h-1.72zM681.37 291.08h1.72v2.71h-1.72zM681.37 304.63h1.72v2.71h-1.72zM683.09 293.79h1.72v2.71h-1.72zM683.09 301.92h1.72v2.71h-1.72zM684.8 297.86h1.72v2.71h-1.72z"/>
<path fill="#c1c1c1" stroke="#c1c1c1" d="M595.56 292.44h1.72v2.71h-1.72zM597.27 291.08h1.72v1.35h-1.72zM597.27 293.79h1.72v9.48h-1.72zM598.99 281.6h1.72v4.06h-1.72zM598.99 288.37h1.72v1.35h-1.72zM598.99 303.27h1.72v2.71h-1.72zM600.71 273.48h1.72v5.42h-1.72zM600.71 310.05h1.72v1.35h-1.72zM602.42 277.54h1.72v2.71h-1.72zM602.42 285.67h1.72v1.35h-1.72zM602.42 304.63h1.72v1.35h-1.72zM602.42 307.34h1.72v1.35h-1.72zM604.14 266.7h1.72v1.35h-1.72zM604.14 308.69h1.72v2.71h-1.72zM605.86 263.99h1.72v1.35h-1.72zM605.86 307.34h1.72v1.35h-1.72zM605.86 310.05h1.72v1.35h-1.72zM609.29 261.29h1.72v1.35h-1.72zM611 259.93h1.72v1.35h-1.72zM612.72 261.29h1.72v1.35h-1.72zM614.44 259.93h1.72v1.35h-1.72zM619.59 261.29h1.72v1.35h-1.72zM623.02 259.93h1.72v1.35h-1.72zM626.45 266.7h1.72v1.35h-1.72zM629.88 269.41h1.72v1.35h-1.72zM631.6 274.83h1.72v1.35h-1.72zM633.32 274.83h1.72v1.35h-1.72zM633.32 281.6h1.72v2.71h-1.72zM635.03 278.89h1.72v1.35h-1.72zM636.75 282.96h1.72v1.35h-1.72zM638.46 289.73h1.72v1.35h-1.72zM640.18 289.73h1.72v1.35h-1.72zM641.9 289.73h1.72v2.71h-1.72zM643.61 270.77h1.72v1.35h-1.72zM643.61 292.44h1.72v6.77h-1.72zM645.33 259.93h1.72v1.35h-1.72zM645.33 272.12h1.72v1.35h-1.72zM645.33 292.44h1.72v1.35h-1.72zM645.33 295.15h1.72v2.71h-1.72zM647.05 292.44h1.72v1.35h-1.72zM648.76 259.93h1.72v1.35h-1.72zM648.76 291.08h1.72v2.71h-1.72zM650.48 274.83h1.72v1.35h-1.72zM650.48 291.08h1.72v1.35h-1.72zM650.48 304.63h1.72v4.06h-1.72zM650.48 310.05h1.72v1.35h-1.72zM652.19 289.73h1.72v1.35h-1.72zM652.19 308.69h1.72v1.35h-1.72zM653.91 276.18h1.72v1.35h-1.72zM653.91 288.37h1.72v1.35h-1.72zM653.91 307.34h1.72v4.06h-1.72zM655.63 277.54h1.72v1.35h-1.72zM655.63 307.34h1.72v2.71h-1.72zM657.34 265.35h1.72v1.35h-1.72zM657.34 278.89h1.72v1.35h-1.72zM657.34 287.02h1.72v1.35h-1.72zM657.34 308.69h1.72v1.35h-1.72zM659.06 287.02h1.72v1.35h-1.72zM659.06 308.69h1.72v2.71h-1.72zM660.78 268.06h1.72v1.35h-1.72zM660.78 280.25h1.72v1.35h-1.72zM660.78 287.02h1.72v1.35h-1.72zM660.78 308.69h1.72v1.35h-1.72zM662.49 281.6h1.72v1.35h-1.72zM662.49 285.67h1.72v1.35h-1.72zM662.49 308.69h1.72v1.35h-1.72zM664.21 269.41h1.72v1.35h-1.72zM664.21 282.96h1.72v4.06h-1.72zM664.21 308.69h1.72v1.35h-1.72zM665.92 285.67h1.72v1.35h-1.72zM667.64 270.77h1.72v1.35h-1.72zM667.64 308.69h1.72v1.35h-1.72zM669.36 272.12h1.72v1.35h-1.72zM669.36 308.69h1.72v1.35h-1.72zM671.07 308.69h1.72v1.35h-1.72zM672.79 273.48h1.72v1.35h-1.72zM672.79 308.69h1.72v1.35h-1.72zM676.22 274.83h1.72v1.35h-1.72zM676.22 307.34h1.72v1.35h-1.72zM677.94 289.73h1.72v1.35h-1.72zM677.94 305.98h1.72v1.35h-1.72zM679.65 287.02h1.72v1.35h-1.72zM679.65 291.08h1.72v2.71h-1.72zM679.65 304.63h1.72v1.35h-1.72zM681.37 284.31h1.72v1.35h-1.72zM681.37 293.79h1.72v2.71h-1.72zM681.37 303.27h1.72v1.35h-1.72zM683.09 296.5h1.72v5.42h-1.72z"/>
<path fill="#c3c3c3" stroke="#c3c3c3" d="M597.27 292.44h1.72v1.35h-1.72zM598.99 285.67h1.72v2.71h-1.72zM598.99 295.15h1.72v4.06h-1.72zM598.99 301.92h1.72v1.35h-1.72zM600.71 278.89h1.72v2.71h-1.72zM600.71 300.56h1.72v1.35h-1.72zM602.42 270.77h1.72v2.71h-1.72zM602.42 303.27h1.72v1.35h-1.72zM602.42 305.98h1.72v1.35h-1.72zM604.14 268.06h1.72v1.35h-1.72zM604.14 273.48h1.72v4.06h-1.72zM604.14 307.34h1.72v1.35h-1.72zM605.86 265.35h1.72v2.71h-1.72zM621.3 261.29h1.72v1.35h-1.72zM623.02 261.29h1.72v1.35h-1.72zM623.02 266.7h1.72v1.35h-1.72zM628.17 266.7h1.72v1.35h-1.72zM628.17 276.18h1.72v1.35h-1.72zM629.88 270.77h1.72v2.71h-1.72zM631.6 276.18h1.72v1.35h-1.72zM633.32 284.31h1.72v2.71h-1.72zM635.03 280.25h1.72v1.35h-1.72zM636.75 284.31h1.72v2.71h-1.72zM636.75 288.37h1.72v1.35h-1.72zM638.46 291.08h1.72v4.06h-1.72zM640.18 291.08h1.72v2.71h-1.72zM641.9 269.41h1.72v1.35h-1.72zM641.9 292.44h1.72v8.13h-1.72zM643.61 261.29h1.72v1.35h-1.72zM645.33 297.86h1.72v6.77h-1.72zM645.33 305.98h1.72v1.35h-1.72zM647.05 259.93h1.72v1.35h-1.72zM647.05 272.12h1.72v1.35h-1.72zM647.05 293.79h1.72v2.71h-1.72zM648.76 273.48h1.72v1.35h-1.72zM648.76 293.79h1.72v2.71h-1.72zM650.48 292.44h1.72v1.35h-1.72zM650.48 303.27h1.72v1.35h-1.72zM652.19 262.64h1.72v1.35h-1.72zM652.19 274.83h1.72v1.35h-1.72zM652.19 307.34h1.72v1.35h-1.72zM653.91 289.73h1.72v1.35h-1.72zM653.91 305.98h1.72v1.35h-1.72zM655.63 265.35h1.72v1.35h-1.72zM655.63 276.18h1.72v1.35h-1.72zM655.63 289.73h1.72v1.35h-1.72zM655.63 305.98h1.72v1.35h-1.72zM655.63 310.05h1.72v1.35h-1.72zM657.34 288.37h1.72v1.35h-1.72zM657.34 307.34h1.72v1.35h-1.72zM659.06 278.89h1.72v1.35h-1.72zM659.06 288.37h1.72v1.35h-1.72zM659.06 307.34h1.72v1.35h-1.72zM660.78 307.34h1.72v1.35h-1.72zM662.49 269.41h1.72v1.35h-1.72zM662.49 280.25h1.72v1.35h-1.72zM662.49 287.02h1.72v1.35h-1.72zM664.21 281.6h1.72v1.35h-1.72zM664.21 287.02h1.72v1.35h-1.72zM665.92 270.77h1.72v1.35h-1.72zM665.92 284.31h1.72v1.35h-1.72zM665.92 308.69h1.72v1.35h-1.72zM667.64 285.67h1.72v2.71h-1.72zM671.07 273.48h1.72v1.35h-1.72zM672.79 307.34h1.72v1.35h-1.72zM674.51 307.34h1.72v1.35h-1.72zM676.22 289.73h1.72v1.35h-1.72zM676.22 305.98h1.72v1.35h-1.72zM677.94 288.37h1.72v1.35h-1.72zM677.94 291.08h1.72v2.71h-1.72zM679.65 277.54h1.72v1.35h-1.72zM679.65 293.79h1.72v1.35h-1.72zM679.65 303.27h1.72v1.35h-1.72zM681.37 278.89h1.72v1.35h-1.72zM681.37 282.96h1.72v1.35h-1.72zM681.37 297.86h1.72v5.42h-1.72z"/>
<path fill="#c5c5c5" stroke="#c5c5c5" d="M598.99 299.21h1.72v2.71h-1.72zM600.71 281.6h1.72v5.42h-1.72zM600.71 289.73h1.72v2.71h-1.72zM602.42 273.48h1.72v4.06h-1.72zM602.42 280.25h1.72v1.35h-1.72zM602.42 287.02h1.72v1.35h-1.72zM604.14 269.41h1.72v1.35h-1.72zM604.14 277.54h1.72v1.35h-1.72zM604.14 305.98h1.72v1.35h-1.72zM605.86 305.98h1.72v1.35h-1.72zM607.57 263.99h1.72v1.35h-1.72zM609.29 262.64h1.72v1.35h-1.72zM609.29 308.69h1.72v1.35h-1.72zM616.15 262.64h1.72v1.35h-1.72zM617.87 263.99h1.72v1.35h-1.72zM623.02 268.06h1.72v1.35h-1.72zM624.73 265.35h1.72v1.35h-1.72zM626.45 268.06h1.72v1.35h-1.72zM628.17 268.06h1.72v1.35h-1.72zM628.17 277.54h1.72v1.35h-1.72zM629.88 273.48h1.72v1.35h-1.72zM629.88 278.89h1.72v1.35h-1.72zM631.6 278.89h1.72v1.35h-1.72zM635.03 281.6h1.72v4.06h-1.72zM636.75 287.02h1.72v1.35h-1.72zM636.75 289.73h1.72v1.35h-1.72zM638.46 295.15h1.72v2.71h-1.72zM640.18 293.79h1.72v2.71h-1.72zM641.9 263.99h1.72v1.35h-1.72zM643.61 299.21h1.72v2.71h-1.72zM645.33 307.34h1.72v1.35h-1.72zM647.05 261.29h1.72v1.35h-1.72zM647.05 296.5h1.72v4.06h-1.72zM648.76 261.29h1.72v1.35h-1.72zM648.76 296.5h1.72v12.19h-1.72zM648.76 310.05h1.72v1.35h-1.72zM650.48 262.64h1.72v1.35h-1.72zM650.48 273.48h1.72v1.35h-1.72zM650.48 293.79h1.72v2.71h-1.72zM650.48 301.92h1.72v1.35h-1.72zM652.19 292.44h1.72v1.35h-1.72zM652.19 303.27h1.72v4.06h-1.72zM653.91 263.99h1.72v1.35h-1.72zM653.91 274.83h1.72v1.35h-1.72zM653.91 291.08h1.72v1.35h-1.72zM653.91 303.27h1.72v2.71h-1.72zM655.63 304.63h1.72v1.35h-1.72zM657.34 266.7h1.72v1.35h-1.72zM657.34 277.54h1.72v1.35h-1.72zM657.34 289.73h1.72v1.35h-1.72zM657.34 305.98h1.72v1.35h-1.72zM659.06 277.54h1.72v1.35h-1.72zM659.06 305.98h1.72v1.35h-1.72zM660.78 269.41h1.72v1.35h-1.72zM660.78 278.89h1.72v1.35h-1.72zM660.78 288.37h1.72v1.35h-1.72zM662.49 288.37h1.72v1.35h-1.72zM662.49 307.34h1.72v1.35h-1.72zM664.21 270.77h1.72v1.35h-1.72zM664.21 280.25h1.72v1.35h-1.72zM664.21 288.37h1.72v1.35h-1.72zM664.21 307.34h1.72v1.35h-1.72zM665.92 288.37h1.72v1.35h-1.72zM667.64 272.12h1.72v1.35h-1.72zM667.64 284.31h1.72v1.35h-1.72zM667.64 288.37h1.72v1.35h-1.72zM667.64 307.34h1.72v1.35h-1.72zM669.36 285.67h1.72v1.35h-1.72zM669.36 288.37h1.72v1.35h-1.72zM669.36 307.34h1.72v1.35h-1.72zM671.07 288.37h1.72v1.35h-1.72zM671.07 307.34h1.72v1.35h-1.72zM674.51 274.83h1.72v1.35h-1.72zM674.51 289.73h1.72v1.35h-1.72zM674.51 305.98h1.72v1.35h-1.72zM676.22 288.37h1.72v1.35h-1.72zM677.94 276.18h1.72v1.35h-1.72zM677.94 287.02h1.72v1.35h-1.72zM677.94 293.79h1.72v1.35h-1.72zM677.94 304.63h1.72v1.35h-1.72zM679.65 295.15h1.72v2.71h-1.72zM679.65 300.56h1.72v2.71h-1.72zM681.37 280.25h1.72v2.71h-1.72z"/>
<path fill="#c7c7c7" stroke="#c7c7c7" d="M600.71 287.02h1.72v2.71h-1.72zM600.71 292.44h1.72v5.42h-1.72zM600.71 299.21h1.72v1.35h-1.72zM602.42 281.6h1.72v2.71h-1.72zM602.42 288.37h1.72v1.35h-1.72zM602.42 300.56h1.72v2.71h-1.72zM605.86 268.06h1.72v1.35h-1.72zM605.86 303.27h1.72v2.71h-1.72zM607.57 265.35h1.72v1.35h-1.72zM607.57 308.69h1.72v1.35h-1.72zM609.29 263.99h1.72v1.35h-1.72zM609.29 304.63h1.72v4.06h-1.72zM609.29 310.05h1.72v1.35h-1.72zM612.72 310.05h1.72v1.35h-1.72zM617.87 265.35h1.72v1.35h-1.72zM623.02 262.64h1.72v1.35h-1.72zM623.02 269.41h1.72v1.35h-1.72zM624.73 266.7h1.72v1.35h-1.72zM628.17 269.41h1.72v1.35h-1.72zM628.17 274.83h1.72v1.35h-1.72zM629.88 276.18h1.72v2.71h-1.72zM629.88 280.25h1.72v2.71h-1.72zM631.6 280.25h1.72v1.35h-1.72zM631.6 282.96h1.72v1.35h-1.72zM633.32 287.02h1.72v1.35h-1.72zM635.03 285.67h1.72v1.35h-1.72zM636.75 291.08h1.72v2.71h-1.72zM638.46 297.86h1.72v1.35h-1.72zM640.18 296.5h1.72v1.35h-1.72zM641.9 265.35h1.72v1.35h-1.72zM641.9 268.06h1.72v1.35h-1.72zM641.9 301.92h1.72v2.71h-1.72zM643.61 262.64h1.72v1.35h-1.72zM643.61 301.92h1.72v5.42h-1.72zM645.33 261.29h1.72v1.35h-1.72zM645.33 270.77h1.72v1.35h-1.72zM645.33 308.69h1.72v1.35h-1.72zM647.05 300.56h1.72v5.42h-1.72zM648.76 308.69h1.72v1.35h-1.72zM650.48 296.5h1.72v5.42h-1.72zM652.19 263.99h1.72v1.35h-1.72zM652.19 273.48h1.72v1.35h-1.72zM652.19 293.79h1.72v9.48h-1.72zM653.91 292.44h1.72v1.35h-1.72zM653.91 301.92h1.72v1.35h-1.72zM655.63 266.7h1.72v1.35h-1.72zM655.63 274.83h1.72v1.35h-1.72zM655.63 291.08h1.72v1.35h-1.72zM655.63 303.27h1.72v1.35h-1.72zM657.34 276.18h1.72v1.35h-1.72zM657.34 304.63h1.72v1.35h-1.72zM659.06 268.06h1.72v1.35h-1.72zM659.06 289.73h1.72v1.35h-1.72zM660.78 270.77h1.72v1.35h-1.72zM660.78 277.54h1.72v1.35h-1.72zM660.78 289.73h1.72v1.35h-1.72zM660.78 305.98h1.72v1.35h-1.72zM662.49 278.89h1.72v1.35h-1.72zM662.49 305.98h1.72v1.35h-1.72zM665.92 272.12h1.72v1.35h-1.72zM669.36 273.48h1.72v1.35h-1.72zM669.36 289.73h1.72v1.35h-1.72zM671.07 287.02h1.72v1.35h-1.72zM671.07 289.73h1.72v1.35h-1.72zM672.79 274.83h1.72v1.35h-1.72zM672.79 289.73h1.72v2.71h-1.72zM672.79 305.98h1.72v1.35h-1.72zM674.51 288.37h1.72v1.35h-1.72zM674.51 291.08h1.72v1.35h-1.72zM676.22 276.18h1.72v1.35h-1.72zM676.22 292.44h1.72v1.35h-1.72zM676.22 304.63h1.72v1.35h-1.72zM677.94 295.15h1.72v1.35h-1.72zM677.94 301.92h1.72v2.71h-1.72zM679.65 285.67h1.72v1.35h-1.72zM679.65 297.86h1.72v2.71h-1.72z"/>
<path fill="#c9c9c9" stroke="#c9c9c9" d="M600.71 297.86h1.72v1.35h-1.72zM602.42 299.21h1.72v1.35h-1.72zM604.14 270.77h1.72v1.35h-1.72zM604.14 278.89h1.72v1.35h-1.72zM605.86 269.41h1.72v1.35h-1.72zM605.86 272.12h1.72v1.35h-1.72zM607.57 269.41h1.72v1.35h-1.72zM607.57 310.05h1.72v1.35h-1.72zM609.29 303.27h1.72v1.35h-1.72zM621.3 262.64h1.72v1.35h-1.72zM623.02 263.99h1.72v2.71h-1.72zM628.17 270.77h1.72v1.35h-1.72zM629.88 282.96h1.72v1.35h-1.72zM631.6 281.6h1.72v1.35h-1.72zM631.6 284.31h1.72v1.35h-1.72zM635.03 287.02h1.72v5.42h-1.72zM635.03 295.15h1.72v2.71h-1.72zM636.75 293.79h1.72v2.71h-1.72zM636.75 297.86h1.72v1.35h-1.72zM638.46 299.21h1.72v1.35h-1.72zM641.9 266.7h1.72v1.35h-1.72zM643.61 268.06h1.72v1.35h-1.72zM643.61 307.34h1.72v2.71h-1.72zM647.05 270.77h1.72v1.35h-1.72zM647.05 305.98h1.72v1.35h-1.72zM648.76 272.12h1.72v1.35h-1.72zM650.48 272.12h1.72v1.35h-1.72zM653.91 265.35h1.72v1.35h-1.72zM653.91 273.48h1.72v1.35h-1.72zM653.91 293.79h1.72v2.71h-1.72zM653.91 299.21h1.72v2.71h-1.72zM655.63 292.44h1.72v1.35h-1.72zM655.63 301.92h1.72v1.35h-1.72zM657.34 268.06h1.72v1.35h-1.72zM657.34 291.08h1.72v1.35h-1.72zM657.34 303.27h1.72v1.35h-1.72zM659.06 276.18h1.72v1.35h-1.72zM659.06 291.08h1.72v1.35h-1.72zM660.78 276.18h1.72v1.35h-1.72zM660.78 304.63h1.72v1.35h-1.72zM662.49 272.12h1.72v1.35h-1.72zM664.21 289.73h1.72v1.35h-1.72zM664.21 305.98h1.72v1.35h-1.72zM665.92 281.6h1.72v1.35h-1.72zM665.92 289.73h1.72v1.35h-1.72zM665.92 305.98h1.72v1.35h-1.72zM667.64 282.96h1.72v1.35h-1.72zM667.64 289.73h1.72v1.35h-1.72zM667.64 305.98h1.72v1.35h-1.72zM669.36 284.31h1.72v1.35h-1.72zM669.36 305.98h1.72v1.35h-1.72zM671.07 274.83h1.72v1.35h-1.72zM671.07 291.08h1.72v1.35h-1.72zM672.79 287.02h1.72v1.35h-1.72zM674.51 292.44h1.72v1.35h-1.72zM676.22 293.79h1.72v1.35h-1.72zM676.22 303.27h1.72v1.35h-1.72zM677.94 296.5h1.72v5.42h-1.72zM679.65 278.89h1.72v1.35h-1.72z"/>
<path fill="#cbcbcb" stroke="#cbcbcb" d="M602.42 289.73h1.72v5.42h-1.72zM602.42 296.5h1.72v2.71h-1.72zM604.14 272.12h1.72v1.35h-1.72zM604.14 280.25h1.72v1.35h-1.72zM604.14 284.31h1.72v2.71h-1.72zM604.14 292.44h1.72v4.06h-1.72zM605.86 270.77h1.72v1.35h-1.72zM605.86 293.79h1.72v2.71h-1.72zM605.86 300.56h1.72v2.71h-1.72zM607.57 266.7h1.72v1.35h-1.72zM607.57 307.34h1.72v1.35h-1.72zM609.29 265.35h1.72v1.35h-1.72zM609.29 301.92h1.72v1.35h-1.72zM612.72 308.69h1.72v1.35h-1.72zM624.73 268.06h1.72v1.35h-1.72zM626.45 270.77h1.72v1.35h-1.72zM631.6 285.67h1.72v1.35h-1.72zM633.32 288.37h1.72v1.35h-1.72zM635.03 292.44h1.72v1.35h-1.72zM635.03 297.86h1.72v1.35h-1.72zM636.75 296.5h1.72v1.35h-1.72zM636.75 299.21h1.72v4.06h-1.72zM638.46 303.27h1.72v6.77h-1.72zM640.18 297.86h1.72v1.35h-1.72zM640.18 303.27h1.72v1.35h-1.72zM641.9 304.63h1.72v1.35h-1.72zM643.61 263.99h1.72v4.06h-1.72zM645.33 269.41h1.72v1.35h-1.72zM647.05 262.64h1.72v1.35h-1.72zM647.05 307.34h1.72v1.35h-1.72zM650.48 270.77h1.72v1.35h-1.72zM652.19 272.12h1.72v1.35h-1.72zM653.91 272.12h1.72v1.35h-1.72zM653.91 296.5h1.72v2.71h-1.72zM655.63 268.06h1.72v1.35h-1.72zM655.63 270.77h1.72v2.71h-1.72zM655.63 293.79h1.72v1.35h-1.72zM655.63 300.56h1.72v1.35h-1.72zM657.34 274.83h1.72v1.35h-1.72zM657.34 292.44h1.72v1.35h-1.72zM657.34 301.92h1.72v1.35h-1.72zM659.06 269.41h1.72v1.35h-1.72zM660.78 272.12h1.72v4.06h-1.72zM662.49 273.48h1.72v4.06h-1.72zM662.49 291.08h1.72v1.35h-1.72zM662.49 304.63h1.72v1.35h-1.72zM664.21 273.48h1.72v1.35h-1.72zM665.92 273.48h1.72v1.35h-1.72zM665.92 276.18h1.72v2.71h-1.72zM667.64 274.83h1.72v1.35h-1.72zM667.64 291.08h1.72v1.35h-1.72zM669.36 274.83h1.72v1.35h-1.72zM669.36 291.08h1.72v1.35h-1.72zM671.07 285.67h1.72v1.35h-1.72zM671.07 304.63h1.72v1.35h-1.72zM672.79 292.44h1.72v1.35h-1.72zM672.79 304.63h1.72v1.35h-1.72zM674.51 276.18h1.72v1.35h-1.72zM674.51 293.79h1.72v1.35h-1.72zM676.22 287.02h1.72v1.35h-1.72zM676.22 295.15h1.72v2.71h-1.72zM676.22 301.92h1.72v1.35h-1.72zM677.94 277.54h1.72v1.35h-1.72zM677.94 285.67h1.72v1.35h-1.72zM679.65 284.31h1.72v1.35h-1.72z"/>
<path fill="#cdcdcd" stroke="#cdcdcd" d="M604.14 287.02h1.72v1.35h-1.72zM604.14 291.08h1.72v1.35h-1.72zM604.14 296.5h1.72v1.35h-1.72zM604.14 304.63h1.72v1.35h-1.72zM605.86 273.48h1.72v1.35h-1.72zM605.86 299.21h1.72v1.35h-1.72zM607.57 270.77h1.72v1.35h-1.72zM607.57 291.08h1.72v2.71h-1.72zM607.57 305.98h1.72v1.35h-1.72zM609.29 272.12h1.72v2.71h-1.72zM609.29 300.56h1.72v1.35h-1.72zM611 262.64h1.72v1.35h-1.72zM612.72 307.34h1.72v1.35h-1.72zM621.3 263.99h1.72v2.71h-1.72zM624.73 269.41h1.72v4.06h-1.72zM626.45 272.12h1.72v1.35h-1.72zM629.88 289.73h1.72v1.35h-1.72zM631.6 287.02h1.72v1.35h-1.72zM633.32 289.73h1.72v2.71h-1.72zM633.32 299.21h1.72v5.42h-1.72zM635.03 293.79h1.72v1.35h-1.72zM638.46 301.92h1.72v1.35h-1.72zM640.18 299.21h1.72v4.06h-1.72zM640.18 304.63h1.72v1.35h-1.72zM645.33 262.64h1.72v1.35h-1.72zM647.05 269.41h1.72v1.35h-1.72zM647.05 308.69h1.72v1.35h-1.72zM648.76 262.64h1.72v1.35h-1.72zM652.19 266.7h1.72v1.35h-1.72zM653.91 266.7h1.72v1.35h-1.72zM655.63 269.41h1.72v1.35h-1.72zM655.63 296.5h1.72v4.06h-1.72zM657.34 269.41h1.72v1.35h-1.72zM657.34 300.56h1.72v1.35h-1.72zM659.06 274.83h1.72v1.35h-1.72zM659.06 292.44h1.72v1.35h-1.72zM660.78 303.27h1.72v1.35h-1.72zM664.21 277.54h1.72v1.35h-1.72zM664.21 291.08h1.72v1.35h-1.72zM665.92 291.08h1.72v1.35h-1.72zM665.92 304.63h1.72v1.35h-1.72zM667.64 280.25h1.72v2.71h-1.72zM667.64 304.63h1.72v1.35h-1.72zM669.36 276.18h1.72v1.35h-1.72zM671.07 276.18h1.72v1.35h-1.72zM671.07 292.44h1.72v1.35h-1.72zM672.79 285.67h1.72v1.35h-1.72zM672.79 293.79h1.72v1.35h-1.72zM672.79 303.27h1.72v1.35h-1.72zM674.51 287.02h1.72v1.35h-1.72zM674.51 295.15h1.72v1.35h-1.72zM674.51 301.92h1.72v1.35h-1.72zM676.22 297.86h1.72v4.06h-1.72zM679.65 280.25h1.72v1.35h-1.72zM679.65 282.96h1.72v1.35h-1.72z"/>
<path fill="#cfcfcf" stroke="#cfcfcf" d="M604.14 288.37h1.72v2.71h-1.72zM604.14 303.27h1.72v1.35h-1.72zM605.86 297.86h1.72v1.35h-1.72zM607.57 268.06h1.72v1.35h-1.72zM607.57 304.63h1.72v1.35h-1.72zM609.29 266.7h1.72v1.35h-1.72zM609.29 270.77h1.72v1.35h-1.72zM609.29 297.86h1.72v1.35h-1.72zM612.72 304.63h1.72v1.35h-1.72zM616.15 263.99h1.72v1.35h-1.72zM616.15 287.02h1.72v1.35h-1.72zM623.02 270.77h1.72v1.35h-1.72zM624.73 273.48h1.72v1.35h-1.72zM628.17 272.12h1.72v2.71h-1.72zM631.6 288.37h1.72v1.35h-1.72zM633.32 292.44h1.72v2.71h-1.72zM636.75 303.27h1.72v1.35h-1.72zM640.18 305.98h1.72v1.35h-1.72zM643.61 310.05h1.72v1.35h-1.72zM647.05 263.99h1.72v1.35h-1.72zM647.05 310.05h1.72v1.35h-1.72zM648.76 270.77h1.72v1.35h-1.72zM650.48 265.35h1.72v1.35h-1.72zM650.48 269.41h1.72v1.35h-1.72zM652.19 268.06h1.72v4.06h-1.72zM653.91 268.06h1.72v1.35h-1.72zM657.34 272.12h1.72v2.71h-1.72zM657.34 295.15h1.72v1.35h-1.72zM657.34 299.21h1.72v1.35h-1.72zM659.06 270.77h1.72v4.06h-1.72zM659.06 301.92h1.72v1.35h-1.72zM660.78 292.44h1.72v1.35h-1.72zM662.49 292.44h1.72v1.35h-1.72zM662.49 303.27h1.72v1.35h-1.72zM664.21 274.83h1.72v2.71h-1.72zM664.21 292.44h1.72v1.35h-1.72zM665.92 274.83h1.72v1.35h-1.72zM665.92 278.89h1.72v1.35h-1.72zM665.92 292.44h1.72v1.35h-1.72zM667.64 277.54h1.72v2.71h-1.72zM667.64 292.44h1.72v1.35h-1.72zM669.36 277.54h1.72v1.35h-1.72zM669.36 282.96h1.72v1.35h-1.72zM669.36 292.44h1.72v1.35h-1.72zM671.07 293.79h1.72v1.35h-1.72zM671.07 303.27h1.72v1.35h-1.72zM672.79 295.15h1.72v1.35h-1.72zM674.51 296.5h1.72v5.42h-1.72zM676.22 277.54h1.72v1.35h-1.72zM677.94 284.31h1.72v1.35h-1.72z"/>
<path fill="#d1d1d1" stroke="#d1d1d1" d="M604.14 281.6h1.72v2.71h-1.72zM604.14 300.56h1.72v1.35h-1.72zM605.86 274.83h1.72v1.35h-1.72zM605.86 296.5h1.72v1.35h-1.72zM607.57 303.27h1.72v1.35h-1.72zM609.29 295.15h1.72v2.71h-1.72zM611 266.7h1.72v1.35h-1.72zM617.87 288.37h1.72v1.35h-1.72zM621.3 266.7h1.72v1.35h-1.72zM621.3 310.05h1.72v1.35h-1.72zM628.17 278.89h1.72v1.35h-1.72zM629.88 287.02h1.72v2.71h-1.72zM629.88 291.08h1.72v1.35h-1.72zM631.6 289.73h1.72v1.35h-1.72zM631.6 303.27h1.72v1.35h-1.72zM633.32 295.15h1.72v1.35h-1.72zM635.03 299.21h1.72v1.35h-1.72zM641.9 305.98h1.72v1.35h-1.72zM645.33 268.06h1.72v1.35h-1.72zM647.05 268.06h1.72v1.35h-1.72zM650.48 266.7h1.72v2.71h-1.72zM657.34 297.86h1.72v1.35h-1.72zM659.06 295.15h1.72v1.35h-1.72zM659.06 300.56h1.72v1.35h-1.72zM660.78 293.79h1.72v1.35h-1.72zM660.78 301.92h1.72v1.35h-1.72zM664.21 303.27h1.72v1.35h-1.72zM665.92 303.27h1.72v1.35h-1.72zM667.64 303.27h1.72v1.35h-1.72zM669.36 278.89h1.72v2.71h-1.72zM671.07 284.31h1.72v1.35h-1.72zM671.07 301.92h1.72v1.35h-1.72zM674.51 277.54h1.72v1.35h-1.72zM676.22 285.67h1.72v1.35h-1.72zM677.94 278.89h1.72v1.35h-1.72z"/>
<path fill="#d3d3d3" stroke="#d3d3d3" d="M604.14 299.21h1.72v1.35h-1.72zM604.14 301.92h1.72v1.35h-1.72zM605.86 276.18h1.72v1.35h-1.72zM605.86 287.02h1.72v2.71h-1.72zM607.57 272.12h1.72v1.35h-1.72zM607.57 288.37h1.72v1.35h-1.72zM611 270.77h1.72v1.35h-1.72zM611 276.18h1.72v1.35h-1.72zM612.72 265.35h1.72v1.35h-1.72zM617.87 268.06h1.72v1.35h-1.72zM619.59 263.99h1.72v1.35h-1.72zM619.59 269.41h1.72v1.35h-1.72zM619.59 273.48h1.72v2.71h-1.72zM626.45 288.37h1.72v1.35h-1.72zM628.17 280.25h1.72v2.71h-1.72zM629.88 284.31h1.72v2.71h-1.72zM631.6 291.08h1.72v1.35h-1.72zM631.6 304.63h1.72v4.06h-1.72zM633.32 296.5h1.72v1.35h-1.72zM635.03 300.56h1.72v1.35h-1.72zM640.18 307.34h1.72v1.35h-1.72zM645.33 265.35h1.72v2.71h-1.72zM647.05 266.7h1.72v1.35h-1.72zM648.76 263.99h1.72v1.35h-1.72zM648.76 269.41h1.72v1.35h-1.72zM659.06 296.5h1.72v4.06h-1.72zM662.49 301.92h1.72v1.35h-1.72zM664.21 293.79h1.72v1.35h-1.72zM664.21 301.92h1.72v1.35h-1.72zM667.64 293.79h1.72v1.35h-1.72zM669.36 281.6h1.72v1.35h-1.72zM669.36 301.92h1.72v1.35h-1.72zM671.07 277.54h1.72v1.35h-1.72zM672.79 284.31h1.72v1.35h-1.72zM672.79 297.86h1.72v2.71h-1.72zM674.51 285.67h1.72v1.35h-1.72zM677.94 281.6h1.72v2.71h-1.72z"/>
<path fill="#d5d5d5" stroke="#d5d5d5" d="M604.14 297.86h1.72v1.35h-1.72zM605.86 278.89h1.72v1.35h-1.72zM605.86 289.73h1.72v1.35h-1.72zM611 265.35h1.72v1.35h-1.72zM611 273.48h1.72v2.71h-1.72zM611 310.05h1.72v1.35h-1.72zM616.15 291.08h1.72v1.35h-1.72zM617.87 287.02h1.72v1.35h-1.72zM619.59 270.77h1.72v1.35h-1.72zM619.59 276.18h1.72v1.35h-1.72zM621.3 268.06h1.72v1.35h-1.72zM621.3 307.34h1.72v1.35h-1.72zM623.02 307.34h1.72v2.71h-1.72zM624.73 301.92h1.72v1.35h-1.72zM626.45 273.48h1.72v1.35h-1.72zM626.45 287.02h1.72v1.35h-1.72zM629.88 292.44h1.72v1.35h-1.72zM631.6 292.44h1.72v2.71h-1.72zM635.03 301.92h1.72v1.35h-1.72zM636.75 304.63h1.72v1.35h-1.72zM660.78 297.86h1.72v2.71h-1.72zM662.49 295.15h1.72v1.35h-1.72zM662.49 300.56h1.72v1.35h-1.72zM664.21 295.15h1.72v1.35h-1.72zM665.92 301.92h1.72v1.35h-1.72zM667.64 295.15h1.72v1.35h-1.72zM669.36 295.15h1.72v1.35h-1.72zM669.36 300.56h1.72v1.35h-1.72zM671.07 282.96h1.72v1.35h-1.72zM671.07 296.5h1.72v5.42h-1.72zM672.79 277.54h1.72v1.35h-1.72zM674.51 284.31h1.72v1.35h-1.72zM676.22 278.89h1.72v1.35h-1.72z"/>
<path fill="#d7d7d7" stroke="#d7d7d7" d="M605.86 280.25h1.72v2.71h-1.72zM607.57 273.48h1.72v1.35h-1.72zM607.57 277.54h1.72v2.71h-1.72zM609.29 269.41h1.72v1.35h-1.72zM612.72 266.7h1.72v1.35h-1.72zM617.87 269.41h1.72v1.35h-1.72zM623.02 289.73h1.72v2.71h-1.72zM623.02 305.98h1.72v1.35h-1.72zM626.45 274.83h1.72v1.35h-1.72zM626.45 291.08h1.72v1.35h-1.72zM628.17 282.96h1.72v1.35h-1.72zM629.88 293.79h1.72v1.35h-1.72zM648.76 265.35h1.72v1.35h-1.72zM648.76 268.06h1.72v1.35h-1.72zM662.49 296.5h1.72v1.35h-1.72zM662.49 299.21h1.72v1.35h-1.72zM664.21 296.5h1.72v1.35h-1.72zM664.21 299.21h1.72v2.71h-1.72zM665.92 300.56h1.72v1.35h-1.72zM667.64 296.5h1.72v1.35h-1.72zM669.36 296.5h1.72v2.71h-1.72zM671.07 278.89h1.72v1.35h-1.72zM677.94 280.25h1.72v1.35h-1.72z"/>
<path fill="#d9d9d9" stroke="#d9d9d9" d="M605.86 282.96h1.72v4.06h-1.72zM607.57 280.25h1.72v1.35h-1.72zM607.57 301.92h1.72v1.35h-1.72zM611 308.69h1.72v1.35h-1.72zM617.87 270.77h1.72v1.35h-1.72zM621.3 269.41h1.72v1.35h-1.72zM623.02 288.37h1.72v1.35h-1.72zM624.73 285.67h1.72v1.35h-1.72zM626.45 276.18h1.72v1.35h-1.72zM629.88 296.5h1.72v1.35h-1.72zM631.6 295.15h1.72v1.35h-1.72zM640.18 308.69h1.72v1.35h-1.72zM648.76 266.7h1.72v1.35h-1.72zM665.92 296.5h1.72v2.71h-1.72zM667.64 297.86h1.72v2.71h-1.72zM672.79 282.96h1.72v1.35h-1.72zM674.51 278.89h1.72v1.35h-1.72zM674.51 282.96h1.72v1.35h-1.72zM676.22 280.25h1.72v1.35h-1.72z"/>
<path fill="#dbdbdb" stroke="#dbdbdb" d="M607.57 281.6h1.72v1.35h-1.72zM607.57 300.56h1.72v1.35h-1.72zM611 307.34h1.72v1.35h-1.72zM617.87 285.67h1.72v1.35h-1.72zM623.02 293.79h1.72v1.35h-1.72zM624.73 276.18h1.72v4.06h-1.72zM626.45 277.54h1.72v1.35h-1.72zM626.45 293.79h1.72v1.35h-1.72zM629.88 297.86h1.72v2.71h-1.72zM631.6 296.5h1.72v1.35h-1.72zM631.6 308.69h1.72v2.71h-1.72zM633.32 305.98h1.72v1.35h-1.72zM641.9 310.05h1.72v1.35h-1.72zM671.07 280.25h1.72v2.71h-1.72zM672.79 280.25h1.72v1.35h-1.72zM676.22 281.6h1.72v2.71h-1.72z"/>
<path fill="#dddddd" stroke="#dddddd" d="M607.57 274.83h1.72v2.71h-1.72zM612.72 268.06h1.72v1.35h-1.72zM612.72 291.08h1.72v1.35h-1.72zM614.44 310.05h1.72v1.35h-1.72zM623.02 273.48h1.72v1.35h-1.72zM624.73 280.25h1.72v1.35h-1.72zM626.45 296.5h1.72v1.35h-1.72zM628.17 284.31h1.72v2.71h-1.72zM631.6 297.86h1.72v1.35h-1.72zM633.32 307.34h1.72v1.35h-1.72zM640.18 310.05h1.72v1.35h-1.72z"/>
<path fill="#dfdfdf" stroke="#dfdfdf" d="M607.57 293.79h1.72v2.71h-1.72zM607.57 299.21h1.72v1.35h-1.72zM611 278.89h1.72v1.35h-1.72zM612.72 292.44h1.72v1.35h-1.72zM614.44 308.69h1.72v1.35h-1.72zM616.15 293.79h1.72v1.35h-1.72zM619.59 281.6h1.72v2.71h-1.72zM621.3 270.77h1.72v1.35h-1.72zM621.3 282.96h1.72v2.71h-1.72zM624.73 281.6h1.72v1.35h-1.72zM624.73 310.05h1.72v1.35h-1.72zM626.45 278.89h1.72v1.35h-1.72zM628.17 287.02h1.72v2.71h-1.72zM631.6 299.21h1.72v1.35h-1.72zM633.32 308.69h1.72v1.35h-1.72zM636.75 307.34h1.72v1.35h-1.72z"/>
<path fill="#e1e1e1" stroke="#e1e1e1" d="M607.57 282.96h1.72v1.35h-1.72zM609.29 274.83h1.72v1.35h-1.72zM611 277.54h1.72v1.35h-1.72zM611 280.25h1.72v1.35h-1.72zM611 299.21h1.72v1.35h-1.72zM626.45 280.25h1.72v1.35h-1.72zM628.17 289.73h1.72v1.35h-1.72zM628.17 300.56h1.72v2.71h-1.72zM628.17 308.69h1.72v2.71h-1.72zM674.51 280.25h1.72v1.35h-1.72z"/>
<path fill="#e3e3e3" stroke="#e3e3e3" d="M607.57 284.31h1.72v2.71h-1.72zM607.57 297.86h1.72v1.35h-1.72zM611 297.86h1.72v1.35h-1.72zM611 304.63h1.72v1.35h-1.72zM616.15 266.7h1.72v1.35h-1.72zM616.15 295.15h1.72v1.35h-1.72zM621.3 273.48h1.72v1.35h-1.72zM623.02 274.83h1.72v1.35h-1.72zM623.02 282.96h1.72v5.42h-1.72zM624.73 296.5h1.72v1.35h-1.72zM624.73 299.21h1.72v1.35h-1.72zM628.17 297.86h1.72v2.71h-1.72zM629.88 308.69h1.72v1.35h-1.72zM631.6 301.92h1.72v1.35h-1.72zM635.03 304.63h1.72v1.35h-1.72zM674.51 281.6h1.72v1.35h-1.72z"/>
<path fill="#e5e5e5" stroke="#e5e5e5" d="M607.57 296.5h1.72v1.35h-1.72zM609.29 293.79h1.72v1.35h-1.72zM611 296.5h1.72v1.35h-1.72zM616.15 308.69h1.72v1.35h-1.72zM619.59 288.37h1.72v1.35h-1.72zM619.59 291.08h1.72v1.35h-1.72zM621.3 274.83h1.72v1.35h-1.72zM621.3 296.5h1.72v1.35h-1.72zM623.02 304.63h1.72v1.35h-1.72zM624.73 282.96h1.72v1.35h-1.72zM624.73 288.37h1.72v1.35h-1.72zM624.73 303.27h1.72v1.35h-1.72zM624.73 307.34h1.72v1.35h-1.72zM626.45 282.96h1.72v2.71h-1.72zM629.88 303.27h1.72v2.71h-1.72zM635.03 305.98h1.72v1.35h-1.72zM636.75 310.05h1.72v1.35h-1.72z"/>
<path fill="#e7e7e7" stroke="#e7e7e7" d="M609.29 277.54h1.72v1.35h-1.72zM609.29 288.37h1.72v4.06h-1.72zM611 303.27h1.72v1.35h-1.72zM614.44 307.34h1.72v1.35h-1.72zM617.87 310.05h1.72v1.35h-1.72zM619.59 268.06h1.72v1.35h-1.72zM619.59 284.31h1.72v2.71h-1.72zM623.02 276.18h1.72v1.35h-1.72zM624.73 284.31h1.72v1.35h-1.72zM624.73 291.08h1.72v1.35h-1.72zM624.73 295.15h1.72v1.35h-1.72zM626.45 299.21h1.72v1.35h-1.72zM626.45 301.92h1.72v4.06h-1.72zM628.17 291.08h1.72v1.35h-1.72zM629.88 307.34h1.72v1.35h-1.72zM635.03 307.34h1.72v1.35h-1.72z"/>
<path fill="#e9e9e9" stroke="#e9e9e9" d="M609.29 278.89h1.72v1.35h-1.72zM609.29 285.67h1.72v1.35h-1.72zM611 285.67h1.72v2.71h-1.72zM611 289.73h1.72v2.71h-1.72zM614.44 266.7h1.72v1.35h-1.72zM619.59 277.54h1.72v4.06h-1.72zM619.59 292.44h1.72v1.35h-1.72zM619.59 296.5h1.72v1.35h-1.72zM624.73 293.79h1.72v1.35h-1.72zM626.45 300.56h1.72v1.35h-1.72zM628.17 292.44h1.72v1.35h-1.72zM635.03 308.69h1.72v1.35h-1.72z"/>
<path fill="#ebebeb" stroke="#ebebeb" d="M609.29 281.6h1.72v1.35h-1.72zM609.29 284.31h1.72v1.35h-1.72zM612.72 301.92h1.72v1.35h-1.72zM614.44 305.98h1.72v1.35h-1.72zM617.87 272.12h1.72v1.35h-1.72zM617.87 308.69h1.72v1.35h-1.72zM619.59 310.05h1.72v1.35h-1.72zM623.02 278.89h1.72v1.35h-1.72zM628.17 293.79h1.72v2.71h-1.72z"/>
<path fill="#ededed" stroke="#ededed" d="M614.44 299.21h1.72v1.35h-1.72zM616.15 269.41h1.72v1.35h-1.72zM617.87 304.63h1.72v1.35h-1.72zM617.87 307.34h1.72v1.35h-1.72zM621.3 277.54h1.72v1.35h-1.72zM621.3 303.27h1.72v1.35h-1.72zM628.17 296.5h1.72v1.35h-1.72zM628.17 303.27h1.72v1.35h-1.72zM635.03 310.05h1.72v1.35h-1.72z"/>
<path fill="#efefef" stroke="#efefef" d="M614.44 268.06h1.72v1.35h-1.72zM617.87 273.48h1.72v1.35h-1.72zM619.59 308.69h1.72v1.35h-1.72zM621.3 278.89h1.72v2.71h-1.72zM623.02 300.56h1.72v1.35h-1.72z"/>
<path fill="#f1f1f1" stroke="#f1f1f1" d="M612.72 300.56h1.72v1.35h-1.72zM617.87 303.27h1.72v1.35h-1.72zM617.87 305.98h1.72v1.35h-1.72zM621.3 297.86h1.72v1.35h-1.72zM623.02 295.15h1.72v2.71h-1.72zM623.02 299.21h1.72v1.35h-1.72zM628.17 307.34h1.72v1.35h-1.72z"/>
<path fill="#f3f3f3" stroke="#f3f3f3" d="M616.15 277.54h1.72v1.35h-1.72zM616.15 304.63h1.72v1.35h-1.72zM617.87 276.18h1.72v1.35h-1.72zM617.87 291.08h1.72v2.71h-1.72zM617.87 295.15h1.72v2.71h-1.72zM617.87 301.92h1.72v1.35h-1.72zM619.59 307.34h1.72v1.35h-1.72zM621.3 289.73h1.72v1.35h-1.72zM626.45 307.34h1.72v4.06h-1.72z"/>
<path fill="#f5f5f5" stroke="#f5f5f5" d="M614.44 269.41h1.72v1.35h-1.72zM614.44 303.27h1.72v1.35h-1.72zM617.87 300.56h1.72v1.35h-1.72zM621.3 291.08h1.72v1.35h-1.72zM623.02 280.25h1.72v1.35h-1.72z"/>
<path fill="#f7f7f7" stroke="#f7f7f7" d="M612.72 282.96h1.72v1.35h-1.72zM623.02 281.6h1.72v1.35h-1.72z"/>
<path fill="#f9f9f9" stroke="#f9f9f9" d="M612.72 272.12h1.72v1.35h-1.72zM614.44 301.92h1.72v1.35h-1.72zM616.15 303.27h1.72v1.35h-1.72z"/>
<path fill="#fbfbfb" stroke="#fbfbfb" d="M614.44 270.77h1.72v1.35h-1.72zM617.87 278.89h1.72v1.35h-1.72zM617.87 281.6h1.72v1.35h-1.72z"/>
<path fill="#fdfdfd" stroke="#fdfdfd" d="M612.72 273.48h1.72v1.35h-1.72z"/>
<path fill="#ffffff" stroke="#ffffff" d="M612.72 277.54h1.72v1.35h-1.72zM612.72 287.02h1.72v1.35h-1.72zM614.44 272.12h1.72v2.71h-1.72zM614.44 277.54h1.72v2.71h-1.72zM614.44 281.6h1.72v1.35h-1.72zM614.44 287.02h1.72v2.71h-1.72zM614.44 293.79h1.72v2.71h-1.72zM616.15 274.83h1.72v1.35h-1.72zM616.15 281.6h1.72v2.71h-1.72zM616.15 285.67h1.72v1.35h-1.72zM616.15 296.5h1.72v1.35h-1.72zM616.15 299.21h1.72v4.06h-1.72zM619.59 300.56h1.72v1.35h-1.72z"/>
</g></defs>
<use href="#sc31" stroke-width="1.3"/><use href="#sc31" stroke-width="0"/>
<path fill="#000000" d="M647.05 287.02h1.72v1.35h-1.72z"/>
<path fill="#020202" d="M640.18 269.41h1.72v1.35h-1.72z"/>
<path fill="#0a0a0a" d="M633.32 255.87h1.72v1.35h-1.72zM636.75 257.22h1.72v1.35h-1.72zM636.75 259.93h1.72v1.35h-1.72zM671.07 255.87h1.72v1.35h-1.72zM679.65 261.29h1.72v1.35h-1.72zM683.09 255.87h1.72v2.71h-1.72zM712.26 257.22h1.72v1.35h-1.72z"/>
<path fill="#0c0c0c" d="M636.75 261.29h1.72v1.35h-1.72z"/>
<path fill="#101010" d="M672.79 301.92h1.72v1.35h-1.72zM691.67 308.69h1.72v1.35h-1.72z"/>
<path fill="#141414" d="M650.48 257.22h1.72v1.35h-1.72z"/>
<path fill="#161616" d="M611 268.06h1.72v1.35h-1.72zM640.18 262.64h1.72v1.35h-1.72zM703.68 274.83h1.72v1.35h-1.72z"/>
<path fill="#1a1a1a" d="M672.79 288.37h1.72v1.35h-1.72zM689.95 305.98h1.72v1.35h-1.72z"/>
<path fill="#1c1c1c" d="M684.8 276.18h1.72v1.35h-1.72z"/>
<path fill="#1e1e1e" d="M611 261.29h1.72v1.35h-1.72zM616.15 257.22h1.72v1.35h-1.72zM624.73 258.58h1.72v1.35h-1.72zM677.94 272.12h1.72v1.35h-1.72z"/>
<path fill="#202020" d="M616.15 265.35h1.72v1.35h-1.72zM616.15 292.44h1.72v1.35h-1.72zM636.75 268.06h1.72v1.35h-1.72zM645.33 278.89h1.72v2.71h-1.72z"/>
<path fill="#242424" d="M617.87 258.58h1.72v1.35h-1.72zM633.32 263.99h1.72v1.35h-1.72zM683.09 308.69h1.72v1.35h-1.72z"/>
<path fill="#262626" d="M652.19 259.93h1.72v1.35h-1.72z"/>
<path fill="#282828" d="M617.87 282.96h1.72v1.35h-1.72z"/>
<path fill="#2a2a2a" d="M611 300.56h1.72v1.35h-1.72zM635.03 276.18h1.72v1.35h-1.72zM683.09 284.31h1.72v1.35h-1.72z"/>
<path fill="#2c2c2c" d="M598.99 289.73h1.72v1.35h-1.72zM655.63 281.6h1.72v2.71h-1.72z"/>
<path fill="#2e2e2e" d="M607.57 289.73h1.72v1.35h-1.72zM647.05 288.37h1.72v1.35h-1.72z"/>
<path fill="#303030" d="M624.73 297.86h1.72v1.35h-1.72z"/>
<path fill="#323232" d="M645.33 289.73h1.72v1.35h-1.72z"/>
<path fill="#343434" d="M611 272.12h1.72v1.35h-1.72zM648.76 274.83h1.72v1.35h-1.72zM665.92 293.79h1.72v1.35h-1.72zM676.22 308.69h1.72v1.35h-1.72z"/>
<path fill="#363636" d="M629.88 268.06h1.72v1.35h-1.72zM638.46 287.02h1.72v1.35h-1.72zM660.78 281.6h1.72v1.35h-1.72zM674.51 308.69h1.72v1.35h-1.72z"/>
<path fill="#383838" d="M616.15 268.06h1.72v1.35h-1.72zM650.48 308.69h1.72v1.35h-1.72z"/>
<path fill="#3a3a3a" d="M645.33 293.79h1.72v1.35h-1.72zM655.63 288.37h1.72v1.35h-1.72zM667.64 300.56h1.72v1.35h-1.72z"/>
<path fill="#3c3c3c" d="M624.73 287.02h1.72v1.35h-1.72zM636.75 305.98h1.72v1.35h-1.72zM664.21 297.86h1.72v1.35h-1.72zM681.37 296.5h1.72v1.35h-1.72z"/>
<path fill="#3e3e3e" d="M616.15 305.98h1.72v1.35h-1.72zM619.59 265.35h1.72v1.35h-1.72zM645.33 304.63h1.72v1.35h-1.72zM652.19 291.08h1.72v1.35h-1.72zM665.92 287.02h1.72v1.35h-1.72z"/>
<path fill="#404040" d="M631.6 277.54h1.72v1.35h-1.72zM643.61 269.41h1.72v1.35h-1.72zM669.36 287.02h1.72v1.35h-1.72zM676.22 291.08h1.72v1.35h-1.72z"/>
<path fill="#424242" d="M612.72 289.73h1.72v1.35h-1.72zM617.87 262.64h1.72v1.35h-1.72zM641.9 300.56h1.72v1.35h-1.72zM665.92 282.96h1.72v1.35h-1.72zM665.92 307.34h1.72v1.35h-1.72z"/>
<path fill="#444444" d="M621.3 287.02h1.72v1.35h-1.72zM629.88 274.83h1.72v1.35h-1.72zM662.49 270.77h1.72v1.35h-1.72z"/>
<path fill="#464646" d="M612.72 262.64h1.72v1.35h-1.72zM617.87 293.79h1.72v1.35h-1.72zM671.07 305.98h1.72v1.35h-1.72z"/>
<path fill="#484848" d="M614.44 261.29h1.72v1.35h-1.72zM626.45 269.41h1.72v1.35h-1.72zM645.33 310.05h1.72v1.35h-1.72zM659.06 304.63h1.72v1.35h-1.72zM662.49 277.54h1.72v1.35h-1.72zM662.49 289.73h1.72v1.35h-1.72zM664.21 272.12h1.72v1.35h-1.72zM674.51 304.63h1.72v1.35h-1.72z"/>
<path fill="#4a4a4a" d="M621.3 293.79h1.72v1.35h-1.72zM650.48 263.99h1.72v1.35h-1.72zM655.63 273.48h1.72v1.35h-1.72zM667.64 273.48h1.72v1.35h-1.72z"/>
<path fill="#4c4c4c" d="M602.42 295.15h1.72v1.35h-1.72zM617.87 299.21h1.72v1.35h-1.72zM619.59 289.73h1.72v1.35h-1.72zM638.46 300.56h1.72v1.35h-1.72zM652.19 265.35h1.72v1.35h-1.72zM659.06 303.27h1.72v1.35h-1.72zM660.78 291.08h1.72v1.35h-1.72zM664.21 278.89h1.72v1.35h-1.72zM665.92 280.25h1.72v1.35h-1.72zM674.51 303.27h1.72v1.35h-1.72z"/>
<path fill="#4e4e4e" d="M612.72 303.27h1.72v1.35h-1.72zM617.87 266.7h1.72v1.35h-1.72zM617.87 277.54h1.72v1.35h-1.72zM617.87 280.25h1.72v1.35h-1.72zM619.59 262.64h1.72v1.35h-1.72zM655.63 295.15h1.72v1.35h-1.72zM664.21 304.63h1.72v1.35h-1.72zM669.36 304.63h1.72v1.35h-1.72z"/>
<path fill="#505050" d="M605.86 292.44h1.72v1.35h-1.72zM609.29 292.44h1.72v1.35h-1.72zM612.72 263.99h1.72v1.35h-1.72zM612.72 305.98h1.72v1.35h-1.72zM623.02 303.27h1.72v1.35h-1.72zM638.46 310.05h1.72v1.35h-1.72zM657.34 293.79h1.72v1.35h-1.72zM667.64 276.18h1.72v1.35h-1.72zM672.79 276.18h1.72v1.35h-1.72z"/>
<path fill="#525252" d="M609.29 299.21h1.72v1.35h-1.72zM611 284.31h1.72v1.35h-1.72zM616.15 288.37h1.72v2.71h-1.72zM621.3 276.18h1.72v1.35h-1.72zM633.32 297.86h1.72v1.35h-1.72zM657.34 270.77h1.72v1.35h-1.72zM659.06 293.79h1.72v1.35h-1.72zM679.65 281.6h1.72v1.35h-1.72z"/>
<path fill="#545454" d="M611 263.99h1.72v1.35h-1.72zM614.44 262.64h1.72v1.35h-1.72zM619.59 295.15h1.72v1.35h-1.72zM653.91 269.41h1.72v2.71h-1.72zM657.34 296.5h1.72v1.35h-1.72zM669.36 303.27h1.72v1.35h-1.72z"/>
<path fill="#565656" d="M617.87 289.73h1.72v1.35h-1.72zM621.3 308.69h1.72v1.35h-1.72zM623.02 272.12h1.72v1.35h-1.72zM645.33 263.99h1.72v1.35h-1.72zM647.05 265.35h1.72v1.35h-1.72zM669.36 293.79h1.72v1.35h-1.72zM671.07 295.15h1.72v1.35h-1.72zM672.79 296.5h1.72v1.35h-1.72zM672.79 300.56h1.72v1.35h-1.72z"/>
<path fill="#585858" d="M605.86 277.54h1.72v1.35h-1.72zM605.86 291.08h1.72v1.35h-1.72zM609.29 268.06h1.72v1.35h-1.72zM624.73 300.56h1.72v1.35h-1.72zM660.78 295.15h1.72v1.35h-1.72zM660.78 300.56h1.72v1.35h-1.72zM662.49 293.79h1.72v1.35h-1.72z"/>
<path fill="#5a5a5a" d="M616.15 272.12h1.72v1.35h-1.72zM621.3 301.92h1.72v1.35h-1.72zM623.02 310.05h1.72v1.35h-1.72zM641.9 307.34h1.72v1.35h-1.72zM660.78 296.5h1.72v1.35h-1.72zM667.64 301.92h1.72v1.35h-1.72z"/>
<path fill="#5c5c5c" d="M611 269.41h1.72v1.35h-1.72zM617.87 274.83h1.72v1.35h-1.72zM619.59 272.12h1.72v1.35h-1.72zM626.45 285.67h1.72v1.35h-1.72zM626.45 289.73h1.72v1.35h-1.72zM665.92 295.15h1.72v1.35h-1.72z"/>
<path fill="#5e5e5e" d="M616.15 280.25h1.72v1.35h-1.72zM616.15 284.31h1.72v1.35h-1.72zM629.88 295.15h1.72v1.35h-1.72zM633.32 304.63h1.72v1.35h-1.72zM641.9 308.69h1.72v1.35h-1.72zM662.49 297.86h1.72v1.35h-1.72zM669.36 299.21h1.72v1.35h-1.72zM676.22 284.31h1.72v1.35h-1.72z"/>
<path fill="#606060" d="M614.44 263.99h1.72v1.35h-1.72zM623.02 292.44h1.72v1.35h-1.72zM626.45 292.44h1.72v1.35h-1.72zM633.32 310.05h1.72v1.35h-1.72zM665.92 299.21h1.72v1.35h-1.72z"/>
<path fill="#626262" d="M616.15 276.18h1.72v1.35h-1.72zM621.3 292.44h1.72v1.35h-1.72zM621.3 305.98h1.72v1.35h-1.72zM624.73 274.83h1.72v1.35h-1.72zM672.79 278.89h1.72v1.35h-1.72z"/>
<path fill="#646464" d="M626.45 295.15h1.72v1.35h-1.72zM672.79 281.6h1.72v1.35h-1.72z"/>
<path fill="#666666" d="M611 301.92h1.72v1.35h-1.72zM611 305.98h1.72v1.35h-1.72zM617.87 284.31h1.72v1.35h-1.72zM621.3 281.6h1.72v1.35h-1.72z"/>
<path fill="#686868" d="M612.72 293.79h1.72v1.35h-1.72zM612.72 296.5h1.72v1.35h-1.72zM621.3 285.67h1.72v1.35h-1.72zM636.75 308.69h1.72v1.35h-1.72z"/>
<path fill="#6a6a6a" d="M612.72 269.41h1.72v1.35h-1.72zM612.72 295.15h1.72v1.35h-1.72zM614.44 265.35h1.72v1.35h-1.72zM616.15 310.05h1.72v1.35h-1.72zM619.59 266.7h1.72v1.35h-1.72zM621.3 272.12h1.72v1.35h-1.72zM631.6 300.56h1.72v1.35h-1.72zM635.03 303.27h1.72v1.35h-1.72z"/>
<path fill="#6c6c6c" d="M607.57 287.02h1.72v1.35h-1.72zM619.59 301.92h1.72v1.35h-1.72zM621.3 295.15h1.72v1.35h-1.72zM626.45 281.6h1.72v1.35h-1.72zM629.88 300.56h1.72v1.35h-1.72z"/>
<path fill="#6e6e6e" d="M609.29 276.18h1.72v1.35h-1.72zM624.73 304.63h1.72v2.71h-1.72zM624.73 308.69h1.72v1.35h-1.72zM629.88 301.92h1.72v1.35h-1.72zM629.88 310.05h1.72v1.35h-1.72z"/>
<path fill="#707070" d="M619.59 287.02h1.72v1.35h-1.72zM624.73 289.73h1.72v1.35h-1.72zM626.45 297.86h1.72v1.35h-1.72zM626.45 305.98h1.72v1.35h-1.72zM629.88 305.98h1.72v1.35h-1.72z"/>
<path fill="#727272" d="M609.29 287.02h1.72v1.35h-1.72zM611 281.6h1.72v2.71h-1.72zM612.72 284.31h1.72v2.71h-1.72zM612.72 288.37h1.72v1.35h-1.72zM616.15 307.34h1.72v1.35h-1.72zM624.73 292.44h1.72v1.35h-1.72z"/>
<path fill="#747474" d="M609.29 280.25h1.72v1.35h-1.72zM609.29 282.96h1.72v1.35h-1.72zM611 288.37h1.72v1.35h-1.72zM614.44 300.56h1.72v1.35h-1.72zM619.59 293.79h1.72v1.35h-1.72zM623.02 277.54h1.72v1.35h-1.72z"/>
<path fill="#767676" d="M614.44 276.18h1.72v1.35h-1.72zM619.59 297.86h1.72v1.35h-1.72zM621.3 304.63h1.72v1.35h-1.72zM623.02 301.92h1.72v1.35h-1.72z"/>
<path fill="#787878" d="M614.44 280.25h1.72v1.35h-1.72zM614.44 297.86h1.72v1.35h-1.72z"/>
<path fill="#7a7a7a" d="M614.44 296.5h1.72v1.35h-1.72zM614.44 304.63h1.72v1.35h-1.72zM621.3 299.21h1.72v2.71h-1.72zM628.17 304.63h1.72v2.71h-1.72z"/>
<path fill="#7c7c7c" d="M614.44 291.08h1.72v1.35h-1.72zM623.02 297.86h1.72v1.35h-1.72z"/>
<path fill="#7e7e7e" d="M612.72 278.89h1.72v2.71h-1.72zM616.15 278.89h1.72v1.35h-1.72zM621.3 288.37h1.72v1.35h-1.72z"/>
<path fill="#818181" d="M612.72 270.77h1.72v1.35h-1.72zM612.72 299.21h1.72v1.35h-1.72zM619.59 305.98h1.72v1.35h-1.72z"/>
<path fill="#838383" d="M612.72 281.6h1.72v1.35h-1.72zM612.72 297.86h1.72v1.35h-1.72zM617.87 297.86h1.72v1.35h-1.72zM619.59 304.63h1.72v1.35h-1.72z"/>
<path fill="#878787" d="M619.59 303.27h1.72v1.35h-1.72z"/>
<path fill="#898989" d="M611 295.15h1.72v1.35h-1.72z"/>
<path fill="#8b8b8b" d="M611 292.44h1.72v2.71h-1.72zM612.72 274.83h1.72v1.35h-1.72zM616.15 270.77h1.72v1.35h-1.72z"/>
<path fill="#8d8d8d" d="M612.72 276.18h1.72v1.35h-1.72zM619.59 299.21h1.72v1.35h-1.72z"/>
<path fill="#919191" d="M614.44 274.83h1.72v1.35h-1.72zM614.44 282.96h1.72v4.06h-1.72zM616.15 273.48h1.72v1.35h-1.72z"/>
<path fill="#939393" d="M616.15 297.86h1.72v1.35h-1.72z"/>
<path fill="#959595" d="M614.44 289.73h1.72v1.35h-1.72z"/>
<path fill="#979797" d="M614.44 292.44h1.72v1.35h-1.72z"/>
</g>
<rect x="0" y="0" width="137.3" height="121.9" fill="url(#grid)" transform="translate(594.8 189.9)"/>
<rect x="594.8" y="189.9" width="137.3" height="121.9" fill="none" stroke="#808080" stroke-width="1"/>
<text x="594.8" y="320.1" font-size="5.3" text-anchor="middle" font-family="'DejaVu Sans', 'Liberation Sans', sans-serif" fill="#262626" stroke="#262626" stroke-width=".14">−0.5</text>
<text x="611.96" y="320.1" font-size="5.3" text-anchor="middle" font-family="'DejaVu Sans', 'Liberation Sans', sans-serif" fill="#262626" stroke="#262626" stroke-width=".14">0.0</text>
<text x="629.12" y="320.1" font-size="5.3" text-anchor="middle" font-family="'DejaVu Sans', 'Liberation Sans', sans-serif" fill="#262626" stroke="#262626" stroke-width=".14">0.5</text>
<text x="646.29" y="320.1" font-size="5.3" text-anchor="middle" font-family="'DejaVu Sans', 'Liberation Sans', sans-serif" fill="#262626" stroke="#262626" stroke-width=".14">1.0</text>
<text x="663.45" y="320.1" font-size="5.3" text-anchor="middle" font-family="'DejaVu Sans', 'Liberation Sans', sans-serif" fill="#262626" stroke="#262626" stroke-width=".14">1.5</text>
<text x="680.61" y="320.1" font-size="5.3" text-anchor="middle" font-family="'DejaVu Sans', 'Liberation Sans', sans-serif" fill="#262626" stroke="#262626" stroke-width=".14">2.0</text>
<text x="697.77" y="320.1" font-size="5.3" text-anchor="middle" font-family="'DejaVu Sans', 'Liberation Sans', sans-serif" fill="#262626" stroke="#262626" stroke-width=".14">2.5</text>
<text x="714.94" y="320.1" font-size="5.3" text-anchor="middle" font-family="'DejaVu Sans', 'Liberation Sans', sans-serif" fill="#262626" stroke="#262626" stroke-width=".14">3.0</text>
<text x="732.1" y="320.1" font-size="5.3" text-anchor="middle" font-family="'DejaVu Sans', 'Liberation Sans', sans-serif" fill="#262626" stroke="#262626" stroke-width=".14">3.5</text>
<text x="590.9" y="192.75" font-size="5.3" text-anchor="end" font-family="'DejaVu Sans', 'Liberation Sans', sans-serif" fill="#262626" stroke="#262626" stroke-width=".14">18</text>
<text x="590.9" y="206.29" font-size="5.3" text-anchor="end" font-family="'DejaVu Sans', 'Liberation Sans', sans-serif" fill="#262626" stroke="#262626" stroke-width=".14">19</text>
<text x="590.9" y="219.84" font-size="5.3" text-anchor="end" font-family="'DejaVu Sans', 'Liberation Sans', sans-serif" fill="#262626" stroke="#262626" stroke-width=".14">20</text>
<text x="590.9" y="233.38" font-size="5.3" text-anchor="end" font-family="'DejaVu Sans', 'Liberation Sans', sans-serif" fill="#262626" stroke="#262626" stroke-width=".14">21</text>
<text x="590.9" y="246.93" font-size="5.3" text-anchor="end" font-family="'DejaVu Sans', 'Liberation Sans', sans-serif" fill="#262626" stroke="#262626" stroke-width=".14">22</text>
<text x="590.9" y="260.47" font-size="5.3" text-anchor="end" font-family="'DejaVu Sans', 'Liberation Sans', sans-serif" fill="#262626" stroke="#262626" stroke-width=".14">23</text>
<text x="590.9" y="274.02" font-size="5.3" text-anchor="end" font-family="'DejaVu Sans', 'Liberation Sans', sans-serif" fill="#262626" stroke="#262626" stroke-width=".14">24</text>
<text x="590.9" y="287.56" font-size="5.3" text-anchor="end" font-family="'DejaVu Sans', 'Liberation Sans', sans-serif" fill="#262626" stroke="#262626" stroke-width=".14">25</text>
<text x="590.9" y="301.11" font-size="5.3" text-anchor="end" font-family="'DejaVu Sans', 'Liberation Sans', sans-serif" fill="#262626" stroke="#262626" stroke-width=".14">26</text>
<text x="590.9" y="314.65" font-size="5.3" text-anchor="end" font-family="'DejaVu Sans', 'Liberation Sans', sans-serif" fill="#262626" stroke="#262626" stroke-width=".14">27</text>
<path d="M594.8 311.8v2.1M611.96 311.8v2.1M629.12 311.8v2.1M646.29 311.8v2.1M663.45 311.8v2.1M680.61 311.8v2.1M697.77 311.8v2.1M714.94 311.8v2.1M732.1 311.8v2.1M594.8 189.9h-2.1M594.8 203.44h-2.1M594.8 216.99h-2.1M594.8 230.53h-2.1M594.8 244.08h-2.1M594.8 257.62h-2.1M594.8 271.17h-2.1M594.8 284.71h-2.1M594.8 298.26h-2.1M594.8 311.8h-2.1" stroke="#585858" stroke-width=".6" fill="none"/>
<text x="663.45" y="187" font-size="9.4" text-anchor="middle" font-family="'DejaVu Sans', 'Liberation Sans', sans-serif" fill="#262626" stroke="#262626" stroke-width=".14">Significance of Residual</text>
<text x="663.45" y="328.8" font-size="8.4" text-anchor="middle" font-family="'DejaVu Sans', 'Liberation Sans', sans-serif" fill="#262626" stroke="#262626" stroke-width=".14">F475W-F814W</text>
<text transform="translate(581.4 250.85) rotate(-90)" font-size="8.0" text-anchor="middle" font-family="'DejaVu Sans', 'Liberation Sans', sans-serif" fill="#262626" stroke="#262626" stroke-width=".14">F475W</text>
<rect x="740.55" y="189.9" width="6.3" height="121.9" fill="url(#cb)" stroke="#585858" stroke-width=".5"/>
<text x="750.45" y="300.48" font-size="5.3" text-anchor="start" font-family="'DejaVu Sans', 'Liberation Sans', sans-serif" fill="#262626" stroke="#262626" stroke-width=".14">−1</text>
<text x="750.45" y="277.82" font-size="5.3" text-anchor="start" font-family="'DejaVu Sans', 'Liberation Sans', sans-serif" fill="#262626" stroke="#262626" stroke-width=".14">0</text>
<text x="750.45" y="255.16" font-size="5.3" text-anchor="start" font-family="'DejaVu Sans', 'Liberation Sans', sans-serif" fill="#262626" stroke="#262626" stroke-width=".14">1</text>
<text x="750.45" y="232.5" font-size="5.3" text-anchor="start" font-family="'DejaVu Sans', 'Liberation Sans', sans-serif" fill="#262626" stroke="#262626" stroke-width=".14">2</text>
<text x="750.45" y="209.85" font-size="5.3" text-anchor="start" font-family="'DejaVu Sans', 'Liberation Sans', sans-serif" fill="#262626" stroke="#262626" stroke-width=".14">3</text>
<path d="M746.85 297.98h2.1M746.85 275.32h2.1M746.85 252.66h2.1M746.85 230h2.1M746.85 207.35h2.1" stroke="#585858" stroke-width=".6" fill="none"/>
</g>
</svg>
</body></html>
